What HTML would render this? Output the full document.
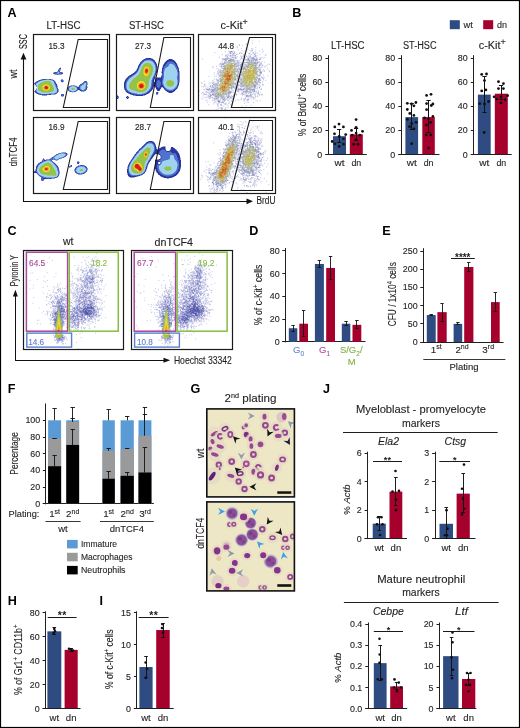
<!DOCTYPE html><html><head><meta charset="utf-8"><style>html,body{margin:0;padding:0;background:#fff;}svg{display:block;will-change:transform;}</style></head><body><svg width="520" height="728" viewBox="0 0 520 728" font-family='"Liberation Sans", sans-serif' fill="#231f20"><defs><clipPath id="a00"><rect x="33.5" y="34.5" width="76.0" height="76.0"/></clipPath><filter id="bl35" x="-10%" y="-10%" width="120%" height="120%"><feGaussianBlur stdDeviation="0.35"/></filter><clipPath id="a01"><rect x="33.5" y="117.5" width="76.0" height="76.0"/></clipPath><clipPath id="a10"><rect x="116.5" y="34.5" width="77.0" height="76.0"/></clipPath><clipPath id="a11"><rect x="116.5" y="117.5" width="77.0" height="76.0"/></clipPath><clipPath id="a20"><rect x="198.5" y="34.5" width="77.0" height="76.0"/></clipPath><clipPath id="a21"><rect x="198.5" y="117.5" width="77.0" height="76.0"/></clipPath><clipPath id="c0"><rect x="23.8" y="250.3" width="99.4" height="99.1"/></clipPath><clipPath id="c1"><rect x="131.6" y="250.3" width="100.6" height="99.0"/></clipPath><filter id="gblur" x="-20%" y="-20%" width="140%" height="140%"><feGaussianBlur stdDeviation="0.45"/></filter><filter id="gblur2" x="-30%" y="-30%" width="160%" height="160%"><feGaussianBlur stdDeviation="1.0"/></filter><clipPath id="g0"><rect x="206.8" y="408.9" width="87.6" height="88.0"/></clipPath><clipPath id="g1"><rect x="206.8" y="501.9" width="87.6" height="89.0"/></clipPath></defs><rect x="0" y="0" width="520" height="728" fill="#fff"/><text x="7.6" y="16.8" font-size="12.6" fill="#000" font-weight="bold">A</text><text x="63.5" y="29.3" font-size="10" stroke="#231f20" stroke-width="0.12" text-anchor="middle" textLength="34" lengthAdjust="spacingAndGlyphs">LT-HSC</text><text x="146.5" y="29.3" font-size="10" stroke="#231f20" stroke-width="0.12" text-anchor="middle" textLength="35" lengthAdjust="spacingAndGlyphs">ST-HSC</text><text x="220.6" y="28.9" font-size="10.4" stroke="#231f20" stroke-width="0.12" textLength="27.2" lengthAdjust="spacingAndGlyphs">c-Kit<tspan font-size="8.5" dy="-3.6">+</tspan></text><line x1="23.5" y1="58" x2="23.5" y2="201.8" stroke="#111" stroke-width="1.1"/><line x1="23" y1="201.5" x2="249" y2="201.5" stroke="#111" stroke-width="1.1"/><path d="M23.5 52.8 L20.6 59.5 L26.4 59.5 Z" fill="#111"/><path d="M253 201.3 L246.5 198.4 L246.5 204.2 Z" fill="#111"/><text x="27" y="34" font-size="10.5" stroke="#111" stroke-width="0.12" text-anchor="end" fill="#111" textLength="15" lengthAdjust="spacingAndGlyphs" transform="rotate(-90 27 34)">SSC</text><text x="17.3" y="78.5" font-size="10" stroke="#231f20" stroke-width="0.12" textLength="9" lengthAdjust="spacingAndGlyphs" transform="rotate(-90 17.3 78.5)">wt</text><text x="17.3" y="166.2" font-size="10" stroke="#231f20" stroke-width="0.12" textLength="28.6" lengthAdjust="spacingAndGlyphs" transform="rotate(-90 17.3 166.2)">dnTCF4</text><text x="256.5" y="204.2" font-size="10" stroke="#231f20" stroke-width="0.12" textLength="19" lengthAdjust="spacingAndGlyphs">BrdU</text><g clip-path="url(#a00)"><g filter="url(#bl35)"><path d="M60.00 67.50h0.50v0.5h-0.50zM59.50 68.00h1.50v0.5h-1.50zM59.00 68.50h2.00v0.5h-2.00zM58.50 69.00h2.00v0.5h-2.00zM58.50 69.50h2.00v0.5h-2.00zM58.00 70.00h2.50v0.5h-2.50zM58.00 70.50h2.00v0.5h-2.00zM58.00 71.00h2.00v0.5h-2.00zM57.00 71.50h3.00v0.5h-3.00zM54.50 72.00h7.00v0.5h-7.00zM53.50 72.50h9.50v0.5h-9.50zM53.00 73.00h10.00v0.5h-10.00zM53.50 73.50h9.50v0.5h-9.50zM54.50 74.00h7.50v0.5h-7.50zM57.50 74.50h0.50v0.5h-0.50zM42.50 79.00h8.50v0.5h-8.50zM40.50 79.50h12.50v0.5h-12.50zM61.00 79.50h2.00v0.5h-2.00zM39.00 80.00h15.00v0.5h-15.00zM61.00 80.00h2.50v0.5h-2.50zM38.00 80.50h16.50v0.5h-16.50zM60.50 80.50h3.00v0.5h-3.00zM37.00 81.00h18.00v0.5h-18.00zM61.00 81.00h2.50v0.5h-2.50zM84.50 81.00h2.00v0.5h-2.00zM36.00 81.50h19.50v0.5h-19.50zM61.00 81.50h2.50v0.5h-2.50zM84.00 81.50h3.00v0.5h-3.00zM35.50 82.00h20.00v0.5h-20.00zM62.00 82.00h0.50v0.5h-0.50zM83.50 82.00h3.50v0.5h-3.50zM35.00 82.50h21.00v0.5h-21.00zM83.00 82.50h4.50v0.5h-4.50zM34.50 83.00h21.50v0.5h-21.50zM82.50 83.00h5.00v0.5h-5.00zM34.00 83.50h22.50v0.5h-22.50zM81.50 83.50h6.00v0.5h-6.00zM34.50 84.00h22.50v0.5h-22.50zM80.50 84.00h7.00v0.5h-7.00zM35.00 84.50h22.00v0.5h-22.00zM80.00 84.50h7.50v0.5h-7.50zM35.50 85.00h21.50v0.5h-21.50zM79.50 85.00h7.50v0.5h-7.50zM36.00 85.50h21.50v0.5h-21.50zM70.50 85.50h5.00v0.5h-5.00zM79.00 85.50h8.00v0.5h-8.00zM36.50 86.00h21.00v0.5h-21.00zM69.50 86.00h7.00v0.5h-7.00zM79.00 86.00h8.00v0.5h-8.00zM36.50 86.50h21.00v0.5h-21.00zM68.50 86.50h9.00v0.5h-9.00zM78.50 86.50h9.00v0.5h-9.00zM37.00 87.00h20.50v0.5h-20.50zM68.50 87.00h19.00v0.5h-19.00zM37.00 87.50h20.50v0.5h-20.50zM68.00 87.50h19.50v0.5h-19.50zM37.00 88.00h21.00v0.5h-21.00zM68.00 88.00h19.00v0.5h-19.00zM36.50 88.50h21.50v0.5h-21.50zM67.50 88.50h19.50v0.5h-19.50zM36.50 89.00h22.00v0.5h-22.00zM68.00 89.00h19.00v0.5h-19.00zM36.00 89.50h22.50v0.5h-22.50zM68.00 89.50h18.50v0.5h-18.50zM35.50 90.00h23.00v0.5h-23.00zM68.00 90.00h10.00v0.5h-10.00zM79.50 90.00h6.50v0.5h-6.50zM35.00 90.50h23.50v0.5h-23.50zM68.50 90.50h8.50v0.5h-8.50zM80.00 90.50h5.50v0.5h-5.50zM34.50 91.00h24.00v0.5h-24.00zM69.00 91.00h7.50v0.5h-7.50zM81.00 91.00h3.50v0.5h-3.50zM34.50 91.50h24.00v0.5h-24.00zM70.00 91.50h5.50v0.5h-5.50zM35.00 92.00h23.00v0.5h-23.00zM72.50 92.00h1.00v0.5h-1.00zM35.50 92.50h22.00v0.5h-22.00zM36.00 93.00h21.00v0.5h-21.00zM37.00 93.50h19.50v0.5h-19.50zM38.00 94.00h17.50v0.5h-17.50zM61.50 94.00h2.00v0.5h-2.00zM39.50 94.50h11.50v0.5h-11.50zM61.00 94.50h3.00v0.5h-3.00zM42.00 95.00h5.00v0.5h-5.00zM61.00 95.00h3.00v0.5h-3.00zM61.00 95.50h3.00v0.5h-3.00zM61.50 96.00h2.00v0.5h-2.00z" fill="#2a34a0"/><path d="M59.50 68.50h0.50v0.5h-0.50zM59.00 69.00h1.00v0.5h-1.00zM59.00 69.50h1.00v0.5h-1.00zM58.50 70.00h1.50v0.5h-1.50zM58.50 70.50h1.50v0.5h-1.50zM58.00 71.00h1.50v0.5h-1.50zM58.00 71.50h1.50v0.5h-1.50zM57.00 72.00h3.00v0.5h-3.00zM55.50 72.50h5.50v0.5h-5.50zM54.50 73.00h7.00v0.5h-7.00zM55.00 73.50h6.50v0.5h-6.50zM57.00 74.00h2.50v0.5h-2.50zM43.50 79.50h8.00v0.5h-8.00zM41.00 80.00h12.00v0.5h-12.00zM61.50 80.00h1.50v0.5h-1.50zM39.50 80.50h14.00v0.5h-14.00zM61.50 80.50h1.50v0.5h-1.50zM38.50 81.00h15.50v0.5h-15.50zM61.50 81.00h1.50v0.5h-1.50zM37.50 81.50h17.00v0.5h-17.00zM85.00 81.50h1.00v0.5h-1.00zM37.00 82.00h17.50v0.5h-17.50zM84.00 82.00h2.50v0.5h-2.50zM36.00 82.50h19.00v0.5h-19.00zM84.00 82.50h3.00v0.5h-3.00zM35.50 83.00h19.50v0.5h-19.50zM83.50 83.00h3.50v0.5h-3.50zM35.50 83.50h20.00v0.5h-20.00zM83.00 83.50h4.00v0.5h-4.00zM35.50 84.00h20.00v0.5h-20.00zM82.00 84.00h5.00v0.5h-5.00zM35.50 84.50h20.50v0.5h-20.50zM81.00 84.50h6.00v0.5h-6.00zM36.00 85.00h20.00v0.5h-20.00zM80.50 85.00h6.00v0.5h-6.00zM36.50 85.50h20.00v0.5h-20.00zM80.00 85.50h6.50v0.5h-6.50zM36.50 86.00h20.00v0.5h-20.00zM70.50 86.00h5.00v0.5h-5.00zM79.50 86.00h7.00v0.5h-7.00zM37.00 86.50h19.50v0.5h-19.50zM69.50 86.50h6.50v0.5h-6.50zM79.50 86.50h7.00v0.5h-7.00zM37.00 87.00h19.50v0.5h-19.50zM69.00 87.00h8.00v0.5h-8.00zM79.50 87.00h7.00v0.5h-7.00zM37.00 87.50h20.00v0.5h-20.00zM68.50 87.50h9.00v0.5h-9.00zM79.50 87.50h7.00v0.5h-7.00zM37.00 88.00h20.00v0.5h-20.00zM68.50 88.00h9.00v0.5h-9.00zM79.50 88.00h7.00v0.5h-7.00zM37.00 88.50h20.50v0.5h-20.50zM68.50 88.50h9.00v0.5h-9.00zM79.50 88.50h6.50v0.5h-6.50zM36.50 89.00h21.00v0.5h-21.00zM68.50 89.00h9.00v0.5h-9.00zM80.00 89.00h6.00v0.5h-6.00zM36.50 89.50h21.00v0.5h-21.00zM68.50 89.50h9.00v0.5h-9.00zM80.00 89.50h5.50v0.5h-5.50zM36.00 90.00h21.50v0.5h-21.50zM69.00 90.00h8.00v0.5h-8.00zM81.00 90.00h4.00v0.5h-4.00zM35.50 90.50h22.00v0.5h-22.00zM69.50 90.50h7.00v0.5h-7.00zM82.00 90.50h2.00v0.5h-2.00zM35.50 91.00h22.00v0.5h-22.00zM70.50 91.00h5.00v0.5h-5.00zM36.00 91.50h21.50v0.5h-21.50zM72.00 91.50h2.00v0.5h-2.00zM36.50 92.00h20.50v0.5h-20.50zM37.00 92.50h20.00v0.5h-20.00zM38.00 93.00h18.00v0.5h-18.00zM39.00 93.50h16.00v0.5h-16.00zM40.50 94.00h9.00v0.5h-9.00zM62.00 94.50h1.00v0.5h-1.00zM61.50 95.00h2.00v0.5h-2.00zM62.00 95.50h1.00v0.5h-1.00z" fill="#4f73cc"/><path d="M58.00 72.00h1.00v0.5h-1.00zM57.50 72.50h1.50v0.5h-1.50zM57.50 73.00h1.50v0.5h-1.50zM46.50 79.50h2.50v0.5h-2.50zM43.50 80.00h8.00v0.5h-8.00zM41.50 80.50h11.00v0.5h-11.00zM40.00 81.00h13.50v0.5h-13.50zM39.00 81.50h14.50v0.5h-14.50zM38.00 82.00h16.00v0.5h-16.00zM37.50 82.50h16.50v0.5h-16.50zM36.50 83.00h17.50v0.5h-17.50zM84.50 83.00h1.50v0.5h-1.50zM36.50 83.50h18.00v0.5h-18.00zM84.00 83.50h2.00v0.5h-2.00zM36.00 84.00h18.50v0.5h-18.50zM83.50 84.00h2.50v0.5h-2.50zM36.00 84.50h19.00v0.5h-19.00zM83.50 84.50h2.50v0.5h-2.50zM36.50 85.00h18.50v0.5h-18.50zM82.00 85.00h4.00v0.5h-4.00zM36.50 85.50h19.00v0.5h-19.00zM81.50 85.50h4.00v0.5h-4.00zM37.00 86.00h18.50v0.5h-18.50zM72.00 86.00h1.50v0.5h-1.50zM81.00 86.00h4.50v0.5h-4.50zM37.00 86.50h18.50v0.5h-18.50zM70.50 86.50h5.00v0.5h-5.00zM80.50 86.50h5.00v0.5h-5.00zM37.00 87.00h19.00v0.5h-19.00zM70.00 87.00h6.00v0.5h-6.00zM80.50 87.00h5.00v0.5h-5.00zM37.00 87.50h19.00v0.5h-19.00zM69.50 87.50h7.00v0.5h-7.00zM80.50 87.50h5.00v0.5h-5.00zM37.00 88.00h19.50v0.5h-19.50zM69.00 88.00h8.00v0.5h-8.00zM80.50 88.00h5.00v0.5h-5.00zM37.00 88.50h19.50v0.5h-19.50zM69.00 88.50h8.00v0.5h-8.00zM80.50 88.50h4.50v0.5h-4.50zM37.00 89.00h19.50v0.5h-19.50zM69.00 89.00h8.00v0.5h-8.00zM81.00 89.00h3.50v0.5h-3.50zM36.50 89.50h20.50v0.5h-20.50zM69.50 89.50h7.00v0.5h-7.00zM82.00 89.50h2.00v0.5h-2.00zM36.50 90.00h20.50v0.5h-20.50zM69.50 90.00h6.50v0.5h-6.50zM36.50 90.50h20.50v0.5h-20.50zM70.50 90.50h5.00v0.5h-5.00zM36.50 91.00h20.50v0.5h-20.50zM71.50 91.00h2.50v0.5h-2.50zM37.00 91.50h19.50v0.5h-19.50zM37.50 92.00h19.00v0.5h-19.00zM38.50 92.50h17.00v0.5h-17.00zM39.50 93.00h15.00v0.5h-15.00zM41.00 93.50h8.00v0.5h-8.00z" fill="#9fd2f0"/><path d="M45.00 81.00h4.50v0.5h-4.50zM43.50 81.50h7.00v0.5h-7.00zM42.50 82.00h8.50v0.5h-8.50zM41.00 82.50h10.50v0.5h-10.50zM40.00 83.00h11.50v0.5h-11.50zM39.50 83.50h12.00v0.5h-12.00zM39.00 84.00h13.00v0.5h-13.00zM38.50 84.50h14.00v0.5h-14.00zM38.00 85.00h14.50v0.5h-14.50zM38.00 85.50h15.00v0.5h-15.00zM38.00 86.00h15.00v0.5h-15.00zM38.00 86.50h15.00v0.5h-15.00zM38.00 87.00h15.50v0.5h-15.50zM38.00 87.50h15.50v0.5h-15.50zM72.50 87.50h0.50v0.5h-0.50zM38.00 88.00h16.00v0.5h-16.00zM71.50 88.00h3.00v0.5h-3.00zM38.00 88.50h16.00v0.5h-16.00zM71.50 88.50h3.00v0.5h-3.00zM38.00 89.00h16.00v0.5h-16.00zM71.50 89.00h3.00v0.5h-3.00zM38.00 89.50h16.00v0.5h-16.00zM72.00 89.50h1.50v0.5h-1.50zM38.50 90.00h15.50v0.5h-15.50zM39.00 90.50h14.50v0.5h-14.50zM40.00 91.00h13.00v0.5h-13.00zM41.00 91.50h11.50v0.5h-11.50zM42.00 92.00h8.00v0.5h-8.00z" fill="#95c34a"/><path d="M44.50 84.50h3.50v0.5h-3.50zM43.50 85.00h5.00v0.5h-5.00zM43.00 85.50h6.00v0.5h-6.00zM42.50 86.00h7.00v0.5h-7.00zM42.50 86.50h7.50v0.5h-7.50zM42.50 87.00h7.50v0.5h-7.50zM42.50 87.50h7.50v0.5h-7.50zM42.50 88.00h7.50v0.5h-7.50zM42.50 88.50h7.50v0.5h-7.50zM43.00 89.00h6.50v0.5h-6.50zM43.50 89.50h5.50v0.5h-5.50zM44.50 90.00h3.50v0.5h-3.50z" fill="#efdf2a"/><path d="M44.50 85.50h3.50v0.5h-3.50zM44.00 86.00h4.50v0.5h-4.50zM44.00 86.50h4.50v0.5h-4.50zM43.50 87.00h5.50v0.5h-5.50zM43.50 87.50h5.50v0.5h-5.50zM43.50 88.00h5.50v0.5h-5.50zM44.00 88.50h4.50v0.5h-4.50zM44.50 89.00h3.50v0.5h-3.50zM45.50 89.50h1.50v0.5h-1.50z" fill="#f39a1e"/><path d="M45.50 86.00h1.50v0.5h-1.50zM45.00 86.50h2.50v0.5h-2.50zM44.50 87.00h3.50v0.5h-3.50zM44.50 87.50h3.50v0.5h-3.50zM44.50 88.00h3.50v0.5h-3.50zM45.00 88.50h2.50v0.5h-2.50z" fill="#dc1a1a"/></g></g><g clip-path="url(#a01)"><g filter="url(#bl35)"><path d="M61.50 152.50h4.50v0.5h-4.50zM59.50 153.00h7.50v0.5h-7.50zM58.00 153.50h9.50v0.5h-9.50zM56.50 154.00h11.00v0.5h-11.00zM56.00 154.50h11.50v0.5h-11.50zM55.00 155.00h12.00v0.5h-12.00zM54.50 155.50h12.00v0.5h-12.00zM54.00 156.00h12.00v0.5h-12.00zM53.00 156.50h12.50v0.5h-12.50zM52.00 157.00h12.50v0.5h-12.50zM51.50 157.50h12.00v0.5h-12.00zM51.00 158.00h11.00v0.5h-11.00zM43.00 158.50h1.00v0.5h-1.00zM50.00 158.50h10.00v0.5h-10.00zM43.00 159.00h1.50v0.5h-1.50zM49.50 159.00h9.50v0.5h-9.50zM42.50 159.50h2.00v0.5h-2.00zM46.00 159.50h7.00v0.5h-7.00zM54.50 159.50h3.50v0.5h-3.50zM42.50 160.00h9.50v0.5h-9.50zM55.50 160.00h2.00v0.5h-2.00zM42.00 160.50h10.00v0.5h-10.00zM42.00 161.00h10.50v0.5h-10.50zM41.00 161.50h12.00v0.5h-12.00zM77.00 161.50h2.00v0.5h-2.00zM40.00 162.00h13.50v0.5h-13.50zM77.00 162.00h2.50v0.5h-2.50zM39.50 162.50h15.00v0.5h-15.00zM77.00 162.50h2.50v0.5h-2.50zM38.50 163.00h16.50v0.5h-16.50zM77.00 163.00h2.00v0.5h-2.00zM38.00 163.50h17.50v0.5h-17.50zM77.50 163.50h1.50v0.5h-1.50zM37.50 164.00h18.50v0.5h-18.50zM37.50 164.50h19.00v0.5h-19.00zM37.00 165.00h20.00v0.5h-20.00zM71.00 165.00h1.00v0.5h-1.00zM80.00 165.00h3.50v0.5h-3.50zM36.50 165.50h21.00v0.5h-21.00zM70.00 165.50h2.00v0.5h-2.00zM78.00 165.50h7.00v0.5h-7.00zM36.50 166.00h21.50v0.5h-21.50zM69.50 166.00h2.50v0.5h-2.50zM77.50 166.00h8.50v0.5h-8.50zM36.00 166.50h22.00v0.5h-22.00zM69.00 166.50h2.50v0.5h-2.50zM76.50 166.50h10.00v0.5h-10.00zM36.00 167.00h22.50v0.5h-22.50zM69.00 167.00h1.50v0.5h-1.50zM76.00 167.00h11.00v0.5h-11.00zM36.00 167.50h22.50v0.5h-22.50zM75.50 167.50h11.50v0.5h-11.50zM36.00 168.00h22.50v0.5h-22.50zM75.00 168.00h12.50v0.5h-12.50zM36.00 168.50h23.00v0.5h-23.00zM75.00 168.50h12.50v0.5h-12.50zM35.50 169.00h23.50v0.5h-23.50zM74.50 169.00h13.00v0.5h-13.00zM35.50 169.50h23.50v0.5h-23.50zM74.50 169.50h13.00v0.5h-13.00zM35.50 170.00h23.50v0.5h-23.50zM74.50 170.00h13.00v0.5h-13.00zM35.50 170.50h24.00v0.5h-24.00zM74.50 170.50h12.50v0.5h-12.50zM33.50 171.00h26.00v0.5h-26.00zM74.50 171.00h12.50v0.5h-12.50zM33.50 171.50h26.00v0.5h-26.00zM75.00 171.50h11.50v0.5h-11.50zM33.50 172.00h26.00v0.5h-26.00zM75.00 172.00h11.00v0.5h-11.00zM33.50 172.50h26.00v0.5h-26.00zM75.50 172.50h10.00v0.5h-10.00zM36.50 173.00h23.00v0.5h-23.00zM76.00 173.00h9.00v0.5h-9.00zM37.00 173.50h22.50v0.5h-22.50zM77.00 173.50h7.00v0.5h-7.00zM37.50 174.00h22.00v0.5h-22.00zM78.00 174.00h4.50v0.5h-4.50zM38.00 174.50h21.00v0.5h-21.00zM38.50 175.00h20.50v0.5h-20.50zM39.00 175.50h19.50v0.5h-19.50zM39.50 176.00h19.00v0.5h-19.00zM40.50 176.50h17.50v0.5h-17.50zM41.00 177.00h16.50v0.5h-16.50zM41.50 177.50h15.00v0.5h-15.00zM41.50 178.00h13.50v0.5h-13.50zM41.00 178.50h10.50v0.5h-10.50zM41.00 179.00h3.50v0.5h-3.50zM41.00 179.50h3.00v0.5h-3.00zM41.00 180.00h3.00v0.5h-3.00zM42.00 180.50h1.00v0.5h-1.00z" fill="#2a34a0"/><path d="M60.50 153.00h5.00v0.5h-5.00zM59.00 153.50h7.50v0.5h-7.50zM57.50 154.00h9.00v0.5h-9.00zM56.50 154.50h10.00v0.5h-10.00zM55.50 155.00h11.00v0.5h-11.00zM55.00 155.50h11.00v0.5h-11.00zM54.50 156.00h11.00v0.5h-11.00zM54.00 156.50h10.50v0.5h-10.50zM53.00 157.00h10.50v0.5h-10.50zM52.00 157.50h10.50v0.5h-10.50zM51.50 158.00h9.50v0.5h-9.50zM51.00 158.50h8.00v0.5h-8.00zM50.50 159.00h2.50v0.5h-2.50zM54.50 159.00h4.00v0.5h-4.00zM43.00 159.50h1.00v0.5h-1.00zM49.50 159.50h2.50v0.5h-2.50zM55.50 159.50h2.00v0.5h-2.00zM43.00 160.00h1.00v0.5h-1.00zM46.00 160.00h5.50v0.5h-5.50zM43.00 160.50h1.00v0.5h-1.00zM45.00 160.50h6.50v0.5h-6.50zM42.50 161.00h9.50v0.5h-9.50zM42.00 161.50h10.50v0.5h-10.50zM41.50 162.00h11.50v0.5h-11.50zM77.50 162.00h1.00v0.5h-1.00zM40.50 162.50h13.00v0.5h-13.00zM77.50 162.50h1.00v0.5h-1.00zM40.00 163.00h14.00v0.5h-14.00zM39.00 163.50h15.50v0.5h-15.50zM38.50 164.00h16.50v0.5h-16.50zM38.00 164.50h17.50v0.5h-17.50zM38.00 165.00h18.00v0.5h-18.00zM37.50 165.50h19.00v0.5h-19.00zM71.00 165.50h0.50v0.5h-0.50zM80.00 165.50h3.00v0.5h-3.00zM37.50 166.00h19.50v0.5h-19.50zM70.00 166.00h1.00v0.5h-1.00zM78.50 166.00h6.00v0.5h-6.00zM37.00 166.50h20.00v0.5h-20.00zM70.00 166.50h0.50v0.5h-0.50zM77.50 166.50h8.00v0.5h-8.00zM37.00 167.00h20.50v0.5h-20.50zM77.00 167.00h9.00v0.5h-9.00zM36.50 167.50h21.00v0.5h-21.00zM76.50 167.50h10.00v0.5h-10.00zM36.50 168.00h21.50v0.5h-21.50zM76.00 168.00h10.50v0.5h-10.50zM36.50 168.50h21.50v0.5h-21.50zM75.50 168.50h11.50v0.5h-11.50zM36.50 169.00h21.50v0.5h-21.50zM75.50 169.00h11.50v0.5h-11.50zM36.50 169.50h22.00v0.5h-22.00zM75.50 169.50h11.50v0.5h-11.50zM36.50 170.00h22.00v0.5h-22.00zM75.00 170.00h12.00v0.5h-12.00zM36.50 170.50h22.00v0.5h-22.00zM75.00 170.50h11.50v0.5h-11.50zM36.00 171.00h22.50v0.5h-22.50zM75.50 171.00h10.50v0.5h-10.50zM33.50 171.50h1.50v0.5h-1.50zM36.00 171.50h23.00v0.5h-23.00zM75.50 171.50h10.50v0.5h-10.50zM33.50 172.00h1.00v0.5h-1.00zM36.50 172.00h22.50v0.5h-22.50zM76.00 172.00h9.50v0.5h-9.50zM37.00 172.50h22.00v0.5h-22.00zM76.50 172.50h8.00v0.5h-8.00zM37.00 173.00h22.00v0.5h-22.00zM77.00 173.00h6.50v0.5h-6.50zM37.50 173.50h21.50v0.5h-21.50zM78.50 173.50h4.00v0.5h-4.00zM38.00 174.00h20.50v0.5h-20.50zM38.50 174.50h20.00v0.5h-20.00zM39.00 175.00h19.50v0.5h-19.50zM40.00 175.50h18.00v0.5h-18.00zM41.00 176.00h16.50v0.5h-16.50zM41.50 176.50h15.50v0.5h-15.50zM42.50 177.00h14.00v0.5h-14.00zM43.00 177.50h12.00v0.5h-12.00zM42.50 178.00h0.50v0.5h-0.50zM47.00 178.00h3.50v0.5h-3.50zM42.00 178.50h1.50v0.5h-1.50zM41.50 179.00h2.00v0.5h-2.00zM41.50 179.50h2.00v0.5h-2.00zM42.00 180.00h1.00v0.5h-1.00z" fill="#4f73cc"/><path d="M60.50 153.50h4.00v0.5h-4.00zM59.00 154.00h6.50v0.5h-6.50zM58.00 154.50h7.50v0.5h-7.50zM57.00 155.00h8.00v0.5h-8.00zM56.00 155.50h9.00v0.5h-9.00zM55.50 156.00h8.50v0.5h-8.50zM55.00 156.50h8.50v0.5h-8.50zM54.50 157.00h8.00v0.5h-8.00zM54.00 157.50h6.50v0.5h-6.50zM54.50 158.00h4.50v0.5h-4.50zM55.00 158.50h3.50v0.5h-3.50zM55.50 159.00h2.00v0.5h-2.00zM47.00 160.50h3.00v0.5h-3.00zM45.50 161.00h5.00v0.5h-5.00zM44.50 161.50h7.00v0.5h-7.00zM43.50 162.00h8.50v0.5h-8.50zM42.50 162.50h10.00v0.5h-10.00zM41.50 163.00h11.50v0.5h-11.50zM41.00 163.50h12.50v0.5h-12.50zM40.00 164.00h14.00v0.5h-14.00zM39.50 164.50h15.00v0.5h-15.00zM39.00 165.00h16.00v0.5h-16.00zM38.50 165.50h17.00v0.5h-17.00zM38.50 166.00h17.00v0.5h-17.00zM38.00 166.50h18.00v0.5h-18.00zM79.50 166.50h4.00v0.5h-4.00zM38.00 167.00h18.50v0.5h-18.50zM78.50 167.00h6.00v0.5h-6.00zM37.50 167.50h19.00v0.5h-19.00zM77.50 167.50h7.50v0.5h-7.50zM37.50 168.00h19.50v0.5h-19.50zM77.00 168.00h8.50v0.5h-8.50zM37.50 168.50h19.50v0.5h-19.50zM76.50 168.50h9.50v0.5h-9.50zM37.00 169.00h20.00v0.5h-20.00zM76.50 169.00h9.50v0.5h-9.50zM37.00 169.50h20.50v0.5h-20.50zM76.50 169.50h9.50v0.5h-9.50zM37.00 170.00h20.50v0.5h-20.50zM76.00 170.00h10.00v0.5h-10.00zM37.00 170.50h20.50v0.5h-20.50zM76.00 170.50h9.50v0.5h-9.50zM37.00 171.00h21.00v0.5h-21.00zM76.50 171.00h8.50v0.5h-8.50zM37.50 171.50h20.50v0.5h-20.50zM76.50 171.50h8.00v0.5h-8.00zM37.50 172.00h20.50v0.5h-20.50zM77.00 172.00h7.00v0.5h-7.00zM38.00 172.50h20.00v0.5h-20.00zM78.00 172.50h5.00v0.5h-5.00zM38.00 173.00h20.00v0.5h-20.00zM80.00 173.00h1.00v0.5h-1.00zM38.50 173.50h19.50v0.5h-19.50zM39.00 174.00h19.00v0.5h-19.00zM39.50 174.50h18.50v0.5h-18.50zM40.50 175.00h17.00v0.5h-17.00zM41.50 175.50h16.00v0.5h-16.00zM42.50 176.00h14.50v0.5h-14.50zM44.00 176.50h12.50v0.5h-12.50zM46.00 177.00h8.50v0.5h-8.50z" fill="#9fd2f0"/><path d="M46.50 162.50h2.50v0.5h-2.50zM45.50 163.00h4.50v0.5h-4.50zM44.50 163.50h6.50v0.5h-6.50zM44.00 164.00h7.50v0.5h-7.50zM43.00 164.50h8.50v0.5h-8.50zM42.50 165.00h9.50v0.5h-9.50zM41.50 165.50h11.00v0.5h-11.00zM41.00 166.00h11.50v0.5h-11.50zM40.50 166.50h12.50v0.5h-12.50zM40.00 167.00h13.50v0.5h-13.50zM40.00 167.50h13.50v0.5h-13.50zM39.50 168.00h14.50v0.5h-14.50zM39.50 168.50h14.50v0.5h-14.50zM39.00 169.00h15.50v0.5h-15.50zM81.00 169.00h1.50v0.5h-1.50zM39.00 169.50h15.50v0.5h-15.50zM80.00 169.50h3.00v0.5h-3.00zM39.00 170.00h16.00v0.5h-16.00zM79.50 170.00h3.50v0.5h-3.50zM39.00 170.50h16.50v0.5h-16.50zM80.00 170.50h2.50v0.5h-2.50zM39.50 171.00h16.00v0.5h-16.00zM39.50 171.50h16.00v0.5h-16.00zM40.00 172.00h16.00v0.5h-16.00zM40.00 172.50h16.00v0.5h-16.00zM40.50 173.00h15.50v0.5h-15.50zM41.50 173.50h14.50v0.5h-14.50zM42.50 174.00h13.50v0.5h-13.50zM44.50 174.50h12.00v0.5h-12.00zM47.00 175.00h9.00v0.5h-9.00zM54.50 175.50h1.00v0.5h-1.00z" fill="#95c34a"/><path d="M45.50 166.00h3.00v0.5h-3.00zM44.50 166.50h4.50v0.5h-4.50zM44.00 167.00h5.50v0.5h-5.50zM43.50 167.50h6.00v0.5h-6.00zM43.00 168.00h7.00v0.5h-7.00zM42.50 168.50h7.50v0.5h-7.50zM42.50 169.00h7.50v0.5h-7.50zM42.50 169.50h7.50v0.5h-7.50zM43.00 170.00h6.50v0.5h-6.50zM43.00 170.50h6.50v0.5h-6.50zM43.50 171.00h5.50v0.5h-5.50zM44.50 171.50h3.50v0.5h-3.50z" fill="#efdf2a"/><path d="M45.00 167.00h3.00v0.5h-3.00zM44.50 167.50h4.00v0.5h-4.00zM44.00 168.00h4.50v0.5h-4.50zM44.00 168.50h5.00v0.5h-5.00zM44.00 169.00h5.00v0.5h-5.00zM44.00 169.50h4.50v0.5h-4.50zM44.00 170.00h4.50v0.5h-4.50zM45.00 170.50h3.00v0.5h-3.00z" fill="#f39a1e"/><path d="M45.50 168.00h2.00v0.5h-2.00zM45.00 168.50h2.50v0.5h-2.50zM45.00 169.00h2.50v0.5h-2.50zM45.50 169.50h2.00v0.5h-2.00z" fill="#dc1a1a"/></g></g><g clip-path="url(#a10)"><g filter="url(#bl35)"><path d="M146.00 58.00h5.00v0.5h-5.00zM145.00 58.50h7.50v0.5h-7.50zM144.00 59.00h9.00v0.5h-9.00zM169.00 59.00h3.00v0.5h-3.00zM143.00 59.50h11.00v0.5h-11.00zM168.00 59.50h5.00v0.5h-5.00zM142.50 60.00h12.00v0.5h-12.00zM167.00 60.00h7.00v0.5h-7.00zM142.00 60.50h13.00v0.5h-13.00zM166.50 60.50h8.00v0.5h-8.00zM141.50 61.00h13.50v0.5h-13.50zM166.00 61.00h9.00v0.5h-9.00zM141.00 61.50h14.50v0.5h-14.50zM165.50 61.50h10.00v0.5h-10.00zM140.50 62.00h15.50v0.5h-15.50zM165.00 62.00h11.00v0.5h-11.00zM140.00 62.50h16.00v0.5h-16.00zM164.50 62.50h11.50v0.5h-11.50zM140.00 63.00h16.50v0.5h-16.50zM164.50 63.00h12.00v0.5h-12.00zM139.50 63.50h17.00v0.5h-17.00zM164.00 63.50h13.00v0.5h-13.00zM139.00 64.00h18.00v0.5h-18.00zM163.50 64.00h13.50v0.5h-13.50zM139.00 64.50h18.00v0.5h-18.00zM163.50 64.50h14.00v0.5h-14.00zM138.50 65.00h18.50v0.5h-18.50zM163.00 65.00h14.50v0.5h-14.50zM138.50 65.50h18.50v0.5h-18.50zM163.00 65.50h14.50v0.5h-14.50zM138.00 66.00h19.50v0.5h-19.50zM163.00 66.00h15.00v0.5h-15.00zM138.00 66.50h19.50v0.5h-19.50zM162.50 66.50h15.50v0.5h-15.50zM138.00 67.00h19.50v0.5h-19.50zM162.50 67.00h16.00v0.5h-16.00zM137.50 67.50h20.00v0.5h-20.00zM162.50 67.50h16.00v0.5h-16.00zM137.50 68.00h20.00v0.5h-20.00zM162.00 68.00h16.50v0.5h-16.50zM137.00 68.50h20.50v0.5h-20.50zM162.00 68.50h17.00v0.5h-17.00zM137.00 69.00h20.50v0.5h-20.50zM162.00 69.00h17.00v0.5h-17.00zM136.50 69.50h21.00v0.5h-21.00zM162.00 69.50h17.00v0.5h-17.00zM136.50 70.00h21.00v0.5h-21.00zM162.00 70.00h17.00v0.5h-17.00zM136.00 70.50h21.50v0.5h-21.50zM162.00 70.50h17.00v0.5h-17.00zM135.50 71.00h22.00v0.5h-22.00zM162.00 71.00h17.50v0.5h-17.50zM135.00 71.50h22.00v0.5h-22.00zM161.50 71.50h18.00v0.5h-18.00zM134.50 72.00h22.50v0.5h-22.50zM161.50 72.00h18.00v0.5h-18.00zM134.00 72.50h23.00v0.5h-23.00zM161.50 72.50h18.00v0.5h-18.00zM133.00 73.00h23.50v0.5h-23.50zM161.50 73.00h18.00v0.5h-18.00zM132.50 73.50h23.50v0.5h-23.50zM162.00 73.50h17.50v0.5h-17.50zM131.50 74.00h24.50v0.5h-24.50zM162.00 74.00h17.50v0.5h-17.50zM131.00 74.50h25.00v0.5h-25.00zM162.00 74.50h17.50v0.5h-17.50zM130.00 75.00h25.50v0.5h-25.50zM161.50 75.00h18.00v0.5h-18.00zM129.00 75.50h26.50v0.5h-26.50zM161.50 75.50h18.00v0.5h-18.00zM128.50 76.00h27.00v0.5h-27.00zM161.50 76.00h18.00v0.5h-18.00zM128.00 76.50h27.50v0.5h-27.50zM161.00 76.50h18.50v0.5h-18.50zM127.50 77.00h28.00v0.5h-28.00zM161.00 77.00h18.50v0.5h-18.50zM127.00 77.50h28.50v0.5h-28.50zM156.50 77.50h23.00v0.5h-23.00zM126.50 78.00h28.50v0.5h-28.50zM156.00 78.00h23.50v0.5h-23.50zM126.00 78.50h29.00v0.5h-29.00zM155.50 78.50h24.00v0.5h-24.00zM125.50 79.00h29.00v0.5h-29.00zM155.50 79.00h24.00v0.5h-24.00zM125.50 79.50h29.00v0.5h-29.00zM155.50 79.50h24.00v0.5h-24.00zM125.00 80.00h29.50v0.5h-29.50zM155.50 80.00h24.00v0.5h-24.00zM125.00 80.50h29.00v0.5h-29.00zM155.00 80.50h24.50v0.5h-24.50zM124.50 81.00h29.50v0.5h-29.50zM155.00 81.00h24.50v0.5h-24.50zM124.50 81.50h29.50v0.5h-29.50zM155.00 81.50h24.50v0.5h-24.50zM124.50 82.00h55.00v0.5h-55.00zM124.00 82.50h55.00v0.5h-55.00zM124.00 83.00h55.00v0.5h-55.00zM124.00 83.50h55.00v0.5h-55.00zM124.00 84.00h55.00v0.5h-55.00zM124.00 84.50h55.00v0.5h-55.00zM124.00 85.00h54.50v0.5h-54.50zM124.00 85.50h30.00v0.5h-30.00zM154.50 85.50h24.00v0.5h-24.00zM124.00 86.00h30.00v0.5h-30.00zM155.00 86.00h23.50v0.5h-23.50zM124.00 86.50h29.50v0.5h-29.50zM155.00 86.50h23.00v0.5h-23.00zM124.00 87.00h29.50v0.5h-29.50zM155.50 87.00h6.00v0.5h-6.00zM162.50 87.00h15.50v0.5h-15.50zM124.00 87.50h29.50v0.5h-29.50zM155.50 87.50h6.00v0.5h-6.00zM163.00 87.50h14.50v0.5h-14.50zM124.00 88.00h29.00v0.5h-29.00zM156.00 88.00h5.00v0.5h-5.00zM163.50 88.00h14.00v0.5h-14.00zM124.50 88.50h28.50v0.5h-28.50zM156.00 88.50h5.00v0.5h-5.00zM164.00 88.50h13.00v0.5h-13.00zM124.50 89.00h28.00v0.5h-28.00zM156.50 89.00h4.00v0.5h-4.00zM164.50 89.00h12.00v0.5h-12.00zM124.50 89.50h28.00v0.5h-28.00zM156.50 89.50h3.50v0.5h-3.50zM164.50 89.50h11.50v0.5h-11.50zM125.00 90.00h27.00v0.5h-27.00zM157.00 90.00h3.00v0.5h-3.00zM165.00 90.00h10.50v0.5h-10.50zM125.50 90.50h26.00v0.5h-26.00zM157.50 90.50h2.00v0.5h-2.00zM166.00 90.50h9.00v0.5h-9.00zM125.50 91.00h25.50v0.5h-25.50zM166.50 91.00h8.00v0.5h-8.00zM126.00 91.50h24.50v0.5h-24.50zM167.00 91.50h7.00v0.5h-7.00zM126.50 92.00h23.50v0.5h-23.50zM156.50 92.00h1.50v0.5h-1.50zM168.00 92.00h5.00v0.5h-5.00zM127.00 92.50h22.50v0.5h-22.50zM156.00 92.50h2.50v0.5h-2.50zM169.00 92.50h3.00v0.5h-3.00zM128.00 93.00h21.00v0.5h-21.00zM156.00 93.00h2.50v0.5h-2.50zM129.00 93.50h19.00v0.5h-19.00zM156.00 93.50h2.00v0.5h-2.00zM130.00 94.00h17.00v0.5h-17.00zM156.00 94.00h2.00v0.5h-2.00zM131.50 94.50h14.50v0.5h-14.50zM133.00 95.00h12.00v0.5h-12.00zM117.00 95.50h1.00v0.5h-1.00zM135.50 95.50h7.50v0.5h-7.50zM116.50 96.00h2.00v0.5h-2.00zM127.00 96.00h1.00v0.5h-1.00zM116.50 96.50h2.00v0.5h-2.00zM126.50 96.50h2.00v0.5h-2.00zM116.50 97.00h2.50v0.5h-2.50zM126.00 97.00h3.00v0.5h-3.00zM116.50 97.50h2.00v0.5h-2.00zM126.00 97.50h3.00v0.5h-3.00zM116.50 98.00h2.00v0.5h-2.00zM126.50 98.00h2.00v0.5h-2.00zM117.00 98.50h1.00v0.5h-1.00zM127.00 98.50h1.00v0.5h-1.00z" fill="#2a34a0"/><path d="M146.00 59.50h5.00v0.5h-5.00zM144.50 60.00h7.50v0.5h-7.50zM144.00 60.50h9.00v0.5h-9.00zM143.00 61.00h10.50v0.5h-10.50zM142.50 61.50h11.50v0.5h-11.50zM168.50 61.50h4.00v0.5h-4.00zM142.00 62.00h12.50v0.5h-12.50zM167.50 62.00h6.00v0.5h-6.00zM141.50 62.50h13.00v0.5h-13.00zM167.00 62.50h7.00v0.5h-7.00zM141.00 63.00h14.00v0.5h-14.00zM167.00 63.00h7.50v0.5h-7.50zM141.00 63.50h14.00v0.5h-14.00zM166.50 63.50h8.50v0.5h-8.50zM140.50 64.00h15.00v0.5h-15.00zM166.00 64.00h9.50v0.5h-9.50zM140.50 64.50h15.00v0.5h-15.00zM165.50 64.50h10.00v0.5h-10.00zM140.00 65.00h16.00v0.5h-16.00zM165.50 65.00h10.50v0.5h-10.50zM139.50 65.50h16.50v0.5h-16.50zM165.00 65.50h11.00v0.5h-11.00zM139.50 66.00h16.50v0.5h-16.50zM164.50 66.00h12.00v0.5h-12.00zM139.00 66.50h17.00v0.5h-17.00zM164.00 66.50h12.50v0.5h-12.50zM139.00 67.00h17.00v0.5h-17.00zM164.00 67.00h13.00v0.5h-13.00zM139.00 67.50h17.50v0.5h-17.50zM163.50 67.50h13.50v0.5h-13.50zM138.50 68.00h18.00v0.5h-18.00zM163.50 68.00h14.00v0.5h-14.00zM138.50 68.50h18.00v0.5h-18.00zM163.50 68.50h14.00v0.5h-14.00zM138.00 69.00h18.50v0.5h-18.50zM163.50 69.00h14.00v0.5h-14.00zM138.00 69.50h18.50v0.5h-18.50zM163.00 69.50h15.00v0.5h-15.00zM137.50 70.00h18.50v0.5h-18.50zM163.00 70.00h15.00v0.5h-15.00zM137.50 70.50h18.50v0.5h-18.50zM163.00 70.50h15.00v0.5h-15.00zM137.00 71.00h19.00v0.5h-19.00zM163.00 71.00h15.00v0.5h-15.00zM136.50 71.50h19.50v0.5h-19.50zM163.00 71.50h15.50v0.5h-15.50zM136.50 72.00h19.50v0.5h-19.50zM163.00 72.00h15.50v0.5h-15.50zM136.00 72.50h19.50v0.5h-19.50zM163.00 72.50h15.50v0.5h-15.50zM135.50 73.00h20.00v0.5h-20.00zM162.50 73.00h16.00v0.5h-16.00zM134.50 73.50h21.00v0.5h-21.00zM162.50 73.50h16.00v0.5h-16.00zM134.00 74.00h21.00v0.5h-21.00zM162.50 74.00h16.00v0.5h-16.00zM133.50 74.50h21.50v0.5h-21.50zM162.50 74.50h16.00v0.5h-16.00zM132.50 75.00h22.50v0.5h-22.50zM162.50 75.00h16.00v0.5h-16.00zM132.00 75.50h22.50v0.5h-22.50zM162.50 75.50h16.00v0.5h-16.00zM131.00 76.00h23.50v0.5h-23.50zM162.50 76.00h16.00v0.5h-16.00zM130.50 76.50h23.50v0.5h-23.50zM162.50 76.50h16.00v0.5h-16.00zM129.50 77.00h24.50v0.5h-24.50zM162.50 77.00h16.00v0.5h-16.00zM129.00 77.50h24.50v0.5h-24.50zM162.50 77.50h16.00v0.5h-16.00zM128.50 78.00h25.00v0.5h-25.00zM162.50 78.00h16.00v0.5h-16.00zM128.00 78.50h25.00v0.5h-25.00zM162.50 78.50h16.00v0.5h-16.00zM127.50 79.00h25.50v0.5h-25.50zM162.50 79.00h16.00v0.5h-16.00zM127.50 79.50h25.50v0.5h-25.50zM162.50 79.50h16.00v0.5h-16.00zM127.00 80.00h25.50v0.5h-25.50zM158.00 80.00h1.00v0.5h-1.00zM162.00 80.00h16.50v0.5h-16.50zM126.50 80.50h26.00v0.5h-26.00zM157.50 80.50h2.50v0.5h-2.50zM162.00 80.50h16.50v0.5h-16.50zM126.50 81.00h26.00v0.5h-26.00zM157.00 81.00h3.00v0.5h-3.00zM162.00 81.00h16.50v0.5h-16.50zM126.00 81.50h26.50v0.5h-26.50zM157.00 81.50h3.50v0.5h-3.50zM162.00 81.50h16.50v0.5h-16.50zM126.00 82.00h26.50v0.5h-26.50zM157.00 82.00h4.00v0.5h-4.00zM162.00 82.00h16.50v0.5h-16.50zM126.00 82.50h26.50v0.5h-26.50zM156.50 82.50h4.50v0.5h-4.50zM162.00 82.50h16.00v0.5h-16.00zM125.50 83.00h27.00v0.5h-27.00zM156.50 83.00h4.50v0.5h-4.50zM162.00 83.00h16.00v0.5h-16.00zM125.50 83.50h27.00v0.5h-27.00zM156.50 83.50h4.50v0.5h-4.50zM162.00 83.50h16.00v0.5h-16.00zM125.50 84.00h27.00v0.5h-27.00zM156.50 84.00h4.50v0.5h-4.50zM162.00 84.00h16.00v0.5h-16.00zM125.50 84.50h27.00v0.5h-27.00zM156.50 84.50h4.00v0.5h-4.00zM162.50 84.50h15.50v0.5h-15.50zM125.50 85.00h26.50v0.5h-26.50zM156.50 85.00h4.00v0.5h-4.00zM163.00 85.00h14.50v0.5h-14.50zM125.50 85.50h26.50v0.5h-26.50zM156.50 85.50h4.00v0.5h-4.00zM163.00 85.50h14.50v0.5h-14.50zM125.50 86.00h26.50v0.5h-26.50zM157.00 86.00h3.00v0.5h-3.00zM163.50 86.00h13.50v0.5h-13.50zM125.50 86.50h26.50v0.5h-26.50zM157.00 86.50h3.00v0.5h-3.00zM163.50 86.50h13.50v0.5h-13.50zM125.50 87.00h26.00v0.5h-26.00zM157.50 87.00h2.00v0.5h-2.00zM164.00 87.00h12.50v0.5h-12.50zM125.50 87.50h26.00v0.5h-26.00zM158.00 87.50h1.00v0.5h-1.00zM164.50 87.50h12.00v0.5h-12.00zM125.50 88.00h26.00v0.5h-26.00zM165.00 88.00h11.00v0.5h-11.00zM126.00 88.50h25.00v0.5h-25.00zM165.50 88.50h10.00v0.5h-10.00zM126.00 89.00h25.00v0.5h-25.00zM166.00 89.00h9.00v0.5h-9.00zM126.50 89.50h24.00v0.5h-24.00zM166.50 89.50h7.50v0.5h-7.50zM126.50 90.00h23.50v0.5h-23.50zM167.50 90.00h6.00v0.5h-6.00zM127.00 90.50h22.50v0.5h-22.50zM168.50 90.50h4.00v0.5h-4.00zM127.50 91.00h21.50v0.5h-21.50zM128.00 91.50h20.50v0.5h-20.50zM129.00 92.00h19.00v0.5h-19.00zM130.00 92.50h17.00v0.5h-17.00zM131.00 93.00h15.50v0.5h-15.50zM156.50 93.00h1.00v0.5h-1.00zM132.50 93.50h12.50v0.5h-12.50zM156.50 93.50h1.00v0.5h-1.00zM134.50 94.00h9.50v0.5h-9.50zM137.50 94.50h4.00v0.5h-4.00zM117.00 97.00h1.00v0.5h-1.00zM127.00 97.00h1.00v0.5h-1.00zM117.00 97.50h1.00v0.5h-1.00zM127.00 97.50h1.00v0.5h-1.00z" fill="#4f73cc"/><path d="M146.00 60.50h4.50v0.5h-4.50zM144.50 61.00h7.00v0.5h-7.00zM144.00 61.50h8.50v0.5h-8.50zM143.50 62.00h9.50v0.5h-9.50zM143.00 62.50h10.50v0.5h-10.50zM142.50 63.00h11.50v0.5h-11.50zM142.00 63.50h12.00v0.5h-12.00zM170.50 63.50h0.50v0.5h-0.50zM141.50 64.00h13.00v0.5h-13.00zM169.50 64.00h3.00v0.5h-3.00zM141.00 64.50h13.50v0.5h-13.50zM169.00 64.50h4.50v0.5h-4.50zM141.00 65.00h14.00v0.5h-14.00zM169.00 65.00h5.00v0.5h-5.00zM140.50 65.50h14.50v0.5h-14.50zM168.50 65.50h6.00v0.5h-6.00zM140.50 66.00h14.50v0.5h-14.50zM168.50 66.00h6.00v0.5h-6.00zM140.00 66.50h15.00v0.5h-15.00zM168.00 66.50h7.00v0.5h-7.00zM140.00 67.00h15.50v0.5h-15.50zM167.00 67.00h8.50v0.5h-8.50zM139.50 67.50h16.00v0.5h-16.00zM166.00 67.50h9.50v0.5h-9.50zM139.50 68.00h16.00v0.5h-16.00zM165.50 68.00h10.50v0.5h-10.50zM139.00 68.50h16.50v0.5h-16.50zM165.00 68.50h11.00v0.5h-11.00zM139.00 69.00h16.50v0.5h-16.50zM165.00 69.00h11.50v0.5h-11.50zM139.00 69.50h16.50v0.5h-16.50zM164.50 69.50h12.00v0.5h-12.00zM138.50 70.00h17.00v0.5h-17.00zM164.50 70.00h12.50v0.5h-12.50zM138.50 70.50h17.00v0.5h-17.00zM164.50 70.50h12.50v0.5h-12.50zM138.00 71.00h17.00v0.5h-17.00zM164.50 71.00h12.50v0.5h-12.50zM138.00 71.50h17.00v0.5h-17.00zM164.00 71.50h13.00v0.5h-13.00zM137.50 72.00h17.50v0.5h-17.50zM164.00 72.00h13.50v0.5h-13.50zM137.00 72.50h18.00v0.5h-18.00zM164.00 72.50h13.50v0.5h-13.50zM136.50 73.00h18.00v0.5h-18.00zM164.00 73.00h13.50v0.5h-13.50zM136.00 73.50h18.50v0.5h-18.50zM164.00 73.50h13.50v0.5h-13.50zM135.50 74.00h19.00v0.5h-19.00zM164.00 74.00h13.50v0.5h-13.50zM135.00 74.50h19.00v0.5h-19.00zM164.00 74.50h13.50v0.5h-13.50zM134.00 75.00h20.00v0.5h-20.00zM164.00 75.00h13.50v0.5h-13.50zM133.50 75.50h20.00v0.5h-20.00zM164.00 75.50h13.50v0.5h-13.50zM133.00 76.00h20.50v0.5h-20.50zM164.00 76.00h13.00v0.5h-13.00zM132.00 76.50h21.00v0.5h-21.00zM164.00 76.50h13.00v0.5h-13.00zM131.50 77.00h21.50v0.5h-21.50zM164.00 77.00h13.00v0.5h-13.00zM130.50 77.50h22.00v0.5h-22.00zM164.00 77.50h13.00v0.5h-13.00zM130.00 78.00h22.50v0.5h-22.50zM163.50 78.00h13.50v0.5h-13.50zM129.50 78.50h22.50v0.5h-22.50zM163.50 78.50h13.50v0.5h-13.50zM129.00 79.00h23.00v0.5h-23.00zM163.50 79.00h13.50v0.5h-13.50zM128.50 79.50h23.50v0.5h-23.50zM163.50 79.50h14.00v0.5h-14.00zM128.50 80.00h23.00v0.5h-23.00zM163.50 80.00h14.00v0.5h-14.00zM128.00 80.50h23.50v0.5h-23.50zM163.50 80.50h14.00v0.5h-14.00zM127.50 81.00h24.00v0.5h-24.00zM163.00 81.00h14.50v0.5h-14.50zM127.50 81.50h24.00v0.5h-24.00zM163.00 81.50h14.50v0.5h-14.50zM127.00 82.00h24.50v0.5h-24.50zM163.00 82.00h14.50v0.5h-14.50zM127.00 82.50h24.50v0.5h-24.50zM163.00 82.50h14.50v0.5h-14.50zM127.00 83.00h24.50v0.5h-24.50zM163.00 83.00h14.50v0.5h-14.50zM126.50 83.50h24.50v0.5h-24.50zM163.50 83.50h14.00v0.5h-14.00zM126.50 84.00h24.50v0.5h-24.50zM163.50 84.00h13.50v0.5h-13.50zM126.50 84.50h24.50v0.5h-24.50zM163.50 84.50h13.50v0.5h-13.50zM126.50 85.00h24.50v0.5h-24.50zM164.00 85.00h13.00v0.5h-13.00zM126.50 85.50h24.50v0.5h-24.50zM164.00 85.50h12.50v0.5h-12.50zM126.50 86.00h24.50v0.5h-24.50zM164.50 86.00h12.00v0.5h-12.00zM126.50 86.50h24.00v0.5h-24.00zM164.50 86.50h11.50v0.5h-11.50zM126.50 87.00h24.00v0.5h-24.00zM165.00 87.00h10.50v0.5h-10.50zM126.50 87.50h24.00v0.5h-24.00zM165.50 87.50h9.50v0.5h-9.50zM126.50 88.00h23.50v0.5h-23.50zM166.00 88.00h8.50v0.5h-8.50zM127.00 88.50h23.00v0.5h-23.00zM167.00 88.50h7.00v0.5h-7.00zM127.00 89.00h22.50v0.5h-22.50zM167.50 89.00h5.50v0.5h-5.50zM127.50 89.50h21.50v0.5h-21.50zM169.50 89.50h2.00v0.5h-2.00zM128.00 90.00h20.50v0.5h-20.50zM128.50 90.50h20.00v0.5h-20.00zM129.00 91.00h18.50v0.5h-18.50zM130.00 91.50h17.00v0.5h-17.00zM131.00 92.00h15.50v0.5h-15.50zM132.50 92.50h13.00v0.5h-13.00zM134.50 93.00h10.00v0.5h-10.00zM137.00 93.50h5.50v0.5h-5.50z" fill="#9fd2f0"/><path d="M147.50 62.50h0.50v0.5h-0.50zM145.50 63.00h4.00v0.5h-4.00zM144.50 63.50h6.00v0.5h-6.00zM144.00 64.00h7.00v0.5h-7.00zM143.50 64.50h8.00v0.5h-8.00zM143.00 65.00h9.00v0.5h-9.00zM142.50 65.50h10.00v0.5h-10.00zM142.50 66.00h10.00v0.5h-10.00zM142.00 66.50h10.50v0.5h-10.50zM142.00 67.00h11.00v0.5h-11.00zM141.50 67.50h11.50v0.5h-11.50zM141.50 68.00h11.50v0.5h-11.50zM141.00 68.50h12.00v0.5h-12.00zM141.00 69.00h12.00v0.5h-12.00zM141.00 69.50h12.00v0.5h-12.00zM140.50 70.00h12.50v0.5h-12.50zM140.50 70.50h12.50v0.5h-12.50zM140.50 71.00h12.50v0.5h-12.50zM140.00 71.50h13.00v0.5h-13.00zM140.00 72.00h12.50v0.5h-12.50zM139.50 72.50h13.00v0.5h-13.00zM139.50 73.00h13.00v0.5h-13.00zM139.00 73.50h13.00v0.5h-13.00zM139.00 74.00h13.00v0.5h-13.00zM138.50 74.50h13.50v0.5h-13.50zM138.00 75.00h13.50v0.5h-13.50zM137.50 75.50h14.00v0.5h-14.00zM137.00 76.00h14.00v0.5h-14.00zM136.00 76.50h15.00v0.5h-15.00zM135.50 77.00h15.00v0.5h-15.00zM135.00 77.50h15.50v0.5h-15.50zM134.00 78.00h16.00v0.5h-16.00zM133.50 78.50h16.50v0.5h-16.50zM133.00 79.00h16.50v0.5h-16.50zM132.50 79.50h17.00v0.5h-17.00zM132.00 80.00h17.50v0.5h-17.50zM169.00 80.00h2.00v0.5h-2.00zM132.00 80.50h17.00v0.5h-17.00zM167.50 80.50h5.00v0.5h-5.00zM131.50 81.00h17.50v0.5h-17.50zM167.00 81.00h6.50v0.5h-6.50zM131.00 81.50h18.00v0.5h-18.00zM166.50 81.50h7.00v0.5h-7.00zM130.50 82.00h18.50v0.5h-18.50zM166.50 82.00h7.50v0.5h-7.50zM130.50 82.50h18.50v0.5h-18.50zM166.50 82.50h7.50v0.5h-7.50zM130.00 83.00h19.00v0.5h-19.00zM166.50 83.00h7.50v0.5h-7.50zM130.00 83.50h19.00v0.5h-19.00zM166.50 83.50h7.50v0.5h-7.50zM129.50 84.00h19.00v0.5h-19.00zM166.50 84.00h7.50v0.5h-7.50zM129.50 84.50h19.00v0.5h-19.00zM167.00 84.50h6.50v0.5h-6.50zM129.00 85.00h19.50v0.5h-19.50zM167.00 85.00h6.50v0.5h-6.50zM129.00 85.50h19.50v0.5h-19.50zM167.50 85.50h5.00v0.5h-5.00zM129.00 86.00h19.50v0.5h-19.50zM168.50 86.00h3.50v0.5h-3.50zM129.00 86.50h19.50v0.5h-19.50zM129.00 87.00h19.00v0.5h-19.00zM129.50 87.50h18.50v0.5h-18.50zM129.50 88.00h18.00v0.5h-18.00zM130.00 88.50h17.50v0.5h-17.50zM130.50 89.00h16.50v0.5h-16.50zM131.50 89.50h15.00v0.5h-15.00zM133.00 90.00h13.00v0.5h-13.00zM134.50 90.50h11.00v0.5h-11.00zM136.00 91.00h8.50v0.5h-8.50zM137.50 91.50h6.00v0.5h-6.00zM140.00 92.00h1.00v0.5h-1.00z" fill="#95c34a"/><path d="M145.50 66.50h2.50v0.5h-2.50zM145.00 67.00h3.50v0.5h-3.50zM144.50 67.50h4.50v0.5h-4.50zM144.00 68.00h5.00v0.5h-5.00zM144.00 68.50h5.50v0.5h-5.50zM144.00 69.00h5.50v0.5h-5.50zM143.50 69.50h6.00v0.5h-6.00zM143.50 70.00h6.00v0.5h-6.00zM143.50 70.50h6.00v0.5h-6.00zM143.50 71.00h6.00v0.5h-6.00zM143.50 71.50h6.00v0.5h-6.00zM143.50 72.00h6.00v0.5h-6.00zM143.50 72.50h6.00v0.5h-6.00zM143.50 73.00h5.50v0.5h-5.50zM143.50 73.50h5.50v0.5h-5.50zM144.00 74.00h4.50v0.5h-4.50zM144.00 74.50h4.00v0.5h-4.00zM144.50 75.00h3.50v0.5h-3.50zM145.00 75.50h2.00v0.5h-2.00zM140.00 81.00h3.00v0.5h-3.00zM139.00 81.50h5.00v0.5h-5.00zM138.50 82.00h6.00v0.5h-6.00zM138.00 82.50h6.50v0.5h-6.50zM137.50 83.00h7.50v0.5h-7.50zM137.50 83.50h7.50v0.5h-7.50zM137.00 84.00h8.50v0.5h-8.50zM137.00 84.50h8.50v0.5h-8.50zM137.00 85.00h8.50v0.5h-8.50zM137.00 85.50h8.50v0.5h-8.50zM137.00 86.00h8.50v0.5h-8.50zM137.00 86.50h8.50v0.5h-8.50zM137.00 87.00h8.00v0.5h-8.00zM137.50 87.50h7.50v0.5h-7.50zM137.50 88.00h7.00v0.5h-7.00zM138.00 88.50h6.00v0.5h-6.00zM139.00 89.00h4.50v0.5h-4.50zM140.50 89.50h1.50v0.5h-1.50z" fill="#efdf2a"/><path d="M146.00 67.50h1.50v0.5h-1.50zM145.50 68.00h2.50v0.5h-2.50zM145.00 68.50h3.50v0.5h-3.50zM144.50 69.00h4.00v0.5h-4.00zM144.50 69.50h4.00v0.5h-4.00zM144.50 70.00h4.00v0.5h-4.00zM144.50 70.50h4.50v0.5h-4.50zM144.50 71.00h4.00v0.5h-4.00zM144.50 71.50h4.00v0.5h-4.00zM144.50 72.00h4.00v0.5h-4.00zM144.50 72.50h4.00v0.5h-4.00zM145.00 73.00h3.00v0.5h-3.00zM145.00 73.50h2.50v0.5h-2.50zM146.00 74.00h1.00v0.5h-1.00zM140.50 82.50h2.00v0.5h-2.00zM139.50 83.00h4.00v0.5h-4.00zM139.00 83.50h5.00v0.5h-5.00zM138.50 84.00h5.50v0.5h-5.50zM138.50 84.50h6.00v0.5h-6.00zM138.00 85.00h6.50v0.5h-6.50zM138.00 85.50h6.50v0.5h-6.50zM138.00 86.00h6.50v0.5h-6.50zM138.00 86.50h6.50v0.5h-6.50zM138.50 87.00h5.50v0.5h-5.50zM138.50 87.50h5.50v0.5h-5.50zM139.00 88.00h4.50v0.5h-4.50zM140.00 88.50h2.50v0.5h-2.50z" fill="#f39a1e"/><path d="M146.00 69.00h1.50v0.5h-1.50zM145.50 69.50h2.00v0.5h-2.00zM145.50 70.00h2.50v0.5h-2.50zM145.00 70.50h3.00v0.5h-3.00zM145.00 71.00h3.00v0.5h-3.00zM145.50 71.50h2.00v0.5h-2.00zM145.50 72.00h2.00v0.5h-2.00zM146.00 72.50h1.00v0.5h-1.00zM140.00 84.00h2.50v0.5h-2.50zM139.50 84.50h3.50v0.5h-3.50zM139.50 85.00h4.00v0.5h-4.00zM139.00 85.50h4.50v0.5h-4.50zM139.00 86.00h4.50v0.5h-4.50zM139.50 86.50h4.00v0.5h-4.00zM139.50 87.00h3.50v0.5h-3.50zM140.00 87.50h2.50v0.5h-2.50z" fill="#dc1a1a"/></g></g><g clip-path="url(#a11)"><g filter="url(#bl35)"><path d="M148.50 141.00h4.00v0.5h-4.00zM147.50 141.50h6.00v0.5h-6.00zM146.50 142.00h7.50v0.5h-7.50zM146.00 142.50h8.50v0.5h-8.50zM145.50 143.00h9.50v0.5h-9.50zM145.00 143.50h10.00v0.5h-10.00zM144.50 144.00h11.00v0.5h-11.00zM144.00 144.50h11.50v0.5h-11.50zM143.50 145.00h12.00v0.5h-12.00zM143.00 145.50h13.00v0.5h-13.00zM142.50 146.00h13.50v0.5h-13.50zM142.00 146.50h14.00v0.5h-14.00zM162.50 146.50h3.00v0.5h-3.00zM141.50 147.00h15.00v0.5h-15.00zM161.50 147.00h4.00v0.5h-4.00zM171.00 147.00h2.00v0.5h-2.00zM141.00 147.50h15.50v0.5h-15.50zM160.50 147.50h5.00v0.5h-5.00zM171.00 147.50h2.50v0.5h-2.50zM140.50 148.00h16.00v0.5h-16.00zM159.50 148.00h6.00v0.5h-6.00zM171.00 148.00h3.50v0.5h-3.50zM139.50 148.50h17.00v0.5h-17.00zM159.00 148.50h6.50v0.5h-6.50zM170.50 148.50h4.50v0.5h-4.50zM139.00 149.00h18.00v0.5h-18.00zM158.50 149.00h7.00v0.5h-7.00zM170.50 149.00h5.00v0.5h-5.00zM139.00 149.50h27.00v0.5h-27.00zM170.50 149.50h6.00v0.5h-6.00zM138.50 150.00h27.50v0.5h-27.50zM170.00 150.00h6.50v0.5h-6.50zM138.00 150.50h28.50v0.5h-28.50zM169.50 150.50h7.50v0.5h-7.50zM137.50 151.00h40.00v0.5h-40.00zM137.00 151.50h41.00v0.5h-41.00zM136.50 152.00h41.50v0.5h-41.50zM136.00 152.50h42.50v0.5h-42.50zM136.00 153.00h43.00v0.5h-43.00zM135.50 153.50h43.50v0.5h-43.50zM135.00 154.00h20.50v0.5h-20.50zM157.50 154.00h22.00v0.5h-22.00zM134.50 154.50h20.50v0.5h-20.50zM159.00 154.50h20.50v0.5h-20.50zM134.50 155.00h20.00v0.5h-20.00zM160.00 155.00h19.50v0.5h-19.50zM134.00 155.50h20.00v0.5h-20.00zM160.50 155.50h19.50v0.5h-19.50zM133.50 156.00h20.00v0.5h-20.00zM160.50 156.00h19.50v0.5h-19.50zM133.50 156.50h20.00v0.5h-20.00zM160.50 156.50h19.50v0.5h-19.50zM133.00 157.00h20.00v0.5h-20.00zM161.00 157.00h19.00v0.5h-19.00zM132.50 157.50h20.00v0.5h-20.00zM160.50 157.50h20.00v0.5h-20.00zM132.50 158.00h20.00v0.5h-20.00zM160.50 158.00h20.00v0.5h-20.00zM132.00 158.50h20.00v0.5h-20.00zM160.00 158.50h20.50v0.5h-20.50zM131.50 159.00h20.00v0.5h-20.00zM159.00 159.00h21.50v0.5h-21.50zM131.50 159.50h19.50v0.5h-19.50zM155.50 159.50h25.00v0.5h-25.00zM131.00 160.00h20.00v0.5h-20.00zM155.00 160.00h26.00v0.5h-26.00zM130.50 160.50h20.00v0.5h-20.00zM155.00 160.50h26.00v0.5h-26.00zM130.50 161.00h19.50v0.5h-19.50zM155.00 161.00h26.00v0.5h-26.00zM130.00 161.50h20.00v0.5h-20.00zM155.00 161.50h26.00v0.5h-26.00zM129.50 162.00h20.00v0.5h-20.00zM155.00 162.00h3.50v0.5h-3.50zM160.50 162.00h20.50v0.5h-20.50zM129.50 162.50h19.50v0.5h-19.50zM155.00 162.50h3.00v0.5h-3.00zM160.50 162.50h20.50v0.5h-20.50zM129.00 163.00h20.00v0.5h-20.00zM155.00 163.00h3.00v0.5h-3.00zM160.50 163.00h20.50v0.5h-20.50zM129.00 163.50h19.50v0.5h-19.50zM155.00 163.50h3.50v0.5h-3.50zM160.00 163.50h21.00v0.5h-21.00zM128.50 164.00h20.00v0.5h-20.00zM155.00 164.00h26.00v0.5h-26.00zM128.50 164.50h19.50v0.5h-19.50zM155.00 164.50h26.00v0.5h-26.00zM128.00 165.00h20.00v0.5h-20.00zM155.00 165.00h26.00v0.5h-26.00zM128.00 165.50h19.50v0.5h-19.50zM155.00 165.50h26.00v0.5h-26.00zM128.00 166.00h19.50v0.5h-19.50zM155.00 166.00h26.00v0.5h-26.00zM127.50 166.50h20.00v0.5h-20.00zM155.00 166.50h26.00v0.5h-26.00zM127.50 167.00h20.00v0.5h-20.00zM155.00 167.00h26.00v0.5h-26.00zM127.50 167.50h19.50v0.5h-19.50zM155.00 167.50h25.50v0.5h-25.50zM127.50 168.00h19.50v0.5h-19.50zM155.00 168.00h25.50v0.5h-25.50zM127.50 168.50h19.50v0.5h-19.50zM155.00 168.50h25.50v0.5h-25.50zM127.00 169.00h19.50v0.5h-19.50zM155.50 169.00h25.00v0.5h-25.00zM127.00 169.50h19.50v0.5h-19.50zM155.50 169.50h24.50v0.5h-24.50zM127.00 170.00h19.50v0.5h-19.50zM155.50 170.00h24.50v0.5h-24.50zM127.00 170.50h19.00v0.5h-19.00zM156.00 170.50h24.00v0.5h-24.00zM127.00 171.00h19.00v0.5h-19.00zM156.00 171.00h23.50v0.5h-23.50zM127.00 171.50h18.50v0.5h-18.50zM156.50 171.50h23.00v0.5h-23.00zM127.00 172.00h18.00v0.5h-18.00zM156.50 172.00h22.50v0.5h-22.50zM127.00 172.50h18.00v0.5h-18.00zM157.00 172.50h21.50v0.5h-21.50zM127.50 173.00h17.00v0.5h-17.00zM157.50 173.00h21.00v0.5h-21.00zM127.50 173.50h16.50v0.5h-16.50zM158.00 173.50h20.00v0.5h-20.00zM127.50 174.00h15.50v0.5h-15.50zM158.00 174.00h19.50v0.5h-19.50zM127.50 174.50h15.00v0.5h-15.00zM158.50 174.50h18.50v0.5h-18.50zM128.00 175.00h13.50v0.5h-13.50zM159.50 175.00h17.00v0.5h-17.00zM128.00 175.50h12.00v0.5h-12.00zM160.00 175.50h16.00v0.5h-16.00zM128.50 176.00h10.00v0.5h-10.00zM160.50 176.00h14.50v0.5h-14.50zM129.00 176.50h7.50v0.5h-7.50zM161.50 176.50h12.50v0.5h-12.50zM130.00 177.00h4.50v0.5h-4.50zM162.50 177.00h10.50v0.5h-10.50zM164.00 177.50h7.50v0.5h-7.50zM166.50 178.00h2.50v0.5h-2.50z" fill="#2a34a0"/><path d="M149.50 142.00h1.50v0.5h-1.50zM148.00 142.50h4.50v0.5h-4.50zM147.00 143.00h6.00v0.5h-6.00zM146.50 143.50h7.00v0.5h-7.00zM146.00 144.00h8.00v0.5h-8.00zM145.50 144.50h8.50v0.5h-8.50zM145.00 145.00h9.50v0.5h-9.50zM144.50 145.50h10.00v0.5h-10.00zM144.00 146.00h10.50v0.5h-10.50zM143.50 146.50h11.50v0.5h-11.50zM143.00 147.00h12.00v0.5h-12.00zM142.50 147.50h12.50v0.5h-12.50zM141.50 148.00h13.50v0.5h-13.50zM141.00 148.50h14.00v0.5h-14.00zM140.50 149.00h14.50v0.5h-14.50zM140.00 149.50h15.00v0.5h-15.00zM162.00 149.50h2.50v0.5h-2.50zM139.50 150.00h15.50v0.5h-15.50zM161.00 150.00h4.00v0.5h-4.00zM139.00 150.50h16.00v0.5h-16.00zM160.50 150.50h5.00v0.5h-5.00zM138.50 151.00h16.00v0.5h-16.00zM160.00 151.00h6.00v0.5h-6.00zM138.00 151.50h16.50v0.5h-16.50zM159.50 151.50h7.50v0.5h-7.50zM169.50 151.50h1.50v0.5h-1.50zM138.00 152.00h16.50v0.5h-16.50zM159.50 152.00h12.00v0.5h-12.00zM137.50 152.50h16.50v0.5h-16.50zM159.00 152.50h13.00v0.5h-13.00zM137.00 153.00h17.00v0.5h-17.00zM159.00 153.00h14.00v0.5h-14.00zM174.00 153.00h1.00v0.5h-1.00zM136.50 153.50h17.00v0.5h-17.00zM159.50 153.50h16.50v0.5h-16.50zM136.00 154.00h17.00v0.5h-17.00zM159.50 154.00h16.50v0.5h-16.50zM136.00 154.50h17.00v0.5h-17.00zM160.50 154.50h16.00v0.5h-16.00zM135.50 155.00h17.00v0.5h-17.00zM160.50 155.00h16.00v0.5h-16.00zM135.00 155.50h17.00v0.5h-17.00zM161.00 155.50h16.00v0.5h-16.00zM134.50 156.00h17.50v0.5h-17.50zM161.50 156.00h15.50v0.5h-15.50zM134.50 156.50h17.00v0.5h-17.00zM161.50 156.50h15.50v0.5h-15.50zM134.00 157.00h17.50v0.5h-17.50zM161.50 157.00h16.00v0.5h-16.00zM133.50 157.50h17.50v0.5h-17.50zM161.50 157.50h16.00v0.5h-16.00zM133.50 158.00h17.00v0.5h-17.00zM161.50 158.00h16.00v0.5h-16.00zM133.00 158.50h17.50v0.5h-17.50zM161.00 158.50h17.00v0.5h-17.00zM132.50 159.00h17.50v0.5h-17.50zM160.50 159.00h17.50v0.5h-17.50zM132.50 159.50h17.50v0.5h-17.50zM160.00 159.50h18.00v0.5h-18.00zM132.00 160.00h17.50v0.5h-17.50zM159.00 160.00h19.50v0.5h-19.50zM131.50 160.50h18.00v0.5h-18.00zM159.00 160.50h19.50v0.5h-19.50zM131.50 161.00h17.50v0.5h-17.50zM159.50 161.00h19.00v0.5h-19.00zM131.00 161.50h17.50v0.5h-17.50zM160.50 161.50h18.50v0.5h-18.50zM130.50 162.00h18.00v0.5h-18.00zM161.00 162.00h18.00v0.5h-18.00zM130.50 162.50h17.50v0.5h-17.50zM161.00 162.50h18.00v0.5h-18.00zM130.00 163.00h18.00v0.5h-18.00zM161.00 163.00h18.00v0.5h-18.00zM130.00 163.50h17.50v0.5h-17.50zM160.50 163.50h18.50v0.5h-18.50zM129.50 164.00h18.00v0.5h-18.00zM160.00 164.00h19.00v0.5h-19.00zM129.50 164.50h17.50v0.5h-17.50zM157.50 164.50h21.50v0.5h-21.50zM129.00 165.00h18.00v0.5h-18.00zM157.00 165.00h22.00v0.5h-22.00zM129.00 165.50h18.00v0.5h-18.00zM157.00 165.50h22.00v0.5h-22.00zM129.00 166.00h17.50v0.5h-17.50zM157.00 166.00h22.00v0.5h-22.00zM128.50 166.50h18.00v0.5h-18.00zM157.00 166.50h22.00v0.5h-22.00zM128.50 167.00h18.00v0.5h-18.00zM157.00 167.00h22.00v0.5h-22.00zM128.50 167.50h17.50v0.5h-17.50zM157.00 167.50h21.50v0.5h-21.50zM128.50 168.00h17.50v0.5h-17.50zM157.50 168.00h21.00v0.5h-21.00zM128.50 168.50h17.50v0.5h-17.50zM157.50 168.50h21.00v0.5h-21.00zM128.50 169.00h17.50v0.5h-17.50zM157.50 169.00h21.00v0.5h-21.00zM128.00 169.50h17.50v0.5h-17.50zM157.50 169.50h20.50v0.5h-20.50zM128.00 170.00h17.50v0.5h-17.50zM158.00 170.00h20.00v0.5h-20.00zM128.50 170.50h16.50v0.5h-16.50zM158.00 170.50h19.50v0.5h-19.50zM128.50 171.00h16.50v0.5h-16.50zM158.50 171.00h19.00v0.5h-19.00zM128.50 171.50h16.00v0.5h-16.00zM158.50 171.50h18.50v0.5h-18.50zM128.50 172.00h15.50v0.5h-15.50zM159.00 172.00h17.50v0.5h-17.50zM128.50 172.50h15.50v0.5h-15.50zM159.50 172.50h17.00v0.5h-17.00zM129.00 173.00h14.50v0.5h-14.50zM160.00 173.00h16.00v0.5h-16.00zM129.00 173.50h13.50v0.5h-13.50zM160.50 173.50h15.00v0.5h-15.00zM129.50 174.00h12.00v0.5h-12.00zM161.00 174.00h13.50v0.5h-13.50zM129.50 174.50h11.00v0.5h-11.00zM162.00 174.50h12.00v0.5h-12.00zM130.50 175.00h8.50v0.5h-8.50zM163.00 175.00h10.00v0.5h-10.00zM131.00 175.50h6.00v0.5h-6.00zM164.00 175.50h7.50v0.5h-7.50zM166.00 176.00h3.50v0.5h-3.50z" fill="#4f73cc"/><path d="M148.00 143.50h4.00v0.5h-4.00zM147.00 144.00h5.50v0.5h-5.50zM146.50 144.50h6.50v0.5h-6.50zM146.00 145.00h7.50v0.5h-7.50zM145.50 145.50h8.00v0.5h-8.00zM145.00 146.00h8.50v0.5h-8.50zM144.50 146.50h9.50v0.5h-9.50zM144.00 147.00h10.00v0.5h-10.00zM143.50 147.50h10.50v0.5h-10.50zM143.00 148.00h11.00v0.5h-11.00zM142.50 148.50h11.50v0.5h-11.50zM142.00 149.00h12.00v0.5h-12.00zM141.50 149.50h12.50v0.5h-12.50zM140.50 150.00h13.50v0.5h-13.50zM140.00 150.50h13.50v0.5h-13.50zM139.50 151.00h14.00v0.5h-14.00zM139.00 151.50h14.50v0.5h-14.50zM139.00 152.00h14.00v0.5h-14.00zM138.50 152.50h14.50v0.5h-14.50zM138.00 153.00h14.50v0.5h-14.50zM137.50 153.50h15.00v0.5h-15.00zM137.00 154.00h15.00v0.5h-15.00zM136.50 154.50h15.50v0.5h-15.50zM136.50 155.00h15.00v0.5h-15.00zM170.50 155.00h2.50v0.5h-2.50zM136.00 155.50h15.00v0.5h-15.00zM170.00 155.50h3.50v0.5h-3.50zM135.50 156.00h15.50v0.5h-15.50zM170.00 156.00h4.00v0.5h-4.00zM135.00 156.50h15.50v0.5h-15.50zM170.00 156.50h4.00v0.5h-4.00zM135.00 157.00h15.50v0.5h-15.50zM170.00 157.00h4.00v0.5h-4.00zM134.50 157.50h15.50v0.5h-15.50zM170.00 157.50h4.00v0.5h-4.00zM134.00 158.00h16.00v0.5h-16.00zM170.00 158.00h4.50v0.5h-4.50zM134.00 158.50h15.50v0.5h-15.50zM169.50 158.50h5.00v0.5h-5.00zM133.50 159.00h16.00v0.5h-16.00zM169.50 159.00h5.00v0.5h-5.00zM133.00 159.50h16.00v0.5h-16.00zM168.00 159.50h7.00v0.5h-7.00zM132.50 160.00h16.00v0.5h-16.00zM166.00 160.00h9.50v0.5h-9.50zM132.50 160.50h16.00v0.5h-16.00zM164.00 160.50h12.00v0.5h-12.00zM132.00 161.00h16.00v0.5h-16.00zM163.00 161.00h13.50v0.5h-13.50zM131.50 161.50h16.50v0.5h-16.50zM162.00 161.50h14.50v0.5h-14.50zM131.50 162.00h16.00v0.5h-16.00zM162.00 162.00h15.00v0.5h-15.00zM131.00 162.50h16.50v0.5h-16.50zM162.00 162.50h15.00v0.5h-15.00zM131.00 163.00h16.00v0.5h-16.00zM161.50 163.00h15.50v0.5h-15.50zM130.50 163.50h16.50v0.5h-16.50zM161.50 163.50h16.00v0.5h-16.00zM130.50 164.00h16.00v0.5h-16.00zM161.00 164.00h16.50v0.5h-16.50zM130.00 164.50h16.50v0.5h-16.50zM160.50 164.50h17.00v0.5h-17.00zM130.00 165.00h16.50v0.5h-16.50zM159.50 165.00h18.00v0.5h-18.00zM129.50 165.50h16.50v0.5h-16.50zM159.50 165.50h18.00v0.5h-18.00zM129.50 166.00h16.50v0.5h-16.50zM159.00 166.00h18.50v0.5h-18.50zM129.50 166.50h16.50v0.5h-16.50zM159.00 166.50h18.00v0.5h-18.00zM129.00 167.00h16.50v0.5h-16.50zM159.00 167.00h18.00v0.5h-18.00zM129.00 167.50h16.50v0.5h-16.50zM159.00 167.50h18.00v0.5h-18.00zM129.00 168.00h16.50v0.5h-16.50zM159.00 168.00h18.00v0.5h-18.00zM129.00 168.50h16.50v0.5h-16.50zM159.00 168.50h17.50v0.5h-17.50zM129.00 169.00h16.00v0.5h-16.00zM159.50 169.00h17.00v0.5h-17.00zM129.00 169.50h16.00v0.5h-16.00zM159.50 169.50h17.00v0.5h-17.00zM129.00 170.00h16.00v0.5h-16.00zM159.50 170.00h16.50v0.5h-16.50zM129.00 170.50h15.50v0.5h-15.50zM160.00 170.50h16.00v0.5h-16.00zM129.00 171.00h15.50v0.5h-15.50zM160.50 171.00h15.00v0.5h-15.00zM129.50 171.50h14.50v0.5h-14.50zM161.00 171.50h14.00v0.5h-14.00zM129.50 172.00h14.00v0.5h-14.00zM161.50 172.00h13.00v0.5h-13.00zM130.00 172.50h13.00v0.5h-13.00zM162.00 172.50h12.00v0.5h-12.00zM130.00 173.00h12.50v0.5h-12.50zM162.50 173.00h10.50v0.5h-10.50zM130.50 173.50h11.00v0.5h-11.00zM163.50 173.50h9.00v0.5h-9.00zM131.00 174.00h9.50v0.5h-9.50zM164.50 174.00h6.50v0.5h-6.50zM132.00 174.50h6.50v0.5h-6.50zM167.50 174.50h1.00v0.5h-1.00z" fill="#9fd2f0"/><path d="M147.00 147.50h2.50v0.5h-2.50zM146.00 148.00h4.00v0.5h-4.00zM145.50 148.50h5.00v0.5h-5.00zM145.00 149.00h5.50v0.5h-5.50zM144.50 149.50h6.00v0.5h-6.00zM144.00 150.00h6.50v0.5h-6.50zM143.50 150.50h7.00v0.5h-7.00zM143.00 151.00h7.50v0.5h-7.50zM142.50 151.50h8.00v0.5h-8.00zM142.00 152.00h8.00v0.5h-8.00zM141.50 152.50h8.50v0.5h-8.50zM141.00 153.00h9.00v0.5h-9.00zM140.50 153.50h9.00v0.5h-9.00zM140.00 154.00h9.50v0.5h-9.50zM139.50 154.50h9.50v0.5h-9.50zM139.00 155.00h10.00v0.5h-10.00zM139.00 155.50h10.00v0.5h-10.00zM138.50 156.00h10.50v0.5h-10.50zM138.00 156.50h10.50v0.5h-10.50zM137.50 157.00h11.00v0.5h-11.00zM137.00 157.50h11.00v0.5h-11.00zM136.50 158.00h11.50v0.5h-11.50zM136.50 158.50h11.00v0.5h-11.00zM136.00 159.00h11.50v0.5h-11.50zM135.50 159.50h11.50v0.5h-11.50zM135.00 160.00h11.50v0.5h-11.50zM134.50 160.50h11.50v0.5h-11.50zM134.00 161.00h11.50v0.5h-11.50zM133.50 161.50h12.00v0.5h-12.00zM133.50 162.00h12.00v0.5h-12.00zM133.00 162.50h12.00v0.5h-12.00zM132.50 163.00h12.50v0.5h-12.50zM132.50 163.50h12.50v0.5h-12.50zM132.00 164.00h12.50v0.5h-12.50zM132.00 164.50h12.50v0.5h-12.50zM131.50 165.00h13.00v0.5h-13.00zM131.50 165.50h13.00v0.5h-13.00zM131.50 166.00h13.00v0.5h-13.00zM131.00 166.50h13.50v0.5h-13.50zM165.50 166.50h4.50v0.5h-4.50zM131.00 167.00h13.00v0.5h-13.00zM165.00 167.00h6.00v0.5h-6.00zM131.00 167.50h13.00v0.5h-13.00zM164.50 167.50h7.00v0.5h-7.00zM131.00 168.00h13.00v0.5h-13.00zM164.50 168.00h7.00v0.5h-7.00zM131.00 168.50h13.00v0.5h-13.00zM164.00 168.50h7.50v0.5h-7.50zM131.00 169.00h13.00v0.5h-13.00zM164.50 169.00h7.00v0.5h-7.00zM131.00 169.50h13.00v0.5h-13.00zM165.00 169.50h6.00v0.5h-6.00zM131.50 170.00h12.00v0.5h-12.00zM165.50 170.00h5.00v0.5h-5.00zM131.50 170.50h12.00v0.5h-12.00zM167.00 170.50h1.50v0.5h-1.50zM131.50 171.00h11.50v0.5h-11.50zM132.00 171.50h10.50v0.5h-10.50zM132.50 172.00h9.50v0.5h-9.50zM133.50 172.50h8.00v0.5h-8.00zM135.00 173.00h4.00v0.5h-4.00z" fill="#95c34a"/><path d="M145.50 151.50h1.00v0.5h-1.00zM145.00 152.00h2.00v0.5h-2.00zM144.50 152.50h3.00v0.5h-3.00zM144.50 153.00h3.00v0.5h-3.00zM144.00 153.50h3.50v0.5h-3.50zM144.00 154.00h3.50v0.5h-3.50zM144.00 154.50h3.50v0.5h-3.50zM144.00 155.00h3.50v0.5h-3.50zM144.50 155.50h3.00v0.5h-3.00zM144.50 156.00h2.50v0.5h-2.50zM144.50 156.50h2.50v0.5h-2.50zM145.00 157.00h1.50v0.5h-1.50zM136.50 162.50h2.00v0.5h-2.00zM135.50 163.00h4.50v0.5h-4.50zM134.50 163.50h6.00v0.5h-6.00zM134.50 164.00h6.50v0.5h-6.50zM134.00 164.50h7.50v0.5h-7.50zM134.00 165.00h7.50v0.5h-7.50zM133.50 165.50h8.00v0.5h-8.00zM133.50 166.00h8.50v0.5h-8.50zM133.50 166.50h8.50v0.5h-8.50zM133.50 167.00h8.50v0.5h-8.50zM134.00 167.50h8.50v0.5h-8.50zM134.00 168.00h8.50v0.5h-8.50zM134.50 168.50h8.00v0.5h-8.00zM134.50 169.00h8.00v0.5h-8.00zM135.00 169.50h7.50v0.5h-7.50zM136.00 170.00h6.50v0.5h-6.50zM137.00 170.50h5.00v0.5h-5.00zM138.00 171.00h3.50v0.5h-3.50zM139.50 171.50h0.50v0.5h-0.50z" fill="#efdf2a"/><path d="M145.00 152.50h1.50v0.5h-1.50zM145.00 153.00h2.00v0.5h-2.00zM144.50 153.50h2.50v0.5h-2.50zM144.50 154.00h2.50v0.5h-2.50zM144.50 154.50h2.50v0.5h-2.50zM144.50 155.00h2.50v0.5h-2.50zM145.00 155.50h2.00v0.5h-2.00zM145.00 156.00h1.50v0.5h-1.50zM135.50 163.50h3.00v0.5h-3.00zM135.00 164.00h4.50v0.5h-4.50zM134.50 164.50h5.00v0.5h-5.00zM134.50 165.00h5.50v0.5h-5.50zM134.50 165.50h6.00v0.5h-6.00zM134.00 166.00h6.50v0.5h-6.50zM134.50 166.50h6.50v0.5h-6.50zM134.50 167.00h7.00v0.5h-7.00zM134.50 167.50h7.00v0.5h-7.00zM135.00 168.00h7.00v0.5h-7.00zM135.50 168.50h6.50v0.5h-6.50zM136.50 169.00h5.50v0.5h-5.50zM137.00 169.50h5.00v0.5h-5.00zM138.00 170.00h4.00v0.5h-4.00zM138.50 170.50h3.00v0.5h-3.00zM139.50 171.00h1.00v0.5h-1.00z" fill="#f39a1e"/><path d="M145.50 153.50h1.00v0.5h-1.00zM145.00 154.00h1.50v0.5h-1.50zM145.00 154.50h1.50v0.5h-1.50zM145.50 155.00h1.00v0.5h-1.00zM136.00 164.00h2.00v0.5h-2.00zM135.00 164.50h3.50v0.5h-3.50zM135.00 165.00h4.00v0.5h-4.00zM135.00 165.50h4.50v0.5h-4.50zM134.50 166.00h5.00v0.5h-5.00zM135.00 166.50h5.00v0.5h-5.00zM135.00 167.00h5.50v0.5h-5.50zM135.50 167.50h5.50v0.5h-5.50zM136.00 168.00h5.50v0.5h-5.50zM137.50 168.50h4.00v0.5h-4.00zM138.00 169.00h3.50v0.5h-3.50zM138.50 169.50h3.00v0.5h-3.00zM139.00 170.00h2.50v0.5h-2.50zM139.50 170.50h1.00v0.5h-1.00z" fill="#dc1a1a"/></g></g><rect x="33.5" y="34.5" width="76.0" height="76.0" fill="none" stroke="#1a1a1a" stroke-width="1.1"/><rect x="33.5" y="117.5" width="76.0" height="76.0" fill="none" stroke="#1a1a1a" stroke-width="1.1"/><rect x="116.5" y="34.5" width="77.0" height="76.0" fill="none" stroke="#1a1a1a" stroke-width="1.1"/><rect x="116.5" y="117.5" width="77.0" height="76.0" fill="none" stroke="#1a1a1a" stroke-width="1.1"/><rect x="198.5" y="34.5" width="77.0" height="76.0" fill="none" stroke="#1a1a1a" stroke-width="1.1"/><rect x="198.5" y="117.5" width="77.0" height="76.0" fill="none" stroke="#1a1a1a" stroke-width="1.1"/><g clip-path="url(#a20)"><path d="M235.9 32.9h0m19.1 4.6h0m-2.5 3.5h0m6.9 0.3h0m-6.9 2.1h0m-6 0.5h0m-0.4 0.7h0m-6.7 0.1h0m0.1 0.7h0m3.3 0.1h0m-5.6 1.3h0m-0.1 0.5h0m18.7 0h0m-9.6 0.6h0m-4.8 0.5h0m11.3 0.2h0m-1.2 0.2h0m10.8 0.5h0m-14.4 0.4h0m-9.6 0.2h0m17.5 0h0m-3.5 0.3h0m0.1 0h0m-10.5 0.4h0m9.4 0.2h0m8.5 0.1h0m-9.4 0.1h0m-21.6 0.1h0m34.5 0h0m-37.8 0.2h0m8.5 0h0m-2.8 0.1h0m15.6 0h0m-16.7 0.1h0m1.3 0h0m0.6 0h0m0.8 0.1h0m-3.5 0.1h0m14.8 0h0m10.9 0.1h0m-23.5 0.1h0m20.6 0h0m10.4 0.1h0m-31.6 0.1h0m3.5 0.1h0m-2.1 0.3h0m-1.9 0.1h0m-15.6 0.1h0m19.5 0h0m6.4 0h0m15.3 0h0m-26 0.1h0m23.4 0h0m-13.6 0.2h0m10.3 0.1h0m-19.8 0.1h0m22.6 0h0m0.9 0h0m-23.7 0.1h0m11.7 0h0m15.6 0h0m-17.9 0.1h0m2.5 0h0m-7 0.1h0m13.9 0h0m-17.7 0.1h0m1.8 0h0m0.6 0h0m0.3 0.2h0m21.3 0h0m-5.3 0.1h0m-20.9 0.1h0m20.3 0h0m5.9 0.1h0m-18.2 0.1h0m-9.8 0.1h0m38.9 0h0m-22.5 0.1h0m-6.9 0.2h0m14.7 0h0m2.9 0h0m0.1 0h0m-32.4 0.1h0m10.6 0h0m27.6 0h0m-29.5 0.2h0m13.6 0h0m-15.8 0.1h0m4.3 0.1h0m0.9 0h0m0.9 0h0m-9 0.1h0m7.4 0.1h0m-2.7 0.2h0m4.8 0h0m0.4 0h0m29.9 0h0m-39 0.1h0m29.3 0h0m-25.3 0.1h0m1.2 0h0m24 0h0m-29.9 0.1h0m17.8 0h0m5.2 0h0m9 0.1h0m-30.6 0.2h0m13.5 0h0m1.3 0h0m8.5 0h0m3.5 0h0m2.3 0h0m-26.9 0.1h0m14.8 0h0m2.4 0h0m-19 0.1h0m19.1 0h0m-20.7 0.2h0m4.8 0.1h0m19.3 0h0m4.7 0h0m0.8 0h0m-18.2 0.1h0m6.1 0h0m-7.6 0.2h0m12 0h0m-13.9 0.1h0m-1.4 0.1h0m3.2 0h0m6.2 0h0m7.7 0.1h0m1.4 0h0m-31.7 0.1h0m16.1 0h0m16.3 0h0m-10.2 0.1h0m12 0h0m6.7 0h0m1.7 0h0m-11.8 0.1h0m-15.4 0.1h0m10.2 0h0m19.9 0h0m-37 0.1h0m25.2 0h0m3.6 0.1h0m-29.8 0.1h0m1 0h0m5.5 0h0m20.7 0h0m2.7 0h0m-4 0.1h0m10.7 0h0m-18.2 0.2h0m2.2 0h0m1.2 0h0m-22.4 0.1h0m10.1 0h0m12.6 0h0m-17.1 0.1h0m20.6 0h0m0.6 0h0m-17.8 0.1h0m6.1 0h0m0.8 0h0m12.1 0h0m6.5 0h0m-38.4 0.1h0m1.6 0h0m4 0h0m1 0.1h0m28.8 0h0m-21.9 0.1h0m15.3 0h0m-25.5 0.1h0m-23.1 0.1h0m25.4 0h0m17.1 0h0m14.4 0h0m-34.3 0.1h0m1 0h0m0.1 0h0m17.9 0h0m11 0h0m-30.1 0.1h0m2.7 0.1h0m12.8 0h0m9.8 0h0m1 0h0m5.2 0.1h0m3.8 0h0m-3.8 0.1h0m3 0h0m1.2 0h0m-35.6 0.1h0m22.7 0h0m0.7 0h0m6.7 0h0m2.4 0h0m-34.4 0.1h0m0.8 0h0m21 0h0m3.2 0h0m-23.5 0.1h0m7.2 0h0m12 0.1h0m-17.9 0.1h0m18.2 0h0m10.2 0h0m0.8 0h0m-33 0.1h0m11.5 0h0m12.2 0h0m1 0h0m2.7 0h0m-23.6 0.1h0m3.7 0h0m3.1 0h0m16.1 0h0m-6.1 0.1h0m13.7 0.1h0m-20.7 0.1h0m21.1 0h0m-31 0.1h0m2.6 0h0m10.5 0h0m9.2 0h0m-19 0.1h0m0.8 0h0m17.3 0h0m8 0h0m-17.8 0.1h0m11.7 0h0m8.3 0h0m-28.8 0.1h0m10.1 0h0m11.1 0h0m1.6 0h0m0.1 0h0m-14.5 0.1h0m0.2 0h0m12.1 0h0m-24.4 0.1h0m1.4 0h0m6.6 0h0m1.8 0.1h0m16.6 0.2h0m10.7 0.1h0m-39.9 0.3h0m3.6 0.1h0m34 0h0m-1.4 0.1h0m1 0h0m-23.3 0.1h0m7.9 0h0m3.5 0h0m9.2 0h0m-16.7 0.1h0m24.4 0h0m-22.6 0.1h0m4.3 0h0m0.4 0h0m10.6 0.1h0m-12 0.1h0m1.3 0h0m-11.7 0.1h0m2.9 0.1h0m17.9 0h0m2.1 0h0m1.4 0h0m-20.5 0.1h0m6.2 0h0m3.1 0h0m6.9 0h0m0.1 0h0m6.6 0h0m-3.9 0.1h0m-19.6 0.1h0m19.2 0h0m-32.3 0.1h0m18.3 0h0m-3.9 0.2h0m-18.2 0.1h0m35.2 0h0m-32.6 0.2h0m1.4 0h0m11.4 0h0m5.1 0h0m-4.5 0.1h0m18.7 0h0m-35.2 0.1h0m2.5 0h0m37.7 0h0m-39.8 0.1h0m39.8 0.1h0m0.8 0h0m-41.5 0.1h0m40.1 0h0m-18.6 0.1h0m0.6 0h0m-19.3 0.1h0m13.5 0h0m23.5 0h0m8.2 0h0m1.7 0h0m-24.8 0.2h0m-4.3 0.1h0m1.2 0h0m-3.7 0.1h0m3.3 0h0m-19.1 0.1h0m1.3 0h0m-4.5 0.1h0m27.4 0h0m7.9 0h0m-32.9 0.1h0m16.5 0h0m1.8 0h0m22.8 0h0m-40.9 0.1h0m17.1 0h0m4.5 0h0m2 0h0m14.1 0h0m0.5 0.1h0m-0.2 0.3h0m-19.4 0.1h0m12.2 0.1h0m9.5 0h0m0.9 0h0m-73.7 0.1h0m77.7 0h0m-29.4 0.1h0m21.2 0h0m0.7 0h0m6.3 0h0m-41.7 0.1h0m14.6 0h0m8.1 0h0m-26.6 0.2h0m35.7 0h0m-39.3 0.1h0m4.3 0h0m0.7 0.1h0m1.8 0.1h0m17.7 0h0m-28.4 0.1h0m29.7 0h0m16.8 0h0m-35.6 0.2h0m1.3 0.1h0m15.8 0h0m24 0h0m-22.3 0.1h0m18.9 0h0m-39.5 0.2h0m40.4 0.1h0m-20.7 0.1h0m-28.1 0.2h0m18.6 0h0m8 0.1h0m17.7 0.2h0m3.2 0.3h0m-43.9 0.2h0m23.3 0.3h0m2 0h0m25.4 0h0m-28.9 0.1h0m21 0h0m-41.1 0.3h0m20.5 0h0m0.7 0.2h0m3.1 0.2h0m13.6 0h0m3.6 0h0m3.5 0h0m-25.8 0.1h0m-0.5 0.2h0m3.1 0h0m17.8 0h0m1.5 0h0m-22 0.2h0m-17.2 0.1h0m-0.2 0.1h0m-1.4 0.1h0m22.1 0h0m27.9 0.1h0m-30.7 0.2h0m3.2 0.3h0m18.1 0h0m1 0h0m2.3 0.1h0m1.3 0h0m-44.5 0.1h0m45 0h0m-47 0.1h0m4.1 0h0m35.6 0.2h0m-36.9 0.1h0m16.7 0.2h0m1.2 0h0m22.1 0h0m0.5 0h0m8.6 0h0m-51.3 0.1h0m17.2 0.3h0m3.3 0h0m18.9 0h0m-16.5 0.1h0m-17.4 0.1h0m36.9 0h0m0.9 0h0m-41.6 0.2h0m0.2 0h0m21.8 0h0m17.9 0h0m1.1 0.1h0m-46.6 0.1h0m45.5 0h0m-41.8 0.1h0m43.1 0.1h0m-39.7 0.2h0m-0.9 0.1h0m21.3 0h0m19.2 0h0m-42.8 0.2h0m43.2 0.1h0m-18.3 0.5h0m-26 0.1h0m28.2 0h0m15.1 0h0m-0.5 0.1h0m-41.4 0.1h0m19.2 0h0m2 0.1h0m-19.2 0.2h0m-5.9 0.1h0m45.1 0.2h0m-40.8 0.2h0m1 0.1h0m21.4 0h0m22.2 0h0m-3.2 0.5h0m-0.8 0.1h0m8.2 0h0m-27.9 0.2h0m-23.4 0.1h0m3.7 0.1h0m39.2 0.1h0m-50.5 0.1h0m47.7 0.1h0m-41.7 0.1h0m46.9 0.4h0m-43.1 0.2h0m38.4 0.1h0m5 0.1h0m2.3 0.4h0m-1.5 0.1h0m-0.7 0.2h0m-2.2 0.1h0m3.6 0h0m-6 0.1h0m-20.2 0.1h0m-1.1 0.4h0m2.1 0h0m-22.2 0.1h0m3.4 0h0m19.6 0.1h0m19.9 0.1h0m0.5 0h0m-1 0.1h0m1 0h0m0.4 0h0m-45.8 0.1h0m4.8 0.1h0m-2.2 0.1h0m46.8 0.2h0m-2.8 0.2h0m-43.1 0.1h0m21 0.2h0m-21.5 0.1h0m48.6 0h0m-47.5 0.1h0m22.7 0h0m-28.2 0.1h0m47.8 0h0m-0.5 0.1h0m-41.9 0.1h0m0.6 0.3h0m-1.7 0.1h0m37.4 0.1h0m3.8 0h0m0.3 0h0m-54.1 0.1h0m58.5 0h0m-3.5 0.1h0m-20.2 0.2h0m-0.9 0.1h0m-24.5 0.1h0m23.1 0h0m17.4 0.2h0m-36.3 0.1h0m0.1 0h0m37.2 0h0m-43.3 0.1h0m25.3 0h0m23 0.1h0m-22.5 0.1h0m2 0h0m19 0.1h0m0.9 0h0m-58.2 0.2h0m12.1 0h0m4.6 0h0m53.7 0.1h0m-9.7 0.1h0m-49.6 0.1h0m2 0h0m42.4 0h0m3.1 0h0m-50.1 0.1h0m26.8 0h0m0.5 0h0m4.8 0.1h0m15.1 0h0m-55.1 0.1h0m13.6 0h0m0.6 0.1h0m-4 0.2h0m8.7 0.1h0m34.7 0h0m1.9 0h0m-24.2 0.1h0m-24.5 0.1h0m25.7 0.1h0m5.8 0h0m18.6 0.1h0m-54.5 0.1h0m9 0h0m29.1 0h0m-28.5 0.1h0m3.2 0h0m45.5 0h0m-5.8 0.2h0m-43 0.1h0m-8.3 0.1h0m9.1 0h0m42.8 0h0m5.5 0.1h0m-49.5 0.1h0m-2.5 0.1h0m24.5 0h0m3.2 0h0m15 0h0m-49.5 0.1h0m39.6 0.1h0m-2.9 0.1h0m21.9 0h0m-3.4 0.1h0m-20.9 0.2h0m-28.1 0.1h0m2.1 0h0m0.1 0h0m27.4 0.2h0m18.5 0h0m-54 0.1h0m27.8 0h0m0.7 0h0m22.8 0h0m-21.1 0.1h0m15.7 0h0m-0.8 0.1h0m5 0h0m-52.7 0.1h0m3.9 0.1h0m4.3 0h0m44.7 0h0m0 0h0m-44.9 0.1h0m25.9 0h0m24.5 0.1h0m-22.9 0.1h0m3.3 0h0m-28.6 0.1h0m-8.7 0.1h0m9.2 0h0m42 0h0m-44.3 0.1h0m34.8 0.1h0m-37.3 0.1h0m30.2 0h0m3.2 0h0m13.3 0.1h0m-21.2 0.1h0m0.3 0h0m25.9 0h0m-48 0.1h0m25.4 0.1h0m20.5 0h0m-25.4 0.1h0m3.2 0h0m-21.5 0.1h0m33 0h0m12.7 0h0m-28 0.1h0m27.8 0h0m-25.3 0.1h0m1.9 0h0m-29.9 0.1h0m48.4 0h0m1.1 0h0m-23.7 0.1h0m0.1 0h0m12.2 0h0m3.9 0h0m13.3 0h0m-41.7 0.2h0m-10 0.1h0m27.3 0h0m1.9 0.1h0m1.9 0h0m-26.4 0.1h0m43 0h0m-60.5 0.1h0m13.2 0h0m19.2 0h0m27 0h0m-48 0.1h0m-0.8 0.1h0m27.5 0h0m1.1 0h0m7 0h0m2.3 0h0m-4.8 0.1h0m0.7 0h0m-1.1 0.1h0m3.2 0h0m10 0h0m-47 0.1h0m3.1 0h0m3.7 0h0m25 0h0m15.7 0h0m0.8 0h0m-50.7 0.1h0m34.8 0h0m14.6 0h0m0.9 0h0m6.6 0h0m-53.8 0.1h0m4.2 0h0m28.3 0h0m3.8 0h0m7.4 0h0m10.6 0h0m-55 0.1h0m1.7 0h0m3.8 0h0m36.1 0h0m-38.5 0.1h0m31.6 0h0m0.8 0h0m-37.4 0.1h0m3.6 0h0m2 0h0m31.4 0h0m-26.9 0.1h0m0.4 0h0m22.9 0.1h0m0.6 0h0m0.2 0h0m0.5 0h0m13.9 0h0m-45 0.1h0m4.8 0h0m14.7 0h0m9.2 0h0m3.9 0h0m-32.1 0.1h0m-10.2 0.1h0m11.7 0.1h0m23.2 0h0m21.4 0h0m-40.7 0.2h0m-0.9 0.1h0m33.4 0.1h0m7.6 0h0m0.7 0h0m-43 0.1h0m5.3 0h0m29.7 0h0m11.4 0h0m-20.5 0.1h0m8.5 0h0m-46.6 0.1h0m42.4 0h0m3.4 0h0m9.1 0h0m-42.6 0.1h0m0.2 0h0m19.7 0h0m7.2 0h0m17.7 0h0m-9 0.1h0m-9.8 0.1h0m8.9 0h0m11.8 0h0m-51.8 0.1h0m37.1 0h0m9.3 0h0m1.6 0h0m-24.8 0.2h0m14.7 0h0m0.7 0h0m9.8 0h0m-2.4 0.1h0m-46.6 0.1h0m4.1 0.1h0m3.6 0h0m1.3 0h0m30.9 0h0m2.5 0h0m-9.9 0.1h0m4.7 0h0m-40.3 0.1h0m2.9 0h0m6 0h0m19.7 0h0m1.2 0h0m-24.9 0.1h0m48.4 0h0m-53.5 0.1h0m40.2 0h0m-12.7 0.1h0m11.8 0h0m7.6 0h0m-41.8 0.1h0m8.5 0h0m34.3 0h0m-4.9 0.1h0m12.3 0h0m-49.3 0.1h0m42.5 0h0m9 0h0m-30.5 0.1h0m0.7 0h0m15.7 0h0m11.7 0h0m-61 0.1h0m13.3 0h0m10.2 0h0m10.5 0h0m19.7 0h0m2.9 0h0m-40.7 0.1h0m20.8 0h0m-3.8 0.1h0m18.3 0.1h0m10.5 0h0m-13.8 0.1h0m9.4 0h0m-52.4 0.1h0m46.9 0h0m9.4 0h0m-48.6 0.1h0m6.9 0h0m26.3 0h0m-0.1 0.1h0m3.2 0h0m9.9 0h0m-51.2 0.1h0m25.3 0h0m11.9 0h0m-19.2 0.1h0m-19.1 0.1h0m2.5 0h0m8 0h0m14.7 0h0m11.4 0h0m-27.5 0.1h0m45.5 0.1h0m-45 0.1h0m23.6 0h0m16.1 0h0m-47.9 0.1h0m10.8 0h0m11.1 0h0m16.9 0h0m6.9 0h0m10.8 0h0m-56.3 0.1h0m36.8 0h0m1.4 0h0m-33.1 0.1h0m51.6 0h0m-55 0.1h0m5.5 0h0m24.2 0h0m23 0h0m-45.2 0.1h0m19.6 0h0m3.1 0h0m14.4 0h0m0.7 0h0m3 0h0m-46.8 0.1h0m2.3 0h0m15.6 0h0m18.8 0h0m10.1 0h0m-39.8 0.1h0m0.3 0h0m46.7 0h0m-15.9 0.2h0m1.1 0h0m-39.1 0.1h0m4.9 0h0m8.2 0h0m28.6 0h0m0.2 0h0m-21.8 0.1h0m18.4 0h0m2.3 0h0m-37.7 0.1h0m-12.5 0.1h0m11.6 0.1h0m18.8 0h0m2.1 0h0m10.9 0h0m5 0h0m3.7 0h0m8.5 0h0m-49.8 0.1h0m24.3 0h0m-7.4 0.1h0m20.3 0h0m1.2 0h0m-44.9 0.1h0m18.2 0h0m23.7 0h0m3.6 0h0m8.8 0h0m-40 0.1h0m15.4 0h0m1 0h0m13 0h0m-25.2 0.1h0m12.2 0h0m21.4 0h0m-27.1 0.1h0m21.4 0h0m0.9 0h0m7.2 0h0m-1.8 0.1h0m-47.2 0.1h0m1.3 0h0m0.9 0h0m7.6 0h0m4.3 0h0m9.3 0h0m14.8 0h0m-18.8 0.1h0m18.2 0h0m-17.7 0.1h0m23.2 0h0m-3.1 0.1h0m-41.7 0.1h0m2.8 0h0m11.4 0h0m11 0h0m15.6 0h0m4.1 0h0m-26.4 0.1h0m1.4 0h0m3.8 0.1h0m23.2 0h0m-44 0.1h0m20.4 0h0m-17.6 0.1h0m2.1 0h0m12.6 0h0m24.5 0h0m-47 0.1h0m3.4 0h0m19.8 0h0m25.1 0.1h0m-41.1 0.1h0m10.6 0h0m23.1 0h0m-27.1 0.1h0m1.6 0h0m7.3 0h0m0.5 0h0m-17.1 0.1h0m17.1 0h0m3.3 0h0m-8.3 0.1h0m-21.3 0.1h0m4.5 0h0m24.4 0h0m19.6 0h0m4.9 0h0m-38.4 0.1h0m24.6 0h0m-24.8 0.1h0m5.7 0h0m-13.2 0.1h0m15.6 0h0m7.4 0h0m13.5 0.1h0m2.6 0h0m-33.7 0.1h0m11.9 0.1h0m3.4 0h0m2.6 0.1h0m-22.7 0.1h0m3.6 0h0m9.4 0h0m1.8 0h0m17.4 0h0m11.5 0h0m0.8 0h0m-39.4 0.1h0m3.1 0h0m26 0h0m0.9 0h0m-29.7 0.1h0m4 0h0m1.5 0.1h0m2.2 0h0m7 0h0m-26.9 0.1h0m48.4 0h0m-34.9 0.1h0m21.4 0h0m-22.8 0.1h0m12.4 0h0m16.7 0h0m3.5 0h0m0.9 0h0m-22.8 0.1h0m15.3 0h0m-17.2 0.2h0m-1 0.2h0m25.8 0h0m-24.7 0.1h0m4.2 0h0m18.3 0h0m-21.3 0.2h0m13.8 0h0m8.3 0h0m-34.7 0.1h0m2.1 0h0m3.8 0h0m6.2 0h0m11 0h0m-28.6 0.1h0m21.1 0h0m15.8 0.1h0m12.1 0h0m-37.7 0.1h0m41.7 0h0m-46.2 0.1h0m-8 0.1h0m14 0h0m27.8 0h0m-16.2 0.1h0m-13.5 0.2h0m13.8 0h0m-15.8 0.1h0m3.5 0h0m4.8 0h0m20.2 0h0m13 0h0m-38.2 0.1h0m0.9 0h0m-1.5 0.1h0m-0.3 0.1h0m4.3 0h0m-4.1 0.1h0m10.5 0h0m-13.9 0.3h0m2.9 0h0m1.1 0h0m0.2 0.1h0m4.1 0.1h0m23.8 0.2h0m1.4 0h0m-28.4 0.1h0m-5.9 0.1h0m8.2 0h0m-15.2 0.1h0m14.3 0.1h0m1.5 0h0m6.8 0h0m23.6 0h0m-34.1 0.1h0m1.8 0h0m4.8 0h0m-9.8 0.2h0m7.4 0h0m20.9 0.3h0m-18.8 0.3h0m2.9 0h0m-10.2 0.2h0m6.3 0h0m-11.1 0.1h0m4 0.1h0m12.9 0.3h0m-12.8 0.1h0m2.9 0.1h0m4.8 0h0m-16.6 0.3h0m12.3 0h0m5.9 0.1h0m5.3 0.1h0m-11 0.3h0m0.2 0.1h0m29.8 0h0m-5.2 0.1h0m-28.5 0.3h0m10.8 0.2h0m-10 0.1h0m5.4 0.1h0m18.3 0h0m-16.1 1.2h0m1.8 0h0m-6.2 0.2h0m0.5 0h0m-1.4 0.1h0m-1.5 0.3h0m-1.2 0.3h0m3.8 0.2h0m-0.4 0.3h0m1.2 0h0m2.5 0.2h0m0.1 0h0m-0.1 0.5h0m19.8 0h0m-28.6 0.2h0m5.7 0h0m18.8 0.7h0m-11.9 0.3h0m-8.8 0.3h0m-1.6 1.1h0m3.6 3.1h0m-5.9 0.6h0m5.7 1.4h0m28.1 3.9h0" stroke="#4d54a4" stroke-width="0.58" stroke-linecap="square" stroke-opacity="0.6"/><path d="M250.6 55.7h0m-18.7 1.4h0m1.1 0h0m-0.3 0.5h0m-1.8 0.3h0m23.9 0.4h0m-25.6 0.1h0m22.6 0h0m1.7 0h0m-23.2 0.1h0m18.1 0h0m6.1 0.1h0m2 0.4h0m-8.4 0.1h0m-16.9 0.1h0m17.1 0h0m5.7 0h0m-26.7 0.1h0m6.1 0h0m18.9 0h0m-28.9 0.1h0m6.8 0h0m0.5 0h0m18.4 0h0m-19 0.1h0m2.7 0h0m20.3 0h0m-6.5 0.1h0m8.9 0.1h0m-22.3 0.1h0m19.3 0h0m-22.2 0.1h0m2.8 0h0m20.9 0h0m-23.4 0.1h0m0.9 0h0m2.7 0h0m18.7 0.1h0m2.6 0h0m-2.1 0.2h0m-21.6 0.1h0m0.3 0h0m1.7 0h0m-3.6 0.1h0m-0.7 0.1h0m1.4 0h0m20.6 0h0m0.4 0h0m-21.7 0.1h0m22.9 0h0m-22.7 0.2h0m0 0.1h0m2.8 0h0m0.9 0h0m19.1 0h0m-2.7 0.1h0m4.8 0h0m-25.9 0.1h0m25.8 0h0m-21.5 0.1h0m-6 0.1h0m6.5 0h0m14.8 0h0m-17.7 0.1h0m-6.4 0.3h0m6.7 0h0m-0.1 0.1h0m-4.3 0.1h0m25.9 0h0m4.5 0h0m-33 0.1h0m5.3 0h0m8.8 0h0m-3.9 0.1h0m15.7 0h0m1.7 0h0m3.3 0h0m-22.1 0.1h0m15.8 0h0m0.1 0h0m1 0h0m-25.7 0.1h0m5.5 0h0m22.6 0h0m-23.7 0.1h0m18.4 0h0m3.8 0h0m-21.3 0.1h0m7.6 0h0m-10 0.1h0m21 0h0m-24.5 0.1h0m16.2 0h0m8.5 0h0m-19.7 0.1h0m25.9 0h0m-32.7 0.1h0m3.7 0h0m0.7 0h0m1.3 0.1h0m20.7 0h0m-22.8 0.1h0m17.3 0h0m11.2 0h0m0.6 0h0m-0.9 0.1h0m0.9 0h0m-30.1 0.1h0m9.8 0h0m-11.7 0.1h0m9.3 0h0m3.5 0h0m-5.3 0.1h0m23.1 0h0m-20.5 0.1h0m16.4 0h0m4.2 0h0m-21.3 0.1h0m12.7 0h0m6.6 0h0m0.6 0h0m3.6 0h0m-24.7 0.1h0m4.2 0h0m3.3 0h0m13.3 0h0m-10.2 0.1h0m5.6 0h0m2 0h0m-0.7 0.1h0m5.7 0h0m-20.2 0.1h0m15.1 0h0m-20.6 0.1h0m22.3 0h0m0.8 0h0m-27.9 0.1h0m11 0h0m0.5 0h0m-13 0.1h0m25.8 0h0m5 0h0m4.1 0h0m-34.6 0.1h0m12 0h0m15.6 0h0m0.5 0h0m-21.5 0.1h0m20.6 0h0m-22.1 0.1h0m2.9 0h0m0.9 0h0m12.3 0h0m4.5 0.1h0m5.4 0h0m2.3 0h0m-24.8 0.1h0m-4.8 0.1h0m2.4 0h0m19.3 0h0m7.6 0h0m-31.6 0.1h0m0.6 0h0m9.6 0.1h0m6.9 0h0m4.1 0h0m6.4 0h0m4.2 0h0m-21.1 0.1h0m20.8 0h0m-28.8 0.1h0m26.1 0h0m0.4 0h0m-18.5 0.1h0m7.6 0h0m6.2 0h0m5.1 0h0m2.3 0h0m-30.4 0.1h0m8.3 0h0m0.6 0.1h0m5.5 0h0m-3.6 0.1h0m2.2 0h0m3.7 0h0m4.2 0h0m-16.8 0.1h0m7.3 0h0m3.7 0h0m-9.8 0.1h0m16.3 0h0m1.2 0h0m-12.6 0.1h0m13.6 0h0m5.7 0h0m-19.1 0.1h0m-12.9 0.1h0m18.5 0h0m2.7 0h0m1.4 0h0m1.4 0h0m8.3 0h0m-29.6 0.1h0m7 0h0m14.4 0h0m0.1 0h0m4.1 0h0m-27.1 0.1h0m0.7 0h0m11.4 0h0m5.5 0h0m4.1 0h0m1.9 0h0m-4.3 0.1h0m1 0h0m3.3 0h0m-10.2 0.1h0m5.2 0h0m-12.5 0.1h0m24.9 0h0m-20.2 0.1h0m20.4 0h0m-17.3 0.1h0m0.2 0h0m2.1 0h0m3.4 0h0m8.2 0h0m4.3 0h0m-31.3 0.1h0m9.3 0.1h0m15.9 0h0m-28.4 0.1h0m25.9 0h0m8.7 0h0m0.8 0h0m-13.7 0.1h0m4.5 0h0m2.5 0h0m-9.2 0.1h0m3 0h0m10 0h0m-29.9 0.1h0m9.7 0h0m23.3 0h0m0.3 0h0m-6.7 0.1h0m4.7 0h0m-33.4 0.1h0m5.1 0h0m27.3 0h0m4 0h0m-2.5 0.2h0m-15.8 0.1h0m4.1 0h0m0.1 0h0m2.8 0h0m-20.5 0.1h0m8.6 0h0m-10 0.1h0m3 0h0m15.6 0h0m0.6 0h0m11.8 0h0m-34.2 0.1h0m22.6 0h0m-24.1 0.1h0m2.8 0h0m12.7 0h0m0.3 0h0m1.3 0h0m7.3 0h0m-5.9 0.1h0m4.4 0h0m0.2 0h0m1.5 0h0m4.9 0h0m5 0h0m-31.4 0.1h0m0.7 0h0m16.3 0h0m-18.2 0.1h0m1.4 0h0m18.8 0h0m4.9 0h0m7.6 0.1h0m-30.9 0.1h0m0.4 0h0m0.1 0h0m18.6 0h0m1.9 0h0m0.8 0h0m-22.6 0.1h0m12.2 0h0m12.3 0h0m7.5 0h0m-26.1 0.1h0m5.2 0h0m10.7 0h0m12.9 0.1h0m-23.4 0.1h0m6.4 0h0m2.7 0h0m14.7 0h0m-28.7 0.1h0m1.3 0h0m12.6 0h0m4.2 0h0m7.9 0h0m-27.5 0.1h0m12.6 0h0m5.6 0h0m5.7 0h0m7.2 0h0m-27.2 0.1h0m3.1 0h0m13.1 0h0m1.3 0h0m4.2 0h0m-29 0.1h0m7.1 0h0m25.5 0h0m-34.2 0.1h0m12.4 0h0m3.5 0h0m0.3 0h0m-16.3 0.2h0m6.4 0h0m25.7 0h0m-31.7 0.1h0m1.4 0h0m27.5 0h0m-31.4 0.1h0m15.6 0h0m-13.9 0.1h0m18.2 0h0m-7.1 0.1h0m18.3 0h0m0.6 0h0m-12.2 0.1h0m8.6 0h0m5.6 0h0m4.3 0h0m-37.1 0.1h0m3.8 0h0m7.8 0h0m21.9 0h0m-6.2 0.1h0m-22.6 0.2h0m7.1 0h0m9 0h0m2.5 0h0m-2.7 0.1h0m2 0h0m9.4 0h0m1.5 0h0m-21.4 0.1h0m24.1 0h0m-1.4 0.1h0m-34.7 0.1h0m1.5 0h0m19.8 0h0m12 0h0m-14.8 0.1h0m13.6 0h0m6.4 0.1h0m-22.2 0.1h0m-1.2 0.1h0m4.3 0h0m2.3 0h0m1.1 0h0m8.6 0h0m-32.1 0.1h0m2 0h0m14.2 0h0m15.6 0h0m-6.1 0.1h0m8.9 0h0m-33.2 0.1h0m10.9 0h0m9.7 0.1h0m10 0h0m-19.1 0.1h0m-12.3 0.1h0m2.3 0h0m3.1 0h0m3.6 0h0m15.4 0h0m8.3 0h0m-25.6 0.1h0m2.8 0h0m16.9 0h0m-27.5 0.1h0m20.3 0h0m13.4 0h0m-16.1 0.1h0m-20 0.1h0m28.1 0h0m8 0h0m-30.2 0.1h0m7.8 0h0m17.7 0h0m-25.8 0.1h0m6.3 0h0m1.2 0h0m6.1 0.1h0m6.6 0h0m-20.1 0.1h0m31.8 0h0m-18.1 0.1h0m7.2 0h0m-11.7 0.2h0m10.8 0h0m-13 0.1h0m2.4 0h0m1.3 0h0m17.6 0h0m2.4 0h0m-6.9 0.1h0m-6.2 0.1h0m13.3 0h0m-33.8 0.1h0m8.2 0h0m12.8 0h0m-10.8 0.1h0m9.8 0h0m15.2 0h0m-36.4 0.1h0m15.5 0h0m-1.8 0.1h0m6.4 0h0m14.7 0h0m1.7 0h0m-35.2 0.1h0m8.3 0h0m1.7 0.1h0m5.8 0h0m-2.2 0.1h0m8.4 0h0m-2.4 0.1h0m16.2 0h0m-37 0.2h0m6 0h0m14.8 0h0m-19.2 0.1h0m12.6 0h0m4.3 0h0m-1.9 0.1h0m14 0h0m-30.7 0.1h0m20 0h0m15.2 0h0m2.4 0.1h0m-11.7 0.1h0m-22.1 0.1h0m30.2 0h0m3 0h0m1.3 0h0m-38.9 0.1h0m16.6 0h0m20.7 0h0m-28.3 0.1h0m7.9 0h0m5.4 0h0m-20.3 0.1h0m1.8 0.1h0m15.2 0h0m8.7 0h0m6.4 0h0m-18.6 0.1h0m1 0h0m8.1 0h0m-7.6 0.1h0m1.4 0h0m1.6 0h0m-13 0.1h0m10 0h0m1.1 0h0m4.7 0h0m0.5 0h0m-10.4 0.1h0m2.8 0h0m3 0h0m3.6 0h0m-10 0.1h0m4.9 0h0m-17.8 0.1h0m2.9 0h0m0.1 0.1h0m12.3 0h0m1.4 0h0m-14.3 0.1h0m18 0h0m18.2 0h0m-34.4 0.1h0m23.5 0.3h0m8.1 0h0m-34.8 0.1h0m1.7 0.1h0m26.8 0h0m6.1 0h0m-15.2 0.1h0m4.4 0h0m12.1 0h0m0.4 0h0m-32.9 0.1h0m16 0h0m1.6 0h0m5.4 0h0m-9.3 0.1h0m7.3 0h0m3 0h0m-4.2 0.1h0m7.2 0h0m4.6 0h0m2 0h0m-7.9 0.1h0m4.2 0h0m0.6 0h0m-25.8 0.1h0m-6.4 0.1h0m8.9 0h0m6.3 0h0m-17.1 0.3h0m3 0h0m10.3 0h0m20.3 0.1h0m5 0h0m-22.1 0.2h0m2.7 0h0m-16.8 0.1h0m12.6 0h0m7.6 0h0m15.5 0h0m-25.5 0.1h0m8 0h0m13 0h0m-33.9 0.1h0m20.1 0h0m1.6 0h0m4 0h0m0.1 0h0m-4.6 0.1h0m0.3 0h0m13.8 0h0m1.5 0h0m1.9 0h0m-33.1 0.1h0m-3.7 0.1h0m13.3 0h0m18.8 0h0m-32.7 0.1h0m19.4 0h0m15.5 0h0m-33.7 0.1h0m12.7 0h0m9 0h0m7 0h0m3.6 0h0m-34.5 0.1h0m14.1 0h0m1.2 0h0m6 0h0m14 0h0m-34.2 0.1h0m13 0h0m0.5 0h0m-10.6 0.1h0m-4 0.1h0m8.6 0h0m13.5 0h0m11.9 0h0m-15.7 0.1h0m20.1 0h0m0.1 0h0m-28.8 0.1h0m3.7 0h0m7.4 0h0m13.1 0h0m2 0h0m-32.2 0.1h0m11.6 0h0m4.7 0h0m-18.4 0.1h0m21.2 0h0m5.5 0h0m-13.2 0.2h0m1.6 0h0m18.6 0h0m1.1 0h0m-36.7 0.2h0m1.3 0h0m22.9 0h0m5.6 0h0m-13 0.1h0m-15.6 0.1h0m11.1 0h0m9.2 0h0m10 0h0m-31 0.1h0m0.8 0h0m37 0h0m-38 0.1h0m0.4 0h0m1.1 0h0m3.7 0h0m14.3 0h0m-19 0.1h0m17.6 0h0m0.1 0h0m16.6 0h0m3.5 0h0m-39 0.2h0m13.6 0h0m17 0.1h0m5.2 0h0m-35.5 0.1h0m3.4 0h0m6.6 0h0m7.7 0h0m6 0h0m-13.2 0.1h0m9.1 0h0m15.9 0h0m-32.4 0.1h0m10.8 0h0m4.1 0h0m2.8 0h0m2.6 0h0m9.1 0h0m4.3 0h0m-36.6 0.1h0m22.2 0h0m1.3 0h0m2.5 0h0m9.2 0h0m-12.9 0.1h0m-18.6 0.1h0m25.2 0h0m3.6 0h0m3.4 0h0m-14.2 0.1h0m12.8 0h0m-21.1 0.1h0m3.7 0h0m4.8 0h0m7.6 0h0m-22.8 0.1h0m13.7 0h0m-19.7 0.1h0m8.5 0h0m2.4 0h0m25.4 0h0m-21.9 0.1h0m4 0h0m3.8 0h0m12.4 0h0m-33.1 0.1h0m31 0.1h0m-33.2 0.1h0m5.7 0.1h0m2.8 0h0m13.5 0h0m14.4 0h0m-22.8 0.1h0m18.5 0h0m4 0h0m-38.6 0.1h0m13.5 0h0m2.4 0h0m12.5 0h0m-14.1 0.1h0m22.7 0h0m-36.6 0.1h0m22.8 0h0m0.9 0h0m-7.7 0.1h0m3.1 0h0m8.6 0h0m2.1 0h0m-29.8 0.1h0m13.9 0h0m9 0h0m-11.8 0.1h0m4.3 0h0m1.8 0h0m6.2 0.1h0m-1.4 0.1h0m-5.2 0.1h0m5.8 0h0m4.6 0h0m7.4 0h0m-36.6 0.1h0m19.5 0.1h0m17.7 0h0m-8.6 0.1h0m5.1 0h0m-30.7 0.1h0m22.1 0h0m0.5 0h0m12 0h0m0.3 0h0m-2.3 0.1h0m-31.9 0.1h0m29.6 0.1h0m-33.8 0.1h0m19.9 0h0m8.2 0h0m5.7 0h0m3.5 0h0m3.5 0h0m-39.8 0.1h0m14.6 0h0m1.7 0h0m5.4 0h0m12.6 0h0m4.4 0h0m-23.8 0.1h0m2.3 0h0m11.2 0h0m-29.8 0.1h0m19.7 0h0m11.3 0h0m7.5 0h0m-37.1 0.1h0m0.9 0h0m21.6 0h0m8.7 0h0m6.6 0h0m1.2 0h0m-18.3 0.1h0m7.5 0h0m0.7 0h0m0.8 0h0m8.2 0h0m1.2 0h0m-28.9 0.1h0m15.6 0h0m0.3 0h0m3.5 0h0m8.9 0h0m-31.3 0.1h0m24.6 0h0m-31 0.1h0m2 0h0m27.6 0h0m0 0h0m4.4 0h0m0.6 0h0m2.6 0h0m-26.4 0.1h0m0.4 0h0m-14.1 0.1h0m3.7 0h0m13 0h0m6.1 0h0m11.6 0h0m1.3 0h0m-34.9 0.1h0m18 0h0m13.7 0.1h0m-5.9 0.1h0m-25.3 0.1h0m6 0h0m24.9 0h0m1.3 0h0m-19.2 0.1h0m13.2 0h0m0.1 0h0m1.2 0h0m9.2 0h0m0.6 0h0m-26.7 0.1h0m28.4 0h0m2 0h0m-43.8 0.1h0m7.9 0h0m21.7 0h0m11.1 0h0m-25.3 0.1h0m15.4 0h0m-12.2 0.1h0m1.5 0h0m3 0h0m11 0h0m1.4 0h0m2.5 0h0m-37.7 0.1h0m5.7 0h0m2.6 0h0m18.6 0h0m2.9 0h0m1.1 0h0m3.8 0h0m7.3 0h0m-39.8 0.1h0m0.3 0h0m17.8 0h0m18.7 0h0m0.7 0h0m-35.6 0.1h0m14.7 0h0m10.1 0h0m-29.6 0.1h0m32.9 0h0m6.1 0h0m-33.8 0.1h0m7.1 0h0m-10.4 0.1h0m32.2 0h0m-30.6 0.1h0m35.2 0h0m-2.6 0.1h0m1.1 0h0m-32.8 0.1h0m33.2 0h0m3.9 0h0m-24.4 0.1h0m0.2 0h0m-9.9 0.1h0m9.3 0h0m1.7 0h0m23.3 0h0m-40.5 0.1h0m3 0h0m0.1 0h0m0.9 0h0m16.8 0h0m12.2 0h0m-32 0.1h0m6.6 0h0m-4 0.1h0m13.4 0h0m13.9 0h0m-29.6 0.1h0m5.1 0h0m10.7 0h0m13.5 0.2h0m-32.5 0.1h0m10 0h0m24.7 0h0m1.9 0.1h0m0.7 0h0m-33.3 0.1h0m1.7 0h0m1.7 0h0m-4.1 0.1h0m13.5 0h0m9.2 0h0m-19.5 0.1h0m7.1 0h0m21.9 0h0m1.6 0h0m1.2 0h0m-34.7 0.1h0m31.1 0h0m6 0h0m-39.8 0.1h0m3.5 0h0m32.3 0h0m0.6 0h0m2 0h0m-32.8 0.1h0m11.4 0h0m11.9 0h0m5.4 0h0m2 0h0m0.9 0h0m-32.9 0.1h0m22.4 0h0m14.8 0h0m-39.1 0.1h0m28.5 0h0m4.6 0h0m-34.1 0.1h0m6.8 0h0m29.3 0h0m1.8 0h0m-39.3 0.1h0m5.3 0h0m13.4 0h0m12.1 0.1h0m2.4 0h0m6.2 0h0m-40 0.1h0m5.7 0h0m10.3 0h0m14 0h0m2.8 0h0m-17.7 0.1h0m-12.7 0.1h0m38.2 0h0m-40.3 0.1h0m39.1 0h0m0.3 0h0m-19.7 0.1h0m-3.6 0.1h0m14.7 0h0m-28.2 0.1h0m2.2 0h0m5.3 0h0m4.4 0h0m2.3 0h0m17.1 0h0m-25.6 0.1h0m3.4 0h0m18.1 0h0m-29.2 0.1h0m5 0h0m1.5 0h0m30.6 0h0m-33.6 0.1h0m31 0h0m3.4 0h0m-37.2 0.1h0m0.7 0h0m37.5 0h0m2.2 0h0m-38.7 0.1h0m6.5 0h0m6.3 0h0m21.9 0h0m-37.6 0.1h0m9.4 0.1h0m4.6 0h0m3.6 0h0m13.7 0h0m-28 0.2h0m13.3 0h0m-18.1 0.1h0m1.2 0h0m0.8 0h0m6.2 0h0m3.4 0h0m26.5 0h0m1.5 0h0m-37.4 0.1h0m11.4 0h0m22.8 0h0m-18.4 0.1h0m-13.1 0.1h0m37.1 0h0m-39.8 0.1h0m17.5 0h0m18 0h0m-19.4 0.1h0m-0.2 0.1h0m0.7 0h0m13.6 0h0m7.4 0h0m-25.7 0.1h0m3.5 0h0m-13.9 0.1h0m6.5 0h0m1.6 0h0m26.4 0h0m-37.4 0.1h0m17.7 0h0m-19.3 0.1h0m6.5 0h0m13.6 0h0m17 0h0m-29.3 0.1h0m8.5 0.1h0m-3.1 0.1h0m5.4 0h0m22 0.1h0m-4.6 0.1h0m-35.1 0.1h0m3.2 0h0m3.7 0.1h0m0.5 0h0m3.8 0h0m5.5 0h0m0.4 0h0m-10.5 0.1h0m6.5 0h0m3.8 0h0m0.2 0h0m-5.1 0.1h0m0.2 0h0m3.6 0h0m-12.6 0.1h0m1.5 0.1h0m4.4 0h0m3.5 0.1h0m-10.3 0.1h0m2.4 0h0m9.4 0h0m-2.5 0.1h0m2.7 0h0m3.2 0h0m-11.4 0.2h0m1.1 0h0m6.8 0h0m4 0.1h0m-16.5 0.1h0m14.1 0h0m-8.7 0.1h0m2.9 0.1h0m0.9 0h0m1.7 0h0m27.2 0h0m-37 0.1h0m4.7 0h0m7.6 0h0m0.5 0h0m-8 0.1h0m5.7 0h0m-6.7 0.1h0m-0.6 0.1h0m3.3 0h0m-9.6 0.1h0m1.8 0h0m5 0h0m5.4 0.2h0m-9.7 0.1h0m10.4 0h0m4.4 0.1h0m-16.7 0.1h0m7.6 0.1h0m2.7 0h0m2.5 0h0m-7.6 0.1h0m11.5 0h0m-12.6 0.1h0m1.4 0.2h0m2.6 0h0m1.2 0h0m2.2 0h0m-8.5 0.1h0m3.6 0h0m2.8 0h0m8.2 0.2h0m-14.6 0.1h0m1.6 0h0m8.8 0h0m-6.7 0.1h0m5.7 0.1h0m-7.2 0.1h0m4.3 0h0m-4.2 0.1h0m12.9 0h0m-14 0.1h0m0.1 0h0m3.9 0h0m-4 0.1h0m1.2 0h0m6.5 0.1h0m5.9 0.1h0m-12.8 0.2h0m8 0h0m-6 0.1h0m2.9 0h0m2 0.1h0m-5.5 0.1h0m6.4 0.1h0m-5.9 0.2h0m6.6 0h0m-12 0.1h0m2.9 0.1h0m6.2 0h0m-0.6 0.3h0m-5.1 0.4h0m2.1 0h0m4.7 0.3h0m0.4 0.5h0m-6.9 0.1h0m3.9 0.1h0m-3 0.2h0m7.6 0.1h0m-2.9 0.7h0m2.1 0.6h0" stroke="#6f77b6" stroke-width="0.58" stroke-linecap="square" stroke-opacity="0.6"/><path d="M231.5 60.0h0m22 0.4h0m-23.3 0.3h0m-1.7 0.8h0m20.9 0h0m2.2 0.2h0m2.3 0.3h0m-2.5 0.4h0m2.4 0.2h0m-27 0.2h0m24.3 0h0m1.4 0.1h0m-5 0.1h0m2 0.1h0m0.1 0.1h0m2.8 0.1h0m-23.9 0.1h0m3.2 0h0m1 0.1h0m0.8 0h0m23.4 0.1h0m0.3 0h0m-6.9 0.1h0m-1.6 0.2h0m4.1 0h0m-23.3 0.1h0m6.2 0h0m14.6 0h0m-20.4 0.2h0m1.6 0h0m14.2 0h0m-14.3 0.1h0m17.6 0h0m-14.2 0.1h0m1.1 0h0m15.9 0h0m4.6 0h0m-29.3 0.1h0m23.3 0h0m-18.4 0.2h0m16.4 0h0m-21 0.2h0m23.8 0h0m-18.1 0.1h0m1.7 0h0m18.2 0h0m-27.4 0.2h0m6.5 0h0m-1.7 0.1h0m19.8 0h0m6 0h0m-27.9 0.1h0m8.4 0.1h0m11.3 0h0m4.7 0h0m1.8 0h0m-27.7 0.1h0m6.5 0h0m0.4 0h0m15.1 0h0m8.1 0h0m-26.6 0.2h0m2.5 0h0m1.2 0h0m-4.9 0.1h0m1.4 0h0m-5.2 0.1h0m0.8 0h0m2.5 0h0m1 0h0m16.9 0h0m8.5 0h0m-3 0.1h0m1.3 0h0m-18.2 0.2h0m16.8 0h0m-19.9 0.1h0m21.9 0h0m-3.5 0.1h0m2 0h0m-21.2 0.2h0m1.3 0h0m1.4 0h0m-2.4 0.1h0m13.7 0h0m6.7 0h0m-27.6 0.1h0m4.6 0h0m21.6 0h0m-25.3 0.1h0m11.3 0h0m11.9 0h0m3.6 0h0m2.1 0h0m-26.5 0.1h0m2.2 0h0m18.9 0h0m-24.1 0.1h0m8 0h0m-4.8 0.1h0m3.7 0h0m0.3 0h0m15.5 0h0m-19.8 0.1h0m0.1 0h0m4.3 0h0m15.5 0h0m7.5 0h0m-30.1 0.1h0m20.3 0h0m9.3 0.1h0m4.8 0h0m-30.1 0.1h0m3.1 0h0m2.8 0h0m12.3 0h0m-14.7 0.1h0m16 0h0m-20.8 0.1h0m16.6 0h0m-14.2 0.1h0m24.6 0h0m-24.3 0.1h0m18.9 0h0m2.8 0.1h0m1.3 0h0m0.2 0h0m1.8 0h0m-29.7 0.1h0m1 0h0m2.9 0h0m-4.6 0.1h0m2.2 0h0m4.4 0.1h0m0.5 0h0m12.5 0h0m6.5 0h0m-25.7 0.1h0m17.3 0h0m-19.7 0.1h0m30.5 0h0m1.9 0h0m-9.6 0.1h0m8.3 0h0m-20.2 0.1h0m9.6 0h0m-0.5 0.1h0m-15.1 0.1h0m26.8 0h0m-26.3 0.1h0m0.7 0h0m8.3 0h0m9.7 0.1h0m-19.4 0.1h0m6.8 0h0m-4.7 0.1h0m24.7 0h0m-23.3 0.2h0m3.4 0h0m0 0.1h0m11.8 0h0m-19.5 0.1h0m26.9 0h0m-4 0.1h0m-21.5 0.1h0m5.4 0h0m0.5 0h0m6.6 0h0m5.3 0h0m9 0.1h0m1.1 0h0m-29.7 0.1h0m22.2 0h0m-14.6 0.1h0m20.4 0h0m-6.5 0.1h0m5 0h0m0.6 0.1h0m-23.4 0.1h0m18.2 0h0m1 0h0m-26.2 0.1h0m2.5 0h0m5.2 0h0m1.8 0h0m13.1 0h0m4.3 0h0m-25.3 0.1h0m4.1 0h0m14.7 0h0m8.5 0h0m-23.2 0.1h0m5.3 0h0m1.9 0h0m9.4 0h0m4 0h0m-13.8 0.1h0m12.5 0h0m6 0h0m-28.4 0.1h0m1 0h0m5.8 0h0m10.7 0.1h0m9.1 0h0m1 0h0m-23.5 0.1h0m0.9 0h0m4.8 0h0m-15.3 0.1h0m16.1 0h0m11.3 0h0m-18.3 0.1h0m15.5 0h0m5.1 0h0m-14.9 0.1h0m1.3 0h0m3 0h0m-13 0.1h0m20.5 0h0m3.6 0h0m2.3 0.1h0m-28.4 0.1h0m12.7 0.1h0m9.1 0h0m10.4 0h0m-33.3 0.1h0m19.9 0.1h0m5.1 0h0m0.8 0h0m0.6 0h0m0.5 0h0m5.5 0h0m-26.1 0.1h0m3.3 0h0m1 0h0m10.8 0h0m-22.3 0.2h0m11.7 0h0m-9.3 0.1h0m8.3 0h0m1.3 0h0m13.8 0h0m7.9 0.1h0m-9.3 0.1h0m9.3 0h0m-31.5 0.1h0m9.2 0h0m20 0h0m-1.2 0.1h0m-27.6 0.1h0m26.5 0h0m4.3 0h0m-10.3 0.1h0m11.1 0h0m-32.3 0.2h0m10.5 0h0m19.8 0h0m-24.7 0.1h0m4.6 0h0m0.2 0h0m8.3 0h0m-21 0.1h0m21.4 0h0m3.1 0h0m7.6 0h0m-16.7 0.1h0m7.1 0h0m-21.1 0.1h0m1.1 0h0m30.9 0h0m-29 0.2h0m6.2 0h0m23.8 0h0m-21 0.1h0m21.2 0h0m-23.8 0.2h0m0.8 0h0m14.2 0h0m1.1 0h0m3.6 0h0m-25 0.1h0m2.3 0h0m5.2 0.1h0m13.6 0h0m3.2 0h0m1.7 0h0m-22.1 0.1h0m11.6 0h0m4.7 0.1h0m0.5 0h0m-23.7 0.1h0m7.9 0h0m1.9 0h0m3 0h0m4.2 0h0m-6.8 0.1h0m17.8 0h0m-29.6 0.1h0m0.3 0h0m9.1 0h0m6.8 0.1h0m10.8 0h0m0.2 0h0m-5.4 0.1h0m3.1 0h0m6.6 0h0m-32.1 0.1h0m9.6 0h0m11.8 0h0m3.8 0h0m1.4 0h0m-26.4 0.1h0m-3.2 0.1h0m29.5 0h0m0.6 0h0m1.8 0h0m-20.2 0.1h0m14.8 0h0m5 0h0m2.4 0h0m-8.4 0.1h0m2.1 0h0m6 0h0m-31 0.1h0m14.1 0h0m14.8 0h0m2.9 0h0m-7.8 0.1h0m-2.3 0.1h0m-5.9 0.1h0m-14.8 0.1h0m0.6 0h0m21 0h0m9.9 0h0m-26.9 0.1h0m6.9 0h0m5.2 0h0m-14.1 0.1h0m19 0.2h0m-10.7 0.1h0m8.9 0h0m-4.9 0.1h0m7.7 0h0m2.8 0h0m-4.2 0.1h0m10.1 0.1h0m-15.1 0.1h0m-4.1 0.1h0m11.6 0h0m-25.4 0.1h0m17.2 0h0m-7.7 0.1h0m1.8 0h0m-10 0.1h0m3.1 0h0m8.5 0h0m4 0h0m11.8 0h0m0.8 0h0m3.1 0h0m-19.8 0.1h0m11.1 0h0m3.8 0h0m7.3 0h0m-23.8 0.1h0m-1.5 0.1h0m3.7 0h0m13 0h0m-3.5 0.1h0m-17.5 0.1h0m5.9 0h0m10.5 0h0m9.5 0h0m-30.2 0.1h0m10.1 0h0m2.5 0h0m-11.5 0.1h0m11.8 0h0m0.2 0h0m13.7 0h0m-21.2 0.1h0m16.9 0h0m-24.5 0.1h0m11.3 0h0m16.5 0h0m-4 0.1h0m11.3 0h0m-27.9 0.1h0m6.5 0h0m9.5 0h0m2.8 0h0m-24.4 0.1h0m3.8 0h0m21.9 0h0m-1.8 0.1h0m-19.7 0.1h0m6.9 0h0m-7.5 0.1h0m5.1 0h0m-0.7 0.1h0m0.4 0h0m2.1 0h0m1.2 0h0m-7.7 0.1h0m1.6 0h0m18 0h0m5.4 0.1h0m-21.6 0.1h0m3.1 0h0m19.3 0h0m4.5 0h0m-31.3 0.1h0m12.8 0h0m7.3 0h0m6.2 0h0m-4.2 0.1h0m-23.9 0.1h0m17.9 0h0m9 0h0m-4.9 0.1h0m7.2 0h0m-29.8 0.1h0m5.6 0h0m15.5 0h0m0.3 0h0m3.5 0h0m3.4 0.1h0m-28.8 0.1h0m11.7 0h0m13.6 0h0m5.2 0h0m-19.5 0.2h0m10 0h0m-13.7 0.1h0m1.9 0h0m16.7 0h0m8.3 0h0m-22.1 0.1h0m12.8 0h0m-1.9 0.1h0m1.5 0h0m0.4 0.1h0m10.7 0h0m-35.9 0.1h0m29.4 0h0m0.7 0h0m-20.1 0.1h0m-1.7 0.1h0m-9.4 0.1h0m0.2 0h0m2.5 0h0m1.1 0h0m27.8 0h0m-23.2 0.1h0m20.2 0.1h0m-17.7 0.1h0m23.2 0.2h0m-22.1 0.1h0m8.4 0h0m5.2 0h0m-3.1 0.1h0m6.9 0h0m1.3 0h0m4.2 0h0m-25.1 0.1h0m0.4 0h0m1.6 0h0m18.6 0h0m-27.4 0.1h0m8 0h0m18.1 0h0m0.3 0h0m-2.4 0.1h0m0.1 0h0m-26.1 0.1h0m0.5 0h0m6.3 0h0m17 0h0m3.2 0h0m-18.5 0.1h0m3.7 0h0m10.6 0h0m2 0h0m0.2 0h0m6.2 0h0m4 0h0m-4.2 0.1h0m-23.5 0.1h0m13.8 0h0m6.9 0h0m-25.6 0.2h0m19.8 0.1h0m2.9 0h0m-21.8 0.1h0m2 0h0m14.3 0h0m3.9 0h0m-0.6 0.1h0m5.1 0h0m-27.2 0.1h0m4.5 0h0m3.1 0h0m16.3 0h0m-25.3 0.1h0m1 0h0m8.9 0h0m18.8 0h0m2.6 0h0m0.5 0h0m3.2 0h0m-23.4 0.1h0m0.3 0h0m18.6 0h0m-19.5 0.1h0m13.4 0h0m3.7 0h0m-14.2 0.1h0m8.8 0h0m8 0h0m-29.4 0.1h0m8.4 0h0m-3.7 0.1h0m25.9 0h0m-23.7 0.1h0m18.5 0.1h0m-26.1 0.1h0m0.1 0h0m2.7 0.1h0m-3.5 0.1h0m2 0.1h0m6.2 0h0m14.3 0h0m1 0h0m3.1 0.1h0m-17.3 0.1h0m1.7 0h0m9.1 0h0m7.5 0h0m-31.8 0.2h0m7 0h0m1.3 0h0m0.2 0h0m2.4 0h0m-11.6 0.1h0m3.3 0h0m9.6 0h0m19.9 0h0m5.6 0h0m-33 0.1h0m19.6 0h0m10.2 0h0m-25.4 0.1h0m29.1 0h0m-23.9 0.1h0m-9.1 0.1h0m6.6 0h0m1.4 0h0m14.5 0h0m-25.7 0.1h0m36.6 0h0m-30.3 0.1h0m5.9 0h0m12.6 0h0m9.1 0h0m-29 0.1h0m-2 0.1h0m7.8 0h0m15.9 0h0m2.7 0h0m-17.1 0.1h0m-7.4 0.1h0m1.8 0h0m4.4 0h0m-2.1 0.1h0m4.1 0.1h0m10.8 0h0m4.4 0.1h0m-19.3 0.1h0m-5 0.2h0m0.3 0h0m-0.3 0.1h0m29.3 0h0m-4.9 0.1h0m-23.4 0.1h0m-1.9 0.1h0m25 0.1h0m-19.9 0.1h0m0.2 0.1h0m22.3 0h0m3.1 0h0m-29.8 0.1h0m3.7 0h0m0.3 0h0m4.3 0h0m-9.9 0.1h0m7.9 0.1h0m-8.3 0.1h0m6.6 0h0m2 0h0m20.5 0h0m-20.9 0.1h0m0.5 0h0m-8.9 0.2h0m6.5 0h0m1.2 0h0m23.1 0h0m-31.4 0.2h0m7.7 0h0m-6.4 0.1h0m10.5 0h0m17.9 0h0m-30 0.1h0m3.4 0h0m5.1 0.1h0m20.5 0h0m-29.2 0.1h0m3.7 0h0m1.2 0h0m-5 0.1h0m5.1 0h0m24 0h0m-23.2 0.1h0m20.6 0h0m-24.1 0.1h0m2.8 0h0m19.2 0h0m-20.2 0.1h0m-5.6 0.1h0m1.8 0h0m6 0h0m2.6 0h0m22.9 0.1h0m-32.7 0.1h0m8.6 0h0m-6.6 0.2h0m-2.1 0.1h0m28.5 0h0m-27.2 0.1h0m-2.4 0.1h0m2.5 0h0m7.9 0h0m19.6 0.4h0m2 0h0m-23.8 0.2h0m-2.2 0.1h0m0.5 0h0m1.5 0h0m-8.6 0.3h0m3.6 0h0m-3.9 0.1h0m4.5 0h0m3 0h0m2.9 0.1h0m-6.4 0.1h0m2.7 0.1h0m3.2 0.1h0m18.7 0.2h0m-18.1 0.3h0m-9.8 0.2h0m8.3 0.1h0m-4 0.1h0m0.1 0.1h0m9 0.1h0m-13 0.1h0m11.2 0.1h0m21.6 0h0m-25.3 0.2h0m-0.2 0.2h0m-9.7 0.1h0m11.7 0.1h0m-4.2 0.3h0m-4.7 0.1h0m0.4 0h0m4.9 0.1h0m-2.8 0.1h0m-1.1 0.2h0m0.2 0h0m-0.3 0.2h0m1.7 0h0m7.3 0h0m-12.4 0.1h0m2.7 0.3h0m1.9 0h0m4.5 0h0m-4.7 0.1h0m2 0h0m-2.5 0.1h0m0.3 0h0m0.3 0h0m-4.2 0.6h0m2 0.1h0m0.1 0.1h0m1.1 0.1h0m3.7 0.4h0m-1.1 0.4h0m-4.6 1.4h0" stroke="#9ea88e" stroke-width="0.58" stroke-linecap="square" stroke-opacity="1"/><path d="M233.0 61.2h0m-2.9 0.4h0m23.1 0h0m-24.9 0.1h0m4.1 0.2h0m-1.4 0.2h0m20.5 0.1h0m-2.9 1h0m-17 0.3h0m18.4 0h0m-19.7 0.1h0m-0.2 0.2h0m1.6 0h0m-0.1 0.1h0m21.6 0h0m-22.9 0.1h0m-1.1 0.1h0m26.3 0.1h0m-28.9 0.1h0m26.4 0h0m-25.3 0.1h0m4.4 0.5h0m-3.6 0.2h0m0.8 0.2h0m1.1 0h0m0.5 0h0m0.7 0.1h0m21.4 0h0m-1.8 0.1h0m-26.3 0.1h0m4.6 0h0m22.3 0h0m-23.2 0.1h0m3.7 0h0m-2.9 0.1h0m23 0h0m-25.8 0.1h0m23.2 0h0m-18.5 0.1h0m16.6 0h0m1.4 0.1h0m-21.4 0.1h0m3.1 0.1h0m1.3 0h0m-5 0.4h0m1.4 0h0m-1.5 0.1h0m25.3 0h0m-23.4 0.1h0m0.1 0.1h0m0.2 0h0m2.2 0.1h0m18.7 0h0m2.3 0h0m-22 0.1h0m2.4 0h0m-3.6 0.3h0m-3 0.1h0m24.4 0h0m2.5 0h0m-26.7 0.1h0m1.5 0h0m17.8 0.1h0m-14.5 0.1h0m18.1 0h0m-21.3 0.1h0m22.4 0h0m0.2 0h0m0.2 0.1h0m3.3 0.1h0m-0.5 0.1h0m-27.5 0.1h0m19 0h0m-17.4 0.1h0m4.3 0h0m18.4 0h0m0.7 0h0m0.1 0h0m5.2 0h0m-2.3 0.1h0m-30.1 0.1h0m6.2 0.1h0m12.7 0h0m-18.3 0.1h0m9.5 0h0m-5.8 0.2h0m16.4 0h0m5.5 0h0m1.7 0h0m-24.3 0.2h0m17.7 0h0m-20.1 0.1h0m0.7 0.1h0m1.6 0h0m2.3 0h0m2.6 0h0m-2 0.1h0m2.7 0h0m0.4 0h0m-7.1 0.1h0m21.9 0h0m-2.4 0.1h0m7.5 0h0m-26.9 0.1h0m3.1 0h0m17 0.1h0m2.9 0h0m1.1 0h0m2 0h0m1.4 0h0m-23.8 0.1h0m16.2 0h0m1.5 0h0m0.1 0.1h0m3.3 0h0m3.1 0h0m-24.7 0.1h0m22.8 0.1h0m-23 0.1h0m1.5 0h0m3.5 0h0m16.3 0h0m-23.6 0.1h0m18.9 0.1h0m2.4 0h0m-19 0.1h0m24.3 0h0m-2.8 0.2h0m5.9 0h0m-33.5 0.1h0m3 0h0m18.2 0h0m6.2 0h0m3.9 0h0m-34.4 0.1h0m4.8 0h0m4.1 0h0m0.7 0h0m-3.2 0.1h0m6.1 0h0m16.6 0h0m-20.7 0.1h0m5 0h0m0.6 0h0m12 0h0m2.7 0h0m0.7 0h0m-20.9 0.1h0m15.5 0h0m3.5 0h0m5.3 0h0m-27.7 0.1h0m23.8 0h0m2.5 0h0m1.8 0h0m1 0h0m-22.4 0.1h0m0.5 0h0m2.1 0h0m11.3 0h0m0.6 0h0m2.8 0h0m0.4 0h0m3.3 0h0m-23.8 0.1h0m2.9 0h0m1.5 0h0m16.1 0h0m0.3 0h0m-4.3 0.1h0m10.7 0h0m-28.2 0.1h0m14.2 0.1h0m5.7 0h0m-22.9 0.1h0m2 0h0m21.5 0h0m1 0h0m3 0h0m0.2 0h0m0.8 0h0m-4.7 0.1h0m0.9 0.1h0m-22.1 0.1h0m5.2 0h0m11.2 0h0m3.9 0h0m-22.4 0.1h0m2.2 0h0m1.7 0h0m16.7 0.1h0m9 0h0m-9.9 0.1h0m3 0h0m-22.7 0.1h0m2.4 0h0m0.9 0h0m23.1 0h0m0.4 0.1h0m1 0h0m0.7 0h0m2.3 0h0m-31.2 0.1h0m18.6 0h0m2.5 0h0m1.8 0h0m0.1 0h0m5.9 0h0m-30.1 0.2h0m21.6 0h0m1.8 0h0m0.6 0h0m-25.5 0.1h0m6.9 0h0m20.6 0h0m2.7 0h0m2.2 0h0m-19.8 0.1h0m7.8 0h0m10.5 0h0m1.1 0h0m-7.2 0.1h0m2.8 0h0m-20.3 0.1h0m0.9 0h0m2.8 0h0m12.6 0.1h0m4.3 0h0m0.2 0h0m5.6 0h0m-30 0.1h0m5.8 0.1h0m17.1 0.1h0m2.2 0.1h0m-19.6 0.1h0m10.3 0h0m-18 0.1h0m4.3 0h0m20.7 0h0m-16.6 0.1h0m15 0h0m-24.4 0.1h0m4.6 0h0m2.4 0.1h0m1.4 0h0m1.2 0h0m10.6 0h0m7.8 0h0m-29.7 0.1h0m2 0h0m2.6 0h0m23.9 0h0m0.4 0h0m-26.8 0.1h0m5.6 0h0m18.9 0h0m2.4 0h0m1.4 0h0m-0.3 0.1h0m-25.6 0.1h0m4.9 0h0m2.6 0h0m11.9 0h0m8.3 0h0m-0.8 0.1h0m1.4 0h0m-3.2 0.1h0m2.5 0h0m-29.6 0.1h0m-0.9 0.1h0m25.3 0h0m-18.5 0.1h0m20.4 0h0m4.3 0h0m-5 0.1h0m2.6 0h0m-29.7 0.1h0m2.5 0h0m3.3 0h0m5.5 0h0m11.2 0h0m1.8 0h0m-21.9 0.1h0m0.5 0h0m1.8 0h0m0.7 0h0m16.8 0h0m6.5 0h0m1.7 0h0m-21.5 0.1h0m21.8 0h0m-24.1 0.1h0m18 0h0m5.4 0h0m-24.2 0.1h0m1.3 0h0m0.4 0h0m16.1 0h0m-23 0.1h0m1.9 0h0m1.2 0h0m5.4 0h0m14.9 0h0m10.2 0h0m-36 0.1h0m1.1 0h0m3.2 0h0m22.3 0h0m-20.5 0.1h0m3.9 0h0m18.4 0h0m0.7 0h0m4.3 0h0m-6.1 0.1h0m3.9 0h0m-18.5 0.1h0m2 0h0m10.6 0h0m3.8 0h0m-24.8 0.1h0m0.2 0h0m22.5 0h0m6 0h0m0.6 0h0m-26 0.1h0m0.8 0.1h0m1.6 0h0m12.1 0h0m2.9 0h0m7.9 0h0m-28.1 0.1h0m4 0h0m19.8 0h0m2 0h0m-25.3 0.1h0m20.6 0h0m4.7 0h0m-2.7 0.1h0m0.4 0h0m4.4 0h0m-5.9 0.1h0m0.5 0h0m-17 0.1h0m0 0h0m1.7 0h0m19.5 0h0m-1 0.1h0m0.1 0h0m0.7 0h0m0.8 0h0m-24.1 0.1h0m14.8 0h0m0 0h0m7.4 0h0m-30.2 0.1h0m9.6 0h0m7.5 0h0m11.5 0h0m2.9 0h0m-25.2 0.1h0m1.8 0h0m4.1 0h0m15.5 0h0m2.3 0h0m2.6 0h0m-1.6 0.1h0m0.3 0h0m-30.1 0.1h0m25.4 0h0m0.9 0h0m5.8 0h0m-28 0.1h0m1.3 0h0m23.3 0h0m4.5 0h0m0.8 0h0m-6.6 0.1h0m-23.2 0.1h0m2.4 0h0m3.5 0h0m11.1 0h0m0.1 0h0m7.7 0h0m-27.2 0.1h0m2.9 0h0m20.5 0h0m4.5 0h0m-26 0.1h0m2.4 0h0m20.8 0h0m-18.1 0.1h0m1.5 0h0m12.8 0h0m4.4 0h0m1.9 0h0m0 0h0m0.3 0h0m-24.6 0.1h0m20.4 0h0m1.7 0h0m1.8 0h0m-28.4 0.1h0m5.9 0h0m15.3 0h0m11.5 0h0m-31.8 0.1h0m6.8 0h0m19.4 0h0m1.6 0h0m-24.5 0.1h0m2.7 0h0m3.3 0h0m20 0h0m0.9 0h0m1.5 0h0m-7.1 0.1h0m0.9 0h0m-21.9 0.1h0m3.1 0h0m1.8 0h0m0.2 0h0m13.6 0h0m2.7 0h0m-25.4 0.1h0m24.3 0h0m0.8 0h0m4.1 0h0m1.6 0h0m-19.6 0.1h0m11 0h0m5.3 0h0m-26.7 0.1h0m20.6 0.1h0m5 0h0m0.1 0h0m1.2 0h0m-27.7 0.1h0m5.2 0h0m0.7 0h0m1.4 0h0m0.4 0h0m13.8 0h0m-0.6 0.1h0m6.9 0h0m3.8 0h0m-5.7 0.1h0m2.9 0h0m-21.6 0.1h0m1.4 0h0m11.4 0h0m-21.6 0.1h0m3.6 0h0m21.7 0h0m-24.7 0.1h0m5.5 0h0m22.2 0h0m-23.7 0.1h0m4.5 0h0m19.1 0h0m-18.4 0.1h0m16.1 0h0m1 0h0m-18.8 0.1h0m12.2 0h0m3.7 0h0m1.8 0h0m6.8 0h0m-8.6 0.1h0m-18.1 0.1h0m0.5 0h0m2.7 0h0m13.8 0.1h0m-17.8 0.1h0m16.3 0h0m3.2 0h0m-1.3 0.1h0m1.3 0h0m-21.8 0.1h0m0.9 0h0m21.5 0h0m2.4 0h0m-3.9 0.1h0m-21.8 0.1h0m6 0h0m14.8 0h0m-23.9 0.1h0m2.9 0h0m5.7 0h0m21.1 0h0m-23.5 0.1h0m18.8 0h0m3.9 0h0m-24.7 0.1h0m0.1 0h0m0.3 0h0m20.9 0h0m0.6 0h0m3.5 0h0m4 0h0m-8.7 0.1h0m7.3 0h0m-29.7 0.1h0m7.9 0h0m18.8 0h0m-24.4 0.1h0m30.3 0h0m-30.1 0.1h0m18.8 0h0m6 0h0m4.3 0h0m-31.7 0.2h0m30.7 0h0m-25.3 0.3h0m-3.5 0.1h0m18.7 0h0m6 0h0m-5.6 0.1h0m8.4 0h0m-31.3 0.1h0m5.2 0h0m25.2 0h0m2.1 0h0m-30.8 0.2h0m4.3 0h0m20.8 0h0m3.4 0h0m-25.2 0.1h0m1.1 0h0m1.3 0h0m18.4 0h0m2.6 0h0m-21.1 0.2h0m0.5 0h0m-4.7 0.1h0m3.4 0h0m5.3 0h0m-6.1 0.1h0m19.3 0h0m-19.6 0.1h0m4.4 0h0m4.2 0h0m-11.8 0.2h0m25.3 0h0m-19.1 0.1h0m-3.2 0.1h0m25.7 0h0m-31.8 0.1h0m2.1 0h0m9.9 0h0m10.3 0.1h0m-17 0.1h0m24.6 0h0m-21.3 0.1h0m19.7 0h0m-22.5 0.1h0m20.5 0h0m-20.9 0.1h0m6.5 0h0m-9.4 0.1h0m25.9 0h0m2.2 0h0m-4 0.1h0m-26 0.1h0m6.5 0h0m5.5 0.1h0m-12.3 0.1h0m5.3 0h0m3.7 0h0m1.7 0h0m15.4 0h0m-24.3 0.1h0m-3.3 0.1h0m3.6 0h0m4.6 0.2h0m0.1 0h0m23.7 0h0m2.9 0h0m-25.5 0.1h0m1.1 0h0m-7.3 0.1h0m-1.3 0.1h0m6.7 0h0m1.3 0h0m21.3 0h0m-29.8 0.2h0m0.1 0h0m8.6 0.1h0m-4.8 0.2h0m1.2 0h0m-2.3 0.1h0m-2.5 0.1h0m2.8 0h0m8.2 0h0m14.7 0.1h0m-29.2 0.1h0m5.9 0h0m-4.1 0.1h0m4.1 0h0m0.8 0h0m4.5 0.1h0m-4.7 0.3h0m4.8 0h0m27.5 0.2h0m-8.6 0.1h0m-26.5 0.1h0m7 0h0m-6.5 0.1h0m3 0h0m2.4 0.1h0m-1.7 0.3h0m1 0.2h0m-5.4 0.1h0m1.8 0.1h0m2.4 0h0m0.5 0h0m23.9 0.1h0m-26.2 0.2h0m25.4 0h0m-22.1 0.1h0m21.3 0h0m-28.4 0.1h0m5.3 0h0m2.2 0h0m-8.7 0.1h0m0.1 0h0m5.8 0h0m2.9 0h0m-5.9 0.2h0m-4.4 0.1h0m6.3 0h0m1 0h0m26.6 0h0m-28.1 0.3h0m1 0h0m1.2 0h0m-1.8 0.2h0m0.5 0h0m4.8 0h0m-5.7 0.4h0m0.4 0h0m0.3 0h0m-1.1 0.2h0m5.1 0h0m-0.9 0.3h0m1.3 0.1h0m-1.3 0.2h0m-0.7 0.2h0m0.3 0h0m-1.1 0.3h0m0.9 0.1h0m-0.8 0.1h0m-11.3 0.2h0m9.5 0h0m-2 0.2h0m3.1 0.2h0m-6.5 0.1h0m4.2 0.1h0m-3.8 0.1h0m8.8 0h0m-3.7 0.1h0m-3.9 0.2h0m-0.4 0.5h0m1.3 0.3h0m-2.8 0.2h0m-2.5 0.6h0m-0.7 0.1h0m5.5 0h0m1 0.2h0m-0.6 1.1h0m-3.1 0.4h0" stroke="#bcbe5c" stroke-width="0.58" stroke-linecap="square" stroke-opacity="1"/><path d="M227.5 62.8h0m24.1 2.8h0m-23 0.2h0m3 0.2h0m17.6 0h0m-19.5 0.2h0m1.4 0h0m-0.5 0.4h0m3.9 0.1h0m17 0h0m-20.7 0.1h0m-0.8 0.3h0m-2.9 0.2h0m5 0.1h0m-0.2 0.1h0m0.3 0.3h0m24.4 0.3h0m-4.4 0.2h0m1.4 0.1h0m-24.2 0.2h0m20.5 0.1h0m-18 0.1h0m15.4 0.1h0m3.2 0h0m-0.6 0.3h0m-25.2 0.1h0m3.2 0h0m0.5 0h0m21.7 0.1h0m-17.1 0.1h0m0 0.1h0m16.9 0.3h0m0.4 0.2h0m-4 0.2h0m6.5 0h0m-6.3 0.2h0m2.2 0.2h0m4 0h0m1.8 0h0m-2.3 0.1h0m-22.8 0.1h0m0.3 0h0m21.1 0.1h0m1.3 0h0m1.3 0h0m-25.4 0.1h0m0.1 0h0m3 0h0m-3 0.1h0m19.4 0.2h0m8.4 0.1h0m-4 0.1h0m-26.7 0.1h0m5.9 0h0m17.1 0.3h0m2.6 0h0m-2.1 0.2h0m5.9 0h0m-4.6 0.2h0m-22.5 0.1h0m20.6 0.1h0m0.7 0h0m-20.8 0.1h0m0.3 0h0m-3.9 0.1h0m0.6 0h0m24.2 0h0m2.7 0h0m-23.3 0.1h0m16.9 0h0m6.4 0.1h0m-24.9 0.1h0m1.9 0h0m17.7 0h0m2.2 0h0m3.8 0h0m0.4 0.1h0m-26.4 0.2h0m21.9 0h0m-3 0.2h0m7.3 0h0m0.1 0h0m-25.5 0.1h0m-0.9 0.1h0m2.4 0h0m2.3 0h0m-2.3 0.1h0m17.6 0h0m4.1 0h0m1.3 0.1h0m-26.8 0.1h0m26 0.2h0m-25 0.1h0m20.1 0h0m3.9 0h0m-25.4 0.1h0m19 0.2h0m3.4 0h0m-20.2 0.1h0m27.8 0h0m-5.8 0.1h0m-0.1 0.1h0m4 0h0m0.3 0h0m-26.4 0.2h0m0.2 0h0m2.7 0.1h0m17.7 0h0m-19 0.1h0m17.9 0h0m0.3 0.3h0m-19.7 0.1h0m22.8 0h0m-5.9 0.2h0m4 0.1h0m0.6 0h0m0.9 0h0m1.9 0h0m-1.5 0.1h0m3.5 0h0m0 0h0m-27.6 0.1h0m21.1 0h0m3.1 0h0m-5.1 0.1h0m2.9 0.2h0m4.8 0h0m0.7 0h0m0.5 0h0m-26.2 0.1h0m0.8 0h0m25 0h0m-22.1 0.1h0m-6 0.1h0m1.5 0h0m19.5 0h0m5 0h0m-26 0.1h0m2.1 0h0m4 0h0m21.2 0h0m-27.7 0.1h0m0.6 0h0m2 0h0m22.6 0h0m0.5 0h0m0.6 0h0m1.5 0h0m-25.5 0.1h0m2.4 0.1h0m1.8 0h0m-6.3 0.1h0m3.1 0h0m16.8 0.1h0m5.2 0h0m-21 0.1h0m1.3 0h0m23.2 0.1h0m-5.6 0.1h0m-15.7 0.2h0m14.2 0h0m3.5 0h0m-24.9 0.2h0m3.7 0h0m24.5 0h0m-28.3 0.1h0m2.8 0h0m0.7 0.1h0m-1 0.1h0m3.3 0h0m13.8 0h0m5.4 0h0m2.9 0h0m-26.6 0.1h0m18.7 0h0m-21.3 0.1h0m6 0h0m21.3 0h0m-4.9 0.1h0m5.3 0h0m-24.7 0.1h0m0.4 0h0m25.6 0h0m-4.2 0.1h0m-24.6 0.1h0m2.4 0h0m2.9 0h0m20.5 0h0m-23.8 0.1h0m6.5 0h0m-6.5 0.5h0m20.8 0.1h0m-19 0.1h0m3.9 0.3h0m13.7 0h0m2.1 0.1h0m-19.6 0.1h0m19.3 0.2h0m-19.8 0.1h0m25.2 0.2h0m-21.5 0.2h0m1.7 0.2h0m14 0h0m2.7 0h0m-25.8 0.1h0m6.5 0.1h0m20.5 0h0m0.5 0.3h0m-23.3 0.1h0m19.7 0.1h0m-19.3 0.1h0m-2.8 0.3h0m2.1 0h0m24.2 0.2h0m-26.6 0.2h0m3 0h0m21 0.2h0m-21.7 0.1h0m22.7 0.2h0m-26.2 0.1h0m7.2 0h0m15.1 0.1h0m-21.7 0.4h0m2.7 0.3h0m0.7 0.4h0m1.8 0.1h0m-6.8 0.1h0m1.1 0.1h0m22.7 0.1h0m-20.8 0.1h0m24.2 0.2h0m-18.9 0.2h0m0.9 0h0m-9.5 0.4h0m0.1 0h0m5.8 0h0m-3.1 0.1h0m0.2 0.1h0m-1.3 0.4h0m3.6 0h0m-4.8 0.1h0m4.3 0h0m-6.4 0.1h0m0.9 0h0m8.6 0h0m-5.1 0.1h0m2.3 0.2h0m-6.1 0.1h0m2.3 0h0m2.3 0.5h0m-0.7 0.2h0m1.9 0h0m-2.7 0.1h0m0 0.3h0m-4.1 0.3h0m1.7 0.1h0m2.4 1h0m-2.8 0.3h0m-0.1 0.8h0m2.3 0h0m2.3 0.5h0m-3.2 0.3h0m-1 0.1h0m-2 0.2h0m-0.4 0.3h0m0.6 0.1h0" stroke="#d4b442" stroke-width="0.58" stroke-linecap="square" stroke-opacity="1"/><path d="M227.3 65.4h0m3.1 3h0m0.4 0.3h0m0.1 0.1h0m23 0.1h0m-24.9 0.6h0m24.4 1.2h0m-25.5 0.3h0m20.8 0.4h0m-17.6 0.2h0m-2.3 1h0m2.5 0.2h0m1.4 0h0m20.3 0.2h0m-26.7 0.8h0m1.1 0h0m-2 0.4h0m1 0h0m4.8 0.3h0m-5.9 0.4h0m2.7 0h0m0.4 0.1h0m-3.1 0.3h0m2.5 0h0m-1.1 0.2h0m0.9 0h0m0.1 0.1h0m1.8 0.1h0m-4.5 0.2h0m2.9 0h0m0.9 0h0m0 0h0m2 0.1h0m1.7 0.1h0m-4 0.1h0m-4.7 0.1h0m8.1 0.3h0m-4.5 0.2h0m20.2 0h0m-16.5 0.3h0m-2.3 0.1h0m2.5 0.2h0m15.7 0.1h0m2.7 0.1h0m-22.6 0.3h0m4.1 0.1h0m-1.3 0.3h0m-0.9 0.1h0m-2.9 0.8h0m0.9 0h0m0.2 0.1h0m2.3 0h0m-2.6 0.1h0m2.9 0h0m-3.5 0.2h0m-0.4 0.1h0m2.7 0h0m-1.7 0.4h0m1.6 0h0m-2.9 0.1h0m2.5 0.1h0m0.1 0.2h0m22.7 0.7h0m-21.4 0.1h0m-5.2 0.2h0m2 0.2h0m0.6 0h0m1.5 0.1h0m22.9 0h0m-26.7 0.3h0m3.6 0h0m-3.8 0.3h0m3.3 0.6h0m0.4 0.2h0m-1.7 0.3h0m-4 0.1h0m6 0h0m0.5 0h0m-5.1 0.3h0m2.4 0.1h0m-1.3 1.1h0m-1.1 0.6h0m-2 0.2h0m2.7 0.2h0m-0.2 0.1h0m-1.8 0.5h0m1 0h0m1.5 0.1h0m-0.9 0.3h0m-1.6 0.1h0m3.7 0.4h0m-4.8 0.1h0m2 0.6h0m0.8 0.4h0m0.5 0h0m-2.5 0.2h0m2.8 0.5h0m-0.2 0.1h0m-2.6 0.2h0m1.4 0.2h0m0.9 0h0m-0.5 0.2h0m2.4 0h0m-2.5 0.3h0m1 0.4h0m-2.3 0.9h0m-4.3 0.3h0m-2.1 4.8h0" stroke="#da8c30" stroke-width="0.58" stroke-linecap="square" stroke-opacity="1"/><path d="M232.0 65.8h0m-1.3 1.1h0m4.2 1.3h0m-7 0.2h0m-2.2 0.7h0m1.7 2.2h0m0.1 0.1h0m4.7 0.3h0m-5.2 0.4h0m2.6 0.5h0m-2.1 0.7h0m1.1 0.3h0m-2.5 0.1h0m1.7 0.4h0m3.7 0.2h0m-6.4 0.7h0m6.4 0.1h0m-2.2 0.1h0m-2 0.1h0m2.9 0h0m-1.2 0.1h0m1 0.1h0m0.2 0h0m-4.9 0.1h0m4.8 0.1h0m-1.6 0.1h0m0.3 0h0m0.7 0.1h0m1.1 0h0m-2.2 0.1h0m-1.4 0.2h0m-3 0.1h0m0.5 0.1h0m4.9 0.1h0m-3.2 0.2h0m3.4 0.3h0m0.8 0h0m-3 0.1h0m2.2 0h0m-3 0.7h0m1.2 0.3h0m1.7 0h0m-2.2 0.6h0m0.8 0h0m0 0.1h0m-0.3 0.1h0m0.2 0.1h0m-1.1 0.3h0m2.5 0h0m0.8 0h0m0 0.1h0m-0.3 0.2h0m-1 0.1h0m-3.1 0.4h0m1.6 0.1h0m1 0.6h0m-3.4 0.2h0m2.9 0h0m0.2 0.7h0m-2 0.2h0m-0.9 0.8h0m1.8 0.1h0m-1.7 0.6h0m-0.3 0.1h0m1.7 0h0m-0.8 0.5h0m2.9 0.3h0m-3.3 0.1h0m5 0.3h0m-2.7 0.4h0m-3 1.4h0m-2.3 0.6h0m1.5 0.2h0m0.2 0h0m0.7 0h0m-2.5 0.6h0m3.4 0h0m-5 0.3h0m2 1.6h0m1 1h0m0.1 0.2h0" stroke="#c44a2a" stroke-width="0.58" stroke-linecap="square" stroke-opacity="1"/></g><g clip-path="url(#a21)"><path d="M232.4 90.2h0m37.6 9.6h0m-28.7 17.5h0m-16.3 0.6h0m24.7 1.7h0m3.1 1.6h0m-7.7 0.1h0m-4.2 0.2h0m5.2 0.6h0m-2.8 0.7h0m-5.6 1.3h0m5 0.1h0m-2.7 0.6h0m9.3 0.3h0m-7.5 0.1h0m3.4 0.7h0m-6.5 0.2h0m20.6 0h0m-3.3 0.3h0m1.8 0h0m-20.3 0.3h0m1.5 0.1h0m0.1 0.3h0m13.8 0h0m-10.7 0.4h0m-0.2 0.3h0m15.6 0h0m-0.3 0.2h0m-12.9 0.1h0m-4.9 0.1h0m5.1 0.3h0m6.7 0.4h0m7.5 1.1h0m-19.6 0.1h0m0.3 0.1h0m-2 0.1h0m13.1 0.3h0m-2.7 0.1h0m-4.4 0.2h0m2.6 0.3h0m-6.5 0.3h0m21.6 0.1h0m-8.1 0.1h0m-9.3 0.2h0m-9.4 0.1h0m1 0h0m4.7 0h0m4 0.2h0m-11.8 0.1h0m-0.2 0.3h0m9 0h0m7.7 0h0m-4.8 0.1h0m7.4 0h0m-18.5 0.2h0m11 0.1h0m5.8 0h0m11.5 0h0m-10.7 0.1h0m-14.7 0.1h0m2.4 0h0m1.8 0h0m0.1 0h0m20.5 0h0m-31.2 0.1h0m23.9 0.2h0m9 0.1h0m-29.4 0.5h0m6.6 0h0m3.7 0.1h0m3.7 0.1h0m-9.8 0.2h0m1.1 0h0m8.9 0.2h0m-10.8 0.1h0m0.4 0h0m4.7 0h0m6.3 0h0m-8.2 0.1h0m-6.7 0.1h0m14.9 0h0m-2.3 0.2h0m-8.9 0.1h0m5.8 0h0m8.5 0h0m-17.4 0.1h0m22.3 0.1h0m-6.3 0.1h0m-16.6 0.2h0m0.9 0.1h0m20.3 0h0m0.9 0h0m-15 0.1h0m-3.5 0.1h0m-0.6 0.1h0m-1 0.1h0m0.9 0h0m18.4 0h0m-25.3 0.1h0m9.4 0h0m18.6 0h0m-1.3 0.1h0m-17.2 0.1h0m9.3 0h0m-7.8 0.3h0m9 0h0m-16.9 0.2h0m20 0h0m-16.3 0.1h0m3.4 0h0m-6.3 0.1h0m0.4 0.1h0m18.3 0.1h0m-10.8 0.1h0m16.6 0h0m-21.5 0.1h0m-5.5 0.1h0m0.3 0h0m6.2 0h0m-3 0.1h0m0.6 0.1h0m14.7 0h0m1.6 0h0m5.1 0h0m-20.5 0.1h0m0 0h0m1.6 0h0m2 0h0m15.4 0h0m-15.9 0.1h0m12.6 0h0m-0.5 0.1h0m1.8 0h0m-24.1 0.1h0m30.4 0h0m-26.9 0.1h0m8.8 0.1h0m8.7 0h0m5.4 0h0m-15.6 0.1h0m20.9 0h0m-14.2 0.1h0m1.1 0h0m2.1 0h0m13.1 0h0m-24.9 0.2h0m-7.3 0.1h0m21.5 0h0m-4.9 0.2h0m-15.2 0.1h0m18.1 0h0m1.1 0h0m-8.5 0.1h0m-13.2 0.2h0m5.5 0h0m16.6 0.1h0m-10.8 0.1h0m9.7 0h0m4.4 0.1h0m1.3 0h0m2.6 0h0m3.8 0h0m-32.6 0.1h0m4.1 0h0m1.8 0h0m4.4 0h0m-1.7 0.1h0m7.2 0h0m4.9 0h0m5.5 0h0m-1 0.1h0m4.3 0h0m1.8 0h0m-22.5 0.1h0m14 0h0m6.4 0h0m-29 0.1h0m24.3 0h0m-26.9 0.3h0m2.4 0h0m4.6 0h0m1.6 0h0m4.1 0h0m4.6 0h0m-15.1 0.1h0m5.4 0h0m2.3 0h0m14 0h0m0.1 0h0m5.7 0h0m0.4 0h0m-14.5 0.1h0m-11.3 0.1h0m9.5 0h0m10 0.1h0m4.6 0h0m5.8 0h0m-30.1 0.1h0m-2.8 0.1h0m27.7 0h0m-6.8 0.1h0m3.3 0h0m5.8 0.1h0m-27.4 0.2h0m4.6 0h0m4.3 0h0m13.4 0h0m-9.1 0.1h0m0.6 0h0m12.9 0h0m-27.8 0.1h0m22.6 0h0m7.6 0.2h0m-12 0.1h0m2.9 0h0m0.3 0h0m10.6 0.1h0m-11.4 0.1h0m6.5 0h0m3.2 0h0m-34.4 0.1h0m10.5 0h0m9.9 0h0m2.1 0h0m3.1 0h0m0.6 0h0m2.3 0h0m3.5 0h0m-20 0.1h0m1.4 0h0m8.4 0h0m2.8 0.1h0m2 0h0m-38.5 0.1h0m27.5 0h0m6.3 0h0m6.7 0h0m0.6 0h0m-15.4 0.1h0m15 0.2h0m-27.4 0.1h0m12.1 0h0m7.8 0h0m1.6 0h0m-18.6 0.1h0m9.6 0h0m15.7 0h0m0.4 0h0m5.4 0h0m-32.7 0.1h0m13.3 0h0m17.8 0h0m-2.1 0.2h0m-13.8 0.1h0m14.7 0h0m-16.8 0.1h0m1.3 0h0m12.9 0h0m-4.5 0.1h0m-21.8 0.1h0m23.1 0h0m2.7 0h0m1 0h0m-9.5 0.1h0m8.9 0h0m0.8 0h0m-8.3 0.1h0m4.5 0h0m7 0h0m-16 0.2h0m7.3 0h0m1.7 0h0m3.1 0h0m-27.7 0.1h0m9.3 0h0m7.8 0h0m14.3 0.1h0m-33.4 0.1h0m17.3 0h0m6.5 0h0m8.6 0h0m-15.3 0.1h0m4.3 0h0m-21.5 0.1h0m18.1 0h0m9.4 0h0m2.1 0h0m2.8 0h0m-1.7 0.1h0m5.8 0h0m-2.1 0.1h0m-33.5 0.1h0m3.6 0h0m15.6 0h0m11.7 0h0m-31.2 0.1h0m12.6 0h0m0 0h0m16.8 0h0m-8.6 0.1h0m-2 0.1h0m-15.3 0.1h0m12.2 0h0m-4.8 0.1h0m4.3 0h0m-5.9 0.1h0m3.1 0h0m6.4 0.1h0m2.2 0h0m-9.9 0.1h0m5.5 0h0m-16.1 0.1h0m34.9 0h0m-16.9 0.1h0m0.9 0h0m17.2 0.1h0m-22.4 0.2h0m-4 0.1h0m9.3 0h0m4.7 0h0m3 0h0m-7.9 0.1h0m-17.3 0.1h0m27.4 0h0m2.5 0h0m-31.5 0.1h0m9.5 0h0m7.2 0h0m12.6 0h0m1.1 0h0m-26.3 0.1h0m11.8 0h0m13.6 0h0m-13.5 0.1h0m1.7 0h0m9.1 0h0m0.2 0h0m3.9 0h0m-9.9 0.1h0m-6.1 0.1h0m11.9 0.1h0m3.4 0h0m-16.3 0.2h0m18.3 0h0m-20.4 0.2h0m5.2 0h0m16.3 0h0m-7.6 0.1h0m-11.1 0.1h0m1.3 0h0m-16.8 0.2h0m22 0h0m-23.9 0.1h0m16.1 0h0m18.5 0.2h0m0.5 0.1h0m1.8 0h0m-17.8 0.1h0m4.4 0h0m-0.1 0.2h0m8.3 0.1h0m2.7 0h0m0.4 0h0m2.1 0h0m-19.8 0.1h0m16.2 0h0m-33.4 0.1h0m17.9 0h0m17.6 0.1h0m-17.9 0.1h0m0.5 0h0m7.6 0h0m6 0h0m-31.3 0.1h0m30.2 0.1h0m-34.4 0.1h0m36.1 0h0m-18.8 0.1h0m18.8 0h0m-7.6 0.1h0m-9 0.2h0m-14.6 0.2h0m18.3 0.1h0m2.5 0.1h0m12.6 0h0m-16.3 0.2h0m-5 0.1h0m6.6 0h0m-0.5 0.2h0m14.1 0h0m7.7 0h0m0.9 0h0m-9.2 0.1h0m-12.1 0.1h0m-0.2 0.1h0m14.3 0h0m-3.4 0.2h0m-15.2 0.1h0m1.6 0h0m17.7 0h0m-1.6 0.1h0m-15.2 0.1h0m13.9 0h0m-10.7 0.1h0m10.9 0.1h0m2 0h0m-38.3 0.3h0m3.6 0h0m13.5 0h0m6.4 0h0m14.8 0h0m-34.3 0.2h0m32.8 0h0m6.7 0.1h0m-0.6 0.2h0m-27 0.1h0m24.5 0.1h0m4.7 0h0m-41.8 0.1h0m12.5 0h0m6.7 0h0m17.6 0h0m-17.6 0.1h0m19.2 0h0m-22.8 0.1h0m2.7 0.1h0m-4.9 0.1h0m19.7 0h0m2.9 0h0m-35.9 0.1h0m15.6 0h0m21.5 0h0m-42.4 0.2h0m26.7 0h0m-24.5 0.1h0m39.6 0h0m0.7 0h0m2.2 0h0m-21 0.1h0m0.8 0h0m18.5 0h0m-22.5 0.2h0m0.5 0.1h0m-1.3 0.2h0m23 0h0m1.1 0h0m1.4 0.1h0m-40.9 0.2h0m1.8 0.1h0m-4.7 0.2h0m16.6 0h0m22.3 0h0m-2.4 0.4h0m1.8 0h0m-19.1 0.2h0m21.8 0h0m-37.7 0.1h0m0.6 0h0m17 0.1h0m-16.7 0.2h0m17.1 0.2h0m16.9 0h0m0.5 0h0m-12.9 0.2h0m-2.1 0.1h0m14.7 0h0m-19.6 0.1h0m25.2 0.1h0m-5.2 0.1h0m-18.8 0.1h0m15.1 0h0m3.1 0h0m0.9 0h0m0.6 0h0m-1.4 0.1h0m-19.2 0.3h0m0.9 0h0m-19.2 0.1h0m14.7 0h0m21.7 0h0m5.4 0h0m0 0.1h0m-2.4 0.1h0m-19.9 0.1h0m-0.6 0.1h0m15 0h0m-14.4 0.1h0m19.4 0h0m-36.1 0.1h0m13.8 0h0m-16.3 0.1h0m19.2 0h0m3.5 0.1h0m15 0h0m9.1 0h0m-7.9 0.1h0m-37.2 0.1h0m12.7 0h0m3 0h0m-19.2 0.1h0m42.6 0.1h0m-23.4 0.2h0m0.4 0h0m-18.4 0.1h0m17.3 0.1h0m19.5 0h0m1.8 0h0m-21.2 0.2h0m1.9 0h0m-0.4 0.1h0m-2.3 0.1h0m3.6 0h0m-2.5 0.1h0m19.5 0h0m3.9 0h0m-39.7 0.1h0m13.7 0h0m-0.3 0.1h0m28.9 0.1h0m-43.4 0.1h0m39.5 0h0m1.5 0h0m-41.2 0.2h0m40.7 0h0m-17.5 0.1h0m-0.8 0.1h0m10.6 0h0m-19.6 0.1h0m24.7 0.1h0m7.8 0h0m-44.4 0.1h0m21.1 0h0m17.7 0h0m-1 0.1h0m-22.6 0.1h0m3.2 0h0m16.4 0h0m-18.8 0.2h0m8.7 0h0m9.9 0h0m-15.9 0.2h0m0.5 0h0m-21.4 0.1h0m-0.9 0.1h0m18.5 0h0m23.4 0h0m-52.4 0.1h0m29.7 0h0m20.3 0h0m-52.4 0.1h0m29.3 0h0m25 0h0m1.3 0h0m-4.9 0.1h0m-38.2 0.1h0m20.4 0h0m2.5 0h0m13.2 0h0m-32.8 0.1h0m34.2 0h0m1.8 0.1h0m-19.7 0.2h0m5 0.1h0m-7.3 0.2h0m2.9 0.1h0m-24.5 0.1h0m27.1 0h0m-20.6 0.2h0m44.1 0h0m-46.5 0.2h0m39.9 0h0m-20.6 0.2h0m17.3 0h0m-37.4 0.1h0m15.2 0h0m3.7 0h0m-16.1 0.1h0m23.1 0h0m14.6 0h0m0.3 0h0m-4.4 0.1h0m6.2 0.1h0m1.6 0h0m6.5 0h0m-46.4 0.1h0m18.7 0h0m2.6 0h0m13.8 0h0m-19.9 0.2h0m18.3 0h0m-18.7 0.1h0m21.2 0h0m-18.5 0.1h0m4.8 0h0m13.8 0h0m-47.7 0.2h0m39.1 0.2h0m-29.8 0.1h0m42.9 0h0m-22.9 0.1h0m12.6 0h0m0.4 0h0m7.7 0h0m-49.2 0.1h0m27.6 0h0m21.9 0h0m-42.6 0.1h0m27.5 0h0m-27.9 0.1h0m23.1 0h0m-0.4 0.1h0m17.8 0h0m1.8 0h0m-19.6 0.1h0m-4.6 0.1h0m5.8 0h0m-2.6 0.1h0m21.4 0h0m-5.7 0.1h0m1.3 0.1h0m3.6 0h0m3.8 0h0m-25.2 0.1h0m18.4 0h0m-20.6 0.1h0m0.3 0.1h0m7.5 0h0m-9.4 0.1h0m0.8 0.1h0m-18.9 0.1h0m38.6 0h0m-20.8 0.1h0m8.5 0h0m-4.8 0.1h0m3.1 0h0m18.9 0.1h0m-3.3 0.1h0m0.2 0h0m10.2 0h0m-59.9 0.1h0m28.7 0.1h0m3.3 0h0m2.9 0h0m17.4 0h0m-18 0.1h0m2.3 0h0m15 0h0m-42.1 0.2h0m44.1 0h0m-27.2 0.1h0m3.9 0h0m0.7 0h0m2.2 0h0m16.2 0h0m2 0h0m-2.5 0.1h0m3 0h0m-0.3 0.1h0m-15.8 0.1h0m-7.7 0.1h0m24.6 0h0m-21.7 0.1h0m-20 0.1h0m39.1 0h0m-41.6 0.1h0m19.5 0h0m4.3 0h0m4.7 0h0m-33.7 0.1h0m47 0h0m-20.8 0.2h0m-19 0.1h0m13.5 0h0m1.3 0.2h0m10.5 0h0m-33.7 0.1h0m47.3 0.2h0m-14.8 0.1h0m0.8 0h0m1.5 0h0m7.9 0h0m-38.4 0.1h0m30.5 0h0m-33.6 0.1h0m29.7 0.1h0m17.7 0h0m-44.8 0.1h0m25.7 0h0m25.6 0h0m-56.9 0.1h0m7.7 0h0m25.3 0h0m-2.4 0.1h0m22.8 0h0m-18 0.1h0m14.1 0h0m-14.7 0.1h0m-36.6 0.1h0m11.2 0h0m39.3 0h0m-45.6 0.1h0m30.1 0h0m12.2 0h0m6.7 0h0m-47.6 0.2h0m39.3 0h0m1.6 0h0m-15.5 0.1h0m4.4 0h0m3.4 0h0m17 0h0m-28.5 0.1h0m2.2 0h0m3.6 0h0m-30.5 0.1h0m36 0h0m0.8 0h0m9.4 0h0m-3 0.1h0m7.3 0h0m-17.6 0.1h0m9.2 0h0m-35.7 0.1h0m41.5 0h0m-46.9 0.1h0m35.8 0h0m8 0h0m-14 0.1h0m19.6 0.1h0m-19.9 0.2h0m3.8 0h0m2.1 0h0m7.6 0h0m-48.6 0.1h0m28.7 0h0m17.8 0h0m-2.7 0.2h0m5.1 0h0m4.3 0h0m-14.1 0.1h0m5.3 0h0m-14.7 0.1h0m-21.4 0.1h0m47.9 0h0m-0.9 0.2h0m-29.6 0.1h0m5.8 0h0m4.1 0h0m7.9 0h0m1.8 0h0m3.1 0h0m0.5 0h0m2.6 0h0m-39.9 0.1h0m1.6 0h0m15.1 0h0m27.3 0h0m-49.8 0.1h0m0.3 0h0m6.4 0h0m27.5 0h0m-28.5 0.1h0m-9.2 0.1h0m7.6 0h0m28.7 0h0m-33.4 0.2h0m0.5 0h0m31.2 0h0m15.2 0h0m-25.8 0.2h0m22.9 0h0m1.4 0h0m-45.7 0.1h0m35.1 0h0m6 0h0m1.1 0h0m-40.1 0.1h0m1.9 0h0m0.8 0h0m40.2 0h0m7.2 0h0m-46.6 0.1h0m27 0h0m3.1 0h0m-1.3 0.1h0m0.3 0h0m12.1 0h0m1.3 0h0m11 0h0m-56.4 0.1h0m17.9 0h0m5.8 0h0m14.4 0h0m-37.4 0.1h0m30 0h0m-29.4 0.2h0m16.9 0h0m16.7 0h0m6.5 0h0m-24.5 0.1h0m12.7 0h0m0.9 0h0m-8.6 0.1h0m19.2 0h0m0.3 0h0m-38.5 0.1h0m-1.7 0.2h0m-2.1 0.1h0m19.6 0h0m12 0h0m12.1 0h0m-16.2 0.1h0m15.5 0h0m0.2 0h0m7.6 0h0m-17.2 0.1h0m2.1 0h0m-32.4 0.1h0m30.6 0.1h0m8.3 0h0m-6 0.1h0m-45.1 0.1h0m9.6 0h0m37.7 0h0m5.1 0h0m0.7 0h0m-42.9 0.1h0m40.1 0h0m0.3 0.1h0m-8.9 0.1h0m7.8 0h0m1.8 0h0m1 0h0m-23.5 0.1h0m26.2 0h0m-43.1 0.1h0m34.5 0h0m1.5 0h0m0 0h0m-43.3 0.1h0m6.2 0h0m17.3 0h0m7.9 0h0m-35.3 0.1h0m44.6 0h0m0.7 0h0m-5.1 0.1h0m-11.6 0.4h0m5.9 0h0m-29.6 0.1h0m3.6 0h0m47.7 0h0m-10.5 0.1h0m9.6 0h0m-1.7 0.1h0m1.1 0h0m-28.2 0.1h0m7.9 0h0m-21.9 0.1h0m17.6 0h0m12.8 0h0m-31.9 0.1h0m-4.8 0.1h0m26.2 0h0m9.2 0h0m4.1 0h0m-9.6 0.1h0m1.6 0h0m13.2 0.1h0m-51 0.1h0m8.7 0h0m-3 0.2h0m2.7 0h0m4.4 0h0m28.5 0h0m8.4 0h0m8.4 0h0m-8.7 0.2h0m-22.6 0.1h0m1.9 0h0m-20.1 0.1h0m24.8 0h0m0 0.1h0m22 0h0m-42 0.1h0m19.9 0h0m22.3 0h0m-41.7 0.1h0m29.3 0h0m-35.9 0.1h0m21.6 0h0m15.6 0h0m-5.6 0.1h0m6 0h0m7.9 0h0m9.3 0h0m-13.5 0.1h0m1.2 0h0m-8.4 0.1h0m-30.1 0.1h0m0.4 0h0m0.7 0h0m29.1 0h0m2.3 0.1h0m11.5 0h0m-8.5 0.1h0m-39.3 0.1h0m22.9 0h0m8.2 0h0m9.6 0h0m-7.5 0.1h0m-42 0.1h0m11.9 0h0m35.7 0h0m-38.4 0.1h0m33.7 0.1h0m-30.4 0.1h0m11.6 0.1h0m19.5 0h0m1.2 0h0m0.4 0h0m10.4 0h0m2 0h0m1.4 0h0m-52 0.1h0m-0.1 0.1h0m46 0h0m5.1 0h0m-14.3 0.1h0m-2.5 0.1h0m4.3 0h0m-18.2 0.1h0m26.4 0h0m-39.5 0.1h0m2.7 0h0m9.3 0h0m0.6 0h0m23.6 0h0m-36.2 0.1h0m24.8 0h0m-25.7 0.1h0m11.3 0h0m1.8 0h0m18.2 0h0m-32.2 0.1h0m30.9 0.2h0m11.2 0.1h0m11.2 0.1h0m-49.9 0.1h0m0.1 0h0m27.9 0h0m-32 0.1h0m42.1 0h0m-29.2 0.3h0m6.7 0h0m24.7 0h0m-32.7 0.1h0m24.4 0h0m12.4 0h0m-47.3 0.1h0m12.8 0h0m17 0h0m-12.6 0.1h0m19.3 0h0m-37.2 0.1h0m2.4 0.1h0m16.9 0h0m21.8 0h0m-3.7 0.1h0m-41.7 0.1h0m40.7 0.1h0m-36.7 0.1h0m16.7 0h0m-17 0.1h0m38.7 0.1h0m-28.9 0.1h0m-7 0.1h0m11.5 0h0m28.3 0h0m-42.8 0.1h0m3.4 0h0m1.8 0h0m7.3 0h0m11.2 0h0m8.9 0h0m-32 0.2h0m16.8 0h0m25.1 0h0m-36.7 0.1h0m0.2 0h0m5.3 0h0m1.4 0h0m18 0h0m-29.6 0.1h0m40 0h0m-31.6 0.1h0m6.1 0h0m-10.9 0.1h0m-3.4 0.1h0m2.9 0.2h0m20.5 0.1h0m-22.9 0.1h0m6.5 0h0m-2 0.1h0m-1.1 0.1h0m38.6 0.1h0m-34.5 0.1h0m-5.6 0.1h0m0.6 0.1h0m3.8 0h0m1.6 0h0m2.8 0h0m-11.3 0.1h0m39.7 0h0m1.1 0h0m14.6 0h0m-53.2 0.1h0m9.9 0h0m-12.1 0.2h0m12.6 0h0m-7.4 0.3h0m35.3 0h0m-34.1 0.1h0m3.6 0h0m20.8 0h0m2.3 0h0m-25.8 0.1h0m1.4 0h0m30.4 0h0m3.6 0.1h0m-46.7 0.2h0m10.8 0h0m26.7 0h0m-38.3 0.1h0m8.7 0h0m29.2 0h0m-2.1 0.1h0m5.9 0.1h0m-39.1 0.1h0m5.5 0h0m0.3 0h0m0.7 0h0m3.9 0.1h0m4.2 0h0m22.4 0h0m-27.2 0.1h0m-7.2 0.3h0m3.8 0h0m4.6 0h0m25.6 0h0m2.8 0h0m3.8 0.2h0m-31.7 0.1h0m15.1 0.3h0m-15.9 0.1h0m0.4 0.2h0m3 0.1h0m-3.4 0.1h0m0.3 0h0m-6.2 0.1h0m2 0h0m-5.1 0.1h0m1.1 0.1h0m3 0.2h0m6.2 0.1h0m-2.3 0.1h0m-11.2 0.1h0m2 0.2h0m0.6 0h0m5.1 0.2h0m2.2 0h0m2.4 0h0m-5 0.2h0m20.4 0h0m-22.9 0.3h0m-3.9 0.1h0m5.7 0h0m6.3 0h0m18.7 0h0m2.4 0.2h0m-29.3 0.2h0m5.8 0.1h0m30 0h0m-32.9 0.3h0m27 0h0m-28.8 0.1h0m30.3 0h0m-22.5 0.1h0m-3.9 0.1h0m-5.9 0.3h0m8.5 0.3h0m-5.6 0.1h0m-6.2 0.2h0m4.3 0.1h0m3.2 0.3h0m48.2 0.2h0m-18.8 0.3h0m-32.1 0.1h0m-1.3 0.3h0m-1.9 0.2h0m0.5 0.1h0m33.8 0.2h0m-29.1 0.6h0m1.8 0.6h0m3 0h0m-6.8 0.4h0m4.8 0h0m-4.8 0.1h0m20.5 1.5h0m-18.7 0.5h0m-2.2 0.4h0m-2 1.8h0m31.1 0.4h0m-31.6 0.1h0m2.8 1h0m1.3 1h0m-1.3 1.7h0m-3.4 0.8h0m2.1 0.9h0m-5.4 1.8h0m0.5 0.1h0" stroke="#4d54a4" stroke-width="0.58" stroke-linecap="square" stroke-opacity="0.6"/><path d="M237.2 136.3h0m-3.7 0.3h0m1.1 0.1h0m-0.3 0.6h0m1.2 0.1h0m-3.8 0.9h0m3.7 0h0m-0.9 0.1h0m0.3 0.4h0m-2.4 0.1h0m2.7 0h0m-0.6 0.1h0m-4 0.1h0m1.7 0.1h0m3.1 0.1h0m-1.2 0.1h0m-1.2 0.1h0m-0.9 0.1h0m-0.2 0.2h0m1.7 0.1h0m0.3 0h0m0.8 0.2h0m0.2 0h0m-1.6 0.2h0m-3.8 0.1h0m0.1 0h0m5 0.4h0m2.3 0h0m-3.5 0.1h0m-2.7 0.1h0m0 0.2h0m2.3 0h0m16.1 0h0m1.5 0.3h0m-16.2 0.1h0m-2 0.1h0m3.3 0h0m-2.9 0.1h0m1.2 0h0m-0.2 0.1h0m2.3 0h0m0.6 0h0m-3.8 0.1h0m18.2 0.2h0m-18.5 0.1h0m-0.6 0.2h0m3.6 0h0m-7.4 0.1h0m0.8 0.1h0m2.2 0.1h0m1.7 0.1h0m17.9 0h0m-17.7 0.1h0m2.2 0h0m-4.2 0.2h0m6.3 0h0m0.2 0h0m13.9 0.1h0m-18.8 0.1h0m-4.1 0.3h0m4.6 0.1h0m17.2 0h0m1.7 0h0m-18.7 0.1h0m1.9 0h0m-3.2 0.1h0m0.9 0.1h0m0.5 0h0m2.7 0.1h0m0.3 0h0m2.3 0h0m2.1 0.1h0m-11.4 0.1h0m4 0h0m13.7 0h0m5.3 0h0m-23.9 0.1h0m3.3 0h0m1 0h0m18.5 0.1h0m-17.2 0.1h0m-7.1 0.1h0m5.8 0h0m-4.9 0.1h0m2.9 0h0m2.1 0h0m0.7 0h0m0.2 0h0m-3.3 0.1h0m-0.7 0.1h0m6.8 0h0m-8.5 0.1h0m5.9 0h0m0.8 0h0m-2.3 0.1h0m4.7 0h0m14.7 0h0m-24.6 0.1h0m10 0h0m8 0h0m3 0h0m1.2 0h0m-17.1 0.1h0m0.7 0h0m10 0h0m-10.7 0.1h0m8.2 0h0m5.3 0.2h0m3.8 0h0m-23.5 0.1h0m24 0h0m-15.5 0.1h0m0.6 0h0m1.4 0h0m-9.3 0.1h0m22.6 0h0m0.2 0h0m-17.8 0.1h0m1 0h0m3.7 0h0m8 0h0m-12.1 0.1h0m13.7 0h0m5.6 0h0m-21.4 0.1h0m5.9 0h0m13.7 0h0m-3.1 0.1h0m-13.4 0.1h0m3.2 0h0m16.3 0.1h0m3.4 0h0m-24.7 0.1h0m2.4 0h0m17.6 0h0m0.4 0h0m-22.9 0.1h0m5.3 0h0m4.3 0h0m-9.2 0.1h0m3.9 0h0m16.6 0h0m1.4 0h0m1.1 0h0m-25 0.2h0m22.2 0h0m1.6 0h0m-20.9 0.1h0m16.6 0h0m5.1 0h0m-19.6 0.1h0m17.5 0h0m-20.3 0.1h0m3.1 0h0m4.3 0h0m11.8 0h0m8 0h0m-28.8 0.2h0m21.8 0.1h0m-1.5 0.1h0m-18.4 0.1h0m23.4 0h0m1.5 0h0m-28.1 0.1h0m7.9 0h0m9 0.1h0m-14.5 0.1h0m4.7 0h0m2.3 0h0m14.7 0h0m-22.4 0.1h0m9 0h0m11 0h0m-22 0.1h0m3.2 0h0m5.3 0h0m19.1 0h0m-24.2 0.1h0m7.4 0h0m9.1 0h0m2 0h0m-13.5 0.1h0m1.9 0h0m12.4 0h0m-11.3 0.1h0m11.1 0h0m-22.6 0.2h0m0.7 0h0m0.2 0h0m4 0h0m5.9 0h0m15.9 0h0m-25.8 0.1h0m9.6 0h0m-4.5 0.1h0m10.3 0h0m5.7 0h0m3.5 0h0m-7 0.1h0m9.5 0h0m3.4 0h0m-33.5 0.1h0m25.5 0h0m8.5 0h0m-32.2 0.1h0m8.9 0h0m1.4 0h0m15.6 0h0m0.5 0h0m2.9 0h0m-27.2 0.1h0m15.9 0h0m0.9 0h0m0.6 0h0m-20.5 0.1h0m21.9 0.1h0m5.6 0h0m-16.3 0.1h0m8.6 0h0m2.8 0h0m0.7 0h0m5.7 0h0m0.9 0h0m-21.2 0.1h0m1 0h0m12.2 0h0m0.7 0h0m8.9 0h0m-31.8 0.1h0m13.5 0h0m-11.6 0.2h0m6.5 0h0m0.4 0h0m1 0h0m2 0h0m20 0h0m-7.2 0.1h0m4.8 0h0m-8.2 0.1h0m6.1 0h0m-22.5 0.1h0m19.6 0h0m5.4 0h0m0.4 0h0m-27.7 0.1h0m5.2 0h0m4 0h0m16.7 0h0m-17.5 0.1h0m15.7 0h0m2.1 0h0m-15.1 0.1h0m-4 0.1h0m12.2 0h0m1.4 0h0m8.3 0h0m-23.3 0.1h0m9.4 0h0m11.6 0h0m3.2 0h0m-27.8 0.1h0m7.8 0h0m12.1 0h0m3.3 0h0m-20.3 0.1h0m13.6 0h0m2.1 0h0m6.5 0h0m0.3 0h0m2.5 0h0m1 0h0m-33.5 0.2h0m19.1 0h0m1.2 0.1h0m-11.5 0.1h0m15.5 0h0m0.9 0h0m-26.4 0.1h0m19.6 0h0m2.1 0h0m-0.3 0.1h0m0.9 0h0m-22.3 0.1h0m9.1 0h0m5.4 0h0m6.4 0h0m5.4 0h0m2 0h0m1.4 0h0m4.1 0h0m-21.4 0.1h0m3 0h0m2.5 0h0m7.1 0h0m-21.4 0.1h0m5.1 0h0m13.4 0h0m6.9 0h0m-10.8 0.1h0m4.8 0h0m2.3 0h0m2.1 0h0m7.3 0.1h0m-25.5 0.1h0m2.8 0h0m8.5 0h0m1.5 0h0m0.2 0h0m7.9 0h0m-28.3 0.1h0m31.2 0h0m-31.6 0.2h0m0.8 0h0m0.2 0h0m9.6 0h0m11.9 0h0m2.2 0h0m-24.4 0.1h0m6.9 0h0m1.3 0h0m1.9 0h0m18 0h0m-2.3 0.1h0m-23.9 0.1h0m4.6 0h0m-6.1 0.1h0m9.7 0h0m14 0h0m1.2 0h0m1.1 0.1h0m1.1 0h0m2.1 0h0m0.7 0h0m3.5 0h0m-5.3 0.1h0m-28.7 0.2h0m17 0h0m1.8 0.1h0m-16.1 0.1h0m21.1 0h0m3 0h0m-25.6 0.2h0m23.6 0h0m3.7 0h0m-8.2 0.1h0m0.8 0h0m1.3 0h0m3 0h0m1.6 0h0m5.3 0h0m-24.9 0.1h0m13.8 0h0m2.7 0h0m-24.2 0.1h0m4.5 0h0m4.6 0.1h0m4.1 0h0m3.6 0h0m3 0h0m1.8 0h0m2 0h0m1 0h0m8.7 0h0m-26.6 0.1h0m3.9 0h0m11.4 0h0m2.1 0h0m4.1 0h0m4.9 0h0m-0.7 0.1h0m-26.4 0.1h0m12.1 0h0m0.7 0h0m14.1 0h0m-24.9 0.1h0m2.5 0h0m5.8 0h0m7.3 0h0m9.6 0h0m-10.8 0.1h0m6.8 0h0m4.7 0h0m-15.5 0.1h0m-9.4 0.1h0m9.9 0h0m9.8 0h0m4.2 0h0m-3.2 0.2h0m-11.3 0.1h0m10.5 0h0m-16.9 0.1h0m-5.1 0.1h0m0.1 0h0m2.5 0h0m9 0h0m4.2 0h0m3.4 0h0m2.3 0h0m-6.9 0.2h0m0.3 0h0m2 0.1h0m7.3 0h0m-22 0.1h0m0 0h0m18 0h0m3.2 0h0m1.5 0h0m-5.2 0.1h0m-28.1 0.1h0m0.2 0h0m19.8 0.1h0m8.9 0h0m-8.2 0.1h0m2.7 0h0m-24.2 0.1h0m0.7 0h0m11.8 0h0m10.6 0h0m-3.5 0.1h0m6.9 0h0m6.8 0h0m-9.9 0.1h0m1.9 0h0m6.9 0h0m2.4 0h0m-14 0.1h0m-18.8 0.1h0m10.3 0h0m-9.8 0.1h0m12.3 0h0m14.6 0h0m-27.9 0.1h0m18 0h0m6 0h0m2.5 0h0m4.1 0h0m-29.4 0.1h0m6.5 0h0m2 0h0m12 0h0m-4.1 0.1h0m2.8 0h0m12 0h0m-33.1 0.1h0m18 0h0m4 0h0m7.9 0h0m4.1 0h0m-34 0.1h0m12.7 0h0m16 0h0m-10.5 0.1h0m-7.7 0.1h0m9.9 0h0m11.4 0h0m-29.4 0.1h0m8.7 0h0m0.3 0h0m5.6 0.1h0m-7.4 0.1h0m1.9 0h0m5.9 0h0m1.3 0h0m10.8 0.1h0m-29.5 0.1h0m34.2 0h0m-11.3 0.1h0m-1.1 0.1h0m7.6 0h0m-3.9 0.1h0m5.8 0.1h0m-32.5 0.1h0m7.9 0.1h0m4 0h0m-3.7 0.1h0m14.6 0h0m9.9 0h0m-12.9 0.1h0m0.8 0h0m2.6 0h0m10.7 0h0m-2.8 0.1h0m-26.6 0.1h0m14.2 0h0m13.2 0h0m-29 0.1h0m16.8 0h0m4.2 0h0m9 0h0m-30.6 0.1h0m23.2 0h0m-25.6 0.1h0m33.4 0h0m-11.3 0.1h0m6.8 0.1h0m2.3 0h0m-6.8 0.1h0m3.4 0h0m0.5 0h0m-18.4 0.1h0m14.8 0h0m1.4 0h0m5.5 0h0m3.5 0h0m-25 0.1h0m20.7 0h0m-7.8 0.1h0m-24.5 0.1h0m11.4 0h0m1.6 0h0m17.4 0h0m-7.9 0.1h0m-12.7 0.2h0m1 0h0m1.9 0h0m22.3 0h0m-33.3 0.1h0m22.7 0h0m7.2 0h0m-22.9 0.1h0m23.2 0h0m2.1 0h0m-26.3 0.1h0m28.3 0h0m-23.4 0.1h0m9.9 0h0m0.1 0h0m8 0h0m-29.5 0.1h0m3.8 0h0m14.8 0h0m13.3 0.1h0m-22.4 0.1h0m1 0h0m11.9 0h0m1.2 0h0m6 0h0m6.9 0h0m-30.7 0.1h0m2.3 0h0m24.8 0h0m-34.1 0.1h0m21.1 0.1h0m0.9 0h0m-11.4 0.1h0m0.6 0h0m-1 0.1h0m2.3 0h0m10.7 0.1h0m12.5 0.1h0m-13.4 0.1h0m14.9 0h0m-11.6 0.1h0m10.7 0.1h0m-13.9 0.1h0m2.8 0h0m5.1 0h0m-19 0.2h0m-8 0.1h0m21.9 0h0m10 0h0m-35.2 0.1h0m24.2 0h0m4.2 0h0m4.8 0.1h0m0.5 0.1h0m-9.8 0.1h0m2.6 0h0m2.3 0h0m4.1 0h0m-32.7 0.1h0m34.8 0h0m0.8 0h0m-26.1 0.1h0m9.2 0h0m3.4 0h0m0.4 0h0m10.9 0.1h0m-28.4 0.1h0m21.7 0h0m3 0h0m3.5 0h0m2.8 0h0m-3.9 0.1h0m1.8 0h0m0.8 0h0m2.9 0h0m-38.1 0.1h0m30.6 0h0m-27.7 0.1h0m1.1 0h0m20.5 0h0m1.5 0h0m2.9 0h0m1.7 0h0m1.2 0h0m-19.8 0.1h0m0.6 0h0m-11.2 0.1h0m9.1 0h0m1.2 0h0m11.7 0h0m-12.5 0.1h0m14.6 0h0m5.9 0.1h0m-28.1 0.1h0m4.7 0h0m3.8 0h0m15.8 0h0m9.6 0h0m-37 0.2h0m8.2 0h0m17.3 0h0m8.5 0h0m-21.8 0.1h0m16.3 0h0m-27.9 0.1h0m9.2 0h0m1 0.1h0m-8.9 0.1h0m22.2 0h0m9.7 0h0m2.4 0h0m-10.7 0.1h0m7.3 0.2h0m-32.6 0.1h0m10.8 0h0m9.2 0h0m3.3 0h0m-24.9 0.1h0m21.6 0h0m12.9 0h0m0.2 0h0m-33.9 0.2h0m25.3 0h0m1.9 0h0m-28.4 0.1h0m12.8 0h0m12.7 0h0m-1.3 0.1h0m5.1 0h0m4.6 0h0m-19 0.1h0m9.4 0h0m-22.6 0.1h0m-1.4 0.1h0m9.9 0.2h0m-6.6 0.1h0m9.9 0h0m9.5 0h0m7.8 0h0m-19.2 0.2h0m12.7 0h0m9.6 0.1h0m-3 0.1h0m4.2 0h0m-24.1 0.1h0m0.7 0.1h0m16 0h0m5.1 0h0m-25.3 0.1h0m4 0h0m18.3 0h0m-30.7 0.1h0m1.6 0.1h0m23.2 0h0m2.3 0h0m0.9 0h0m6 0h0m-4.4 0.1h0m0.6 0h0m2.2 0h0m-31.4 0.1h0m0.8 0h0m1.4 0h0m16.6 0h0m13.6 0h0m-19.5 0.1h0m14.6 0h0m4.4 0h0m-6.5 0.1h0m1.7 0h0m6.6 0h0m-33.7 0.1h0m12.1 0h0m17.6 0.1h0m-29.7 0.1h0m31.2 0h0m4.4 0h0m-36.5 0.1h0m4.8 0h0m28.3 0h0m4.3 0h0m-13 0.1h0m0.6 0h0m1.2 0h0m0.7 0h0m2.5 0h0m-18.6 0.1h0m13.7 0h0m5.1 0h0m0.1 0h0m2.6 0h0m-3.2 0.1h0m-28.1 0.2h0m29.8 0h0m0.4 0h0m7.2 0.1h0m-27 0.1h0m21.4 0h0m1.1 0h0m1 0h0m-33.8 0.1h0m11.8 0h0m20 0h0m-2.7 0.1h0m1.8 0.1h0m1.7 0.1h0m-7.9 0.1h0m-23.9 0.1h0m8.8 0.1h0m15.6 0h0m5.4 0h0m-21.6 0.1h0m26 0h0m-10 0.1h0m2 0h0m-29.1 0.1h0m10.9 0h0m19.7 0h0m1.2 0h0m-18.4 0.1h0m13.7 0h0m9.5 0h0m-12.7 0.1h0m7.5 0.1h0m-31.4 0.1h0m28 0h0m5.5 0h0m-29.9 0.1h0m22.5 0h0m9.1 0h0m0 0h0m-9.3 0.1h0m3.9 0h0m1.8 0h0m5.5 0h0m-38.3 0.1h0m36.7 0h0m-35.1 0.1h0m11.5 0h0m16.6 0h0m-28.9 0.1h0m0.1 0h0m34.8 0.1h0m-31.1 0.2h0m21.4 0h0m5.4 0h0m-0.5 0.1h0m4.8 0h0m1.7 0h0m-8.4 0.1h0m1.8 0h0m3.1 0h0m3.5 0h0m-34.8 0.1h0m30.7 0h0m-21.8 0.1h0m17 0h0m-27.3 0.1h0m9.9 0h0m20.6 0h0m-1 0.1h0m3.3 0h0m-21.1 0.1h0m1.8 0h0m17.7 0h0m3.9 0h0m-35.6 0.1h0m27.3 0.1h0m1.6 0h0m0.3 0.1h0m-31.4 0.1h0m2.3 0h0m9.7 0h0m2.5 0h0m17.7 0h0m5.3 0h0m-3.3 0.1h0m1.5 0h0m-1.4 0.1h0m3.3 0h0m-22.9 0.1h0m-15 0.1h0m0.8 0h0m30.5 0h0m1.1 0.1h0m2.1 0h0m1.6 0h0m2.6 0h0m0.7 0h0m-36.4 0.1h0m9.2 0h0m19.5 0h0m2 0h0m1.7 0.1h0m-36.6 0.1h0m4.7 0h0m9.3 0.1h0m-12.8 0.1h0m29.3 0h0m-23.6 0.1h0m27.8 0h0m-27.2 0.1h0m27.1 0h0m2.2 0h0m-22.6 0.1h0m-13 0.2h0m3.4 0h0m10 0h0m-1 0.1h0m-11.5 0.1h0m1.8 0h0m31.6 0h0m3.7 0h0m-36.5 0.1h0m4.5 0h0m29 0h0m-33.4 0.2h0m2 0h0m-3.1 0.2h0m12.3 0h0m15.4 0h0m7.4 0h0m-36 0.2h0m2.2 0.1h0m4.6 0h0m7.4 0.1h0m-11.5 0.2h0m-4.1 0.1h0m42.6 0.1h0m-9.3 0.5h0m-17.6 0.1h0m-0.4 0.3h0m-12.7 0.1h0m10 0h0m1.1 0.1h0m1 0h0m0.5 0h0m-11.7 0.2h0m11.3 0.1h0m-11.4 0.1h0m11.6 0.1h0m-4 0.1h0m1.8 0h0m0.3 0h0m-10.8 0.1h0m1.3 0.1h0m3.4 0h0m-5 0.1h0m1.8 0h0m12.5 0h0m-12.3 0.2h0m0.7 0h0m0.1 0h0m8.8 0h0m-1.6 0.2h0m-8.8 0.1h0m3.2 0.1h0m7.9 0h0m-10.8 0.1h0m10.8 0h0m-11.4 0.1h0m2.6 0h0m4.1 0.1h0m-7.8 0.2h0m7.6 0h0m2.7 0h0m-5.7 0.2h0m5 0h0m1.3 0.1h0m-3.9 0.1h0m1.4 0h0m4.5 0h0m-9.7 0.1h0m8.3 0h0m-6.8 0.1h0m4.6 0h0m-6.3 0.1h0m5.4 0h0m3.9 0h0m0.1 0.2h0m0.4 0.1h0m-10.4 0.2h0m-1.8 0.1h0m1 0.1h0m10.7 0h0m-0.7 0.2h0m-3.5 0.3h0m-4.8 0.1h0m2.8 0h0m-3.9 0.2h0m7.4 0.1h0m0.3 0h0m-9.4 0.1h0m11.2 0h0m-9 0.1h0m12 0.1h0m-6.3 0.1h0m3.3 0h0m-6.6 0.1h0m4.4 0h0m-1.2 0.1h0m0.7 0.2h0m-3.1 0.1h0m-2.8 0.1h0m8.5 0h0m-5 0.1h0m-0.6 0.1h0m-4 0.2h0m5 0h0m2.1 0h0m1.9 0h0m-6.9 0.1h0m0.6 0h0m4 0h0m0.2 0.1h0m-6.1 0.1h0m7.5 0h0m-1.8 0.2h0m0 0.1h0m0.7 0h0m-5.1 0.2h0m0.2 0.1h0m2.8 0h0m-4.6 0.1h0m3.2 0.1h0m0.3 0h0m0.3 0h0m2.5 0h0m-6.2 0.1h0m1.9 0h0m-1.6 0.4h0m5.9 0.1h0m-3.9 0.1h0m0.6 0h0m-2.9 0.2h0m4.1 0.2h0m3.5 0.1h0m-8.2 0.5h0m0.2 0h0m3.6 0.1h0m-0.8 0.2h0m0.9 0h0m0.9 0h0m-1.1 0.4h0m3.4 0.4h0m-5.5 0.5h0m0.4 0.7h0" stroke="#6f77b6" stroke-width="0.58" stroke-linecap="square" stroke-opacity="0.6"/><path d="M232.0 139.9h0m2.2 0.9h0m3.1 0h0m-3.3 0.1h0m-1.5 0.8h0m-0.3 0.1h0m4 0.2h0m-3.2 0.1h0m2.5 0.1h0m-0.2 0.4h0m-0.2 0.1h0m0.3 0.1h0m-3.6 0.3h0m6.1 0.4h0m-6.9 0.1h0m0.5 0.1h0m-1.8 0.5h0m19.8 0.2h0m-17.6 0.1h0m15.5 0.2h0m-9.9 0.2h0m-5.6 0.2h0m1.7 0.1h0m16.5 0h0m-21.2 0.3h0m8.7 0h0m12.1 0h0m-17.8 0.1h0m16.3 0.3h0m-18.1 0.3h0m4.5 0.2h0m-1.9 0.1h0m18.8 0.3h0m-21.5 0.1h0m0 0h0m6.9 0h0m-5.8 0.1h0m4.6 0h0m-5 0.1h0m19.1 0h0m1.6 0h0m-19.5 0.5h0m-0.8 0.1h0m4.3 0h0m-0.5 0.1h0m-4.6 0.1h0m3 0h0m3.3 0h0m-4.5 0.3h0m1.5 0h0m-4.6 0.1h0m4.1 0h0m0.2 0h0m16.2 0h0m-18.9 0.1h0m-0.1 0.1h0m16.7 0h0m5.9 0h0m-0.8 0.2h0m0.8 0h0m-27 0.4h0m2.5 0.2h0m21.6 0h0m-22.6 0.1h0m1.2 0h0m4 0h0m2.9 0h0m-5.4 0.1h0m7 0h0m-9.7 0.1h0m0.3 0h0m0.4 0h0m4.9 0h0m0.7 0h0m18.4 0h0m-20.1 0.1h0m21.5 0.1h0m-19.1 0.1h0m16.1 0h0m0.5 0h0m0.8 0.1h0m0.1 0.1h0m-23.9 0.1h0m23.7 0h0m3.3 0h0m-24 0.1h0m17.6 0h0m0 0h0m0.9 0h0m1.1 0h0m3.3 0h0m-5.9 0.1h0m-18.2 0.1h0m3.6 0h0m0 0h0m0.4 0h0m18 0.1h0m-24 0.1h0m1.1 0h0m4.1 0h0m-1.5 0.1h0m14.4 0h0m0.6 0h0m0.1 0h0m8.2 0h0m-26.5 0.1h0m-1.9 0.1h0m21.9 0h0m-22 0.1h0m7.5 0h0m2.6 0h0m-7.9 0.2h0m19.5 0h0m6.6 0h0m-25.1 0.1h0m7.3 0h0m5.9 0h0m7.4 0h0m3.4 0h0m2 0.1h0m-27.1 0.1h0m17.9 0h0m-15.8 0.1h0m18.4 0h0m7.1 0h0m-22.6 0.1h0m1.4 0h0m13 0h0m6.6 0h0m-10.2 0.1h0m2.3 0h0m-13 0.1h0m11.4 0h0m4.9 0h0m-22.6 0.3h0m7.1 0h0m16.1 0h0m-24.1 0.2h0m5.8 0h0m18.4 0.2h0m1 0h0m0.7 0h0m-7.1 0.1h0m6.2 0h0m-16.7 0.1h0m8.9 0h0m4.3 0h0m0.1 0h0m-18 0.1h0m14 0h0m0.7 0h0m7 0.1h0m-25.6 0.1h0m9.7 0.1h0m11.5 0h0m6.8 0.2h0m-4.8 0.1h0m4 0h0m-23.8 0.1h0m14.4 0h0m-14.3 0.2h0m22.8 0h0m-22.6 0.2h0m19 0h0m-24.8 0.1h0m1.5 0.1h0m0.2 0.1h0m6.5 0.1h0m0.5 0h0m-1.4 0.1h0m2.1 0.1h0m-7.6 0.1h0m3.6 0h0m16.3 0h0m8.3 0h0m-8.6 0.2h0m5.5 0h0m-23.1 0.1h0m5 0h0m14.9 0h0m7.4 0h0m0.8 0h0m-7.1 0.1h0m4.5 0h0m-0.2 0.1h0m-9.4 0.1h0m5 0.1h0m-0.5 0.1h0m5.4 0h0m0.4 0h0m-21.8 0.1h0m22.4 0h0m-26.9 0.1h0m4.8 0h0m13.5 0h0m1.2 0h0m6.7 0h0m-6.9 0.1h0m-2 0.1h0m1.3 0h0m2.8 0h0m0.1 0.1h0m7.5 0h0m-30.7 0.1h0m18.1 0h0m10.2 0h0m-31.8 0.1h0m5.1 0h0m25.5 0h0m0.1 0h0m-24.4 0.1h0m3.2 0h0m16.4 0h0m3.2 0h0m1 0h0m0.5 0h0m-3.1 0.1h0m-7.2 0.1h0m0.9 0h0m5.5 0h0m2 0h0m-27 0.1h0m27.3 0h0m2.5 0h0m-29.7 0.1h0m22.9 0h0m5.2 0h0m-9.5 0.1h0m-11.1 0.2h0m17 0h0m1.6 0h0m-9.4 0.1h0m1.9 0h0m8.7 0h0m1.3 0h0m-20.2 0.1h0m13.9 0h0m0.3 0h0m-23 0.1h0m21.6 0h0m-12.5 0.1h0m21.2 0h0m-27.5 0.1h0m6.6 0h0m-9.8 0.1h0m2.3 0h0m-0.8 0.1h0m9.1 0h0m-4.5 0.1h0m4.8 0h0m-7.7 0.1h0m17.6 0h0m3.1 0h0m-18.6 0.1h0m4.3 0h0m15 0.1h0m-25.1 0.1h0m10.5 0h0m17.2 0h0m0.3 0h0m-23.6 0.1h0m2.3 0h0m5.7 0h0m-5.2 0.1h0m22 0h0m-21.5 0.1h0m24.3 0h0m-24.5 0.1h0m11.6 0h0m8.9 0h0m-1.1 0.1h0m1.8 0h0m1.4 0h0m-21.7 0.1h0m12.4 0h0m1.5 0h0m5.9 0h0m3.6 0h0m-6.3 0.2h0m2.2 0h0m-27.1 0.1h0m5.8 0h0m20 0h0m0.2 0h0m-17.8 0.1h0m13 0h0m7 0h0m-7 0.1h0m4.5 0.1h0m4.7 0h0m-23.8 0.4h0m18.1 0h0m0.3 0h0m-20.5 0.2h0m1.4 0h0m0.6 0h0m16.7 0h0m-20.1 0.1h0m2 0h0m22.1 0h0m3.1 0h0m-0.8 0.1h0m-26.1 0.1h0m2.9 0h0m-3.7 0.1h0m0 0h0m24.8 0h0m-22.7 0.1h0m3.5 0h0m15.8 0h0m2.6 0h0m-27.1 0.3h0m6.1 0h0m-3.7 0.2h0m17.2 0h0m-18.8 0.1h0m6.7 0h0m18.1 0h0m2.4 0h0m-29.2 0.1h0m7.2 0h0m20 0.1h0m-26.4 0.1h0m7.9 0h0m16.5 0h0m0.3 0.1h0m-22.4 0.1h0m1.5 0h0m4.3 0.1h0m11.8 0h0m2.8 0.1h0m0.7 0.1h0m6.2 0h0m-29.3 0.1h0m6.7 0h0m16.3 0h0m8.1 0h0m-31.4 0.1h0m8.4 0h0m13.9 0h0m0.5 0h0m7.1 0h0m-29.3 0.1h0m2.1 0h0m26.3 0h0m-3.3 0.1h0m0.7 0h0m-23.9 0.1h0m22.6 0h0m-23.6 0.2h0m3.2 0h0m22.4 0h0m3.3 0h0m-31.1 0.1h0m1.4 0h0m19.5 0h0m9.6 0h0m-30.5 0.1h0m20.2 0h0m8.9 0h0m-23.2 0.1h0m2.4 0h0m12.3 0h0m9.9 0h0m-1.1 0.1h0m-25.6 0.1h0m17.3 0h0m10.4 0.2h0m-29 0.1h0m2.3 0h0m4.3 0h0m13.1 0.1h0m4.6 0h0m-2.6 0.2h0m4.1 0h0m0.4 0h0m6.3 0h0m-12.1 0.1h0m5.9 0h0m-28.4 0.1h0m8 0h0m15.3 0h0m-21.9 0.1h0m24.6 0h0m0.2 0h0m-20.2 0.1h0m1.9 0h0m14.9 0h0m6.5 0h0m-25.5 0.1h0m5.2 0h0m12 0h0m4.2 0h0m-2.2 0.1h0m4.6 0.1h0m-5.3 0.1h0m2.4 0h0m3.2 0h0m-25.2 0.1h0m21.6 0h0m-25.1 0.1h0m4.5 0h0m2.6 0h0m-2.5 0.1h0m6.4 0.2h0m15.8 0h0m1.2 0h0m-2.9 0.2h0m-17.7 0.2h0m-8.7 0.1h0m0.3 0h0m8.4 0h0m21.3 0h0m-29.4 0.1h0m8.7 0h0m23.3 0h0m-2.9 0.1h0m-22.3 0.1h0m4.1 0h0m16.6 0h0m3.6 0h0m-3.3 0.1h0m-18.8 0.1h0m0.5 0.1h0m17.9 0h0m-26.3 0.1h0m2.9 0h0m20.6 0.2h0m-24.5 0.1h0m2 0h0m2.9 0h0m25.7 0h0m-23 0.1h0m19.4 0h0m-26.4 0.1h0m23.8 0h0m-13.9 0.1h0m-5.5 0.1h0m3.2 0h0m18.2 0h0m-28.5 0.1h0m10.5 0h0m-2.1 0.1h0m22.2 0.1h0m-21.9 0.1h0m1.5 0h0m-6.4 0.1h0m1.8 0h0m26.4 0h0m-30.4 0.1h0m1.7 0h0m7.5 0h0m0.5 0.2h0m-12.2 0.3h0m29.9 0.1h0m2.6 0.1h0m2.5 0h0m-31.9 0.1h0m2.9 0h0m18.2 0h0m-13.9 0.1h0m-1.1 0.2h0m1 0h0m22.5 0h0m-28.2 0.2h0m28.2 0h0m-20.6 0.1h0m18.1 0h0m-20 0.1h0m-1.6 0.1h0m19.5 0h0m-16.5 0.1h0m18.8 0h0m-26.5 0.1h0m29.5 0.1h0m-31 0.1h0m26.2 0h0m-0.3 0.1h0m4.4 0h0m-31 0.1h0m1 0h0m31.1 0h0m-29.5 0.1h0m-4.3 0.1h0m4.8 0h0m-3.6 0.1h0m0.7 0h0m26.4 0h0m1.7 0h0m-31.8 0.1h0m6.5 0.1h0m-4 0.2h0m9.6 0h0m17.9 0h0m1.8 0.1h0m-28.6 0.5h0m-3.1 0.3h0m0.3 0h0m12.1 0h0m-1.4 0.1h0m1.8 0h0m-10.2 0.2h0m0.9 0h0m0 0.1h0m6.3 0h0m-10 0.1h0m7.8 0.1h0m0.3 0h0m-5.8 0.2h0m8 0h0m0.5 0h0m1 0h0m-12.9 0.2h0m29.4 0h0m-28.9 0.2h0m7.1 0.1h0m4.7 0.1h0m-7 0.1h0m4.6 0.1h0m0.1 0h0m-7.8 0.1h0m1.9 0h0m5 0h0m24.5 0h0m-29.9 0.2h0m-0.2 0.1h0m4.7 0h0m-5.7 0.1h0m-1.9 0.1h0m4.7 0h0m1.1 0h0m2.8 0h0m-5.8 0.4h0m0.6 0h0m1.7 0.2h0m0.5 0h0m3.6 0.1h0m-0.8 0.1h0m3.3 0h0m-8.6 0.2h0m10.8 0h0m-13.2 0.1h0m11.5 0.1h0m-11.2 0.2h0m2.4 0.1h0m4.4 0.2h0m0.3 0h0m-5.5 0.1h0m0.2 0h0m6.4 0h0m3.2 0h0m-1.4 0.2h0m-1 0.3h0m-6.1 0.1h0m-1.1 0.1h0m9.1 0h0m-9.5 0.2h0m1.9 0.1h0m-2.8 0.1h0m4.4 0h0m4.2 0h0m0.3 0h0m0.5 0h0m-9.1 0.1h0m1.9 0h0m3.4 0h0m-0.7 0.2h0m3.8 0.1h0m-4.4 0.1h0m2.7 0.1h0m-4.7 0.2h0m-0.1 0.1h0m5.5 0h0m-4.4 0.1h0m-1.7 0.1h0m1.1 0h0m0.1 0.1h0m2.5 0h0m3.3 0h0m-5.1 0.2h0m-0.9 0.3h0m3.1 0h0m-5.4 0.2h0m0.6 0h0m3.3 0.2h0m3.3 0.3h0m-5.8 0.1h0m-3.3 0.1h0m5.5 0.2h0m2.4 0h0m-4.1 0.2h0m1.3 0.3h0m0.5 0.3h0m0.6 0.3h0m-0.6 0.1h0m0.5 0h0m4.4 0h0m-5.7 0.1h0m-1.8 0.1h0m-0.5 0.1h0m-1.2 0.1h0m3.6 0h0m1.4 0h0m-0.2 0.1h0m2.1 0.1h0m-2.8 0.1h0m0.2 0h0m2.5 0.2h0m-0.5 0.2h0m1 0h0m-2.8 0.1h0m-0.1 0.4h0m-3.1 0.1h0m4.2 0.5h0m-3.6 0.2h0m-0.7 0.4h0m2.1 0.3h0" stroke="#9ea88e" stroke-width="0.58" stroke-linecap="square" stroke-opacity="1"/><path d="M234.8 140.9h0m0 1.6h0m-1 0.6h0m1.7 0.2h0m1.1 0.6h0m-2.7 0.1h0m1.4 0h0m0 0.7h0m-3.2 0.9h0m-1 0.5h0m-1.3 0.3h0m4.2 0h0m-1.5 0.3h0m3.1 0.2h0m-4.5 0.1h0m18.4 0h0m-13.9 0.2h0m14.6 0.1h0m-20.8 0.1h0m5.3 0h0m14.2 0.2h0m-18.7 0.4h0m-0.9 0.1h0m-1.7 0.1h0m2.2 0h0m22.8 0.3h0m-21.9 0.2h0m3.4 0h0m18 0h0m-22.1 0.4h0m0.9 0h0m0.2 0h0m-3.7 0.1h0m21.8 0h0m3.7 0h0m-23.7 0.1h0m25.3 0h0m-1.8 0.2h0m-18.1 0.1h0m-2.8 0.1h0m1.9 0.2h0m0.9 0h0m18.2 0h0m-19.7 0.1h0m19.8 0.2h0m-23.7 0.1h0m3.6 0h0m23.5 0.1h0m-25.5 0.1h0m1.9 0h0m-5.4 0.1h0m4.6 0h0m0.4 0h0m-3.5 0.1h0m4 0h0m-3.1 0.1h0m-1.6 0.2h0m24.9 0h0m-21.8 0.1h0m21.3 0h0m2.6 0h0m-24.9 0.1h0m2.8 0h0m-5.2 0.1h0m4.4 0h0m18.4 0h0m3.9 0h0m-27.3 0.1h0m2.3 0.1h0m3.9 0h0m15.5 0h0m-16.5 0.1h0m0.6 0h0m-1.6 0.1h0m16.9 0.1h0m1.6 0h0m-17 0.2h0m19.4 0.1h0m-23.4 0.1h0m4.7 0h0m0.3 0.1h0m-4.7 0.1h0m0 0h0m1.8 0h0m0.7 0h0m17.6 0.1h0m-17.2 0.1h0m-4.4 0.2h0m3.6 0h0m-3.3 0.1h0m2.9 0h0m-3 0.1h0m16.9 0h0m-12.8 0.2h0m1.1 0h0m0.8 0h0m-7.1 0.1h0m4.4 0h0m18.9 0h0m-15.8 0.1h0m18.2 0h0m2.2 0h0m-11 0.2h0m2.5 0h0m1.9 0.2h0m6.4 0h0m-26.9 0.1h0m0.5 0h0m0.4 0h0m2.6 0h0m0.6 0h0m0.9 0h0m0.3 0h0m-4.5 0.3h0m1.4 0h0m17.2 0h0m-20.7 0.1h0m2.5 0h0m0.2 0h0m3.9 0h0m23.1 0h0m-22.9 0.1h0m19.6 0h0m-26.5 0.1h0m1.1 0h0m3.7 0h0m19.7 0h0m2.2 0.2h0m-27.5 0.1h0m0.7 0h0m5.9 0h0m1.3 0h0m2 0h0m10.4 0h0m7 0h0m-25.5 0.1h0m26.7 0h0m-26.5 0.1h0m19.5 0h0m0 0h0m1.2 0h0m3.6 0h0m-25.6 0.1h0m2.2 0h0m2.2 0h0m21.2 0.1h0m3.2 0h0m-24 0.1h0m-5.4 0.1h0m-0.8 0.1h0m6.6 0.1h0m18.4 0h0m-24.2 0.1h0m6 0h0m17.2 0h0m-23.3 0.2h0m5.2 0h0m22 0h0m0.7 0h0m-26.1 0.1h0m1 0h0m3.2 0h0m-4.5 0.1h0m0.2 0h0m23.2 0h0m-25.1 0.1h0m4.6 0h0m2.4 0h0m-3 0.1h0m3.6 0h0m-7 0.1h0m1 0h0m7 0h0m17 0h0m1.3 0h0m-24.4 0.3h0m1.4 0h0m20.4 0h0m2.3 0h0m-20.9 0.1h0m-3.2 0.1h0m2.7 0h0m14.8 0h0m1.9 0h0m5.1 0h0m1.8 0.1h0m-21.7 0.1h0m0.9 0h0m-2.4 0.1h0m21.5 0h0m-1.1 0.1h0m2.6 0.1h0m-24.9 0.1h0m-0.1 0.1h0m17.4 0h0m0.8 0h0m0.6 0h0m-16.3 0.1h0m14.8 0h0m6.7 0h0m-25.4 0.1h0m19.3 0h0m-2.1 0.1h0m-18.4 0.1h0m27.1 0h0m-4.9 0.1h0m1.3 0h0m-22.4 0.1h0m2 0.1h0m23.2 0h0m-21.9 0.1h0m1.8 0h0m0.8 0h0m13.5 0h0m4.1 0h0m-25.6 0.1h0m4.9 0h0m-3.5 0.1h0m0.5 0h0m4.7 0h0m14.2 0h0m1.7 0h0m2.8 0h0m-20.4 0.1h0m2.7 0h0m14.3 0h0m2.1 0h0m-21.3 0.1h0m-3.4 0.2h0m2.1 0h0m3.6 0h0m20 0h0m-24 0.1h0m24.9 0h0m-24 0.1h0m19.6 0h0m-22.4 0.3h0m18.7 0h0m-17 0.1h0m17.8 0h0m-13.9 0.1h0m2.6 0h0m12.8 0h0m1.7 0h0m4.4 0h0m-26.4 0.1h0m22.6 0h0m-16.9 0.1h0m-3.8 0.1h0m5.1 0h0m-5.4 0.1h0m3.5 0h0m1.8 0h0m15.9 0h0m3.5 0h0m-23.7 0.1h0m20 0h0m4 0h0m-21.2 0.1h0m2 0h0m-3.3 0.1h0m0.9 0h0m13.4 0h0m5.4 0h0m1.5 0h0m-26.2 0.1h0m0.8 0h0m6.8 0h0m17.4 0h0m-23.9 0.1h0m7.1 0h0m-4.5 0.1h0m0.8 0h0m1.4 0h0m14.2 0h0m1.9 0h0m-22.6 0.1h0m0.5 0h0m2.6 0h0m3.9 0h0m18.7 0h0m-20.9 0.1h0m1.4 0.1h0m22.9 0h0m-25.6 0.1h0m3.8 0h0m19 0h0m1.6 0h0m-22.8 0.1h0m18.6 0h0m2.8 0h0m-4.2 0.1h0m5.2 0h0m0.4 0h0m-23.6 0.1h0m1.2 0h0m20.5 0h0m-23.1 0.2h0m3.3 0h0m15.8 0h0m-19.5 0.1h0m4.2 0h0m14.6 0h0m-18.2 0.1h0m20.5 0h0m2.3 0h0m6.4 0h0m-30.1 0.2h0m4.3 0h0m1.3 0h0m0.8 0h0m14.4 0h0m-20.3 0.1h0m18.5 0h0m1.2 0h0m-20.8 0.1h0m26.1 0h0m-30.2 0.1h0m1.9 0.1h0m2.3 0h0m3.2 0h0m20.5 0h0m0.3 0h0m-23.5 0.1h0m-1.4 0.1h0m0.6 0.1h0m1 0h0m22.8 0h0m1.2 0h0m2.4 0h0m-30 0.1h0m0.9 0h0m6.1 0h0m18.2 0h0m-2.2 0.1h0m3.2 0h0m-20.3 0.1h0m0.6 0.1h0m1.7 0h0m16.8 0h0m-24.7 0.1h0m-0.3 0.2h0m5.7 0h0m1.6 0.1h0m19.9 0h0m2.9 0h0m-1.6 0.1h0m-22.8 0.1h0m0.7 0h0m19.5 0h0m-24.8 0.1h0m1.1 0h0m1.9 0.1h0m22.9 0h0m0.1 0h0m3.3 0h0m-28.1 0.1h0m0.8 0h0m0.7 0h0m3.1 0.1h0m16.3 0h0m-21.7 0.1h0m2 0h0m24.2 0h0m-25.2 0.1h0m2.5 0h0m-0.8 0.1h0m1 0h0m0.1 0.2h0m-6.6 0.1h0m3.8 0h0m0.3 0h0m3.6 0.1h0m2.1 0h0m14.2 0h0m-21.4 0.1h0m6.8 0h0m-3.5 0.1h0m-4.2 0.1h0m27 0h0m-24.2 0.1h0m1.1 0h0m19.3 0.1h0m-24.3 0.1h0m1.2 0h0m8 0.3h0m15.4 0h0m-15.7 0.1h0m0.1 0.1h0m20.4 0h0m-3.1 0.1h0m-25 0.2h0m1.2 0h0m-1.7 0.1h0m3.4 0h0m26.9 0h0m-30.5 0.1h0m4.8 0h0m21.9 0h0m-20.3 0.1h0m-5.4 0.1h0m4.3 0.2h0m3.6 0h0m-3.1 0.1h0m0.9 0h0m-1.2 0.1h0m18.6 0h0m-21.9 0.1h0m3.4 0h0m13.1 0h0m-17.2 0.1h0m0.8 0h0m1.3 0h0m0.1 0h0m23.2 0h0m-22.6 0.1h0m0.1 0h0m-2.2 0.4h0m1.5 0h0m0.6 0h0m-2.3 0.1h0m0.1 0h0m-2.6 0.2h0m0.3 0h0m5.4 0h0m16.4 0.1h0m-20.6 0.1h0m0.8 0h0m0.7 0h0m-0.5 0.1h0m0.1 0h0m-1.9 0.1h0m2.6 0h0m22.9 0.1h0m-21.7 0.1h0m4.4 0h0m-7.6 0.1h0m0.6 0h0m-3.7 0.1h0m2.3 0h0m1.2 0h0m3 0h0m1.5 0h0m-4 0.1h0m0.4 0h0m0.3 0h0m0.8 0h0m2.3 0h0m-2.7 0.1h0m0.1 0h0m-3.4 0.2h0m0.5 0h0m0.5 0h0m5.3 0h0m-2.6 0.1h0m1.3 0h0m21.4 0.1h0m-20.7 0.1h0m-2.8 0.1h0m-3.4 0.1h0m4.5 0h0m2.8 0h0m0.6 0h0m-6.1 0.1h0m-3.6 0.2h0m4.4 0h0m-0.9 0.1h0m5.5 0.1h0m-7.4 0.1h0m-0.2 0.1h0m4.6 0.1h0m0.7 0h0m-1 0.1h0m1.8 0h0m0.1 0h0m-6.8 0.1h0m-1.1 0.1h0m4.9 0h0m29.3 0h0m-31.2 0.1h0m3.2 0h0m0.5 0h0m0.6 0h0m0.1 0h0m0.5 0h0m-4 0.1h0m0.6 0h0m5.6 0h0m-11.1 0.3h0m7.2 0h0m-3.5 0.1h0m-1 0.2h0m0.7 0h0m2.5 0h0m3.3 0h0m-7.2 0.1h0m-0.5 0.1h0m-1.3 0.1h0m5.8 0h0m0.8 0h0m23 0h0m-20.4 0.1h0m-3.4 0.1h0m1.7 0h0m2.9 0h0m-8.3 0.1h0m-0.8 0.1h0m1.5 0h0m1 0.1h0m4.5 0h0m-3.8 0.1h0m0.3 0h0m2.4 0h0m-3.1 0.1h0m2.1 0.1h0m1.3 0.1h0m1.2 0.1h0m-8.7 0.2h0m7.6 0h0m-0.6 0.1h0m0.3 0h0m1 0h0m-8 0.1h0m6.9 0.1h0m-6 0.1h0m0.2 0h0m7.1 0h0m-1.2 0.1h0m-5 0.1h0m3.4 0h0m-3.4 0.1h0m3.7 0h0m2.5 0.1h0m-7.4 0.1h0m1.9 0h0m5 0h0m0.4 0.1h0m-6.3 0.1h0m3.8 0.1h0m-7.1 0.2h0m6.1 0h0m1.4 0h0m0.2 0h0m-5.6 0.2h0m2.7 0h0m-1.8 0.1h0m3 0.1h0m1.4 0h0m-4.2 0.1h0m1.5 0h0m2.5 0h0m0.7 0.2h0m-5.9 0.1h0m0.4 0h0m1.5 0h0m-3.1 0.1h0m1.8 0.1h0m0 0h0m4.1 0.3h0m-5.4 0.1h0m3.3 0h0m0.8 0h0m-3.3 0.1h0m1.3 0h0m-2.4 0.1h0m-3.1 0.1h0m6.1 0h0m-3.4 0.2h0m3.1 0.1h0m3.1 0.1h0m-5.6 0.1h0m1 0h0m-0.3 0.2h0m2 0h0m2.2 0h0m-2.9 0.1h0m0.5 0h0m0.6 0.2h0m1.2 0.1h0m1.1 0h0m-2.1 0.1h0m-3 0.4h0m3.2 0h0m-2.1 0.2h0m2.8 0h0m2.3 0h0m-1.2 0.1h0m-3.4 0.1h0m0.4 0h0m-2.1 0.1h0m0.7 0h0m2.7 0h0m1.5 0h0m1.2 0h0m-5.3 0.1h0m2 0.2h0m1.5 0h0m-1.6 0.1h0m-2.8 0.2h0m3.4 0h0m1 0h0m0.3 0h0m-4.2 0.1h0m1 0.1h0m-0.8 0.1h0m3 0h0m1.8 0h0m-0.8 0.1h0m-3.3 0.5h0m4.7 0h0m0.5 0h0m-1.8 0.1h0m-1.7 0.3h0m-0.4 0.3h0m1.6 0h0m0.5 0.4h0m-2.8 0.2h0m1.5 0.9h0" stroke="#bcbe5c" stroke-width="0.58" stroke-linecap="square" stroke-opacity="1"/><path d="M233.6 145.3h0m-1 1.5h0m-2.8 0.1h0m-1 0.4h0m4.2 0.3h0m-2.9 0.5h0m1.6 0.2h0m18.2 0.1h0m-15.9 0.1h0m-3 0.1h0m0.3 0.1h0m-2.5 0.5h0m0.4 0.5h0m19 0.2h0m-19.8 0.1h0m1 0h0m-0.9 0.2h0m2.9 0.1h0m0.1 0h0m-0.1 0.3h0m1.1 0h0m15.6 0h0m-20.1 0.7h0m2 0h0m-0.2 0.1h0m4.4 0.1h0m-3.8 0.4h0m15.9 0.1h0m-1.4 0.1h0m-16.5 0.1h0m2.9 0.1h0m0 0h0m-2.1 0.3h0m1.3 0.1h0m-2.3 0.2h0m0.1 0h0m17.5 0h0m-14.4 0.1h0m-2.9 0.1h0m1 0h0m4.8 0h0m-3.6 0.1h0m-4 0.1h0m3.6 0h0m-0.1 0.1h0m-1.8 0.1h0m0 0.1h0m2.8 0.2h0m-1.7 0.3h0m0.4 0h0m0.9 0.1h0m-1.2 0.3h0m22.7 0h0m-24.3 0.5h0m24.8 0h0m-25.8 0.3h0m2.4 0h0m-0.9 0.1h0m1.9 0.3h0m0.4 0.1h0m0 0.1h0m-3.3 0.1h0m2.3 0h0m-1.5 0.1h0m27.5 0h0m-27.4 0.1h0m1.8 0h0m-4.2 0.1h0m22.1 0h0m-20.9 0.1h0m2.1 0.1h0m0.6 0h0m20.8 0h0m-23 0.1h0m23.2 0.1h0m-22.2 0.2h0m25.7 0.1h0m-26.9 0.1h0m1.6 0h0m-0.5 0.2h0m18.4 0h0m-21.3 0.1h0m23 0h0m-15.9 0.3h0m-4.9 0.1h0m0.9 0h0m20.3 0.1h0m1.4 0h0m-22.8 0.1h0m2.7 0h0m20 0h0m0.4 0h0m-23.5 0.1h0m24.2 0.1h0m-25.1 0.1h0m22.3 0h0m-24.6 0.1h0m3.4 0h0m0.1 0.1h0m22.7 0h0m-23.8 0.1h0m17.7 0.1h0m4.8 0h0m0.2 0.1h0m4.1 0.1h0m-5.7 0.3h0m2.6 0h0m-22.6 0.1h0m22.5 0h0m-4.7 0.1h0m2.2 0h0m2.6 0h0m0.5 0.1h0m-20.8 0.1h0m-4.3 0.1h0m23.4 0.1h0m2.4 0h0m-5.1 0.2h0m-17.1 0.1h0m18.7 0.1h0m-16.9 0.1h0m18 0h0m-19.2 0.1h0m18.8 0h0m-23.2 0.1h0m24.5 0h0m-22.5 0.1h0m20.3 0h0m1.4 0h0m-1.6 0.1h0m-21.3 0.4h0m0.5 0h0m0.2 0h0m17.2 0.1h0m3.7 0.1h0m-19.7 0.1h0m21.9 0.1h0m1.2 0h0m-28.3 0.2h0m1.1 0h0m5.1 0h0m-3.2 0.1h0m2 0h0m20.4 0h0m1.7 0.1h0m-0.9 0.3h0m0 0.2h0m-22.7 0.2h0m2.5 0h0m18.1 0.1h0m-22.5 0.1h0m2.8 0.2h0m0.1 0h0m-3.9 0.1h0m4.4 0h0m-4.7 0.1h0m8.7 0h0m16.6 0h0m-25.1 0.2h0m2.1 0h0m0.9 0h0m0.7 0.1h0m0 0.1h0m19.3 0.1h0m-17.6 0.1h0m-1.8 0.1h0m-3.6 0.3h0m1.1 0.1h0m0.3 0h0m2 0h0m-4.3 0.1h0m6.3 0.2h0m-4.6 0.1h0m-1.3 0.1h0m4.6 0h0m22.4 0.3h0m-26.4 0.1h0m2.4 0h0m4.7 0h0m-5.5 0.1h0m0.6 0.2h0m1.4 0.1h0m1.4 0h0m-2.8 0.2h0m2.3 0.1h0m-4.7 0.1h0m2 0h0m0.2 0.1h0m-4.1 0.3h0m2.8 0.2h0m3.5 0h0m-5.3 0.1h0m3.4 0h0m3.2 0.3h0m-6.3 0.1h0m2.5 0.2h0m0.5 0.1h0m24.6 0.1h0m-24.6 0.4h0m-4.8 0.1h0m29.5 0.1h0m-26.7 0.1h0m3.9 0h0m-2.4 0.1h0m2.4 0h0m-3.8 0.1h0m-3.6 0.1h0m1.9 0h0m4.4 0h0m-1 0.1h0m1.6 0h0m-5.9 0.1h0m2.3 0.1h0m0.4 0h0m0.8 0.3h0m-1.7 0.3h0m2.4 0.1h0m-3 0.2h0m2.9 0.7h0m0.3 0h0m-5.6 0.1h0m8.4 0h0m-3.1 0.2h0m-2.5 0.1h0m1.8 0h0m1.1 0.1h0m-3.1 0.2h0m-3.1 0.3h0m3.6 0h0m-1.9 0.1h0m0.4 0.2h0m5.3 0.1h0m-1.6 0.2h0m-2.9 0.2h0m-2.7 0.1h0m0.4 0.2h0m-1 0.3h0m3.4 0h0m-0.2 0.1h0m0.4 0h0m4.9 0h0m-2.7 0.1h0m-5 0.2h0m2.3 0h0m-1 0.1h0m0.8 0.2h0m0.4 0h0m-3.4 0.1h0m1.4 0h0m1.5 0h0m2.6 0h0m1.7 0.2h0m-6.8 0.2h0m5.4 0h0m-3.5 0.1h0m3 0h0m-1.7 0.5h0m-1.5 0.1h0m4.2 0h0m-4.9 0.2h0m3.3 0.1h0m2.8 0h0m-5.7 0.2h0m1.8 0.1h0m-5.4 0.3h0m2.7 0.2h0m3.2 0h0m1.8 0h0m-5.5 0.1h0m0.6 0.3h0m3.7 0.3h0m1.1 0.3h0m-2.9 0.1h0m-2 0.3h0m1.5 0.6h0m2 0h0m-2.7 0.1h0m-2.7 0.2h0m4.6 0.6h0m-0.6 0.3h0m-1.2 2h0" stroke="#d4b442" stroke-width="0.58" stroke-linecap="square" stroke-opacity="1"/><path d="M229.6 148.3h0m0.1 0.5h0m1.4 0.4h0m1.6 0.1h0m-4.4 0.2h0m1.8 0h0m-1.1 0.1h0m4.6 0.5h0m17.7 0.5h0m-18.5 0.1h0m-0.3 0.4h0m0.6 1.3h0m-2.7 0.6h0m2.6 0h0m-0.4 0.6h0m-4.6 0.6h0m1.3 0h0m-1.2 0.3h0m0.7 0.4h0m0.3 0.6h0m-0.4 0.2h0m-2.4 0.9h0m0.6 0.7h0m0.8 0.1h0m2 0.1h0m1.9 0h0m-5.3 0.1h0m3 0.2h0m0.7 0.4h0m-4 0.2h0m3.1 0.2h0m-1.1 0.1h0m1.6 0h0m-1.9 0.2h0m-1.5 0.3h0m-0.4 0.4h0m3.1 0h0m-0.3 0.4h0m-0.5 0.2h0m-0.4 0.6h0m2.5 1.2h0m-1.6 0.1h0m-2.2 0.1h0m-1.8 0.2h0m4.4 0h0m-3.8 0.1h0m5.4 0h0m-5.3 0.4h0m0.9 0.2h0m0.1 0h0m-0.1 0.2h0m2.9 0.3h0m-5.1 0.2h0m0.4 0.1h0m-1.6 0.1h0m3.6 0h0m-2.2 0.2h0m-1.9 0.2h0m4.8 0.2h0m-0.8 0.3h0m-2.1 0.2h0m1.2 0h0m0.6 0.1h0m-1 0.2h0m-0.6 0.2h0m0.6 0.1h0m0.7 0.4h0m1.9 0.5h0m-5.1 0.2h0m1.6 0.4h0m-0.7 0.1h0m2.3 0.1h0m0.2 0h0m-0.7 0.2h0m-3.2 0.1h0m4.3 0h0m0.6 0h0m1.1 0h0m-3.5 0.1h0m-0.8 0.1h0m-1.5 0.3h0m1.5 0.2h0m3.1 0.3h0m-3.4 0.1h0m2.6 0.9h0m-3.5 0.3h0m1.7 0.7h0m-3.8 0.2h0m2.7 0h0m-0.2 0.2h0m-1.3 0.1h0m0.8 0.1h0m-2.9 0.2h0m2 0.1h0m2.1 0h0m1.3 0.3h0m-4.7 0.4h0m5.9 0h0m-1.6 0.1h0m-2.1 0.1h0m-2.8 0.2h0m0.6 0h0m2.5 0h0m1.8 0.1h0m-2 0.1h0m-2.8 0.1h0m2.4 0h0m0.6 0h0m1.7 0h0m-3.4 0.4h0m1.6 0h0m1.2 0.6h0m-1 0.2h0m0.3 0.3h0m-0.9 0.7h0m-1.2 0.8h0m0 0.2h0m0.6 0.1h0m-1.8 1.1h0m2.9 2.5h0" stroke="#da8c30" stroke-width="0.58" stroke-linecap="square" stroke-opacity="1"/><path d="M232.2 147.8h0m-0.1 3.9h0m-0.2 0.4h0m-5.8 0.4h0m5.3 0.2h0m1.8 0.1h0m-3.5 0.1h0m-1.5 0.6h0m3.3 1.1h0m-3.3 0.1h0m1.4 0.3h0m-0.2 0.1h0m0.3 0h0m2 0.5h0m-4.5 0.6h0m0.2 0.1h0m1.1 0h0m-0.5 0.3h0m0 0.9h0m0.7 0.2h0m-1 0.2h0m0.4 0.2h0m1.2 0h0m-0.7 0.5h0m-2.6 0.2h0m1.5 0.1h0m-1.2 0.3h0m2.2 0.4h0m-2.6 0.1h0m2.2 0.1h0m1.6 0h0m-3.5 0.4h0m1.7 0.2h0m1.3 0h0m0.1 0.4h0m-2.2 0.2h0m0.7 0.3h0m1.9 0h0m-6.7 0.3h0m3.3 0.3h0m-0.8 0.1h0m2.2 0h0m1 0h0m0.9 0.2h0m-1.7 0.2h0m-1.1 0.2h0m4.6 0h0m-5.7 0.1h0m3.6 0.2h0m-3.7 0.1h0m-2.5 0.3h0m5.2 0h0m-3.1 0.2h0m4 0h0m-1 0.1h0m-3.3 0.3h0m-1.5 0.4h0m1.5 0.1h0m-0.9 0.7h0m3 0.3h0m-1.1 0.2h0m-3.3 0.4h0m2.9 0.1h0m1.2 0h0m2 0.1h0m-5.7 0.5h0m1 0.7h0m2.2 0.2h0m-3.3 0.6h0m2.3 0.1h0m1.2 0h0m-4.1 0.3h0m3.2 0h0m0.2 0.1h0m-0.2 0.4h0m1.4 0h0m1.9 0.2h0m-3.8 0.1h0m-1.6 0.1h0m0.2 0h0m1.6 0h0m2.7 0h0m-7 0.1h0m1.3 0h0m1.6 0h0m2.5 0h0m-0.6 0.4h0m-3.1 0.1h0m1.3 0.1h0m0.5 0.1h0m-0.9 0.1h0m4.1 0.4h0m-5.2 0.1h0m2.8 0.1h0m-2 0.2h0m1.5 0.2h0m0.9 0h0m-2.4 0.2h0m2.5 0.2h0m-2 0.4h0m-1.6 0.2h0m-1.6 0.1h0m1.9 0h0m-1 0.3h0m-1.5 0.4h0m2 0h0m1 0h0m1.7 0.1h0m0.9 0h0m-4.9 0.5h0m4.3 0.6h0m-4 0.1h0m-0.8 0.3h0m-0.2 0.1h0m5 0h0m-3 0.2h0m-0.3 0.2h0m-1.2 0.3h0m-0.8 0.1h0m3.5 0.3h0m-1.5 0.1h0m-0.8 0.4h0m0.9 0.6h0m1.5 0h0m-3.2 0.2h0" stroke="#c44a2a" stroke-width="0.58" stroke-linecap="square" stroke-opacity="1"/></g><rect x="33.5" y="34.5" width="76.0" height="76.0" fill="none" stroke="#1a1a1a" stroke-width="1.1"/><rect x="33.5" y="117.5" width="76.0" height="76.0" fill="none" stroke="#1a1a1a" stroke-width="1.1"/><rect x="116.5" y="34.5" width="77.0" height="76.0" fill="none" stroke="#1a1a1a" stroke-width="1.1"/><rect x="116.5" y="117.5" width="77.0" height="76.0" fill="none" stroke="#1a1a1a" stroke-width="1.1"/><rect x="198.5" y="34.5" width="77.0" height="76.0" fill="none" stroke="#1a1a1a" stroke-width="1.1"/><rect x="198.5" y="117.5" width="77.0" height="76.0" fill="none" stroke="#1a1a1a" stroke-width="1.1"/><path d="M78.2 39.5 L107.5 39.5 L107.5 107.5 L63.3 107.5 Z" fill="none" stroke="#1a1a1a" stroke-width="1.1" stroke-linejoin="miter"/><path d="M78.2 121.5 L107.5 121.5 L107.5 189.5 L63.3 189.5 Z" fill="none" stroke="#1a1a1a" stroke-width="1.1" stroke-linejoin="miter"/><path d="M163.9 37.5 L190.5 37.5 L190.5 107.5 L150.3 107.5 Z" fill="none" stroke="#1a1a1a" stroke-width="1.1" stroke-linejoin="miter"/><path d="M163.9 121.5 L190.5 121.5 L190.5 189.5 L150.3 189.5 Z" fill="none" stroke="#1a1a1a" stroke-width="1.1" stroke-linejoin="miter"/><path d="M249.5 37.5 L272.5 37.5 L272.5 107.5 L231.3 107.5 Z" fill="none" stroke="#1a1a1a" stroke-width="1.1" stroke-linejoin="miter"/><path d="M249.5 120.5 L272.5 120.5 L272.5 190.5 L231.3 190.5 Z" fill="none" stroke="#1a1a1a" stroke-width="1.1" stroke-linejoin="miter"/><text x="56.5" y="49.0" font-size="9.8" stroke="#231f20" stroke-width="0.15" text-anchor="middle" textLength="16.0" lengthAdjust="spacingAndGlyphs">15.3</text><text x="56.5" y="130.3" font-size="9.8" stroke="#231f20" stroke-width="0.15" text-anchor="middle" textLength="16.0" lengthAdjust="spacingAndGlyphs">16.9</text><text x="143.0" y="49.0" font-size="9.8" stroke="#231f20" stroke-width="0.15" text-anchor="middle" textLength="16.0" lengthAdjust="spacingAndGlyphs">27.3</text><text x="143.0" y="130.3" font-size="9.8" stroke="#231f20" stroke-width="0.15" text-anchor="middle" textLength="16.0" lengthAdjust="spacingAndGlyphs">28.7</text><text x="226.2" y="49.2" font-size="9.8" stroke="#231f20" stroke-width="0.15" text-anchor="middle" textLength="16.0" lengthAdjust="spacingAndGlyphs">44.8</text><text x="226.2" y="130.3" font-size="9.8" stroke="#231f20" stroke-width="0.15" text-anchor="middle" textLength="16.0" lengthAdjust="spacingAndGlyphs">40.1</text><text x="292.3" y="16.8" font-size="12.6" fill="#000" font-weight="bold">B</text><rect x="449.8" y="20.2" width="10" height="9" fill="#2e4b82"/><text x="463.5" y="27.6" font-size="9.5" stroke="#231f20" stroke-width="0.12" textLength="9.3" lengthAdjust="spacingAndGlyphs">wt</text><rect x="483.2" y="20.2" width="10" height="9" fill="#a6002d"/><text x="496.9" y="27.6" font-size="9.5" stroke="#231f20" stroke-width="0.12" textLength="10" lengthAdjust="spacingAndGlyphs">dn</text><rect x="333.0" y="136.2" width="13.0" height="18.200000000000017" fill="#2e4b82"/><rect x="349.8" y="134.3" width="13.0" height="20.099999999999994" fill="#a6002d"/><line x1="328.5" y1="55.2" x2="328.5" y2="154.9" stroke="#231f20" stroke-width="1.0"/><line x1="325.4" y1="154.5" x2="366.8" y2="154.5" stroke="#231f20" stroke-width="1.0"/><line x1="325.4" y1="154.5" x2="328.4" y2="154.5" stroke="#231f20" stroke-width="1.0"/><text x="322.29999999999995" y="157.5" font-size="8.9" stroke="#231f20" stroke-width="0.12" text-anchor="end">0</text><line x1="325.4" y1="130.5" x2="328.4" y2="130.5" stroke="#231f20" stroke-width="1.0"/><text x="322.29999999999995" y="133.42" font-size="8.9" stroke="#231f20" stroke-width="0.12" text-anchor="end">20</text><line x1="325.4" y1="106.5" x2="328.4" y2="106.5" stroke="#231f20" stroke-width="1.0"/><text x="322.29999999999995" y="109.34" font-size="8.9" stroke="#231f20" stroke-width="0.12" text-anchor="end">40</text><line x1="325.4" y1="82.5" x2="328.4" y2="82.5" stroke="#231f20" stroke-width="1.0"/><text x="322.29999999999995" y="85.26" font-size="8.9" stroke="#231f20" stroke-width="0.12" text-anchor="end">60</text><line x1="325.4" y1="58.5" x2="328.4" y2="58.5" stroke="#231f20" stroke-width="1.0"/><text x="322.29999999999995" y="61.180000000000014" font-size="8.9" stroke="#231f20" stroke-width="0.12" text-anchor="end">80</text><text x="347.8" y="48.9" font-size="10" stroke="#231f20" stroke-width="0.12" text-anchor="middle" textLength="33.6" lengthAdjust="spacingAndGlyphs">LT-HSC</text><line x1="339.5" y1="129.2" x2="339.5" y2="142.3" stroke="#111" stroke-width="1.0"/><line x1="337.09999999999997" y1="129.5" x2="341.3" y2="129.5" stroke="#111" stroke-width="1.0"/><line x1="337.09999999999997" y1="142.5" x2="341.3" y2="142.5" stroke="#111" stroke-width="1.0"/><line x1="356.5" y1="128.1" x2="356.5" y2="140.4" stroke="#111" stroke-width="1.0"/><line x1="354.0" y1="128.5" x2="358.20000000000005" y2="128.5" stroke="#111" stroke-width="1.0"/><line x1="354.0" y1="140.5" x2="358.20000000000005" y2="140.5" stroke="#111" stroke-width="1.0"/><circle cx="339.0" cy="124.1" r="1.4" fill="#111"/><circle cx="334.8" cy="126.9" r="1.4" fill="#111"/><circle cx="343.4" cy="126.9" r="1.4" fill="#111"/><circle cx="334.5" cy="133.8" r="1.4" fill="#111"/><circle cx="345.7" cy="134.6" r="1.4" fill="#111"/><circle cx="332.2" cy="141.5" r="1.4" fill="#111"/><circle cx="334.9" cy="143.8" r="1.4" fill="#111"/><circle cx="343.4" cy="138.8" r="1.4" fill="#111"/><circle cx="343.4" cy="144.2" r="1.4" fill="#111"/><circle cx="339.2" cy="146.5" r="1.4" fill="#111"/><circle cx="339.2" cy="136.5" r="1.4" fill="#111"/><circle cx="356.1" cy="119.6" r="1.4" fill="#111"/><circle cx="356.1" cy="127.3" r="1.4" fill="#111"/><circle cx="351.5" cy="130.4" r="1.4" fill="#111"/><circle cx="362.5" cy="131.3" r="1.4" fill="#111"/><circle cx="352.2" cy="135.2" r="1.4" fill="#111"/><circle cx="359.9" cy="135.2" r="1.4" fill="#111"/><circle cx="356.1" cy="133.1" r="1.4" fill="#111"/><circle cx="353.8" cy="144.2" r="1.4" fill="#111"/><circle cx="358.0" cy="144.2" r="1.4" fill="#111"/><circle cx="356.1" cy="139.6" r="1.4" fill="#111"/><text x="339.5" y="165.5" font-size="9.5" stroke="#231f20" stroke-width="0.12" text-anchor="middle" textLength="10" lengthAdjust="spacingAndGlyphs">wt</text><text x="356.3" y="165.5" font-size="9.5" stroke="#231f20" stroke-width="0.12" text-anchor="middle" textLength="9.8" lengthAdjust="spacingAndGlyphs">dn</text><rect x="405.4" y="117.1" width="12.700000000000045" height="37.30000000000001" fill="#2e4b82"/><rect x="422.3" y="117.1" width="12.5" height="37.30000000000001" fill="#a6002d"/><line x1="401.5" y1="55.2" x2="401.5" y2="154.9" stroke="#231f20" stroke-width="1.0"/><line x1="398.3" y1="154.5" x2="439.5" y2="154.5" stroke="#231f20" stroke-width="1.0"/><line x1="398.3" y1="154.5" x2="401.3" y2="154.5" stroke="#231f20" stroke-width="1.0"/><text x="395.2" y="157.5" font-size="8.9" stroke="#231f20" stroke-width="0.12" text-anchor="end">0</text><line x1="398.3" y1="130.5" x2="401.3" y2="130.5" stroke="#231f20" stroke-width="1.0"/><text x="395.2" y="133.42" font-size="8.9" stroke="#231f20" stroke-width="0.12" text-anchor="end">20</text><line x1="398.3" y1="106.5" x2="401.3" y2="106.5" stroke="#231f20" stroke-width="1.0"/><text x="395.2" y="109.34" font-size="8.9" stroke="#231f20" stroke-width="0.12" text-anchor="end">40</text><line x1="398.3" y1="82.5" x2="401.3" y2="82.5" stroke="#231f20" stroke-width="1.0"/><text x="395.2" y="85.26" font-size="8.9" stroke="#231f20" stroke-width="0.12" text-anchor="end">60</text><line x1="398.3" y1="58.5" x2="401.3" y2="58.5" stroke="#231f20" stroke-width="1.0"/><text x="395.2" y="61.180000000000014" font-size="8.9" stroke="#231f20" stroke-width="0.12" text-anchor="end">80</text><text x="419.8" y="48.9" font-size="10" stroke="#231f20" stroke-width="0.12" text-anchor="middle" textLength="33.6" lengthAdjust="spacingAndGlyphs">ST-HSC</text><line x1="411.5" y1="103.6" x2="411.5" y2="129.2" stroke="#111" stroke-width="1.0"/><line x1="409.59999999999997" y1="103.5" x2="413.8" y2="103.5" stroke="#111" stroke-width="1.0"/><line x1="409.59999999999997" y1="129.5" x2="413.8" y2="129.5" stroke="#111" stroke-width="1.0"/><line x1="428.5" y1="100.7" x2="428.5" y2="132.2" stroke="#111" stroke-width="1.0"/><line x1="426.4" y1="100.5" x2="430.6" y2="100.5" stroke="#111" stroke-width="1.0"/><line x1="426.4" y1="132.5" x2="430.6" y2="132.5" stroke="#111" stroke-width="1.0"/><circle cx="407.3" cy="103.3" r="1.4" fill="#111"/><circle cx="411.5" cy="104" r="1.4" fill="#111"/><circle cx="415.9" cy="102.5" r="1.4" fill="#111"/><circle cx="413.9" cy="105.8" r="1.4" fill="#111"/><circle cx="407.3" cy="109.5" r="1.4" fill="#111"/><circle cx="409.8" cy="113.5" r="1.4" fill="#111"/><circle cx="413.9" cy="115.4" r="1.4" fill="#111"/><circle cx="407.3" cy="119.3" r="1.4" fill="#111"/><circle cx="416.1" cy="122.3" r="1.4" fill="#111"/><circle cx="411.7" cy="123.4" r="1.4" fill="#111"/><circle cx="409.5" cy="126.7" r="1.4" fill="#111"/><circle cx="413.9" cy="128.9" r="1.4" fill="#111"/><circle cx="411.7" cy="143.7" r="1.4" fill="#111"/><circle cx="426.6" cy="95.4" r="1.4" fill="#111"/><circle cx="431" cy="94.3" r="1.4" fill="#111"/><circle cx="426.6" cy="103.6" r="1.4" fill="#111"/><circle cx="432.9" cy="104" r="1.4" fill="#111"/><circle cx="431.3" cy="105.5" r="1.4" fill="#111"/><circle cx="426.6" cy="109.7" r="1.4" fill="#111"/><circle cx="424.5" cy="117.9" r="1.4" fill="#111"/><circle cx="432.9" cy="116.5" r="1.4" fill="#111"/><circle cx="428.5" cy="118.7" r="1.4" fill="#111"/><circle cx="430.7" cy="122.3" r="1.4" fill="#111"/><circle cx="426.3" cy="125" r="1.4" fill="#111"/><circle cx="426.3" cy="134.9" r="1.4" fill="#111"/><circle cx="430.7" cy="134.9" r="1.4" fill="#111"/><circle cx="428.5" cy="148.1" r="1.4" fill="#111"/><text x="411.75" y="165.5" font-size="9.5" stroke="#231f20" stroke-width="0.12" text-anchor="middle" textLength="10" lengthAdjust="spacingAndGlyphs">wt</text><text x="428.55" y="165.5" font-size="9.5" stroke="#231f20" stroke-width="0.12" text-anchor="middle" textLength="9.8" lengthAdjust="spacingAndGlyphs">dn</text><rect x="477.9" y="94.6" width="12.800000000000011" height="59.80000000000001" fill="#2e4b82"/><rect x="494.8" y="93.7" width="13.0" height="60.7" fill="#a6002d"/><line x1="473.5" y1="55.2" x2="473.5" y2="154.9" stroke="#231f20" stroke-width="1.0"/><line x1="470.8" y1="154.5" x2="511.7" y2="154.5" stroke="#231f20" stroke-width="1.0"/><line x1="470.8" y1="154.5" x2="473.8" y2="154.5" stroke="#231f20" stroke-width="1.0"/><text x="467.7" y="157.5" font-size="8.9" stroke="#231f20" stroke-width="0.12" text-anchor="end">0</text><line x1="470.8" y1="130.5" x2="473.8" y2="130.5" stroke="#231f20" stroke-width="1.0"/><text x="467.7" y="133.42" font-size="8.9" stroke="#231f20" stroke-width="0.12" text-anchor="end">20</text><line x1="470.8" y1="106.5" x2="473.8" y2="106.5" stroke="#231f20" stroke-width="1.0"/><text x="467.7" y="109.34" font-size="8.9" stroke="#231f20" stroke-width="0.12" text-anchor="end">40</text><line x1="470.8" y1="82.5" x2="473.8" y2="82.5" stroke="#231f20" stroke-width="1.0"/><text x="467.7" y="85.26" font-size="8.9" stroke="#231f20" stroke-width="0.12" text-anchor="end">60</text><line x1="470.8" y1="58.5" x2="473.8" y2="58.5" stroke="#231f20" stroke-width="1.0"/><text x="467.7" y="61.180000000000014" font-size="8.9" stroke="#231f20" stroke-width="0.12" text-anchor="end">80</text><text x="478.7" y="48.8" font-size="10.4" stroke="#231f20" stroke-width="0.12" textLength="27.0" lengthAdjust="spacingAndGlyphs">c-Kit<tspan font-size="8.5" dy="-3.6">+</tspan></text><line x1="484.5" y1="76.2" x2="484.5" y2="112.9" stroke="#111" stroke-width="1.0"/><line x1="482.4" y1="76.5" x2="486.6" y2="76.5" stroke="#111" stroke-width="1.0"/><line x1="482.4" y1="112.5" x2="486.6" y2="112.5" stroke="#111" stroke-width="1.0"/><line x1="501.5" y1="85.8" x2="501.5" y2="99.8" stroke="#111" stroke-width="1.0"/><line x1="498.9" y1="85.5" x2="503.1" y2="85.5" stroke="#111" stroke-width="1.0"/><line x1="498.9" y1="99.5" x2="503.1" y2="99.5" stroke="#111" stroke-width="1.0"/><circle cx="481.7" cy="74.4" r="1.4" fill="#111"/><circle cx="486.5" cy="74" r="1.4" fill="#111"/><circle cx="484.5" cy="80.6" r="1.4" fill="#111"/><circle cx="481.7" cy="90.9" r="1.4" fill="#111"/><circle cx="485.9" cy="89.9" r="1.4" fill="#111"/><circle cx="479.7" cy="103.7" r="1.4" fill="#111"/><circle cx="484.5" cy="104" r="1.4" fill="#111"/><circle cx="488.6" cy="101.5" r="1.4" fill="#111"/><circle cx="484.2" cy="132.5" r="1.4" fill="#111"/><circle cx="498.5" cy="81.7" r="1.4" fill="#111"/><circle cx="503.4" cy="83.6" r="1.4" fill="#111"/><circle cx="498.5" cy="88.6" r="1.4" fill="#111"/><circle cx="503.4" cy="88.6" r="1.4" fill="#111"/><circle cx="494.1" cy="96.8" r="1.4" fill="#111"/><circle cx="501" cy="96.8" r="1.4" fill="#111"/><circle cx="507.6" cy="95.7" r="1.4" fill="#111"/><circle cx="496.8" cy="99.1" r="1.4" fill="#111"/><circle cx="505.1" cy="99.8" r="1.4" fill="#111"/><circle cx="501" cy="102.9" r="1.4" fill="#111"/><text x="484.29999999999995" y="165.5" font-size="9.5" stroke="#231f20" stroke-width="0.12" text-anchor="middle" textLength="10" lengthAdjust="spacingAndGlyphs">wt</text><text x="501.3" y="165.5" font-size="9.5" stroke="#231f20" stroke-width="0.12" text-anchor="middle" textLength="9.8" lengthAdjust="spacingAndGlyphs">dn</text><text x="306.0" y="105" font-size="10.8" stroke="#231f20" stroke-width="0.12" text-anchor="middle" textLength="62.5" lengthAdjust="spacingAndGlyphs" transform="rotate(-90 306.0 105)">% of BrdU<tspan font-size="7.5" dy="-4">+</tspan><tspan dy="4"> cells</tspan></text><text x="7.4" y="235.4" font-size="12.6" fill="#000" font-weight="bold">C</text><text x="68.2" y="245.2" font-size="10" stroke="#231f20" stroke-width="0.12" text-anchor="middle" textLength="10.5" lengthAdjust="spacingAndGlyphs">wt</text><text x="173.8" y="245.6" font-size="10" stroke="#231f20" stroke-width="0.12" text-anchor="middle" textLength="38.5" lengthAdjust="spacingAndGlyphs">dnTCF4</text><line x1="15.5" y1="296" x2="15.5" y2="360.8" stroke="#111" stroke-width="1.0"/><line x1="15.0" y1="360.5" x2="164" y2="360.5" stroke="#111" stroke-width="1.0"/><path d="M15.4 289.8 L12.9 296.5 L17.9 296.5 Z" fill="#111"/><path d="M170.2 360.3 L163.5 357.8 L163.5 362.8 Z" fill="#111"/><text x="17.9" y="286.2" font-size="10" stroke="#231f20" stroke-width="0.12" textLength="31" lengthAdjust="spacingAndGlyphs" transform="rotate(-90 17.9 286.2)">Pyronin Y</text><text x="173.9" y="363.6" font-size="11.5" stroke="#231f20" stroke-width="0.12" textLength="58" lengthAdjust="spacingAndGlyphs">Hoechst 33342</text><g clip-path="url(#c0)"><path d="M80.3 250.5h0m16.5 2.9h0m-8 3.2h0m7.1 0.4h0m-12.6 0.1h0m-9.4 0.1h0m12.8 0.3h0m-37.2 0.4h0m44.7 0.1h0m-1.9 0.9h0m5.6 0.9h0m-5.4 0.2h0m3.7 0.1h0m-11.4 0.1h0m-32.4 0.3h0m45 0.3h0m-3 0.1h0m-3.2 0.1h0m-5.3 0.2h0m9.4 0.1h0m0.3 0.4h0m0.8 0.3h0m-7.8 0.4h0m-6.8 0.1h0m-34.6 0.2h0m38.6 0.6h0m4 0.7h0m5.3 0.2h0m-3.3 0.1h0m-5.5 0.4h0m4 0.1h0m0.9 0.3h0m1.4 0.1h0m-48 0.2h0m30.2 0.1h0m12.3 0h0m-8.4 0.1h0m18.5 0.3h0m0.4 0h0m-9.3 0.2h0m-57.9 0.2h0m60.8 0h0m7.9 0h0m-2.6 0.2h0m-60.4 0.1h0m55.3 0h0m-9.5 0.4h0m10.6 0h0m-5.9 0.2h0m-8 0.3h0m9.9 0h0m2.8 0h0m7.9 0h0m-9.1 0.2h0m2.7 0.3h0m0.9 0h0m-7.7 0.2h0m-1.6 0.2h0m12.5 0.2h0m-5.9 0.1h0m-12.9 0.1h0m17.6 0.1h0m-17.5 0.1h0m3 0.2h0m5.8 0h0m3 0h0m-8.8 0.1h0m14.6 0h0m-3.7 0.1h0m-15.3 0.2h0m12.9 0h0m6.6 0h0m2 0h0m-8 0.1h0m12.2 0h0m-7.5 0.1h0m0.6 0h0m-15.4 0.1h0m9.6 0.1h0m-4.4 0.1h0m4.7 0h0m1.6 0h0m9.6 0h0m-9.4 0.1h0m3.2 0h0m-13.9 0.1h0m1.6 0h0m-5.4 0.1h0m5.7 0h0m3.4 0h0m9.6 0h0m-13.2 0.2h0m3.6 0h0m4.6 0h0m6.8 0h0m-8 0.1h0m1.1 0h0m0.4 0h0m8.2 0h0m-10.2 0.2h0m-5.9 0.1h0m6.6 0h0m1.5 0h0m-2.1 0.1h0m4.6 0h0m3.6 0h0m-11.8 0.1h0m1.4 0h0m1.6 0h0m12.8 0h0m-22.9 0.1h0m3.6 0h0m2.3 0.1h0m9.2 0h0m-3 0.1h0m3.5 0.1h0m2.1 0.1h0m-4.9 0.1h0m0.6 0h0m3.4 0h0m-12.1 0.1h0m6 0.1h0m1 0.2h0m0 0.1h0m2.3 0h0m-10.5 0.1h0m5.7 0.1h0m0.3 0h0m8.5 0h0m-49.8 0.1h0m40.7 0h0m4.6 0.2h0m3.1 0h0m-62.6 0.1h0m49.7 0h0m0.3 0.1h0m9.5 0.1h0m-61.7 0.1h0m40.9 0h0m15.9 0h0m9.2 0h0m-11 0.1h0m1.6 0h0m5.7 0.1h0m-24.1 0.1h0m18.8 0h0m3.7 0h0m5.2 0.2h0m-5.1 0.1h0m0.7 0h0m0.7 0h0m-36.8 0.1h0m29 0h0m-6.7 0.1h0m9.2 0.1h0m8.9 0.2h0m-12.3 0.1h0m16.1 0.1h0m-13.7 0.1h0m8.5 0.2h0m3.5 0.1h0m-14.3 0.2h0m3.1 0h0m4.7 0.1h0m-11.7 0.1h0m1.1 0h0m6.2 0h0m13.8 0h0m-14.4 0.1h0m5.7 0h0m11.1 0.1h0m-16.8 0.1h0m-2.5 0.1h0m10.1 0h0m-2.3 0.1h0m5.6 0.1h0m-25.6 0.2h0m18.1 0h0m0.9 0h0m2.9 0h0m2.6 0h0m-11.4 0.1h0m6.8 0h0m0.7 0h0m-9.2 0.2h0m-10.6 0.1h0m13.3 0.1h0m10.7 0.1h0m-52.5 0.1h0m9.8 0.1h0m29.3 0h0m10.1 0h0m4.1 0h0m-10.9 0.1h0m8.4 0h0m3.2 0h0m-15.2 0.1h0m14.8 0h0m1.9 0h0m-18.1 0.1h0m4.9 0.1h0m9.2 0h0m-15.5 0.2h0m8.2 0h0m-9 0.1h0m5.9 0.2h0m8.4 0h0m0.5 0h0m-1.9 0.1h0m-10 0.1h0m2.5 0h0m-12.6 0.1h0m14.4 0h0m-0.5 0.1h0m3.2 0h0m4.6 0h0m6.7 0h0m-20.5 0.1h0m6.4 0h0m1.5 0.1h0m6.2 0.2h0m-19.6 0.1h0m17.2 0h0m10.4 0h0m-25.9 0.1h0m1.1 0h0m3.3 0h0m3.5 0.1h0m5.6 0.1h0m-12.3 0.1h0m15.1 0h0m-11.3 0.1h0m-2.7 0.1h0m1.6 0h0m0.1 0h0m5 0h0m-1.2 0.1h0m2.8 0.1h0m5.8 0h0m-55.7 0.1h0m42.7 0h0m10.4 0h0m-2.9 0.1h0m3.7 0h0m-13.5 0.2h0m18.8 0.1h0m-27.6 0.1h0m32.8 0h0m-7.2 0.1h0m-64.4 0.1h0m50.8 0h0m19.7 0h0m-53.3 0.1h0m55 0h0m-19.1 0.1h0m9.9 0h0m7.4 0h0m-21.5 0.1h0m6.6 0h0m16.8 0h0m-24.2 0.1h0m3.6 0h0m1.1 0h0m14.8 0h0m-54 0.1h0m41.7 0h0m1.5 0h0m-4 0.1h0m-1.1 0.1h0m0.7 0h0m0.3 0.1h0m2.5 0h0m-12.9 0.1h0m5.1 0h0m22.4 0.1h0m-29.3 0.1h0m30.9 0h0m-15.3 0.1h0m-5.3 0.1h0m12.6 0h0m-10.8 0.2h0m11.9 0h0m-49.2 0.1h0m38.8 0h0m14.8 0h0m2.6 0.1h0m-8.1 0.2h0m-10.4 0.2h0m13.7 0h0m0.3 0h0m-5.4 0.1h0m-1.9 0.1h0m-3.3 0.1h0m3.3 0h0m7.4 0h0m-22.8 0.1h0m9.2 0h0m12.2 0h0m5.9 0h0m-41 0.1h0m23 0.1h0m1.6 0.1h0m-12.4 0.1h0m19.7 0h0m2.1 0h0m-0.2 0.1h0m-9.6 0.1h0m-10.1 0.1h0m4.7 0.1h0m10.7 0h0m-16.8 0.2h0m13.5 0h0m-29.4 0.1h0m14.7 0h0m15.7 0h0m-16.3 0.1h0m12.8 0h0m9.8 0h0m-18 0.1h0m5.2 0h0m3.1 0h0m2.9 0h0m-6.9 0.3h0m6.5 0h0m-10.9 0.2h0m10 0h0m12.4 0h0m7.2 0h0m-46.6 0.1h0m17.7 0h0m4.8 0h0m10.4 0h0m-21.2 0.1h0m22 0h0m-1.9 0.1h0m10.4 0h0m-18.6 0.2h0m1.8 0h0m-51 0.1h0m58.7 0.1h0m-14.2 0.1h0m0.4 0h0m18.4 0h0m-12.3 0.1h0m1.8 0h0m6.4 0h0m-19.8 0.1h0m22.8 0h0m-18.9 0.1h0m-19.2 0.1h0m23.5 0h0m5.5 0h0m-5.2 0.1h0m6.7 0h0m1 0h0m-15.8 0.1h0m11.2 0h0m7.6 0h0m-44.9 0.1h0m29.9 0h0m13.2 0h0m0.7 0.1h0m2.6 0h0m-22.6 0.1h0m6.2 0h0m8.4 0h0m9.3 0h0m3.4 0h0m-14.1 0.1h0m8.5 0h0m-10.9 0.1h0m10.2 0h0m12 0.1h0m-50.6 0.1h0m12.9 0h0m16.3 0h0m4.9 0h0m-7.3 0.1h0m6.3 0h0m-30.5 0.2h0m1.8 0h0m28 0.1h0m-4.5 0.1h0m0.2 0h0m11 0h0m-49.5 0.1h0m40.9 0h0m9.3 0h0m-17.1 0.1h0m6.4 0h0m3 0.1h0m6.4 0h0m-13.1 0.1h0m8.6 0h0m4.4 0h0m-19.1 0.1h0m12.2 0h0m12.8 0h0m-22.2 0.1h0m11.4 0h0m2.3 0h0m-30.5 0.2h0m3.6 0h0m-29.2 0.1h0m21.4 0h0m39.1 0h0m-16.1 0.1h0m1.3 0h0m12.1 0h0m8.3 0.1h0m-38.8 0.1h0m19.8 0h0m-16.1 0.1h0m13.4 0h0m16 0h0m-18.1 0.1h0m7.1 0h0m4.6 0h0m0.5 0h0m1.7 0h0m3.6 0h0m-28 0.1h0m7.9 0h0m19.7 0h0m-12.7 0.1h0m3.6 0h0m-23.6 0.1h0m-29.9 0.1h0m28.3 0h0m24.2 0h0m17.5 0h0m1.3 0h0m-4.6 0.2h0m7.2 0h0m-25.8 0.1h0m15.9 0h0m5.6 0h0m-22.7 0.1h0m5.3 0h0m7.2 0h0m-31.5 0.1h0m2.6 0h0m16.1 0h0m2.8 0h0m3.1 0h0m-5 0.1h0m4 0h0m12.5 0h0m-36.3 0.1h0m1.1 0h0m39.1 0h0m1.6 0h0m-18.5 0.1h0m-27.7 0.1h0m5.3 0h0m28.9 0h0m6.5 0h0m-24.2 0.1h0m0.8 0h0m-13.1 0.2h0m16.7 0h0m2.7 0.1h0m7.7 0h0m0.2 0h0m9.9 0h0m0 0h0m0.4 0h0m-46.1 0.2h0m32.4 0h0m-22 0.1h0m15.8 0h0m7.4 0.1h0m10.6 0h0m3.8 0h0m-11.1 0.1h0m7.6 0h0m-13.8 0.1h0m12 0h0m-31.2 0.1h0m0.5 0h0m16.2 0h0m14.2 0.1h0m-19.9 0.1h0m5.4 0h0m11.2 0h0m0.7 0h0m-35.3 0.1h0m5 0h0m0.2 0h0m34.5 0h0m-11 0.2h0m8.7 0.1h0m9.8 0h0m-23.4 0.1h0m-16.9 0.1h0m14 0h0m3.6 0h0m2 0h0m0.2 0h0m5.2 0.1h0m3.4 0h0m-9.5 0.1h0m3.6 0h0m7.5 0h0m1.7 0h0m5.8 0h0m-5.3 0.2h0m1.1 0h0m-24 0.1h0m0.2 0h0m20.1 0h0m-36.9 0.1h0m32.3 0h0m6 0h0m-35.1 0.1h0m1.7 0h0m35.2 0h0m-38.1 0.1h0m16.5 0h0m-9.3 0.1h0m10.9 0h0m3.7 0h0m-16.2 0.1h0m4.3 0h0m10.9 0h0m7.9 0h0m8 0h0m-22.6 0.1h0m11.5 0h0m0.1 0h0m12.4 0h0m-20.6 0.1h0m11.2 0h0m2.2 0h0m-42.7 0.1h0m25.1 0h0m19.4 0h0m3.5 0h0m6.8 0h0m-42.2 0.1h0m5.7 0h0m12.7 0h0m8.3 0h0m7.3 0h0m1.7 0h0m-22.1 0.1h0m5.5 0h0m3.6 0h0m12.7 0h0m3.8 0h0m6.2 0.1h0m-44.5 0.1h0m35.2 0h0m-22 0.1h0m3.5 0h0m3.9 0h0m8.7 0h0m-38.5 0.2h0m18.8 0.1h0m15.6 0h0m-17.8 0.1h0m0.3 0h0m30.5 0h0m-40.6 0.2h0m8.5 0h0m3.7 0.1h0m10.7 0h0m0.9 0h0m-2.9 0.1h0m0.3 0h0m4.5 0h0m5.5 0h0m-25.9 0.1h0m2.9 0h0m28.4 0.1h0m-25.2 0.1h0m6.6 0h0m7.7 0h0m0.4 0h0m1.3 0h0m-16.6 0.1h0m15.3 0h0m10.5 0h0m-31.6 0.1h0m5.6 0h0m-14.8 0.1h0m1 0h0m15.4 0h0m7.4 0.1h0m0.9 0h0m8.6 0h0m9.6 0.1h0m-6.5 0.1h0m-13.2 0.1h0m9.7 0h0m6.9 0h0m3.9 0h0m-32.2 0.1h0m14.2 0h0m-26.2 0.1h0m4.4 0h0m3.2 0h0m8.5 0h0m0.5 0h0m13.9 0h0m6.2 0h0m-29 0.1h0m20.8 0h0m1.7 0h0m26.2 0h0m-24.2 0.1h0m6.3 0h0m2.9 0.1h0m2.6 0h0m-30.8 0.1h0m3.3 0h0m-15.3 0.1h0m5.2 0h0m9 0h0m4 0h0m17.8 0h0m5.9 0h0m3.7 0h0m-27.1 0.1h0m20.2 0h0m-42.9 0.1h0m30.8 0h0m16.2 0h0m-33 0.1h0m15.9 0h0m0.5 0h0m7.4 0h0m6 0h0m5.1 0h0m-33.3 0.1h0m10.9 0h0m2.7 0h0m0.9 0h0m3.8 0h0m-33.6 0.1h0m5.6 0h0m2.2 0h0m7.8 0h0m3.2 0h0m13.6 0h0m-21.6 0.1h0m4 0h0m33.1 0h0m1.7 0h0m-41.1 0.2h0m2.5 0h0m-0.4 0.1h0m16.7 0h0m6.6 0h0m13.1 0h0m-35.2 0.1h0m2.4 0.1h0m16.7 0.1h0m2.6 0h0m5.3 0h0m-37.6 0.1h0m11.9 0h0m16 0h0m1.7 0h0m1.8 0h0m1.4 0h0m14.2 0h0m-39.7 0.1h0m0.4 0h0m6.4 0h0m0.9 0h0m1.2 0h0m28.9 0h0m-20.4 0.1h0m1.9 0h0m15 0h0m0.5 0h0m-56.5 0.1h0m12.5 0h0m5.2 0h0m13.3 0h0m29.3 0h0m-4.1 0.1h0m-27.9 0.1h0m5.6 0h0m-13.5 0.1h0m1.8 0h0m6.8 0h0m1 0h0m24.6 0h0m0.3 0h0m4.3 0h0m4.2 0h0m0.8 0h0m-46.5 0.1h0m5.1 0.1h0m0.6 0h0m3.4 0h0m19.2 0h0m9.2 0h0m-23.2 0.1h0m20.2 0h0m4.6 0h0m5 0h0m-39.6 0.1h0m1.2 0h0m32.1 0h0m-16.2 0.1h0m9.5 0h0m10.9 0h0m6.5 0h0m-42 0.1h0m8 0h0m0.3 0h0m9.9 0h0m1.3 0h0m17.8 0h0m-44.9 0.1h0m17.2 0h0m20.2 0h0m-27 0.2h0m36.4 0h0m-32.9 0.1h0m4.9 0h0m12.3 0h0m-19.2 0.1h0m7.8 0h0m6.5 0h0m19.4 0h0m-40.4 0.1h0m1 0h0m9.7 0h0m1.7 0h0m23.7 0h0m0.7 0h0m5.3 0h0m-2 0.1h0m2.6 0.1h0m-33.8 0.1h0m11.3 0h0m2.5 0h0m5 0h0m-29 0.1h0m8.8 0h0m35.8 0h0m-48.3 0.1h0m10.9 0h0m26.7 0h0m11.9 0h0m-36.6 0.1h0m11.8 0h0m20.8 0h0m-37.6 0.1h0m25 0h0m11.2 0.2h0m2.3 0h0m-31.2 0.1h0m11 0h0m11.9 0h0m5.4 0h0m7.8 0h0m-34.9 0.1h0m12.5 0h0m12.5 0h0m1.8 0h0m-31.8 0.1h0m0.4 0h0m9.6 0h0m13.8 0h0m7.6 0h0m0.2 0h0m-47.4 0.1h0m19.8 0h0m35.2 0h0m-47.2 0.1h0m7.4 0h0m15 0h0m1.6 0h0m0.1 0h0m0.8 0h0m8 0h0m7.4 0h0m-30.4 0.1h0m5 0h0m7.8 0h0m-19.6 0.1h0m29.6 0h0m7.9 0.1h0m-15.6 0.1h0m1.6 0h0m6.7 0h0m-12.3 0.1h0m4.4 0h0m-26.5 0.1h0m4.6 0h0m4.3 0h0m7 0h0m7.9 0h0m14.1 0h0m-38.2 0.1h0m10.4 0h0m3 0h0m11.7 0h0m14.1 0h0m1.8 0h0m2.5 0h0m-43.4 0.1h0m1 0h0m21.7 0h0m-26.3 0.1h0m20.2 0h0m4.9 0.1h0m30.1 0h0m-47 0.1h0m13.3 0.1h0m4 0h0m-21.7 0.1h0m28 0h0m8.8 0.1h0m3.4 0h0m-17.5 0.1h0m22.7 0h0m-46.8 0.1h0m18.1 0h0m-15.7 0.1h0m32.5 0h0m-35.2 0.1h0m14.9 0h0m10.2 0h0m20.2 0h0m-44.7 0.1h0m1.7 0h0m3.5 0h0m22.1 0h0m1.7 0h0m1.1 0h0m-10.3 0.1h0m0.1 0h0m23 0h0m7.4 0h0m-51.2 0.1h0m41 0h0m1.1 0h0m3.8 0.1h0m-30.4 0.1h0m33.4 0h0m-47.5 0.1h0m5 0.1h0m13.2 0h0m7.3 0h0m17.2 0h0m-62 0.1h0m69.6 0h0m-54.2 0.2h0m6 0h0m26.9 0h0m-8.4 0.1h0m-13.9 0.1h0m6.9 0h0m-13.5 0.2h0m11 0h0m0.8 0h0m11.9 0.1h0m0.7 0.1h0m17.6 0h0m6.7 0h0m-41.7 0.1h0m-9.6 0.1h0m2.8 0h0m3.8 0h0m19.9 0h0m3 0h0m0.1 0h0m-11.3 0.3h0m-21.5 0.1h0m10.6 0.2h0m21.3 0h0m1 0h0m0.7 0h0m-2.4 0.1h0m1.8 0.1h0m-32.7 0.1h0m18.5 0h0m12.8 0h0m18.4 0h0m-22.6 0.1h0m1.7 0h0m-8.5 0.2h0m3.7 0.1h0m24.6 0h0m-42.6 0.1h0m2.1 0h0m3.9 0h0m22.9 0h0m-27.6 0.1h0m11.1 0h0m3.2 0h0m2.3 0h0m6.5 0h0m-24.1 0.1h0m-0.3 0.1h0m3.5 0h0m14.3 0h0m-6.2 0.1h0m4.2 0h0m9 0h0m2 0.1h0m-13.4 0.1h0m5.3 0h0m12.3 0h0m-31.4 0.1h0m0.5 0h0m0.6 0h0m9.6 0h0m-9.1 0.1h0m0.7 0h0m0.9 0h0m13.1 0h0m-12.9 0.2h0m0 0h0m20 0h0m20.2 0h0m-32.7 0.1h0m2.8 0.1h0m6.3 0h0m24.6 0h0m3.3 0.1h0m3.8 0h0m-34.3 0.1h0m6.3 0h0m19.9 0h0m-41.7 0.1h0m11.3 0.1h0m-14.8 0.1h0m24.1 0h0m-8.3 0.3h0m3 0h0m-19.2 0.1h0m22.5 0h0m1 0h0m-1.3 0.1h0m24.5 0h0m0.7 0.1h0m-58.8 0.1h0m58.3 0h0m5 0h0m-48.6 0.2h0m20.8 0h0m4.6 0.1h0m0.8 0.1h0m-27.8 0.1h0m45.5 0h0m1.8 0h0m1.5 0.2h0m-45.8 0.1h0m12.3 0h0m-12.2 0.1h0m17.6 0h0m22.5 0.2h0m-27.2 0.1h0m4.1 0h0m-5.1 0.1h0m0.2 0h0m30.2 0h0m0.1 0h0m4.2 0h0m-47.8 0.1h0m17.4 0h0m-4.9 0.1h0m3.7 0h0m2.4 0h0m26.3 0h0m-0.4 0.1h0m2.1 0h0m-46.8 0.3h0m24.3 0h0m20.8 0h0m-45.6 0.1h0m19.3 0h0m-17 0.1h0m46.7 0h0m-27.2 0.1h0m-8 0.2h0m1.2 0h0m0.5 0h0m-15.2 0.1h0m19.3 0.3h0m-19.1 0.1h0m21.2 0h0m23.4 0h0m-51.4 0.1h0m49.8 0h0m-29.7 0.2h0m-18.1 0.1h0m3.9 0h0m13.2 0.1h0m2.2 0h0m2.5 0h0m-19 0.1h0m11.4 0h0m6.8 0h0m0.5 0h0m10 0h0m15.7 0h0m1.9 0.1h0m-54.6 0.1h0m20 0h0m9 0h0m24.1 0.1h0m-49.7 0.1h0m23.5 0h0m-22.6 0.3h0m50.5 0.2h0m-47.1 0.2h0m19.4 0h0m1.3 0h0m26.1 0h0m-22.4 0.1h0m20.9 0h0m-44.6 0.2h0m45 0.1h0m-55 0.1h0m11.4 0h0m48 0h0m-32.4 0.1h0m-21.4 0.1h0m50.8 0h0m-45.5 0.1h0m-5.5 0.2h0m6.6 0.1h0m12.2 0.1h0m2.3 0.1h0m-18.1 0.1h0m16.5 0h0m4.8 0.1h0m-19 0.2h0m43.7 0h0m-26.9 0.1h0m1.7 0h0m-3.8 0.1h0m29.3 0h0m-51 0.2h0m5 0.1h0m0 0.1h0m14.4 0h0m-14.6 0.1h0m47.7 0h0m-50.7 0.1h0m52.4 0h0m-4.2 0.1h0m-28.1 0.1h0m27.1 0h0m-27.4 0.1h0m29.3 0h0m3.5 0h0m-33 0.2h0m31.5 0h0m1 0h0m-2.8 0.1h0m2.3 0h0m-46.6 0.1h0m15.4 0h0m27.5 0h0m-44.9 0.2h0m21 0h0m2.1 0h0m-19.7 0.1h0m12.4 0h0m27.6 0h0m5.4 0.2h0m-45.4 0.1h0m41.3 0h0m-15.5 0.1h0m11.8 0h0m1.3 0h0m3.6 0h0m-26.7 0.1h0m2.8 0h0m19.9 0.1h0m-29.3 0.1h0m10.5 0h0m17.1 0.1h0m7.5 0h0m-33.5 0.1h0m2.1 0h0m2 0h0m24.7 0h0m2.9 0h0m-12.3 0.1h0m13.7 0h0m-30.5 0.1h0m26.6 0.1h0m-41.6 0.1h0m53.3 0h0m-52.6 0.1h0m24.6 0h0m4.6 0h0m-1.3 0.1h0m1.8 0h0m-30.2 0.1h0m34.7 0h0m-34.6 0.1h0m31.1 0h0m-32.2 0.1h0m14.2 0h0m21.7 0.1h0m13.9 0h0m-35.1 0.1h0m26.9 0.1h0m1.9 0h0m-24.5 0.1h0m21.3 0h0m-6.1 0.1h0m-14.8 0.1h0m10.4 0h0m3.3 0h0m5.5 0h0m-40.9 0.3h0m41.9 0h0m0.1 0h0m-26.6 0.1h0m2.3 0h0m11.8 0h0m10.6 0h0m2.2 0h0m-22.6 0.1h0m20.6 0h0m5.6 0h0m-29.5 0.1h0m24.8 0h0m4.3 0h0m-12.5 0.1h0m10.2 0.1h0m-42 0.1h0m20.2 0h0m-19.2 0.1h0m36.8 0h0m-33.7 0.1h0m24.6 0h0m-25.9 0.1h0m13.4 0.1h0m2.6 0h0m12.2 0h0m4.3 0h0m9.7 0h0m-5.7 0.2h0m-50.7 0.1h0m47.9 0h0m11.7 0h0m-28.9 0.1h0m6.1 0h0m23.3 0h0m-61.7 0.1h0m40.9 0h0m6.2 0h0m0 0h0m3.8 0.2h0m9.7 0h0m-24.3 0.1h0m-23.2 0.1h0m32.7 0h0m5.5 0h0m-36.4 0.1h0m25.6 0h0m2.4 0h0m3.1 0h0m0.6 0h0m4.9 0.1h0m-25.6 0.2h0m2.4 0.1h0m16.9 0h0m9.9 0h0m-22.2 0.1h0m11 0h0m14.4 0h0m-31.7 0.1h0m24 0h0m2.9 0h0m-17.5 0.1h0m6.4 0.1h0m-15.6 0.3h0m17.1 0h0m1.8 0h0m-11 0.1h0m10.6 0h0m6.7 0.1h0m3.8 0h0m-24.5 0.1h0m17 0h0m-32.1 0.2h0m16.5 0.1h0m0.3 0h0m14.4 0h0m-14.1 0.1h0m0.8 0h0m3.6 0h0m9.9 0h0m7.7 0h0m-18.8 0.1h0m1 0h0m3.2 0h0m6.8 0h0m-3.4 0.1h0m-12.5 0.1h0m10.2 0h0m-15.6 0.1h0m9 0h0m2.4 0h0m2.6 0h0m1.5 0h0m-28.3 0.1h0m12.6 0h0m0.9 0h0m18 0.2h0m13 0.1h0m-27.9 0.1h0m-16.6 0.1h0m24.1 0h0m0.3 0h0m4 0h0m3 0h0m-44.7 0.1h0m44.8 0h0m-11.2 0.1h0m1.7 0h0m17.9 0h0m-50.3 0.1h0m24.6 0h0m4.3 0.1h0m6 0h0m2.2 0h0m0.6 0h0m8.1 0h0m-33.3 0.1h0m16.2 0h0m-1.9 0.1h0m7.5 0.2h0m4.2 0h0m10.2 0h0m-35.9 0.1h0m25 0h0m4.7 0h0m-4.9 0.3h0m-3.3 0.1h0m13 0.1h0m-24.4 0.1h0m7.6 0h0m6.2 0h0m-22.2 0.1h0m13 0.1h0m5.7 0h0m4.7 0h0m-8.1 0.1h0m5.2 0.2h0m2.9 0h0m-8.2 0.1h0m6.6 0h0m1.1 0h0m-5.1 0.1h0m2.7 0h0m2.8 0h0m-2.8 0.1h0m-7 0.1h0m-14.4 0.1h0m24.6 0.1h0m-1.5 0.2h0m12.1 0.1h0m-17.6 0.1h0m0.7 0h0m0.9 0h0m21.4 0.1h0m-21 0.1h0m-1 0.2h0m3.3 0h0m5.7 0h0m-10.7 0.1h0m24 0h0m-40.7 0.1h0m14 0h0m-1.5 0.1h0m11 0h0m0 0h0m0.7 0h0m2.8 0.1h0m-9.6 0.1h0m1 0h0m5.9 0h0m-4.3 0.1h0m9.6 0h0m1.5 0h0m-8 0.4h0m-1.9 0.2h0m14.3 0h0m-14 0.1h0m9 0.1h0m-0.7 0.2h0m-2.4 0.1h0m7.6 0.1h0m-13.1 0.2h0m2.1 0.1h0m-7.1 0.2h0m-17.4 0.2h0m23.3 0.1h0m-3.1 0.1h0m-20.4 0.2h0m16.8 0.2h0m-4.6 0.2h0m19.4 0h0m-7.4 0.2h0m4.3 0h0m-1.4 0.3h0m-4.9 0.4h0m2.3 0.4h0m-2.8 0.1h0m6.9 1h0m13.5 0.5h0m-40.6 0.1h0m25 0.3h0m-3.5 1h0m-23 0.7h0m1.5 0.1h0m8 0.1h0m2.3 0.7h0m-10.3 0.1h0m0.5 0.1h0m9.4 0.1h0m-10.4 0.3h0m0.9 0.1h0m6.6 0.4h0m-7 0.1h0m-0.3 0.1h0m10 0.1h0m16.6 0h0m-14.9 0.2h0m-2.1 0.2h0m-7.7 0.1h0m7.4 0.1h0m-0.5 0.2h0m0.4 0.4h0m2.9 0h0m-10.9 0.1h0m1 0.1h0m8.1 0h0m-10.7 0.1h0m9.9 0.1h0m-7.6 0.1h0m1.2 0.3h0m2.5 0.1h0m2.3 0.1h0m-5.3 0.1h0m5.3 0h0m-5.9 0.1h0m2.4 0h0m7.9 0.1h0m-7.9 0.1h0m1.2 0h0m-5.3 0.3h0m0.5 0h0m1.9 0h0m4.3 0h0m-3.8 0.1h0m2.2 0h0m2 0.2h0m1.1 0.2h0m-5.9 0.1h0m0.7 0.1h0m-0.3 0.4h0m4.2 0h0m1.2 0.1h0m-0.5 0.2h0m-4.1 0.3h0m2.7 0.1h0m15.4 0.2h0m-19.3 0.3h0m0.9 0h0m-1.7 0.1h0m0.7 0.2h0m5.8 0.4h0m2.5 0.1h0m-2.3 0.2h0m-0.6 0.5h0m16 4.4h0" stroke="#8a8ecb" stroke-width="0.7" stroke-linecap="square" stroke-opacity="0.7"/><path d="M91.8 272.1h0m-1.1 0.2h0m0.1 1.9h0m3.1 0.3h0m-0.7 0.6h0m-5.1 0.6h0m1.5 0.2h0m-3.6 0.1h0m2.2 0.1h0m2.5 0.1h0m-1.4 0.3h0m3.6 0.1h0m-3.3 0.1h0m-0.6 0.1h0m-0.1 0.8h0m0.9 0h0m1.3 0h0m1.5 0h0m0.6 0h0m-0.9 0.1h0m-6.3 0.1h0m6.7 0.2h0m-3.6 0.2h0m-3.1 0.1h0m1.7 0h0m2.9 0h0m1.5 0h0m1.1 0.1h0m-0.2 0.1h0m-2.8 0.1h0m-1.1 0.1h0m1.8 0.1h0m1.6 0.1h0m-6.1 0.1h0m6.4 0h0m-1.7 0.2h0m2.3 0h0m-7.4 0.1h0m5.2 0h0m-4.4 0.1h0m5.5 0h0m-3.5 0.2h0m-2 0.3h0m0.8 0h0m4.8 0h0m-1.9 0.2h0m2.2 0h0m-7.6 0.2h0m4.1 0h0m3.1 0h0m-4.7 0.1h0m2.4 0.6h0m-5.3 0.1h0m3.5 0.1h0m-0.1 0.1h0m3.5 0h0m-1.9 0.1h0m1.4 0h0m-6.9 0.1h0m4.5 0h0m4.2 0.1h0m-1.9 0.2h0m2.3 0h0m-0.6 0.1h0m-3.4 0.1h0m0.8 0.1h0m-4 0.1h0m3.9 0.1h0m0.3 0h0m1.2 0h0m0.6 0.1h0m0.9 0h0m-7 0.1h0m1.6 0.2h0m2.9 0h0m-6 0.2h0m3.4 0.2h0m1.5 0.1h0m2.6 0.1h0m-4.5 0.2h0m2 0.2h0m1.1 0.1h0m0.5 0.3h0m-4.7 0.1h0m1.2 0.5h0m-4.2 0.4h0m3.6 0.4h0m-1.5 0.2h0m0 0.1h0m5.3 0h0m-5.6 0.2h0m2.6 0h0m0.3 0.9h0m1.8 0.2h0m-6.8 0.1h0m2.4 0.2h0m2.5 0.1h0m-0.2 0.2h0m2.4 0h0m0.7 0.1h0m0.6 0.3h0m-5.5 0.5h0m5.5 0.3h0m-3.4 0.1h0m-4.5 0.1h0m-2.1 0.5h0m7.5 0.2h0m-4.2 0.5h0m5.5 0h0m-3.8 0.1h0m-3.9 0.7h0m3.2 0.1h0m-4.3 0.3h0m4.2 0.1h0m-3.9 0.2h0m-0.4 0.1h0m8.2 0.2h0m-5.1 0.1h0m-0.2 0.1h0m-6.2 0.2h0m7.3 0.1h0m2.2 0h0m0.1 0h0m0.4 0.1h0m-1.6 0.1h0m-0.7 0.1h0m1.9 0h0m1.8 0.2h0m-6 0.1h0m2.3 0.1h0m3.5 0h0m0.4 0h0m-4.1 0.1h0m-3.6 0.1h0m7.1 0h0m-4.9 0.1h0m4.2 0h0m-0.9 0.1h0m-3.2 0.1h0m1.4 0h0m0.5 0.1h0m0.4 0.1h0m1 0h0m0.6 0.1h0m-3.9 0.2h0m7.1 0.3h0m-6.7 0.1h0m2.3 0.1h0m-4.1 0.2h0m0.5 0.1h0m9 0h0m-7.3 0.7h0m-5.1 0.1h0m4.1 0h0m1.2 0h0m-2.4 0.3h0m2.3 0h0m-0.8 0.1h0m4.8 0.1h0m0.7 0.2h0m0.9 0.2h0m-9.6 0.1h0m2.2 0h0m0.9 0h0m6.2 0h0m-2.5 0.1h0m-25.8 0.2h0m20.3 0.1h0m0.3 0h0m3.9 0h0m1.7 0h0m-3.1 0.1h0m-4.9 0.2h0m1.1 0h0m0.8 0h0m2.9 0h0m-2.1 0.1h0m3.6 0h0m0.1 0.1h0m-3.7 0.1h0m-4 0.1h0m0.8 0h0m3.7 0h0m-22.3 0.2h0m23.9 0h0m-21.3 0.2h0m17.1 0.3h0m-20.6 0.1h0m26.6 0h0m7.3 0h0m-15.2 0.1h0m4.2 0h0m6.2 0h0m-28.8 0.1h0m25 0.1h0m-23.6 0.1h0m23.6 0h0m-24.4 0.2h0m17.7 0h0m5.9 0h0m-26.8 0.1h0m1.6 0h0m1.2 0h0m21.2 0h0m-19.3 0.2h0m16.2 0.1h0m7.5 0h0m-1.2 0.1h0m4.8 0h0m-8.9 0.1h0m-22.9 0.1h0m0.3 0h0m5.5 0.3h0m24.6 0h0m1.1 0h0m0.1 0.1h0m-9.8 0.1h0m9.1 0h0m-4.5 0.2h0m0.3 0h0m6.4 0h0m-29.8 0.1h0m22.5 0h0m0.1 0h0m4.3 0h0m-27.7 0.1h0m22.7 0h0m-25.3 0.1h0m28.5 0h0m-7.1 0.1h0m1.1 0h0m8.7 0h0m0.3 0h0m0.8 0h0m-31.9 0.1h0m0.9 0.1h0m24.1 0h0m-25.7 0.1h0m2.1 0h0m1.8 0h0m23.1 0h0m0.4 0h0m5.6 0h0m-11.7 0.1h0m4.9 0h0m6.9 0h0m-35.3 0.1h0m27 0h0m4.2 0h0m-25.5 0.2h0m17 0h0m4.2 0h0m9.7 0h0m-5.7 0.1h0m3.5 0h0m-32.4 0.1h0m3.3 0h0m17.5 0h0m-21.1 0.1h0m24.3 0.1h0m2.9 0h0m5.2 0h0m-30.1 0.1h0m23.9 0h0m1 0h0m3.3 0h0m3.9 0h0m-32.6 0.1h0m0.1 0.1h0m22.9 0h0m-24.7 0.1h0m2.8 0h0m30.3 0h0m-32.2 0.1h0m0.7 0h0m0.3 0h0m0.1 0h0m2.3 0h0m20.1 0.1h0m2.4 0h0m-21.6 0.1h0m22.5 0h0m2 0h0m3 0h0m-7.5 0.1h0m8.8 0h0m-36.9 0.2h0m5.9 0h0m20.3 0h0m12 0h0m0.6 0h0m-33.2 0.1h0m0.5 0h0m31.4 0h0m-34.2 0.1h0m21.4 0h0m1.2 0h0m-24 0.1h0m6.5 0h0m31.4 0h0m-10.7 0.1h0m3.1 0h0m4.7 0h0m0.1 0h0m0.8 0h0m-34.1 0.1h0m4.4 0h0m22.5 0h0m-26.3 0.1h0m21 0h0m4.8 0h0m1.8 0h0m3.8 0h0m1.8 0.1h0m-28.4 0.1h0m15.5 0h0m10.1 0h0m-24.7 0.1h0m20.8 0h0m4.9 0.1h0m-11.3 0.1h0m0.4 0h0m3.5 0h0m5.2 0h0m0 0h0m0.5 0h0m-4.9 0.1h0m1.7 0h0m-23.1 0.1h0m27.9 0h0m-2.9 0.1h0m1.2 0h0m0.4 0h0m5.1 0h0m-35.5 0.1h0m1.8 0h0m22.1 0h0m5.7 0h0m-23.4 0.1h0m20.6 0h0m5.8 0h0m-1.8 0.1h0m2 0h0m0.8 0h0m-32.5 0.1h0m1.6 0h0m30 0h0m1.1 0h0m1 0h0m-35.8 0.1h0m2.2 0h0m-3.5 0.1h0m5.7 0h0m22.7 0h0m-0.6 0.1h0m6.3 0h0m2.1 0h0m-7.8 0.1h0m0.4 0h0m-26.8 0.1h0m30.5 0h0m-11.3 0.1h0m9.8 0h0m-25.1 0.1h0m15 0h0m6.8 0h0m6.3 0h0m-28 0.1h0m26.3 0h0m3.6 0h0m-33.8 0.1h0m2.3 0h0m29.6 0h0m-31.9 0.1h0m1.2 0h0m0.6 0h0m22.1 0h0m4.7 0h0m3.8 0h0m-32.3 0.1h0m2.7 0h0m23.5 0h0m9.5 0h0m-36.3 0.1h0m7.7 0h0m13.7 0h0m14.8 0h0m-34.4 0.1h0m0 0h0m24.8 0h0m6.4 0h0m3.9 0h0m-35.1 0.1h0m3.2 0h0m20.6 0h0m1.6 0h0m0.6 0h0m1.3 0h0m-28.1 0.1h0m2.6 0h0m1.5 0h0m14.4 0h0m8.4 0h0m3.1 0h0m4.5 0h0m-9.7 0.1h0m-27.6 0.1h0m22.4 0h0m1 0h0m8.7 0h0m3.2 0h0m2.8 0h0m-32.8 0.1h0m1.8 0h0m2.2 0h0m20.8 0h0m0 0h0m9.1 0h0m-39.5 0.1h0m1.4 0h0m3 0h0m21.1 0h0m2.4 0h0m3.6 0h0m2.3 0h0m-30.1 0.1h0m4.6 0h0m12.8 0h0m2.9 0h0m-21.9 0.1h0m2.1 0h0m3 0h0m14.4 0h0m6.5 0h0m3.6 0h0m0.8 0h0m-4.2 0.1h0m5.8 0h0m5.3 0h0m-29.3 0.1h0m11 0h0m0.7 0h0m2.5 0h0m0.9 0h0m8.2 0h0m4.4 0h0m-4.2 0.1h0m3.4 0h0m0.7 0h0m-14.5 0.1h0m6.3 0h0m8 0h0m-17.1 0.1h0m9.9 0h0m2 0h0m2.1 0h0m1.2 0h0m-34 0.1h0m0.8 0h0m16.3 0h0m3.3 0h0m5.1 0h0m0.5 0h0m-25.8 0.1h0m4.5 0h0m0.4 0h0m-2.4 0.1h0m21.3 0h0m3.9 0h0m5.4 0h0m0.8 0h0m0.8 0h0m-33.5 0.1h0m18.6 0h0m13.6 0h0m1.5 0h0m0.5 0h0m-12.8 0.1h0m5.2 0h0m2 0h0m4.1 0h0m0.2 0h0m2.3 0h0m-31.4 0.1h0m11.9 0h0m14.8 0h0m0.5 0h0m3.2 0h0m-30.7 0.1h0m0.9 0h0m0.1 0h0m13.2 0h0m10.5 0h0m1.2 0h0m5.2 0h0m-30.7 0.1h0m11 0h0m0.9 0h0m0.4 0h0m10.2 0h0m-26.7 0.1h0m1.1 0h0m18.2 0h0m7.1 0h0m1 0h0m-27.4 0.1h0m1.7 0h0m1.1 0h0m12.8 0h0m0.1 0h0m0.3 0h0m1.7 0h0m1.5 0h0m1.9 0h0m13.1 0h0m-10.5 0.1h0m1 0h0m1.2 0h0m-6.5 0.1h0m16 0h0m-35.6 0.1h0m6.1 0h0m12 0h0m3.6 0h0m-20.9 0.1h0m18.7 0h0m3.8 0h0m11.6 0h0m0.6 0h0m-1.2 0.1h0m-35.3 0.1h0m7.1 0h0m30.3 0h0m-37.4 0.1h0m3.8 0h0m2 0h0m1.1 0h0m19.1 0h0m0.3 0h0m-24.8 0.1h0m2 0h0m14.1 0h0m0.6 0h0m9 0h0m-25.3 0.1h0m5.6 0h0m3.8 0h0m16.6 0h0m-27.2 0.1h0m37.9 0h0m-20.9 0.1h0m2.1 0h0m2.4 0h0m-15.6 0.1h0m14.3 0h0m0 0h0m0.6 0h0m0.7 0h0m12 0h0m2.3 0h0m3 0h0m-32 0.1h0m-4.4 0.1h0m17.6 0h0m2.3 0h0m10.2 0h0m-10.3 0.1h0m2.2 0h0m11.5 0h0m-14.8 0.1h0m1.7 0h0m0.5 0h0m12.8 0h0m-16.2 0.1h0m0.6 0h0m4.3 0h0m9.5 0h0m-18 0.1h0m4.6 0h0m3.9 0h0m0.9 0h0m6.6 0h0m3.1 0h0m-35.3 0.1h0m3.6 0h0m1.8 0.1h0m3.2 0h0m29 0h0m-37.2 0.1h0m5.5 0h0m9.4 0h0m3 0h0m2.5 0h0m15.3 0h0m-36.1 0.1h0m4.1 0h0m2 0h0m0.7 0h0m-9.5 0.1h0m4.5 0h0m4.9 0h0m9.4 0h0m9.4 0h0m1.2 0h0m5.9 0h0m4.3 0h0m-37.9 0.1h0m0.6 0h0m2.8 0h0m3.1 0h0m0.5 0h0m25.9 0h0m-26.4 0.1h0m13 0h0m6.6 0h0m-24.9 0.1h0m0.4 0h0m3 0h0m0.5 0h0m12.5 0h0m2.2 0h0m5.1 0h0m9.7 0h0m-19.9 0.1h0m19.9 0h0m-27.5 0.1h0m7 0h0m8.6 0h0m3.8 0h0m11.2 0h0m-37.4 0.1h0m6.6 0h0m2.9 0h0m5 0h0m2.3 0h0m1.2 0h0m4.6 0h0m0.1 0h0m3.1 0h0m10.4 0h0m-31.7 0.1h0m2.3 0h0m9.4 0h0m4.5 0h0m-22.9 0.1h0m25.9 0h0m13.3 0h0m-40 0.1h0m2.2 0h0m22 0h0m2.4 0h0m1.8 0h0m0.6 0h0m0 0h0m5.1 0h0m6.6 0h0m-40.6 0.1h0m2.9 0h0m1.3 0h0m2.3 0h0m3.4 0h0m16.5 0h0m12 0h0m0.2 0h0m-34.1 0.1h0m4.1 0h0m1.8 0h0m1.5 0h0m14.1 0h0m5.2 0h0m10.2 0h0m-35.5 0.1h0m16.5 0h0m3.1 0h0m1.5 0h0m1.6 0h0m-29.1 0.1h0m3 0h0m34.6 0h0m1.2 0h0m-37.6 0.1h0m2 0h0m2 0h0m0.9 0h0m23.5 0h0m-9 0.1h0m2.5 0h0m4.9 0h0m13.2 0h0m-34.5 0.1h0m4.5 0h0m0.4 0h0m26.2 0h0m2.7 0h0m-18.4 0.1h0m0.4 0h0m9.4 0h0m9.2 0h0m-38 0.1h0m15.5 0h0m2.8 0h0m1.9 0h0m5.1 0h0m-24 0.1h0m36.2 0h0m-39.4 0.1h0m3.9 0h0m4.4 0h0m11.1 0h0m5.3 0h0m13.8 0h0m0 0h0m-5.4 0.1h0m-30.7 0.1h0m3.5 0h0m4.2 0h0m9.2 0h0m3.5 0h0m3.6 0h0m3.9 0h0m1.7 0h0m-30.9 0.1h0m11.5 0h0m5.1 0h0m15.8 0h0m1 0h0m0.7 0h0m1 0h0m-28.8 0.1h0m13.3 0h0m2.4 0.1h0m-25.5 0.1h0m3 0h0m0.6 0h0m11.6 0h0m5.5 0h0m2.8 0h0m-21.4 0.1h0m0.2 0h0m17.2 0h0m3.5 0h0m6.8 0h0m4.2 0h0m-2.8 0.1h0m3.8 0h0m6.2 0h0m1.4 0h0m-39.9 0.1h0m0.9 0h0m0.4 0h0m16 0h0m4.1 0h0m10.4 0h0m-29.8 0.1h0m19.9 0h0m1 0h0m7.5 0h0m7.7 0h0m0.2 0h0m-36.7 0.1h0m28.3 0h0m0.8 0h0m1.9 0h0m-33.1 0.1h0m2.3 0h0m4.9 0h0m2.7 0h0m28.2 0h0m0 0h0m0.7 0.1h0m3 0h0m-41.6 0.1h0m2.2 0h0m3.8 0h0m0.9 0h0m9.3 0h0m6.8 0h0m1.2 0h0m10.4 0h0m0.4 0h0m1.7 0h0m4.6 0h0m-39.4 0.1h0m14.6 0h0m2.6 0h0m9.6 0h0m1.9 0h0m1.2 0h0m0.1 0h0m1.4 0h0m-30.9 0.1h0m3.9 0h0m4.5 0h0m6.6 0h0m1.3 0h0m4.1 0h0m-22.2 0.1h0m25.1 0h0m2 0h0m5.5 0h0m-35.3 0.1h0m2.7 0h0m7.1 0h0m0.8 0h0m17.6 0h0m0.6 0h0m9.7 0h0m2.8 0h0m1.2 0h0m-41.4 0.1h0m11.2 0h0m21.1 0h0m5.4 0h0m2.2 0h0m-20 0.1h0m0.1 0h0m3.3 0h0m4.9 0h0m-24.3 0.1h0m18.1 0h0m3.1 0h0m-22.2 0.1h0m17.1 0h0m4.2 0h0m2.8 0h0m0.9 0h0m6.3 0h0m-32.7 0.1h0m37.9 0h0m-31.3 0.1h0m7.3 0h0m8.1 0h0m5.2 0h0m9.4 0h0m-35.4 0.1h0m1.2 0h0m1.7 0h0m0.3 0h0m4.3 0h0m5.8 0h0m2.7 0h0m16.6 0h0m2.9 0h0m-32.3 0.1h0m13.6 0h0m3.2 0h0m1 0h0m0.2 0h0m2 0h0m2.8 0h0m4.8 0h0m0.5 0h0m-5.7 0.1h0m-29.5 0.1h0m6.8 0h0m14.9 0h0m-12.7 0.1h0m0.2 0h0m11.3 0h0m16 0h0m-29.8 0.1h0m11 0h0m2.7 0h0m3.5 0h0m6.4 0h0m3.9 0h0m-22.4 0.1h0m0 0h0m8.7 0h0m0.1 0h0m3.4 0h0m5.4 0h0m7.2 0h0m-37.3 0.1h0m1.6 0h0m4.6 0h0m15.5 0h0m3.3 0h0m12.4 0h0m-34.3 0.1h0m7.7 0h0m3.5 0h0m5.5 0h0m2 0h0m0.7 0h0m0.1 0h0m13 0h0m0.2 0h0m1.5 0h0m-30.2 0.1h0m0.8 0h0m17.1 0h0m2.9 0h0m3.3 0h0m5.7 0h0m3.5 0h0m-38 0.1h0m2.5 0h0m6.7 0h0m6.4 0h0m7.8 0h0m1.2 0h0m10.2 0h0m2.1 0h0m-19.7 0.1h0m6.6 0h0m2.4 0h0m-1 0.1h0m4.7 0h0m-4.4 0.1h0m-19.2 0.1h0m0.8 0h0m2.6 0h0m8.5 0h0m0.2 0h0m8.1 0h0m0 0h0m1 0h0m5.4 0h0m-33.7 0.1h0m19 0h0m4.6 0h0m-22 0.1h0m0.7 0h0m3.9 0h0m3.4 0h0m8.8 0h0m0.5 0h0m0.9 0h0m18.1 0h0m-28.4 0.1h0m7.7 0h0m2.5 0h0m6 0h0m3.3 0h0m1.2 0h0m-22.9 0.1h0m29.2 0h0m0.8 0h0m-29.9 0.1h0m1.3 0h0m0.4 0h0m0.5 0h0m12.1 0h0m6.1 0h0m8.8 0h0m1.7 0h0m-33.9 0.1h0m23.3 0h0m-20.9 0.1h0m5.1 0h0m11.9 0h0m-17.6 0.1h0m2.4 0h0m-0.7 0.1h0m9.2 0h0m6.5 0h0m7.1 0h0m-22.6 0.1h0m9.2 0h0m4.6 0h0m0.1 0h0m-21.8 0.1h0m8.7 0h0m10.5 0h0m14.1 0h0m-32.3 0.1h0m8 0h0m2.3 0h0m6.5 0h0m12.8 0h0m-13.1 0.1h0m2.2 0h0m2.7 0h0m8.5 0h0m-21.8 0.1h0m5.8 0h0m2.2 0h0m4.7 0h0m0.5 0h0m1.6 0h0m-23.6 0.1h0m24.2 0h0m-19.3 0.1h0m1.1 0.1h0m17.5 0h0m5.4 0h0m2 0h0m3.6 0h0m-31.9 0.1h0m16.5 0h0m-14.4 0.1h0m9.4 0h0m16.6 0h0m-12.3 0.1h0m2.4 0h0m6.4 0h0m0.9 0h0m-27.1 0.1h0m8.5 0h0m17.5 0h0m-19.2 0.1h0m2.6 0h0m0.5 0h0m5.3 0h0m4 0h0m0 0h0m4.5 0h0m-23.1 0.2h0m0.2 0h0m0.6 0h0m15.4 0h0m2.8 0h0m2.9 0h0m-22.7 0.1h0m4.5 0h0m22.8 0h0m2.5 0h0m-8.4 0.1h0m1.2 0h0m8 0h0m-32.2 0.1h0m1.5 0h0m6.6 0h0m10.6 0h0m6.3 0h0m2.1 0h0m0.5 0h0m-22.7 0.1h0m16.3 0h0m2.2 0h0m-13.8 0.1h0m14.5 0h0m3.8 0h0m-20 0.1h0m18 0h0m6.7 0h0m-31.7 0.1h0m16.2 0h0m1.3 0h0m0.5 0h0m0.5 0h0m-11.7 0.1h0m1.5 0h0m13.3 0h0m-21.2 0.1h0m7.3 0h0m19.5 0h0m-28.3 0.1h0m2.9 0h0m18.4 0h0m-19.8 0.1h0m6 0h0m-3.3 0.1h0m17.1 0h0m-20.2 0.1h0m20.1 0h0m-19 0.1h0m3.3 0h0m15.2 0h0m-14.7 0.1h0m1.8 0h0m13.4 0h0m1.5 0h0m-19.7 0.1h0m17.5 0h0m4.5 0h0m-18.1 0.2h0m3.2 0h0m7.9 0h0m2.1 0h0m0.5 0h0m-12.1 0.2h0m0.4 0h0m0.5 0h0m-7.8 0.1h0m4.5 0h0m-3.6 0.2h0m23.3 0h0m-19 0.1h0m3.6 0h0m-5.9 0.2h0m4.8 0h0m9.9 0h0m3.7 0h0m2 0h0m5.3 0h0m-29.1 0.1h0m8.2 0.1h0m15.5 0h0m0.5 0h0m-20.7 0.1h0m5.1 0h0m13.2 0h0m-20.3 0.1h0m0.1 0.1h0m18.2 0.1h0m-19.7 0.1h0m3 0h0m16.6 0h0m-1.9 0.2h0m2.5 0h0m-19.1 0.1h0m7 0h0m0.3 0h0m-5.1 0.1h0m5.5 0h0m15.1 0.1h0m-0.8 0.1h0m-21.2 0.2h0m1.5 0.1h0m2 0.2h0m2.3 0h0m10.5 0h0m-10.2 0.1h0m-7.8 0.3h0m-0.9 0.1h0m8.4 0h0m-4.8 0.1h0m17.7 0h0m-21.1 0.3h0m8 0.1h0m1.7 0h0m12.3 0h0m0.9 0h0m-21.7 0.2h0m0.8 0.1h0m6 0.1h0m16.4 0h0m-21.4 0.1h0m-2.5 0.1h0m1.9 0h0m7.6 0h0m10 0.1h0m-19.5 0.4h0m8.1 0.2h0m-4.4 0.2h0m3.9 0h0m-6.6 0.1h0m1.8 0h0m4.6 0h0m-6.5 0.1h0m6.1 0.2h0m0 0.1h0m-3.9 0.1h0m0.6 0h0m-1.8 0.1h0m5 0h0m0.8 0.1h0m-6.2 0.3h0m5.4 0.1h0m-2.5 0.5h0m2.1 0.1h0m1.3 0h0m-0.8 0.6h0m-7.4 0.4h0m7.4 0.3h0m-0.4 0.2h0m0.5 0.2h0m0.5 0.3h0m-0.2 0.3h0m0.1 0.1h0m0.1 0.4h0m-6.4 0.2h0m1.5 0h0m-0.7 0.2h0m0.1 0.2h0m5.2 0.2h0m1.2 0h0m-5.4 0.6h0m0.3 0h0m-1.1 0.2h0m2.5 0.3h0m-2.3 0.2h0m0.8 0.1h0m-1.8 0.3h0m5.7 0h0m-5.6 0.2h0m1.4 0.3h0m-1.3 0.7h0m7.2 0.5h0m-1.8 0.1h0m-5.7 0.2h0m4.6 0.2h0m0.6 0h0m-5.2 0.3h0m-0.1 0.1h0m1.3 0.1h0m1.2 0h0m3.8 0h0m-0.5 0.1h0m-5.6 0.1h0m2.5 0.1h0m0.1 0.1h0m0.3 0h0m3.2 0h0m-3.2 0.1h0m0.1 0.1h0m1.6 0h0m1.3 0h0m-1.1 0.1h0m0.5 0h0m-2.1 0.1h0m1 0h0m3.6 0h0m-4.4 0.1h0m0.2 0.1h0m2.3 0h0m-3.2 0.2h0m3.4 0h0m0.3 0h0m-0.3 0.1h0m0.9 0.2h0m0.7 0h0m-2.2 0.3h0m1 0h0m-5.1 0.2h0m1.2 0h0m3.5 0h0m-4.4 0.1h0m6 0.3h0m-4 0.1h0m-1.9 0.3h0m1.9 0h0m1.9 0h0m-3.9 0.2h0m1.7 0h0m-0.3 0.2h0m2.4 0h0m-1.3 0.1h0m1.7 0h0m-0.1 0.2h0m-1 0.2h0m0.1 0h0m0.6 0h0m2.2 0.1h0m-5 0.2h0m0.6 0.2h0m3 0.2h0m-3 0.6h0m-1 0.2h0" stroke="#6e73bd" stroke-width="0.7" stroke-linecap="square" stroke-opacity="0.7"/><path d="M91.8 279.4h0m-32.2 21.5h0m-1.5 2.2h0m26.6 0.4h0m5.5 0.5h0m-2 0.2h0m-5.9 0.1h0m8.5 0.2h0m-4.7 0.1h0m-25.3 0.6h0m27 0.2h0m-27.1 0.1h0m29.5 0.6h0m1 0.1h0m-30 0.5h0m30.4 0.1h0m-3.9 0.3h0m3.7 0h0m-33 0.1h0m32 0h0m-28.8 0.3h0m27.2 0h0m2.1 0h0m0.5 0.1h0m-32.6 0.1h0m27 0h0m1.5 0.1h0m4.7 0h0m-28 0.1h0m16.5 0.2h0m10.5 0.1h0m-1.9 0.1h0m0.2 0h0m-28.3 0.1h0m24.3 0h0m5.1 0h0m1.5 0.1h0m-32.1 0.1h0m1.7 0h0m20.2 0h0m3.1 0h0m7.2 0h0m-30.5 0.1h0m21.3 0h0m4.4 0h0m-25.8 0.1h0m25.9 0h0m1.2 0h0m-2.6 0.1h0m4.2 0h0m-5.6 0.1h0m8.2 0h0m0.9 0h0m-9.3 0.1h0m3.4 0h0m3.5 0h0m-28.6 0.1h0m21.5 0.1h0m-21.2 0.2h0m21.3 0h0m0.4 0.2h0m1.7 0h0m1.3 0h0m-26.9 0.1h0m25.9 0h0m2.2 0h0m-30.3 0.1h0m3 0.1h0m24.7 0h0m2.7 0h0m-29.6 0.1h0m26.6 0h0m-0.2 0.1h0m8 0h0m-5.8 0.1h0m2.7 0.1h0m0.1 0h0m3.7 0h0m-34.9 0.1h0m0.1 0h0m28.4 0h0m-27.8 0.1h0m27.8 0h0m1.1 0h0m4.8 0h0m-10.8 0.1h0m4.7 0h0m-4.6 0.1h0m0.2 0h0m2.4 0h0m0.3 0h0m-27.4 0.1h0m30.6 0h0m-29 0.1h0m2.3 0h0m18.8 0h0m3.9 0h0m4.8 0h0m0.2 0h0m-28.5 0.2h0m2.1 0h0m-6.3 0.1h0m4.5 0h0m21.9 0h0m2.8 0h0m4.4 0h0m-5.8 0.1h0m-25.3 0.1h0m1.6 0.1h0m26.8 0h0m0.6 0h0m0.2 0h0m2.7 0h0m-30.8 0.1h0m19.3 0h0m4.3 0h0m1.8 0.1h0m-1.3 0.1h0m-23.3 0.1h0m22.8 0h0m1.1 0h0m0.9 0h0m-25.9 0.1h0m25.1 0h0m-22.7 0.1h0m16.8 0h0m12.3 0h0m-4.5 0.1h0m-4.7 0.1h0m2.8 0h0m2.5 0h0m-32.9 0.1h0m28.8 0h0m2.9 0h0m-1.2 0.1h0m3.3 0.1h0m0.9 0h0m-4.1 0.1h0m1.6 0h0m-3.2 0.1h0m2.7 0h0m3.5 0h0m-34.3 0.1h0m21.1 0h0m3.9 0h0m-5.2 0.1h0m14.2 0h0m-0.8 0.1h0m3.3 0h0m-6.3 0.1h0m0.2 0h0m0.5 0h0m2.8 0h0m1.6 0h0m-7.9 0.1h0m2.4 0h0m5.2 0h0m-36.4 0.1h0m29.8 0.1h0m6.1 0.1h0m-4.8 0.1h0m1.9 0h0m2.2 0h0m-9.6 0.1h0m6.2 0h0m1.5 0h0m1.5 0h0m-26.9 0.1h0m21.3 0h0m3 0h0m0.5 0h0m2.3 0h0m-26.2 0.1h0m21.7 0h0m-27.6 0.1h0m0.6 0h0m28.6 0h0m-5.1 0.1h0m3.8 0h0m-30.6 0.1h0m32.1 0h0m0.6 0h0m1.6 0h0m-29.2 0.1h0m2 0h0m24 0h0m-28.5 0.1h0m30.6 0h0m-28.9 0.1h0m3.4 0h0m-4.2 0.1h0m1.1 0h0m30.4 0h0m-4.9 0.1h0m-24.4 0.1h0m-2.9 0.1h0m24.2 0.1h0m0 0.1h0m-22.5 0.2h0m30.1 0h0m-29.9 0.3h0m-4.6 0.1h0m5 0h0m-2.3 0.1h0m3.9 0.1h0m-1.1 0.1h0m-3.6 0.1h0m-0.5 0.1h0m1.6 0h0m17.1 0h0m14.4 0h0m-30.4 0.1h0m0.8 0h0m-3.1 0.5h0m3.7 0h0m-3.8 0.2h0m1.3 0h0m1.9 0.2h0m-3 0.1h0m1.7 0h0m-2.8 0.1h0m0.9 0.2h0m1.7 0h0m-1.3 0.1h0m0.2 0h0m0.4 0h0m3.3 0.1h0m-4.2 0.1h0m1 0.1h0m-0.8 0.1h0m0.9 0.1h0m0.6 0.2h0m0 0.1h0m-2.8 0.2h0m1.9 0h0m2.2 0h0m-5.6 0.1h0m6 0h0m0.8 0.1h0m-1.2 0.3h0m-4.1 0.1h0m-1.3 0.4h0m0.5 0.2h0m0.6 0h0m2.9 0h0m-2.3 0.1h0m4.2 0h0m-3.7 0.3h0m-0.1 0.1h0m1.8 0h0m1.2 0h0m-3.7 0.1h0m0.7 0h0m1.9 0h0m-2.5 0.1h0m2.5 0.2h0m0.1 0.1h0m0.5 0h0m1.4 0.1h0m-1.6 0.1h0m-1.2 0.2h0m1.8 0h0m0.3 0.4h0m-4.6 0.1h0m1.2 0h0m-0.9 0.1h0m1.4 0h0m0.1 0h0m0.2 0h0m2.8 0.2h0m0.5 0h0m-0.8 0.1h0m0.9 0.1h0m-5.2 0.2h0m2 0h0m-0.2 0.1h0m3 0h0m-2 0.1h0m2.6 0h0m0.3 0h0m-6.1 0.1h0m0.3 0.2h0m1.7 0h0m0.6 0h0m1.5 0h0m-2 0.1h0m-1.1 0.1h0m1.4 0h0m1.4 0.1h0m-1.2 0.2h0m0.1 0h0m1.5 0h0m1.5 0h0m-6.5 0.2h0m3 0.1h0m0.8 0.2h0m3.3 0h0m-6.3 0.2h0m4.4 0h0m-3.3 0.1h0m0.7 0h0m0.9 0.1h0m3.3 0h0m-3.6 0.1h0m4 0h0m-0.2 0.1h0m-4.7 0.1h0m1.6 0.1h0m0.3 0h0m-2.3 0.1h0m2.6 0.1h0m1 0.4h0m-2.9 0.1h0m0.6 0h0m-1.7 0.1h0m2.1 0h0m-1.6 0.1h0m3.3 0.1h0m-3.2 0.2h0m0.6 0h0m0.3 0h0m3 0h0m-1.6 0.1h0m0.7 0.2h0m2.5 0h0m-2.5 0.2h0m0.2 0h0m-1.2 0.1h0m2.9 0.1h0m-2.2 0.1h0m0.5 0h0m1.1 0h0m-0.1 0.1h0m0.9 0.1h0m-4.6 0.4h0m3.9 0h0m-2.3 0.1h0m0.1 0h0m1.9 0.2h0m-4 0.1h0m0 0.1h0m3.1 0h0m-3.5 0.1h0m0.6 0.2h0m0.2 0.1h0m1 0.1h0m0.7 0h0m1 0h0m-0.5 0.1h0m-2.9 0.1h0m0.6 0h0m2.9 0h0m-3 0.1h0m4.8 0.2h0m-3.4 0.1h0m0.3 0.5h0m-2.2 0.1h0m4.3 0h0m-3.8 0.2h0m0.4 0.1h0m2.6 0.1h0m0.3 0.1h0m0.8 0h0m-4.2 0.1h0m1.9 0h0m-1.7 0.1h0m3 0h0m-0.2 0.3h0m0.1 0h0m-2.1 0.1h0m-0.7 0.1h0m0.5 0h0m1.5 0h0m2 0.1h0m-3.3 0.1h0m4.3 0h0m-5.7 0.4h0m2.2 0h0m2.5 0h0m-2.7 0.3h0m-1.9 0.1h0m1.4 0h0m2.2 0h0m-2.8 0.1h0m2.8 0h0m0.5 0h0m0.2 0h0m-0.7 0.1h0m0 0h0m-1.1 0.1h0m0.2 0h0m-1.2 0.1h0m2.2 0h0m-1.7 0.1h0m0.8 0h0m-1 0.1h0m2.9 0.1h0m-2.1 0.2h0m0.6 0.1h0m0.1 0h0m0.9 0h0m-2.9 0.1h0m0.7 0.2h0m-1.6 0.1h0m1.8 0h0m0.5 0h0m0.5 0h0m0.5 0h0m-1.3 0.2h0m1.3 0.1h0m-2.3 0.1h0m2.7 0h0m-2.3 0.1h0m0.3 0h0m2.3 0.1h0m-3.8 1.2h0m0.4 0h0m1.5 0h0m3.2 0h0m-2.3 0.1h0m0.4 0.2h0m1.4 0.1h0m-2.3 0.2h0m1.3 0.1h0m-1.6 0.4h0m-1.1 0.1h0m1.3 0h0m-0.3 0.2h0m-0.1 0.3h0m0.7 0h0m0.8 0h0m0.2 0h0m-0.5 0.2h0m-0.3 0.2h0m-2.7 0.1h0m5.6 0.2h0m-3.6 0.2h0m1.2 0.2h0m0.4 0.4h0m-1.7 0.8h0" stroke="#5a5fb0" stroke-width="0.7" stroke-linecap="square" stroke-opacity="1"/><path d="M91.8 307.4h0m-4.3 0.2h0m4 0.2h0m-2.6 0.2h0m-2.7 0.6h0m-2.8 1.1h0m6.4 0.5h0m-4.2 0.5h0m3.2 0.3h0m-3.8 0.1h0m6.1 0h0m-5.1 0.6h0m-3.8 0.2h0m4 0h0m1.1 0.1h0m-26.6 1h0m-1.3 0.1h0m27.4 0h0m-1.5 0.2h0m2 0.4h0m-26.5 0.1h0m-1 0.9h0m25 0.7h0m-27.3 0.7h0m-1.4 2.1h0m1.7 0.8h0m-0.3 1h0m-0.8 0.3h0m1.1 0.3h0m-0.2 0.1h0m-1.1 1.4h0m2.1 0.3h0m0.4 0.3h0m-0.2 0.3h0m-0.6 0.2h0m0 0.1h0m0.2 0.2h0m2.3 0.1h0m-3.2 0.3h0m1.4 0h0m0.3 0.3h0m1.7 0.2h0m-3.4 0.3h0m1.8 0.1h0m-1.1 0.3h0m-0.1 0.2h0m0.9 0h0m1 0.1h0m1 0h0m-5 0.6h0m4.2 0.2h0m-2.3 0.4h0m1.5 0h0m-0.3 0.1h0m0 0h0m-0.6 0.1h0m0.8 0.2h0m-0.9 0.1h0m0.2 0h0m1.6 0h0m-3.2 0.3h0m2.6 0.3h0m-2.5 0.1h0m2.8 0h0m-1.2 0.1h0m1 0h0m-1.8 0.1h0m0.8 0.1h0m0.7 0.2h0m-1.2 0.4h0m0.7 0.2h0m0.1 0h0m0.3 0.1h0m-2.3 0.1h0m1.6 0h0m0.6 0h0m0.7 0h0m-0.8 0.1h0m-1 0.1h0m0.3 0h0m-1.1 0.4h0m2.2 0h0m1 0h0m-1.2 0.1h0m-1.7 0.2h0m0.7 0.1h0m0.7 0h0m1.6 0h0m-2.7 0.1h0m-0.5 0.1h0m2.9 0h0m-1.6 0.1h0m0.8 0h0m-0.7 0.1h0m0.8 0h0m-2.6 0.1h0m0.6 0h0m2 0.1h0m-1.6 0.1h0m0.1 0.1h0m1.4 0.1h0m-0.6 0.1h0m0.6 0.2h0m-0.1 0.1h0m1.2 0h0m-0.7 0.1h0m-0.8 0.1h0m1 0.2h0m-1.4 0.1h0m-1 0.1h0m0.3 0h0m0.4 0.1h0m0.8 0.2h0m-0.7 0.1h0m-0.6 0.1h0m-0.5 0.1h0m2.1 0h0m0.8 0h0m-2.5 0.1h0m1.3 0h0m0 0h0m0.7 0.2h0m-0.8 0.1h0m0.5 0h0m1.2 0h0m-2.6 0.1h0m2.9 0h0m-2.2 0.1h0m0 0h0m0.5 0h0m0 0h0m0.5 0h0m-1.7 0.2h0m2.3 0h0m-3.1 0.1h0m1.1 0h0m-1 0.2h0m1.3 0h0m1 0h0m-1 0.2h0m1.9 0h0m-0.9 0.4h0m0 1h0m-1.3 0.1h0m2.5 0.1h0m-0.8 0.2h0m-1.1 3.1h0" stroke="#474ca4" stroke-width="0.7" stroke-linecap="square" stroke-opacity="1"/></g><g clip-path="url(#c0)" filter="url(#bl35)"><path d="M58.8 306 L54.8 331 L56 338 L61.5 338 L62.8 331 Z" fill="#a9c94e" opacity="0.9"/><path d="M58.8 314 L56.3 332 L57.5 335 L60.2 335 L61.3 332 Z" fill="#e6d83a"/><path d="M58.8 324 L57.3 332 L60.3 332 Z" fill="#f0a020"/><circle cx="58.6" cy="331" r="1.1" fill="#d82020"/></g><g clip-path="url(#c1)"><path d="M212.5 247.9h0m-12.9 5.4h0m3 1.6h0m-15.5 0.9h0m7.5 0.5h0m-43.3 0.1h0m-8.4 2.2h0m47.2 0.2h0m11.6 1.2h0m-19.7 0.1h0m-23.7 0.1h0m26.2 0h0m14.6 0h0m-11 0.2h0m12.5 0.7h0m-1.3 0.2h0m-8.8 0.8h0m8.2 0.2h0m4.5 0.2h0m-1.8 0.2h0m-3.6 0.1h0m2.3 0.1h0m-26.5 0.9h0m25.5 0.1h0m-11.7 0.1h0m11.1 0.2h0m7.3 0.1h0m0.8 0.1h0m-24.2 0.1h0m0.6 0h0m18.1 0h0m2.7 0h0m-56.7 0.1h0m35.8 0h0m16.2 0.1h0m-10.2 0.1h0m15.5 0h0m-6.7 0.1h0m-46.9 0.1h0m51.2 0.1h0m14.6 0.1h0m-15.5 0.2h0m-3.7 0.2h0m7.6 0h0m-9.7 0.3h0m4 0h0m2 0.1h0m3.1 0.1h0m4.4 0h0m-3.5 0.1h0m-1 0.1h0m-9.1 0.1h0m3.8 0h0m2.3 0.1h0m0.3 0.3h0m1 0.2h0m5.4 0.1h0m-51.8 0.1h0m40.5 0h0m7.4 0h0m-8.4 0.1h0m2.8 0h0m-3.7 0.1h0m1.2 0.2h0m-46.8 0.1h0m52.4 0.1h0m-4.8 0.2h0m0.4 0.1h0m2.9 0h0m0 0h0m-4.5 0.1h0m2.7 0.1h0m0.2 0h0m0.4 0h0m-3.9 0.1h0m7.3 0h0m-4.5 0.1h0m8.8 0.1h0m-11.9 0.1h0m0.5 0h0m2.4 0.3h0m-6 0.1h0m17.9 0.1h0m-11 0.1h0m6.7 0h0m-4.7 0.1h0m2.9 0h0m5.8 0.2h0m-14.2 0.1h0m-9.8 0.1h0m10.9 0h0m4.1 0h0m-3.4 0.1h0m-1.2 0.2h0m5.5 0h0m2.9 0.1h0m-3.4 0.3h0m-3.1 0.1h0m3.1 0h0m-11.3 0.1h0m13.1 0h0m-0.4 0.3h0m-8.3 0.1h0m2.8 0h0m4.3 0.2h0m-6.3 0.1h0m-2.3 0.1h0m9.7 0h0m-3.1 0.1h0m1.2 0h0m6.4 0h0m5.8 0.2h0m-15.9 0.1h0m2.4 0h0m-12.6 0.1h0m15.1 0.2h0m8.8 0.1h0m-24.1 0.1h0m6.4 0h0m8.8 0h0m-9.6 0.1h0m12.8 0h0m-10.3 0.1h0m1.2 0h0m-4.6 0.1h0m11 0h0m1.1 0.1h0m-6.1 0.1h0m4.1 0h0m-7.9 0.1h0m6.1 0h0m-5.2 0.1h0m6.9 0.3h0m1.3 0h0m-2.7 0.1h0m0.6 0.1h0m5.8 0h0m2.6 0h0m-18 0.1h0m7.1 0h0m-11.7 0.1h0m7.9 0h0m15.4 0h0m-71.2 0.1h0m61.7 0h0m6 0h0m-1 0.1h0m-2.8 0.1h0m-8.7 0.1h0m18.1 0.4h0m-19.3 0.1h0m12 0h0m-40.9 0.1h0m25.2 0h0m6.7 0.1h0m11.8 0h0m-18.4 0.1h0m17.1 0h0m4 0.1h0m-16.2 0.2h0m-4.2 0.1h0m8.6 0h0m1.7 0h0m-7.9 0.1h0m3.1 0h0m1.4 0h0m-5.2 0.1h0m1.1 0h0m-23.1 0.2h0m24.5 0h0m2.1 0h0m5.6 0h0m-7.5 0.2h0m2.9 0h0m-4.1 0.1h0m-0.8 0.1h0m-7.6 0.1h0m0.7 0h0m0.5 0h0m4.2 0h0m13.9 0h0m-3.7 0.1h0m2.5 0h0m-65.9 0.1h0m41.2 0h0m15.6 0h0m0.1 0.1h0m12.6 0h0m-31.4 0.1h0m0.1 0h0m26.7 0h0m-12 0.2h0m11.9 0h0m10.3 0h0m-21.3 0.1h0m-0.4 0.1h0m6.2 0h0m1.4 0h0m5.7 0h0m-8 0.1h0m4.9 0h0m1.8 0.1h0m-16.2 0.2h0m20.1 0h0m-4.5 0.1h0m0.7 0h0m-9.4 0.1h0m1 0h0m8.8 0.1h0m10.9 0h0m-19.6 0.1h0m7.6 0.3h0m-12.2 0.1h0m2 0h0m1 0h0m1.4 0h0m8.2 0h0m4.9 0h0m-17.9 0.2h0m4.4 0.1h0m7.4 0h0m7.5 0.5h0m-13.8 0.1h0m9.9 0h0m-58 0.2h0m53.6 0h0m6.8 0.1h0m-14.2 0.1h0m1.1 0.1h0m12.9 0h0m-13.8 0.1h0m12.3 0.1h0m-34.4 0.1h0m12.5 0h0m22.2 0h0m-1.3 0.1h0m-0.9 0.1h0m-16 0.2h0m2.3 0h0m1 0h0m-30.6 0.1h0m28 0h0m3.6 0h0m3 0h0m0 0h0m2.3 0h0m1.2 0h0m-33.1 0.1h0m21.2 0h0m6.8 0h0m-7.3 0.1h0m0.3 0h0m-4.1 0.1h0m6.2 0h0m18.2 0h0m0.5 0h0m-16.6 0.2h0m0 0.1h0m0.9 0h0m-0.9 0.1h0m10.4 0h0m-23.4 0.2h0m6.4 0.2h0m7.6 0h0m3.5 0h0m6.4 0h0m1.8 0h0m-16.1 0.1h0m-1 0.1h0m7.4 0h0m11.5 0h0m-32.8 0.1h0m15 0h0m6.9 0h0m9.4 0h0m-7.4 0.1h0m-0.8 0.1h0m-8 0.1h0m17.8 0h0m-3.3 0.1h0m1.1 0h0m3.6 0h0m-26.1 0.1h0m6.9 0h0m0.5 0h0m15.9 0h0m-30.6 0.1h0m24.2 0.1h0m4.5 0h0m-0.2 0.1h0m-8.3 0.1h0m3.7 0h0m8.4 0h0m-13.6 0.1h0m11.5 0h0m-12 0.1h0m-1.7 0.1h0m0.8 0h0m1.1 0h0m1.6 0h0m-8.1 0.1h0m7.1 0.1h0m24.2 0h0m-22.3 0.1h0m5.1 0h0m-22.9 0.1h0m16.9 0.2h0m-10.5 0.1h0m4 0h0m15.6 0h0m2 0h0m1.5 0h0m1.4 0.2h0m-35 0.1h0m25.2 0h0m10.1 0h0m-17.9 0.1h0m16.6 0.1h0m-25.6 0.2h0m17.2 0h0m2.4 0h0m12.5 0.1h0m-17.5 0.1h0m6.6 0h0m-11.7 0.1h0m1.9 0h0m15.1 0h0m-34.6 0.1h0m10.6 0h0m-42.7 0.1h0m26.9 0h0m27.7 0h0m7.6 0h0m-30.8 0.1h0m12.5 0h0m4 0h0m-10.3 0.1h0m-15 0.1h0m22.9 0.1h0m14.9 0h0m3.2 0h0m-16.9 0.1h0m12.8 0h0m2.4 0.1h0m2.3 0h0m-15.6 0.2h0m12.1 0h0m4.7 0h0m-39.1 0.1h0m21.5 0h0m5.1 0h0m14.1 0h0m-8.6 0.1h0m0.6 0h0m-25.2 0.1h0m30.4 0h0m4.1 0h0m0.4 0h0m-63.5 0.1h0m63.9 0h0m-21.8 0.1h0m3.3 0h0m14.9 0h0m-12.2 0.1h0m-7.8 0.1h0m13.8 0h0m-9.2 0.1h0m10.8 0h0m-4.7 0.1h0m-13.1 0.1h0m4.5 0h0m21.4 0h0m-36.5 0.1h0m17.2 0h0m0.3 0h0m12.4 0h0m-27.2 0.1h0m27.9 0h0m-17.1 0.1h0m8.9 0h0m-4.4 0.1h0m0.4 0h0m6.5 0h0m2.8 0h0m-14.5 0.1h0m-11.8 0.1h0m18.8 0.1h0m9.8 0h0m-31.9 0.1h0m6.6 0h0m26 0h0m1.8 0h0m-7.9 0.1h0m7.8 0h0m-32.7 0.1h0m14.2 0h0m1.2 0h0m-21.1 0.1h0m17.8 0h0m2.4 0h0m8.3 0h0m8 0h0m-36.6 0.1h0m5 0h0m28.9 0h0m-1 0.1h0m8.3 0h0m-44.5 0.1h0m22.4 0h0m1 0h0m12.3 0h0m7.1 0h0m-19.4 0.1h0m0.8 0h0m3.1 0h0m-23.7 0.1h0m30.4 0h0m-0.1 0.1h0m-40.5 0.1h0m17.6 0h0m28.9 0h0m-28 0.2h0m3.5 0h0m22.9 0h0m-9.4 0.1h0m12.9 0h0m-16 0.1h0m-16.4 0.1h0m16.9 0h0m9.7 0h0m0.7 0h0m-5.5 0.1h0m8.3 0h0m-43 0.1h0m25.5 0h0m3.9 0h0m1.5 0h0m7 0h0m4.3 0h0m2.2 0h0m-30.7 0.1h0m9 0.1h0m6.7 0h0m-20.9 0.1h0m22.9 0h0m-20.6 0.1h0m37.2 0h0m3 0h0m-30.7 0.1h0m5.9 0h0m8.6 0h0m5.1 0h0m7.6 0.1h0m-22.2 0.1h0m10.9 0.2h0m-25.6 0.1h0m14.1 0h0m7.9 0h0m8.6 0h0m7.7 0h0m-26 0.1h0m29.8 0h0m-44.9 0.1h0m19.3 0h0m1.7 0h0m9.7 0h0m9.8 0h0m5.1 0.1h0m-57.8 0.1h0m16.6 0h0m-5.5 0.1h0m27.8 0h0m-22.1 0.1h0m10.9 0h0m13.7 0h0m-12.4 0.1h0m1.5 0h0m7.9 0h0m0.3 0h0m4.7 0h0m7.2 0h0m-36.7 0.1h0m14.6 0h0m6.9 0h0m1.8 0h0m5.6 0h0m1.3 0h0m7.1 0h0m-38.8 0.1h0m8.8 0h0m12.7 0h0m0.1 0h0m-19.8 0.1h0m-31.1 0.1h0m6.8 0h0m29.8 0h0m8.3 0h0m-17.7 0.1h0m0.3 0h0m6.6 0h0m11.8 0h0m2.6 0h0m5.7 0h0m-5.5 0.1h0m15 0h0m0.1 0h0m3 0h0m-35.4 0.1h0m0.4 0h0m8.7 0h0m9.4 0h0m9.3 0h0m5.4 0h0m-18 0.2h0m20.1 0.1h0m-48.2 0.1h0m1 0h0m13.9 0.1h0m30.3 0h0m3.1 0h0m-37.6 0.1h0m12.4 0h0m11.6 0.1h0m-19.2 0.1h0m13.2 0h0m-43.5 0.1h0m57.3 0h0m-19.5 0.1h0m32.7 0h0m-46.5 0.1h0m4.8 0h0m30 0h0m-32.2 0.1h0m25.9 0h0m-25.9 0.1h0m17.7 0h0m4.9 0h0m-6.1 0.1h0m9.9 0h0m2.8 0h0m3.1 0h0m1.1 0h0m-1.1 0.1h0m-13.6 0.1h0m16.2 0h0m-62.5 0.1h0m28 0h0m23 0h0m1.5 0h0m7.6 0h0m1.4 0h0m1.2 0h0m5.3 0h0m-29.8 0.1h0m2.6 0h0m21.7 0h0m-2.9 0.1h0m6.3 0h0m-37.2 0.1h0m15.7 0.1h0m3.7 0h0m0.6 0h0m15.4 0h0m-41.5 0.1h0m2.1 0h0m13.9 0h0m10.9 0.2h0m-20.1 0.1h0m0.5 0h0m12.8 0h0m18.2 0h0m-31.5 0.1h0m6.5 0h0m7 0h0m6.4 0h0m8.1 0h0m3.5 0h0m7.6 0h0m-4 0.1h0m-27.8 0.1h0m11.8 0h0m19.8 0h0m-28.7 0.1h0m6.4 0h0m8.7 0h0m-20.5 0.1h0m7.4 0h0m16.8 0h0m-29.4 0.1h0m16 0h0m19.3 0h0m-32.2 0.1h0m10.3 0h0m4.4 0h0m0.6 0h0m12.9 0h0m-31.5 0.1h0m0.4 0h0m15 0h0m2.2 0h0m14.7 0h0m2.7 0h0m-47.7 0.1h0m6.1 0h0m45.2 0h0m-35.8 0.1h0m-5.2 0.1h0m16 0h0m6.9 0h0m9.4 0h0m2.7 0h0m-5.7 0.1h0m-1.2 0.1h0m4.1 0h0m5.2 0h0m3.9 0h0m-39.8 0.1h0m5.5 0h0m3.6 0h0m32 0h0m-43.7 0.1h0m0.3 0h0m14.4 0h0m2.2 0h0m-24.6 0.1h0m4.8 0h0m6.4 0h0m3.9 0h0m10.4 0h0m13.3 0h0m-11.3 0.1h0m-3.3 0.2h0m7.9 0h0m0.8 0h0m1.7 0h0m4 0h0m-27.5 0.1h0m29.9 0h0m7.1 0h0m-41.3 0.1h0m0.3 0h0m34.1 0h0m-15 0.1h0m15.5 0h0m-35.2 0.1h0m19.9 0h0m2.1 0h0m8.5 0h0m-24.7 0.1h0m4 0h0m8.4 0h0m-12.7 0.1h0m0.7 0h0m1.5 0h0m7.5 0h0m16.5 0h0m-35.8 0.1h0m5.6 0h0m0 0.1h0m2.8 0h0m1.8 0h0m34.2 0h0m-44.5 0.1h0m37.8 0h0m-30.1 0.1h0m16.9 0h0m2.4 0h0m16.2 0h0m-42 0.1h0m2.4 0h0m0.7 0h0m0.7 0h0m1.4 0h0m3.4 0h0m38.5 0h0m-40.9 0.1h0m12.9 0h0m1.2 0h0m2 0h0m17.4 0h0m-34.4 0.1h0m2.5 0h0m-3 0.1h0m12.6 0h0m0.8 0h0m11.2 0h0m5.2 0.1h0m7.4 0h0m-4.5 0.1h0m-27.5 0.1h0m3.1 0h0m4.2 0h0m8.4 0h0m13.9 0.1h0m6.4 0h0m-32.8 0.1h0m-5.5 0.1h0m29.3 0h0m-53 0.1h0m25.2 0h0m1.5 0h0m3.2 0h0m9.7 0h0m-21.1 0.1h0m33.5 0.1h0m5 0h0m3.8 0h0m-23 0.1h0m0.8 0h0m2 0h0m17.3 0h0m6.3 0.1h0m-37.7 0.1h0m34.1 0h0m-44.1 0.1h0m4.7 0h0m2.6 0h0m18.7 0h0m-16.4 0.1h0m-16.2 0.1h0m19.1 0h0m3 0h0m29.8 0h0m-41 0.2h0m20.5 0h0m-22.5 0.1h0m3.3 0h0m31 0h0m-27.6 0.1h0m3 0h0m7.5 0h0m3.2 0h0m17.7 0h0m3.8 0h0m-41.3 0.1h0m2.7 0h0m6.6 0h0m24.2 0h0m-17.8 0.1h0m-11.9 0.2h0m-3.9 0.1h0m21 0h0m10.6 0h0m3.8 0h0m0.7 0h0m-16.2 0.1h0m2 0h0m5.8 0h0m8.6 0h0m-20.3 0.1h0m6.5 0h0m17.3 0h0m-38.3 0.1h0m1.8 0h0m14.6 0.1h0m25.4 0h0m-49 0.1h0m14.1 0h0m27.7 0h0m5.6 0h0m-61.7 0.1h0m27.1 0h0m-5.7 0.1h0m4.7 0h0m10.3 0h0m0.8 0h0m16.4 0h0m-12.3 0.1h0m3.6 0h0m0.2 0h0m16.7 0h0m-44.1 0.1h0m2.4 0h0m8.1 0h0m1.7 0h0m3.8 0h0m8.4 0h0m25.6 0.1h0m-51.6 0.1h0m4.6 0h0m6.4 0h0m6.1 0h0m22.1 0h0m-37.3 0.1h0m13.4 0h0m6.3 0.1h0m-46.4 0.1h0m34.5 0h0m-1 0.1h0m1.5 0h0m-5.6 0.1h0m3.8 0h0m2.9 0h0m15.7 0h0m16.5 0h0m6.7 0h0m0.6 0h0m-11.3 0.1h0m-40.8 0.1h0m19 0h0m7.6 0h0m20.7 0h0m-45.5 0.1h0m4.6 0h0m34.4 0h0m0.1 0h0m-37.1 0.1h0m17 0h0m25.4 0h0m3.2 0h0m-40.7 0.1h0m41.2 0h0m-41.7 0.2h0m-9.7 0.1h0m7.2 0h0m35.8 0h0m3.4 0h0m-36.4 0.1h0m-9.9 0.1h0m11.3 0h0m-6.1 0.1h0m12.2 0h0m-15.2 0.1h0m12.8 0h0m6.2 0h0m0.7 0h0m1.7 0h0m19.7 0h0m5.4 0h0m1 0h0m-46.7 0.3h0m3.4 0h0m9.5 0h0m25.4 0h0m-37.7 0.1h0m20 0h0m22 0h0m-25.6 0.1h0m10.9 0h0m-17.1 0.1h0m8.1 0h0m0.5 0h0m2 0h0m21 0h0m-40.3 0.1h0m38.8 0h0m-0.2 0.1h0m4 0h0m-33.2 0.1h0m4.7 0h0m7.1 0.1h0m-6.9 0.1h0m5.6 0h0m-24.2 0.1h0m6.9 0h0m6.9 0h0m35.1 0h0m2.5 0h0m-46.9 0.1h0m45.8 0h0m-52.7 0.1h0m1.8 0h0m12.2 0h0m4.5 0h0m29.5 0h0m0.7 0h0m-46.1 0.1h0m2.4 0h0m11.7 0h0m33.1 0h0m-32.6 0.1h0m-0.4 0.1h0m-21.6 0.1h0m9.3 0h0m20 0h0m-2.2 0.1h0m-16.8 0.1h0m0.6 0h0m19.5 0h0m-33.4 0.1h0m61.6 0h0m-32.6 0.1h0m32.9 0h0m-53.9 0.1h0m2.6 0h0m24.2 0h0m-29.4 0.1h0m26.4 0h0m-18.3 0.2h0m17.5 0h0m-21.8 0.1h0m1.9 0h0m12.8 0h0m-16 0.1h0m15.2 0h0m30.1 0.1h0m-39.3 0.1h0m9.8 0h0m-3 0.1h0m6.9 0h0m28.7 0h0m-43.3 0.1h0m22.1 0.1h0m-21.9 0.1h0m16.9 0h0m4.7 0.1h0m-21 0.1h0m17.5 0.1h0m25.4 0h0m-41 0.1h0m2.3 0h0m11.8 0h0m2 0h0m23.9 0.1h0m1.9 0h0m-54.6 0.1h0m30.8 0h0m21.4 0h0m-39.7 0.1h0m12 0.1h0m27.2 0h0m-43.8 0.1h0m13.7 0h0m4.8 0h0m25.8 0h0m0.7 0h0m-44.2 0.1h0m2.4 0h0m-26.2 0.1h0m17.1 0h0m6.2 0h0m13.4 0h0m4.4 0h0m-18.6 0.1h0m1.6 0h0m1.2 0h0m14.1 0.1h0m27.8 0h0m2.2 0h0m-45.7 0.1h0m18.8 0h0m1.5 0h0m-24.2 0.1h0m7.6 0h0m11.8 0h0m-16.2 0.1h0m18.8 0h0m5.2 0h0m23.5 0h0m-34.2 0.1h0m3.1 0h0m4.2 0.1h0m-2.3 0.1h0m30 0h0m-45.3 0.1h0m1.4 0.1h0m16.2 0.1h0m26.8 0h0m-28.8 0.3h0m6.1 0h0m-8.3 0.1h0m5.7 0h0m22.5 0h0m-31.9 0.1h0m2.8 0h0m1.4 0.2h0m-19 0.1h0m14.6 0.1h0m0.8 0.1h0m9.7 0h0m26.2 0h0m-53.8 0.1h0m57.6 0h0m-56 0.1h0m5.3 0h0m0.3 0h0m11.1 0h0m7.6 0.1h0m-23.5 0.1h0m20.4 0h0m0.2 0h0m33.5 0h0m-60.3 0.1h0m6.6 0h0m16.5 0.1h0m2.5 0h0m29.3 0h0m0.7 0h0m3.1 0h0m-37.2 0.1h0m7.8 0h0m30.4 0h0m2.6 0h0m-37.9 0.1h0m1.7 0h0m0.8 0h0m31.3 0.1h0m-28.8 0.1h0m-18.7 0.1h0m0.5 0h0m-2.4 0.1h0m12 0h0m6.4 0h0m31.9 0h0m-51.5 0.1h0m48.6 0h0m-21.3 0.1h0m-24 0.2h0m14.6 0.1h0m3.9 0h0m-20.7 0.1h0m47.2 0h0m-24.2 0.1h0m21.2 0.1h0m1.8 0h0m1.5 0h0m-47.3 0.1h0m13.6 0h0m7.7 0h0m-16.1 0.1h0m12.1 0h0m-5 0.1h0m6.5 0h0m28.1 0h0m-27.5 0.1h0m28 0.1h0m-55.1 0.1h0m56.2 0.1h0m-48.1 0.1h0m18 0h0m-2.5 0.3h0m-24.3 0.1h0m5.9 0h0m4.5 0h0m0.7 0h0m-8 0.1h0m20.2 0h0m34.6 0h0m0.5 0h0m-49.8 0.1h0m3.2 0h0m7.7 0h0m-10.9 0.1h0m13.7 0.1h0m34.4 0h0m-48.7 0.1h0m14.7 0.2h0m3 0h0m-17.2 0.1h0m49.4 0h0m-28.9 0.1h0m-17.4 0.2h0m-1.1 0.1h0m12.4 0h0m6.3 0h0m28.9 0.1h0m-2 0.1h0m-41.4 0.2h0m-11.3 0.1h0m7.8 0h0m16.2 0.2h0m0.9 0h0m1 0.1h0m22.1 0h0m1.9 0h0m-45.1 0.1h0m14.5 0.1h0m3.3 0h0m-16.6 0.1h0m12.9 0.1h0m6.4 0h0m25.2 0h0m-44.5 0.1h0m11.5 0.1h0m3.7 0h0m0.8 0h0m28.6 0.1h0m-45.1 0.1h0m44.1 0h0m1.7 0h0m-30.9 0.1h0m2.1 0h0m0.1 0h0m26.7 0h0m-32.9 0.1h0m32.3 0h0m0.3 0.1h0m0.1 0.1h0m4 0h0m-48.5 0.1h0m14.7 0h0m1.4 0h0m0.9 0.4h0m-19 0.1h0m14.9 0h0m17.2 0h0m15.1 0h0m5.5 0h0m-53.1 0.1h0m3.9 0h0m0.2 0h0m-5.4 0.1h0m5 0h0m1.8 0.1h0m40.2 0h0m-41.4 0.3h0m43.6 0.1h0m-27.9 0.1h0m-17.5 0.1h0m17.3 0.2h0m-16.7 0.1h0m11.1 0h0m9.5 0h0m-22 0.1h0m18.5 0h0m23.7 0.1h0m-20.8 0.1h0m-10.3 0.1h0m4.9 0h0m-15.6 0.1h0m36.2 0h0m2.8 0h0m2.9 0h0m1.5 0.1h0m-1.3 0.1h0m0.7 0h0m1.1 0h0m-23.7 0.2h0m16.1 0h0m8.4 0h0m-6.9 0.1h0m8.9 0.1h0m-4.3 0.1h0m5.3 0.1h0m-34.9 0.1h0m24.3 0h0m-38.4 0.1h0m19.8 0.1h0m13.5 0.1h0m12.4 0h0m-28.7 0.1h0m0.2 0h0m2.5 0h0m23.7 0h0m-5.4 0.1h0m2.8 0.1h0m-23.2 0.1h0m16 0h0m11.8 0.1h0m3.3 0h0m-48.1 0.1h0m37 0h0m1.8 0h0m-40.5 0.1h0m40.2 0.1h0m7.5 0h0m4.6 0h0m-58.2 0.2h0m22.3 0h0m18.4 0h0m-11.2 0.1h0m10.9 0h0m0.5 0h0m7.2 0.1h0m-26 0.1h0m-25.4 0.1h0m47.7 0h0m1 0h0m3.7 0.1h0m-24.1 0.1h0m18.7 0h0m6.5 0h0m-22.7 0.1h0m18.5 0h0m-36.8 0.1h0m39.3 0h0m2.5 0h0m-10.7 0.1h0m5.3 0h0m-23.5 0.1h0m17.3 0h0m9.7 0h0m-7 0.1h0m1.9 0h0m8.3 0h0m-27.3 0.1h0m18.9 0h0m-17.4 0.1h0m14.9 0h0m-33.2 0.1h0m19.1 0h0m22 0.1h0m4 0.1h0m-14.3 0.2h0m-13 0.1h0m15 0.2h0m5.2 0.1h0m-18.4 0.1h0m2 0.1h0m-22.2 0.1h0m18.2 0h0m15.8 0.1h0m1.5 0.1h0m-35 0.1h0m31.4 0.1h0m2.9 0h0m8.1 0h0m-23.8 0.3h0m-6.2 0.1h0m35.2 0h0m-31.3 0.1h0m2.9 0h0m14.7 0.1h0m-31.4 0.2h0m30.5 0.1h0m-2.8 0.1h0m-5.8 0.1h0m4 0h0m0.1 0h0m13.6 0h0m-12.9 0.2h0m-10.2 0.1h0m9.9 0h0m-6.9 0.1h0m-9.4 0.1h0m9.4 0.1h0m2.4 0.2h0m3.8 0h0m12.7 0h0m2.4 0h0m-41.8 0.1h0m22.2 0h0m5.8 0h0m-7.8 0.1h0m0.9 0h0m-5.2 0.1h0m2.8 0h0m3 0h0m16.9 0.1h0m-62.6 0.1h0m38.7 0h0m3.5 0h0m12.9 0h0m2.8 0.2h0m-14.1 0.2h0m7.1 0.1h0m0.2 0h0m-9 0.1h0m3.9 0h0m1.5 0.1h0m4.9 0h0m-29.2 0.1h0m1.9 0h0m21 0h0m-23.3 0.1h0m21.2 0h0m6.2 0h0m-1.7 0.1h0m6.1 0h0m1.9 0h0m3.5 0h0m-16.1 0.2h0m3.3 0.1h0m1.1 0h0m6.7 0.1h0m3.6 0h0m-11.9 0.1h0m4.3 0h0m0.8 0h0m-5.3 0.1h0m8.6 0h0m-10.8 0.1h0m2.2 0h0m10.5 0h0m-14.4 0.1h0m8.7 0.2h0m0.1 0h0m-5.9 0.1h0m9.8 0h0m-10.6 0.1h0m-42.9 0.5h0m48.7 0.1h0m-2.7 0.2h0m9.8 0.1h0m-13.6 0.1h0m-7 0.2h0m18.2 0h0m-11.2 0.1h0m6.7 0h0m0.8 0.1h0m-6.5 0.3h0m2.5 0.1h0m-13.2 0.1h0m-11.8 0.1h0m14.6 0h0m13.6 0.2h0m-9 0.2h0m11.3 0.3h0m-32.7 0.1h0m34.4 0.1h0m-15.5 0.2h0m7.1 0.2h0m7.1 0h0m-2.4 0.1h0m-11.1 0.1h0m-17.1 0.2h0m34.6 0.1h0m-34.5 0.6h0m34.8 0.4h0m-12.2 0.9h0m1.4 0.2h0m-3.4 1h0m10 0.1h0m2 0.2h0m-29.2 0.3h0m10.1 0h0m1.2 0.1h0m-4.1 0.4h0m16.5 0.1h0m-24.5 0.3h0m0.7 0h0m9.2 0.1h0m1.4 0.4h0m-11.8 0.2h0m1 0.1h0m9.2 0.1h0m-9.7 0.3h0m0.6 0h0m8.2 0.2h0m1.8 0h0m-10.2 0.1h0m10.3 0.1h0m12.7 0h0m-21.5 0.2h0m-0.1 0.1h0m8.5 0h0m-10 0.4h0m1.9 0.2h0m6.6 0h0m-9.2 0.2h0m34.2 0.1h0m-30.4 0.2h0m5.8 0.2h0m1.6 0h0m-4.9 0.2h0m3.1 0h0m-11.8 0.4h0m2.6 0.3h0m-1.5 0.3h0m5.5 0h0m-1.1 0.1h0m2.8 0h0m0.5 0h0m1.4 0.5h0m0.1 0h0m1.5 0.5h0m-5.2 0.1h0m1 0h0m6.5 0h0m-0.4 0.1h0m-6.3 0.4h0m-0.8 0.1h0m4.9 0h0m-5.5 0.2h0m4.5 0h0m0 0.1h0m0.6 0.1h0m-7.6 0.3h0m7.5 0.2h0m-2.5 0.2h0m-2.1 0.1h0m3.2 0.6h0m-3.6 0.6h0m6 0.5h0m-3.2 0.2h0" stroke="#8a8ecb" stroke-width="0.7" stroke-linecap="square" stroke-opacity="0.7"/><path d="M197.2 268.1h0m2.9 0h0m-1.5 1.3h0m0.2 0.1h0m1.3 0.2h0m-1.6 0.5h0m1.3 0.1h0m0.8 0.2h0m-4.7 0.1h0m4 0h0m0.4 0.1h0m0.8 0.1h0m-0.5 0.3h0m-3.4 0.1h0m-0.6 0.3h0m0.5 0h0m0.7 0h0m-0.4 0.5h0m2.6 0.1h0m-2.8 0.2h0m1.3 0h0m-0.2 0.1h0m1 0h0m1.7 0h0m-3.4 0.5h0m-3.5 0.1h0m5.5 0.3h0m-0.2 0.1h0m-4.3 0.3h0m3.8 0.1h0m-1.5 0.1h0m1 0.2h0m1.1 0.1h0m1.8 0h0m-1.6 0.3h0m-2 0.1h0m-0.3 0.1h0m-0.3 0.2h0m2.1 0.1h0m0.8 0.2h0m0.5 0h0m-5.5 0.1h0m4.8 0.1h0m-2 0.1h0m-1 0.2h0m2 0.1h0m-2.2 0.5h0m0.8 0h0m0.9 0.1h0m-1.5 0.3h0m1.2 0.2h0m2.7 0h0m-4 0.1h0m3.2 0h0m-1 0.1h0m1.6 0.1h0m-2.7 0.1h0m-2.8 0.5h0m1.3 0h0m1.4 0.1h0m-3.4 0.1h0m4.2 0h0m1.5 0.1h0m-3.1 0.1h0m2.1 0.2h0m0.3 0h0m1.6 0h0m-4.4 0.1h0m3.2 0.1h0m-4.8 0.1h0m2.3 0.2h0m2.8 0.7h0m-2.6 0.5h0m2.2 0h0m-7.6 0.1h0m5.1 0.1h0m1.2 0h0m-2.6 0.2h0m2.6 0.4h0m1 0.1h0m-0.6 0.1h0m0.4 0h0m-1.7 0.1h0m-1.7 0.1h0m1.3 0.1h0m2 0.1h0m1.2 0.2h0m-6.9 0.1h0m3.9 0.1h0m-2.9 0.1h0m5.6 0.1h0m-2.2 0.1h0m0.1 0h0m0.9 0.1h0m1.4 0h0m-7.9 0.4h0m1.7 0.2h0m1.3 0.2h0m1 0h0m-3.8 0.1h0m6.4 0.1h0m-1.3 0.1h0m0.5 0h0m-4.6 0.2h0m3.2 0h0m0.9 0h0m-4.1 0.1h0m5 0.1h0m-1 0.1h0m0.2 0.1h0m0.3 0h0m-2.5 0.1h0m5 0h0m-3.6 0.6h0m1.3 0h0m-5.9 0.1h0m4.1 0h0m-3.2 0.1h0m-1.5 0.1h0m-0.9 0.1h0m6.7 0h0m-1.4 0.3h0m4.1 0h0m-5.1 0.2h0m4.5 0.2h0m-5.2 0.1h0m1.1 0.1h0m4.4 0.3h0m-6.1 0.1h0m7.3 0h0m-6.6 0.1h0m-4.4 0.2h0m10.1 0h0m-8 0.1h0m-4.4 0.3h0m1.3 0h0m9.2 0h0m-6.4 0.2h0m6.6 0.2h0m-6.6 0.1h0m-0.9 0.1h0m5.6 0.3h0m-9.8 0.2h0m6.6 0.2h0m5.3 0h0m-0.1 0.1h0m-8.9 0.1h0m5.8 0h0m0 0h0m-3.8 0.1h0m8.2 0h0m-9.2 0.1h0m0 0.2h0m3.5 0h0m-4.5 0.4h0m5.3 0h0m4 0.1h0m1.6 0h0m-5.3 0.1h0m-1.5 0.1h0m-2.4 0.1h0m1.5 0h0m6.6 0h0m-6.5 0.3h0m1.8 0h0m0.2 0h0m1.5 0.2h0m-5.1 0.1h0m0.6 0.1h0m0.8 0h0m5.3 0h0m-3.9 0.1h0m-5.9 0.2h0m6.3 0.1h0m0.3 0h0m-4.8 0.2h0m-0.4 0.1h0m6.9 0h0m-8.7 0.3h0m6.8 0h0m0.4 0.1h0m-8.7 0.2h0m6 0h0m5.9 0h0m0.3 0h0m-7.2 0.1h0m-0.7 0.2h0m8.6 0h0m-11.4 0.2h0m4.5 0.1h0m0.4 0h0m-2.6 0.1h0m3.2 0h0m3.5 0h0m0.7 0.1h0m-1.4 0.1h0m-3.4 0.1h0m-3.1 0.1h0m3.8 0.2h0m3.4 0h0m-3.2 0.1h0m1.7 0h0m-4.4 0.2h0m2.4 0.2h0m3.8 0h0m0.2 0.2h0m-3.2 0.2h0m6.8 0h0m-10 0.1h0m4.5 0.2h0m-0.2 0.1h0m-9.2 0.4h0m5 0h0m-0.6 0.1h0m1.1 0h0m9.3 0h0m-11.5 0.2h0m1.2 0.6h0m4.4 0h0m-1.8 0.1h0m3 0.1h0m-6.2 0.2h0m-1 0.1h0m1.6 0.2h0m-0.6 0.1h0m2.6 0.2h0m-6.1 0.1h0m5 0h0m7.3 0h0m-13.3 0.1h0m1.8 0h0m10.1 0h0m-6.9 0.1h0m2 0h0m-6 0.2h0m8.1 0h0m1.7 0h0m0.2 0h0m-13.3 0.1h0m8.6 0h0m1.1 0h0m0.7 0h0m-6.9 0.2h0m4.8 0h0m-22.7 0.1h0m0.5 0.1h0m22.2 0h0m0.9 0h0m1.8 0h0m-24 0.1h0m-2.7 0.1h0m21.3 0h0m1.3 0.1h0m-2 0.2h0m6.5 0h0m-28.1 0.1h0m22.4 0h0m1.4 0h0m0.1 0h0m0.7 0.2h0m2.4 0h0m-4.4 0.1h0m4.8 0h0m-4.7 0.1h0m1.5 0h0m4.7 0h0m-11.4 0.1h0m6.8 0h0m2.8 0h0m5.8 0h0m-10 0.1h0m0.3 0h0m0.4 0h0m1.6 0h0m2.9 0h0m2.2 0h0m-26.4 0.1h0m13.8 0h0m-14 0.1h0m29.2 0h0m-15.7 0.2h0m8.1 0h0m1.5 0h0m0.3 0h0m-1 0.1h0m2.7 0h0m-25.3 0.1h0m15 0h0m8.2 0h0m0.1 0h0m3.3 0h0m-7.5 0.2h0m3 0h0m4.3 0h0m-13.5 0.1h0m-16.8 0.1h0m29 0h0m2.5 0h0m-6.8 0.2h0m5.8 0h0m-28.3 0.1h0m18.1 0.1h0m-15.8 0.1h0m24.9 0h0m1 0h0m2 0h0m-8.8 0.1h0m10 0.1h0m-29 0.1h0m25.9 0h0m-7.1 0.1h0m2.9 0h0m6.4 0h0m-11.4 0.1h0m-21.8 0.1h0m20.2 0h0m2.6 0h0m4.9 0h0m2.1 0h0m-28.6 0.1h0m19.8 0h0m8.1 0h0m2.9 0h0m-32.2 0.1h0m2.8 0h0m0.3 0h0m25 0h0m-22.9 0.1h0m23.2 0h0m0 0h0m0.7 0h0m-8.3 0.1h0m4.5 0h0m-5.4 0.1h0m8.2 0h0m0.9 0h0m0.4 0h0m-3.9 0.1h0m-25.3 0.1h0m16.4 0h0m6.2 0h0m9.9 0h0m-11 0.1h0m2.4 0h0m2.4 0.1h0m3.6 0h0m3.4 0h0m3.2 0h0m-7.1 0.1h0m-31.2 0.1h0m20.9 0h0m3.7 0h0m8.7 0h0m-12.8 0.1h0m11.2 0h0m-29.9 0.1h0m2.5 0h0m21.1 0h0m8.8 0h0m2.3 0h0m-15.1 0.1h0m0.4 0h0m0.4 0h0m7.6 0h0m2.1 0h0m-15 0.1h0m13.1 0h0m4.1 0h0m-30.9 0.2h0m3.8 0h0m13 0h0m11.2 0h0m1.3 0h0m-9.3 0.1h0m-19.4 0.1h0m15.5 0h0m1.5 0h0m1.8 0h0m-20.6 0.1h0m3.2 0h0m16.1 0h0m2.6 0h0m-23.2 0.1h0m27.9 0h0m0.5 0h0m-9.8 0.1h0m1.5 0h0m-15.5 0.1h0m2.6 0h0m19.8 0h0m4.1 0h0m2.5 0h0m-27.4 0.1h0m0.8 0h0m11.9 0h0m8.1 0h0m5.1 0h0m-9 0.1h0m-19.6 0.1h0m30.4 0h0m-12.4 0.1h0m5.2 0h0m0.3 0h0m-26.1 0.1h0m31 0h0m-34.4 0.1h0m4.8 0h0m20.8 0h0m1.4 0h0m10.2 0h0m-7.2 0.1h0m1.4 0h0m1.9 0h0m-8.5 0.1h0m0.4 0h0m1 0h0m3.6 0h0m5.6 0h0m2.5 0h0m-29.2 0.1h0m15.1 0h0m5.4 0h0m0.4 0h0m3 0h0m0.6 0h0m1 0h0m0.2 0h0m0.7 0h0m-33 0.1h0m1.8 0h0m3.6 0h0m0.8 0h0m19.2 0h0m4.6 0h0m-29.8 0.1h0m26.3 0h0m8.8 0h0m1.8 0h0m-36.8 0.1h0m2 0h0m22.6 0.1h0m7.7 0h0m-13.9 0.2h0m3.8 0h0m5 0h0m5.8 0h0m3.1 0.1h0m-35.1 0.1h0m1.1 0h0m17.5 0.1h0m6.2 0h0m-22.4 0.1h0m0.6 0h0m1 0h0m0.8 0h0m13.9 0h0m4 0h0m7 0h0m0.1 0h0m0.4 0h0m-32.7 0.1h0m6.6 0h0m20 0h0m3.8 0h0m4.2 0h0m0.8 0h0m3.1 0h0m-32 0.1h0m33.4 0h0m-35.4 0.1h0m2 0h0m21.6 0h0m8.6 0h0m-27.1 0.2h0m12.7 0h0m1.5 0h0m1.1 0h0m2.4 0h0m0.1 0h0m12.1 0h0m-36.7 0.1h0m18.6 0h0m0.5 0h0m0.9 0h0m2.2 0h0m2.6 0h0m3.7 0h0m1 0h0m-29.5 0.1h0m37.1 0h0m-38.3 0.1h0m2 0h0m2.6 0h0m17.5 0h0m3.2 0h0m3.7 0h0m5.3 0.1h0m2.3 0h0m0.5 0h0m-36.3 0.1h0m2 0h0m11.2 0h0m5.4 0h0m0.3 0h0m17.6 0h0m1.2 0h0m-33.5 0.1h0m19.9 0h0m4.9 0h0m3 0h0m0.9 0h0m-14.3 0.1h0m4.1 0h0m3.5 0h0m0.2 0h0m4.1 0h0m6.5 0h0m-38.8 0.1h0m21.8 0h0m2.2 0h0m0.3 0h0m0.1 0h0m11.7 0h0m2.9 0h0m-36.4 0.1h0m1.5 0h0m17.4 0h0m3.2 0h0m-20.2 0.1h0m28.8 0h0m3.9 0h0m-33.6 0.1h0m18.3 0h0m3.8 0h0m3.9 0h0m0.1 0h0m0.8 0h0m-27.3 0.1h0m22.3 0h0m8.3 0h0m-29.9 0.1h0m3.2 0h0m2.3 0h0m15.4 0h0m-24.4 0.1h0m26.2 0h0m8 0h0m0.2 0h0m-30.3 0.1h0m0.7 0h0m20.6 0h0m0.4 0h0m-29.1 0.1h0m2.7 0h0m11.3 0h0m12.3 0h0m1.5 0h0m5 0h0m4.5 0h0m4.1 0h0m-28.4 0.1h0m3.8 0h0m4 0h0m17.8 0h0m-35 0.1h0m4.8 0h0m0.8 0h0m11 0h0m0.6 0h0m7 0h0m-4.7 0.1h0m12.3 0h0m4.1 0h0m-34.1 0.1h0m2.8 0h0m15 0h0m14.1 0h0m3.2 0h0m1.3 0h0m-36.3 0.1h0m1 0h0m2.9 0h0m13.2 0h0m16.8 0h0m-34 0.1h0m4.7 0h0m15.3 0h0m1.2 0h0m-21.4 0.1h0m2.8 0h0m17.7 0h0m0.5 0h0m16.9 0h0m-9.8 0.1h0m-11.5 0.1h0m0.3 0h0m15.6 0h0m1.6 0h0m-39 0.1h0m6.5 0h0m0.8 0h0m21.2 0h0m10.2 0h0m2.9 0h0m-34.2 0.1h0m3.6 0h0m9.6 0h0m21 0h0m-38.8 0.1h0m4.6 0h0m18.9 0h0m15.5 0h0m-39.7 0.1h0m2.2 0h0m3.9 0h0m2.6 0h0m0.5 0h0m18.3 0h0m1.2 0h0m-27.9 0.1h0m23.6 0h0m13.6 0h0m1.7 0h0m1.8 0h0m-39 0.1h0m17.6 0h0m0.4 0h0m-19.5 0.1h0m5.4 0h0m13.3 0h0m14.8 0h0m5.9 0h0m-33 0.1h0m0.3 0h0m18.6 0h0m13 0h0m1.5 0h0m-37.8 0.1h0m20.1 0h0m1.3 0h0m0.7 0h0m2.1 0h0m3.8 0h0m9.6 0h0m-40 0.1h0m1 0h0m18.2 0h0m3.8 0h0m0.9 0h0m16 0h0m-24.9 0.1h0m5.5 0h0m14.2 0h0m-29.3 0.1h0m0.9 0h0m-0.2 0.1h0m0.8 0h0m12.5 0h0m2.6 0h0m-18.7 0.1h0m1.2 0h0m4.9 0h0m19.8 0h0m2.2 0h0m-28.1 0.2h0m16.8 0h0m14.2 0h0m2.4 0h0m3.3 0h0m-12.7 0.1h0m-8 0.1h0m3 0h0m2.3 0h0m0.9 0h0m13.4 0h0m-15.5 0.1h0m14.9 0h0m0.9 0h0m2.2 0h0m-34 0.1h0m1.6 0h0m12.7 0h0m-16.7 0.1h0m12 0h0m18.6 0h0m1.5 0h0m1.6 0h0m1.3 0h0m-37.1 0.1h0m2.5 0h0m2.2 0h0m32.8 0h0m-16 0.1h0m3.1 0h0m0.8 0h0m0.7 0h0m0.9 0h0m8.9 0h0m-10.8 0.2h0m6.7 0h0m5.1 0h0m-39 0.1h0m3.3 0h0m0.1 0h0m35.6 0h0m-39.9 0.1h0m26 0h0m-24.4 0.1h0m1.2 0h0m30.6 0h0m2.2 0h0m4.9 0h0m0.1 0h0m-39.4 0.1h0m1.6 0h0m7 0h0m4.1 0h0m11.2 0h0m3.9 0h0m-26.4 0.1h0m1.1 0h0m3.4 0h0m1.4 0h0m0.6 0h0m28.2 0h0m1 0h0m0.1 0h0m-36.4 0.1h0m3.4 0h0m12.6 0h0m2.8 0h0m2.3 0h0m1.5 0h0m-18.2 0.1h0m29.9 0h0m1.8 0h0m-38.7 0.1h0m0.3 0h0m28.1 0h0m9.1 0h0m2.8 0h0m-38.4 0.1h0m2.6 0h0m0.6 0h0m16.2 0h0m1.2 0h0m0.2 0h0m4.1 0h0m9.4 0h0m2.8 0h0m-39.8 0.1h0m4.1 0h0m2.2 0h0m1.6 0h0m11.8 0h0m19.9 0h0m-31.8 0.1h0m0.7 0h0m0.1 0h0m7.8 0h0m4.1 0h0m5 0h0m13.6 0h0m-37.2 0.1h0m6.4 0h0m1.5 0h0m14.5 0h0m3.2 0h0m10.6 0h0m-37.3 0.1h0m4.2 0h0m22.2 0h0m1.9 0h0m-22.4 0.1h0m14.5 0h0m21 0h0m-18 0.1h0m9.9 0h0m2.7 0h0m1.6 0h0m1.9 0h0m0.8 0h0m-20.2 0.1h0m14.2 0h0m-23.7 0.1h0m7.8 0h0m8.3 0h0m-6.1 0.1h0m2.8 0h0m-3.8 0.1h0m6.8 0h0m12.1 0h0m-35.1 0.1h0m3 0h0m11.6 0h0m3 0h0m8.5 0h0m-27.1 0.1h0m18.1 0h0m3.9 0.1h0m4.3 0h0m7.2 0h0m2.1 0h0m1.4 0h0m0 0h0m-33.3 0.1h0m16.4 0h0m1.3 0h0m8.1 0h0m4.4 0h0m1.5 0h0m-29.3 0.1h0m11.9 0h0m1 0h0m1.7 0h0m7.2 0h0m1.2 0h0m1 0h0m-33.1 0.1h0m7.6 0h0m3.3 0h0m7.7 0h0m1.5 0h0m3.7 0h0m15.3 0h0m-13.2 0.1h0m14.6 0h0m1.9 0h0m-38.1 0.1h0m0.8 0h0m4.3 0h0m2.2 0h0m19.4 0h0m2.4 0h0m3.8 0h0m3.4 0h0m-35.5 0.1h0m18.3 0h0m5.4 0h0m-22.7 0.1h0m3.3 0h0m1.5 0h0m1.8 0h0m26.7 0h0m0.2 0h0m-40.7 0.1h0m3.1 0h0m6.1 0h0m11.7 0h0m5.9 0h0m4.5 0h0m-29.8 0.1h0m2.6 0h0m1 0h0m-2.6 0.1h0m7.2 0h0m11.7 0h0m15.4 0h0m4.9 0h0m-37.2 0.1h0m1.5 0h0m10.6 0h0m18.5 0h0m5.7 0h0m-30.3 0.1h0m12.6 0h0m2.5 0h0m11.5 0h0m3.2 0h0m-29.1 0.1h0m10.2 0h0m8.1 0h0m4.7 0h0m-27.2 0.1h0m2.3 0h0m16.2 0h0m6.3 0h0m7.1 0h0m-37 0.1h0m20.8 0h0m1.3 0h0m3.9 0h0m-19.5 0.1h0m13.8 0h0m16.8 0h0m-25 0.1h0m9.3 0h0m7.6 0h0m9 0h0m-37.3 0.1h0m6.1 0h0m2.2 0h0m19.4 0h0m7.6 0h0m-35.1 0.1h0m3 0h0m0.9 0h0m16.9 0h0m5.7 0h0m-29.4 0.1h0m7.7 0h0m13.6 0h0m4 0h0m0 0h0m0.1 0h0m3.1 0h0m2 0h0m6.2 0h0m3.1 0h0m-35.2 0.1h0m3.6 0h0m1.1 0h0m13.1 0h0m2.1 0h0m15.6 0h0m-31.7 0.1h0m13.2 0h0m-14.2 0.1h0m2.7 0h0m0.3 0h0m16.1 0h0m5.9 0h0m2.2 0h0m4 0h0m-35.8 0.1h0m23.1 0h0m10.1 0h0m-23.1 0.1h0m12 0h0m-23.6 0.1h0m4.8 0h0m5.8 0h0m13.2 0h0m7 0h0m0.2 0h0m-26.2 0.1h0m1.2 0h0m18.6 0h0m6.7 0h0m2.4 0h0m-28.6 0.1h0m11.7 0h0m18.7 0h0m1.1 0h0m2.6 0h0m-38.8 0.1h0m0.8 0h0m14.9 0h0m2.5 0h0m14.5 0h0m-32.1 0.1h0m16.8 0h0m10.1 0h0m8 0h0m1.8 0h0m-21.8 0.1h0m1 0h0m8.9 0h0m0.5 0h0m5.3 0h0m9.3 0h0m-38.7 0.1h0m3.6 0h0m9.5 0h0m2.9 0h0m3.3 0h0m3.6 0h0m4 0h0m-26.4 0.1h0m26.8 0h0m0.1 0h0m2.5 0h0m2.2 0h0m-34.5 0.1h0m9.4 0h0m4.5 0h0m0.6 0h0m10.7 0h0m10 0h0m0.9 0h0m-35.6 0.1h0m0.7 0h0m0.7 0h0m15.8 0h0m2.1 0h0m0.8 0h0m-20.4 0.1h0m19.1 0h0m6.4 0h0m0.3 0h0m0.4 0h0m3.2 0h0m-8.1 0.1h0m3.9 0h0m2.5 0h0m2.2 0h0m-30.3 0.1h0m1.9 0h0m0.3 0h0m5.3 0h0m21.2 0h0m11.6 0h0m-3.2 0.1h0m0.7 0h0m0.5 0h0m-21.6 0.1h0m6.4 0h0m5 0h0m3.5 0h0m1.1 0h0m-23.1 0.1h0m14.7 0h0m3 0h0m4.7 0h0m0.5 0h0m-32.3 0.1h0m3.7 0h0m3.1 0h0m12.3 0h0m1.7 0h0m1 0h0m-15.7 0.1h0m0.9 0h0m2.4 0h0m3.1 0h0m0 0h0m22.1 0h0m2.9 0h0m-36 0.1h0m12 0h0m2.9 0h0m10.8 0h0m4 0h0m-25.3 0.1h0m5.5 0h0m5.9 0h0m1.8 0h0m10.5 0h0m2.5 0h0m1.6 0h0m-34.4 0.1h0m2.8 0h0m2.7 0h0m30.2 0h0m1.8 0h0m2.7 0h0m-37.3 0.1h0m11.6 0h0m3.5 0h0m3.3 0h0m-17 0.1h0m2.6 0h0m16.5 0h0m7 0h0m5.8 0h0m-33.1 0.1h0m2.9 0h0m15.1 0h0m15 0h0m0.2 0h0m-33.5 0.1h0m3 0h0m2.5 0h0m15.6 0h0m0.5 0h0m7 0h0m1.9 0h0m-31.4 0.1h0m1.8 0h0m6.1 0h0m20 0h0m-1.8 0.1h0m4.3 0h0m-31.1 0.1h0m1.4 0h0m14.9 0h0m3.2 0h0m15.1 0h0m0 0h0m-31.4 0.1h0m3.1 0h0m7.9 0h0m5.1 0h0m-19 0.1h0m16.7 0h0m1.4 0h0m0.5 0h0m2.4 0h0m1.9 0h0m1.8 0h0m11.7 0h0m-34.1 0.1h0m14.7 0h0m3 0h0m2.8 0h0m8.2 0h0m-17.7 0.1h0m5.4 0h0m-6.8 0.1h0m2.5 0h0m-14.2 0.1h0m1.6 0h0m2.7 0h0m11.3 0h0m11 0h0m6.5 0h0m-32.3 0.1h0m5.8 0h0m8.4 0h0m17.6 0h0m-18.4 0.1h0m2.5 0h0m8.8 0h0m-26.5 0.1h0m8.6 0h0m0.4 0h0m9.2 0h0m4.1 0h0m-15.2 0.1h0m17.9 0h0m1 0h0m0 0h0m-24.3 0.1h0m0.9 0h0m16.7 0h0m0.7 0h0m0.9 0h0m11.2 0h0m-19.9 0.1h0m15 0h0m-24 0.1h0m1.2 0h0m28 0h0m3.9 0h0m-36.2 0.1h0m20.4 0h0m4.5 0h0m-8.5 0.1h0m4.8 0h0m-14.3 0.1h0m11.3 0h0m2 0h0m-14.4 0.1h0m4.6 0h0m4.2 0h0m7.6 0h0m1.1 0h0m3.4 0h0m-27.5 0.1h0m0.4 0h0m7 0h0m2.8 0h0m7.5 0h0m3 0h0m6 0h0m5.7 0h0m-28.4 0.1h0m16.1 0h0m2.4 0h0m2.6 0h0m5.4 0h0m-8.6 0.1h0m2.8 0h0m1.4 0h0m1.1 0h0m-18.9 0.1h0m13.8 0h0m-13.6 0.1h0m-7 0.1h0m0.2 0h0m20.8 0h0m-4.6 0.1h0m1.4 0h0m4.2 0h0m3.1 0h0m1.4 0h0m-18.8 0.1h0m3.7 0h0m7.6 0h0m2.7 0h0m-21.1 0.1h0m8.7 0h0m16.2 0h0m2.1 0h0m-28.7 0.2h0m7.7 0h0m8.3 0.1h0m6.8 0h0m-21.5 0.2h0m13.9 0h0m0.2 0h0m8 0h0m2.9 0h0m1.1 0h0m-5 0.1h0m7 0.1h0m-30.3 0.1h0m10.5 0h0m10.6 0.1h0m-19.8 0.1h0m0.5 0h0m24.2 0h0m-2.7 0.1h0m-20.6 0.1h0m23 0h0m0.7 0h0m0.2 0h0m-27.1 0.1h0m3.4 0h0m20.6 0h0m0.5 0h0m1.6 0h0m-23.1 0.1h0m15.3 0h0m0.9 0h0m4 0h0m-2.7 0.1h0m0.4 0h0m1.9 0h0m3 0h0m-15.3 0.1h0m0.5 0h0m7.2 0h0m0.6 0h0m1.1 0h0m-9.9 0.1h0m13.1 0h0m-6.1 0.1h0m3.1 0h0m2.8 0h0m2.7 0h0m2.2 0h0m-6.4 0.1h0m3.2 0h0m1.4 0h0m-15.3 0.1h0m9.9 0h0m2.6 0h0m3.1 0h0m0.8 0h0m-17.6 0.1h0m16.2 0h0m-21.2 0.1h0m3.7 0h0m17.6 0h0m-23.1 0.1h0m3.1 0h0m2.8 0h0m2.2 0h0m14.1 0h0m-1.7 0.1h0m-13.8 0.1h0m9.3 0h0m6.7 0h0m-4 0.1h0m3.2 0h0m-1.8 0.1h0m-19.7 0.1h0m8 0h0m0 0h0m8.6 0.1h0m0.6 0h0m-18.4 0.1h0m7.6 0h0m12.5 0h0m0.4 0h0m-17.1 0.1h0m4.7 0h0m0.8 0h0m-7.8 0.1h0m7.4 0.1h0m11.1 0h0m-20.2 0.1h0m-0.8 0.1h0m9.2 0.1h0m-7.3 0.1h0m5.8 0h0m17.2 0h0m-24.5 0.1h0m10.1 0.1h0m-9.5 0.1h0m22.2 0.2h0m2.2 0h0m-21.9 0.1h0m1.1 0h0m6 0.1h0m-1.4 0.4h0m-9 0.2h0m26.6 0h0m-26.5 0.1h0m8.9 0h0m-1.2 0.1h0m-8 0.1h0m7.8 0h0m16.2 0h0m-22.3 0.1h0m0.2 0.1h0m7.3 0h0m10 0h0m-9.3 0.1h0m-1.8 0.1h0m15.8 0h0m-16.8 0.1h0m0.1 0h0m3 0h0m-8 0.1h0m0.2 0h0m6.2 0h0m-7.8 0.2h0m2.4 0h0m0.5 0.3h0m4.4 0h0m0.1 0h0m14.9 0.1h0m-18.4 0.1h0m2.9 0h0m0.2 0h0m0.2 0.2h0m-4.5 0.1h0m5.4 0.1h0m-0.1 0.2h0m-7.3 0.7h0m-0.1 0.3h0m2.9 0.4h0m-2.7 0.3h0m1 0.3h0m-1.2 0.2h0m1.2 0h0m-0.7 0.1h0m0.2 0h0m5.7 0h0m-3.3 0.1h0m-2.7 0.3h0m7.2 0.1h0m-1.3 0.3h0m-6.5 0.3h0m0.3 0.8h0m4.5 0h0m2.1 0.2h0m-6.2 0.1h0m1.7 0h0m2.3 0.6h0m-2.9 0.2h0m2.2 0.7h0m0.4 1h0m2.1 0.1h0m0.6 0h0m-4.6 0.1h0m5.4 0h0m-0.3 0.1h0m-3 0.2h0m3 0.2h0m0.7 0.1h0m-0.1 0.2h0m-5.9 0.2h0m2.6 0.1h0m-1.4 0.1h0m0 0h0m4.7 0h0m-3.9 0.1h0m3.2 0h0m-0.3 0.2h0m-0.7 0.1h0m1.4 0.1h0m-4.8 0.1h0m0.8 0h0m3.1 0h0m-3.3 0.1h0m2.9 0h0m0.1 0h0m0.3 0h0m-2.2 0.1h0m0.9 0h0m2.4 0h0m1.4 0h0m-3.9 0.1h0m2.7 0h0m-0.1 0.1h0m-2.1 0.1h0m0.1 0h0m-3.6 0.1h0m3.2 0h0m0.2 0.1h0m-2.8 0.1h0m2.4 0h0m0.9 0.1h0m1.5 0h0m-4.9 0.1h0m1.4 0h0m0.3 0h0m0.4 0.2h0m1 0h0m-5.5 0.3h0m1.7 0.1h0m3.5 0h0m0 0h0m1 0h0m-0.1 0.2h0m-3.2 0.1h0m3.7 0h0m-0.2 0.2h0m-3.6 0.1h0m4.6 0.2h0m-5 0.2h0m2.7 0h0m-0.7 0.2h0m2.9 0h0m-3.3 0.2h0m-0.7 0.2h0m2.6 0.5h0" stroke="#6e73bd" stroke-width="0.7" stroke-linecap="square" stroke-opacity="0.7"/><path d="M196.8 275.8h0m-3.2 20.6h0m-1.1 0.6h0m0.8 0.8h0m-1.1 1h0m1.3 1.1h0m0.1 0.7h0m3.7 1.3h0m-4.6 0.1h0m2.6 0.5h0m-24.8 0.1h0m22.4 0.1h0m1.5 0.7h0m0.7 0.3h0m-2.5 0.2h0m2.7 0h0m0.4 0h0m1.8 0.1h0m-4.2 0.2h0m1.3 0.1h0m0.1 0.3h0m2.8 0h0m-5.2 0.1h0m0.5 0h0m1.5 0h0m-5 0.4h0m5.8 0.5h0m3.3 0.2h0m-7.6 0.1h0m4.4 0h0m-0.6 0.1h0m0.5 0h0m-2 0.2h0m0.1 0h0m-3.2 0.2h0m5.7 0h0m-28 0.1h0m21 0h0m10.4 0h0m0.4 0h0m-5.2 0.1h0m0.9 0.1h0m-1.3 0.1h0m-28.1 0.1h0m21.5 0h0m7.1 0.1h0m-26.8 0.1h0m26.2 0h0m7.2 0.2h0m-11.6 0.1h0m3.4 0h0m4.5 0.1h0m-2.8 0.2h0m0.2 0h0m1.7 0h0m-28.4 0.2h0m21.3 0.1h0m6.9 0h0m1.1 0h0m1.1 0h0m-5.1 0.1h0m0.1 0h0m2.8 0h0m0 0h0m1 0h0m-6.1 0.1h0m1.5 0h0m3.6 0h0m6.9 0h0m-5.8 0.1h0m-4.5 0.3h0m1.3 0h0m-24.5 0.1h0m23.5 0h0m-1.9 0.1h0m11.3 0h0m-11.8 0.1h0m1 0h0m0.7 0h0m2 0h0m0.8 0h0m1.2 0h0m0.2 0h0m2.2 0h0m1.7 0h0m-10 0.1h0m3.9 0h0m4.1 0h0m0.2 0h0m-1.6 0.1h0m-32.9 0.1h0m24.1 0h0m-20.5 0.1h0m21.1 0h0m1 0h0m3 0h0m0.8 0h0m0.5 0.1h0m7.4 0h0m-38.7 0.1h0m3.9 0h0m26.9 0h0m3.7 0h0m0.1 0h0m-29.6 0.1h0m27.6 0h0m2.9 0.1h0m-31.7 0.1h0m23 0h0m5.2 0h0m0.5 0h0m1.2 0.1h0m-1 0.1h0m3.1 0h0m-8.3 0.1h0m8 0h0m2.2 0h0m-9.8 0.1h0m9.2 0h0m-34.1 0.1h0m30.7 0h0m2.7 0h0m-11.3 0.1h0m6.4 0h0m0.3 0h0m4.1 0h0m-11.8 0.1h0m13.8 0h0m-3.9 0.1h0m2.4 0h0m-10.8 0.1h0m6.1 0h0m6.7 0h0m-31.8 0.1h0m21.5 0.1h0m1 0h0m0.2 0h0m0.7 0h0m2 0h0m0.6 0h0m1.3 0h0m-2.6 0.2h0m2.3 0h0m0.6 0.1h0m4.4 0h0m1.8 0h0m-12.4 0.1h0m6.2 0h0m-28 0.1h0m18 0h0m8.6 0h0m2.9 0h0m0.4 0h0m-8.5 0.1h0m6.7 0h0m1 0h0m3.7 0h0m-15.5 0.1h0m3.3 0h0m3.5 0.1h0m3.1 0h0m3.1 0h0m0.1 0h0m-10.3 0.1h0m5.1 0h0m4.7 0h0m-4 0.1h0m3.5 0h0m-9.4 0.1h0m2.1 0h0m1.5 0h0m-2.7 0.1h0m2.9 0h0m4.1 0h0m-1.3 0.1h0m-29.3 0.1h0m21.4 0.1h0m0.6 0h0m-1.3 0.1h0m1.5 0h0m3.2 0h0m1.4 0h0m0.7 0h0m5.1 0h0m1.9 0h0m-2.7 0.1h0m1.3 0h0m-9 0.2h0m2.4 0h0m5.1 0h0m3.1 0h0m-4.7 0.1h0m-27.7 0.1h0m19.2 0h0m1.6 0h0m-17.4 0.1h0m12.4 0h0m6.3 0h0m0.7 0.1h0m-4.8 0.1h0m7.9 0h0m-5.4 0.2h0m6.5 0h0m-2.2 0.1h0m1.4 0h0m0.4 0h0m0.5 0h0m3.3 0h0m-8.3 0.1h0m-22.5 0.1h0m22.1 0h0m4.4 0h0m-7.5 0.1h0m-5.6 0.1h0m6.1 0.1h0m1.1 0.3h0m-3.8 0.1h0m5.7 0.2h0m8.1 0h0m-32.4 0.1h0m32.1 0h0m-9.8 0.2h0m6.7 0h0m0.8 0h0m-1.3 0.2h0m1.9 0h0m0.1 0h0m0.5 0h0m4 0.1h0m-33.1 0.1h0m17.8 0h0m6 0h0m0.7 0h0m-26.6 0.1h0m25.5 0h0m1 0h0m2.9 0h0m1 0h0m0 0.1h0m-7.4 0.1h0m8.3 0h0m-10.4 0.1h0m1.5 0h0m8 0h0m2.7 0h0m-33.2 0.1h0m24 0h0m-8.1 0.1h0m2.1 0h0m10.5 0.1h0m-10.6 0.1h0m-2.1 0.1h0m1.8 0h0m4.1 0h0m-23.6 0.1h0m21.5 0h0m-1.3 0.1h0m-20.8 0.3h0m4 0.1h0m15 0h0m7.3 0h0m-23.6 0.4h0m-1.4 0.1h0m20.3 0h0m3.4 0.1h0m-1.4 0.1h0m0.1 0.1h0m-3.6 0.1h0m3 0h0m-20.5 0.1h0m1.1 0h0m0.3 0h0m19.4 0h0m-22.9 0.1h0m2 0h0m0.5 0h0m0.1 0h0m19.6 0.1h0m-2.1 0.1h0m3.2 0h0m-23.4 0.1h0m4.4 0.1h0m17.7 0h0m-3 0.1h0m-15.6 0.1h0m-0.5 0.1h0m17.4 0h0m1.4 0h0m1.5 0h0m0 0h0m-22.1 0.1h0m1.2 0.1h0m12.2 0.1h0m-13.3 0.1h0m0.5 0h0m0.3 0h0m20.8 0h0m-4.3 0.1h0m0.1 0h0m4.3 0h0m-21.3 0.1h0m22.2 0h0m-6.3 0.1h0m3.5 0h0m-19.2 0.2h0m2.1 0.1h0m0.1 0h0m17.8 0h0m2.3 0h0m-25.2 0.1h0m3.4 0h0m17.2 0h0m1.9 0h0m-16.1 0.1h0m16.7 0h0m-19.5 0.1h0m19.5 0h0m-0.9 0.1h0m-16.9 0.1h0m13.7 0h0m-16 0.2h0m0.3 0h0m0.7 0h0m0.7 0.1h0m-1 0.2h0m12.9 0h0m4.7 0h0m0.4 0.1h0m-18.5 0.1h0m-0.9 0.2h0m3.3 0h0m13.8 0h0m-2.4 0.1h0m-0.1 0.1h0m-14 0.2h0m0.4 0h0m-0.5 0.1h0m2.2 0h0m-2.9 0.1h0m0 0.1h0m-0.5 0.1h0m1.8 0h0m-1.7 0.1h0m4.3 0h0m-4.3 0.2h0m0.3 0.1h0m20.1 0h0m-17.3 0.1h0m1.5 0h0m-4 0.1h0m3.8 0h0m-3.3 0.1h0m1.6 0h0m-1.4 0.2h0m2.2 0h0m0.3 0h0m-2.9 0.2h0m2.3 0.1h0m-0.8 0.1h0m-4.4 0.2h0m6.6 0h0m-4 0.1h0m2.4 0.1h0m-6 0.1h0m4.6 0h0m-2.2 0.1h0m1.4 0h0m-3.5 0.1h0m5.3 0h0m1.4 0h0m-3.2 0.1h0m1 0h0m-1.7 0.2h0m-0.9 0.1h0m2.6 0h0m0.6 0h0m1.8 0h0m-0.8 0.2h0m-0.1 0.1h0m-1.2 0.1h0m2.1 0h0m0.4 0h0m-2.5 0.1h0m0.3 0h0m-3.6 0.1h0m5.7 0.1h0m-0.3 0.1h0m-4.5 0.1h0m-1.3 0.1h0m1.5 0h0m0.7 0h0m1.9 0h0m2 0h0m-5.5 0.1h0m4.3 0.1h0m-4 0.1h0m0.7 0.1h0m3 0h0m-1 0.3h0m-1.7 0.1h0m0.2 0.1h0m0.8 0h0m1.1 0.2h0m1.6 0h0m-5.5 0.1h0m1.9 0h0m0 0.1h0m0.8 0.1h0m2.3 0h0m-5.5 0.1h0m0.8 0.2h0m2.8 0.1h0m-1.6 0.1h0m1.7 0h0m-0.5 0.1h0m2.6 0h0m0.3 0h0m-3.8 0.1h0m4.5 0.1h0m-5.4 0.1h0m1.3 0h0m-0.1 0.3h0m1.7 0.3h0m-2.2 0.2h0m0.2 0h0m2.8 0.1h0m0.7 0h0m-5 0.1h0m3.8 0h0m-3 0.1h0m1.7 0h0m-3.2 0.1h0m1.7 0.2h0m-0.4 0.1h0m0.7 0h0m1.3 0.2h0m1.3 0.1h0m-0.2 0.3h0m0.3 0h0m-4.6 0.1h0m5 0.1h0m-2 0.1h0m-0.3 0.2h0m3.1 0h0m-1.8 0.1h0m0 0.1h0m0.5 0h0m-0.9 0.1h0m0.1 0h0m1.3 0h0m-3.3 0.1h0m2.1 0h0m-2.8 0.3h0m1.6 0h0m0.5 0.4h0m0.7 0h0m-2 0.1h0m3.9 0h0m-1.1 0.1h0m1.4 0h0m-1.2 0.1h0m0.5 0h0m-3.8 0.1h0m0.5 0.2h0m0.2 0h0m-1.1 0.1h0m2.2 0h0m-1.7 0.1h0m2.9 0h0m1.7 0h0m-3.8 0.1h0m0.7 0h0m0.7 0h0m-1.4 0.1h0m1.2 0h0m-1.5 0.1h0m-0.6 0.1h0m1.7 0h0m1 0h0m1.1 0h0m-1.8 0.1h0m1.6 0h0m-3.1 0.1h0m0.2 0h0m2 0h0m0.8 0.1h0m-0.3 0.1h0m-0.9 0.2h0m-0.7 0.1h0m-1.1 0.1h0m0.3 0.1h0m2.2 0.1h0m-2.4 0.1h0m2.5 0h0m-3.1 0.1h0m0.9 0.1h0m0 0.1h0m1.7 0h0m0.9 0h0m-1.6 0.1h0m0.3 0h0m-0.1 1.1h0m-1.9 0.1h0m2.5 0h0m1.1 0h0m-1.1 0.2h0m-1.7 0.1h0m3.7 0.1h0m-3.2 0.1h0m-0.9 0.1h0m3 0h0m-0.6 0.2h0m-1.9 0.1h0m2.5 0.2h0m1 0h0m-4.3 0.1h0m0.5 0h0m1.8 0.1h0m2.3 0h0m-2 0.1h0m1.8 0h0m-0.6 0.7h0m-1.4 0.4h0" stroke="#5a5fb0" stroke-width="0.7" stroke-linecap="square" stroke-opacity="1"/><path d="M194.1 305.1h0m0.2 0.5h0m1.4 1.3h0m-2 0.1h0m3.4 0.5h0m-5.6 0.2h0m5.7 0.1h0m-2.8 0.3h0m-0.8 0.5h0m3.2 0h0m-7.7 0.7h0m8.6 0h0m-13.1 0.1h0m9.4 0h0m-3.2 0.1h0m8.2 0h0m-3.3 0.1h0m-5 0.1h0m2.8 0h0m-2.7 0.3h0m1.4 0.1h0m5.6 0.1h0m-3 0.1h0m-1.9 0.2h0m1.5 0.1h0m0.6 0.2h0m2.9 0h0m-5.8 0.1h0m3.1 0h0m-0.4 0.1h0m2.7 0h0m-7.2 0.5h0m3 0.2h0m-0.5 0.4h0m0.3 0h0m-0.8 0.3h0m0.1 0.1h0m4.6 0.5h0m1.6 0.1h0m-5 0.1h0m-2 0.4h0m3.2 0h0m0.3 0h0m1 0.1h0m-0.4 0.1h0m0.4 0.3h0m-0.6 0.1h0m-10.8 0.1h0m11.7 0.3h0m-9 0.8h0m2.8 1.3h0m-22.9 0.3h0m16.3 0.2h0m2.2 1.7h0m-20.8 0.6h0m0.2 1.3h0m0.7 0h0m1.3 0.1h0m17.6 0h0m-19.2 0.1h0m1.3 0.3h0m-2.1 0.1h0m2.3 0h0m0.6 0.1h0m-0.7 0.1h0m-1 0.1h0m-0.2 0.1h0m-0.3 0.1h0m1.7 0.2h0m-1.8 0.1h0m1.9 0h0m0.2 0h0m-1.1 0.4h0m-1.7 0.1h0m1.7 0h0m0.9 0h0m-2.9 0.1h0m0.1 0.1h0m1.5 0.5h0m1.2 0h0m0.5 0.1h0m-4.5 0.2h0m5.1 0h0m0.2 0h0m-3.9 0.4h0m-0.5 0.1h0m2.2 0h0m0.6 0h0m0.1 0h0m-1.9 0.5h0m-0.4 0.1h0m0.4 0h0m2.8 0h0m-1.9 0.1h0m1.3 0h0m-0.5 0.3h0m-0.2 0.1h0m-1.3 0.2h0m-0.6 0.2h0m0.8 0h0m0.4 0.1h0m-0.7 0.2h0m1.1 0h0m0 0.1h0m-1.5 0.3h0m2.8 0.2h0m-1.3 0.2h0m0.8 0.1h0m-2.2 0.2h0m1.8 0.3h0m0.5 0.1h0m0.5 0.1h0m0.1 0h0m-3.7 0.1h0m1 0.4h0m1.2 0.1h0m1.2 0h0m-1.5 0.1h0m-0.6 0.1h0m1.8 0h0m0.9 0h0m-2.2 0.2h0m1.5 0.1h0m-0.9 0.1h0m0.6 0.3h0m-2.3 0.1h0m2 0.1h0m0.3 0h0m-0.8 0.2h0m-2.7 0.3h0m3.9 0.1h0m-2.1 0.3h0m0 0.1h0m0.4 0h0m0.2 0h0m0.6 0h0m0.7 0h0m-1.6 0.1h0m-0.1 0.1h0m0.9 0h0m-1.2 0.1h0m1.1 0h0m0.6 0h0m-1.9 0.1h0m2.4 0h0m-2.8 0.1h0m0.5 0h0m-1.4 0.1h0m1 0h0m1.2 0.1h0m0.5 0h0m1.1 0h0m-2.4 0.1h0m1.8 0h0m-2.1 0.1h0m3.3 0h0m-3.4 0.2h0m0.5 0h0m0.6 0h0m0.8 0.1h0m-1.7 0.4h0m0.1 0h0m1.2 0.1h0m-0.6 0.2h0m1.5 0h0m-2.5 0.2h0m1.8 0h0m0.7 0h0m0.1 0.1h0m-1.9 0.1h0m0.2 0.1h0m-1.4 0.1h0m3.3 0h0m-1.6 0.1h0m1.4 0h0m0.1 0.1h0m-1.7 0.1h0m0.8 0h0m-0.8 0.1h0m0.7 0h0m0.4 0h0m0.7 0.3h0m-1.1 0.1h0m0.9 0h0m-0.3 0.1h0m0.1 0h0m0.3 0h0m-0.6 0.1h0m-1.2 0.1h0m0.4 0h0m0.9 1.3h0m-1.8 0.1h0m1.7 0h0m0.4 0h0m-0.3 0.9h0" stroke="#474ca4" stroke-width="0.7" stroke-linecap="square" stroke-opacity="1"/><path d="M166.9 331.8h0" stroke="#000" stroke-width="0.7" stroke-linecap="square" stroke-opacity="1"/></g><g clip-path="url(#c1)" filter="url(#bl35)"><path d="M166.3 306 L162.3 331 L163.5 338 L169.0 338 L170.3 331 Z" fill="#a9c94e" opacity="0.9"/><path d="M166.3 314 L163.8 332 L165.0 335 L167.7 335 L168.8 332 Z" fill="#e6d83a"/><path d="M166.3 324 L164.8 332 L167.8 332 Z" fill="#f0a020"/><circle cx="166.1" cy="331" r="1.1" fill="#d82020"/></g><rect x="23.5" y="250.5" width="100" height="99" fill="none" stroke="#1a1a1a" stroke-width="1.2"/><rect x="131.5" y="250.5" width="101" height="99" fill="none" stroke="#1a1a1a" stroke-width="1.2"/><rect x="26.4" y="252.2" width="41.199999999999996" height="79.0" fill="none" stroke="#a9479b" stroke-width="1.5"/><rect x="69.3" y="252.2" width="49.0" height="79.0" fill="none" stroke="#86bd40" stroke-width="1.5"/><rect x="26.8" y="333.1" width="44.8" height="14.0" fill="none" stroke="#5a7fd2" stroke-width="1.4"/><rect x="134.2" y="252.2" width="41.39999999999999" height="79.0" fill="none" stroke="#a9479b" stroke-width="1.5"/><rect x="177.1" y="252.2" width="50.0" height="79.0" fill="none" stroke="#86bd40" stroke-width="1.5"/><rect x="134.6" y="333.1" width="44.8" height="14.0" fill="none" stroke="#5a7fd2" stroke-width="1.4"/><text x="29.0" y="266.4" font-size="9.4" stroke="#a9479b" stroke-width="0.12" fill="#a9479b" textLength="16.2" lengthAdjust="spacingAndGlyphs">64.5</text><text x="91.0" y="266.4" font-size="9.4" stroke="#86bd40" stroke-width="0.12" fill="#86bd40" textLength="16.2" lengthAdjust="spacingAndGlyphs">18.2</text><text x="28.2" y="345.4" font-size="9.4" stroke="#5a7fd2" stroke-width="0.12" fill="#5a7fd2" textLength="16.0" lengthAdjust="spacingAndGlyphs">14.6</text><text x="137.0" y="266.2" font-size="9.4" stroke="#a9479b" stroke-width="0.12" fill="#a9479b" textLength="16.3" lengthAdjust="spacingAndGlyphs">67.7</text><text x="198.0" y="266.2" font-size="9.4" stroke="#86bd40" stroke-width="0.12" fill="#86bd40" textLength="16.5" lengthAdjust="spacingAndGlyphs">19.2</text><text x="137.0" y="345.4" font-size="9.4" stroke="#5a7fd2" stroke-width="0.12" fill="#5a7fd2" textLength="15.8" lengthAdjust="spacingAndGlyphs">10.8</text><text x="249.2" y="235.3" font-size="12.6" fill="#000" font-weight="bold">D</text><line x1="285.5" y1="248.0" x2="285.5" y2="342.4" stroke="#231f20" stroke-width="1.0"/><line x1="282.3" y1="341.5" x2="365.5" y2="341.5" stroke="#231f20" stroke-width="1.0"/><line x1="282.3" y1="341.5" x2="285.3" y2="341.5" stroke="#231f20" stroke-width="1.0"/><text x="279.6" y="344.9" font-size="8.9" stroke="#231f20" stroke-width="0.12" text-anchor="end">0</text><line x1="282.3" y1="319.5" x2="285.3" y2="319.5" stroke="#231f20" stroke-width="1.0"/><text x="279.6" y="322.15" font-size="8.9" stroke="#231f20" stroke-width="0.12" text-anchor="end">20</text><line x1="282.3" y1="296.5" x2="285.3" y2="296.5" stroke="#231f20" stroke-width="1.0"/><text x="279.6" y="299.4" font-size="8.9" stroke="#231f20" stroke-width="0.12" text-anchor="end">40</text><line x1="282.3" y1="273.5" x2="285.3" y2="273.5" stroke="#231f20" stroke-width="1.0"/><text x="279.6" y="276.65" font-size="8.9" stroke="#231f20" stroke-width="0.12" text-anchor="end">60</text><line x1="282.3" y1="250.5" x2="285.3" y2="250.5" stroke="#231f20" stroke-width="1.0"/><text x="279.6" y="253.89999999999998" font-size="8.9" stroke="#231f20" stroke-width="0.12" text-anchor="end">80</text><rect x="288.8" y="328.25" width="8.5" height="13.649999999999977" fill="#2e4b82"/><line x1="293.5" y1="325.065" x2="293.5" y2="331.32124999999996" stroke="#111" stroke-width="0.9"/><line x1="291.35" y1="325.5" x2="294.75" y2="325.5" stroke="#111" stroke-width="0.9"/><line x1="291.35" y1="331.5" x2="294.75" y2="331.5" stroke="#111" stroke-width="0.9"/><rect x="299.3" y="323.7" width="8.699999999999989" height="18.19999999999999" fill="#a6002d"/><line x1="303.5" y1="310.84625" x2="303.5" y2="336.66749999999996" stroke="#111" stroke-width="0.9"/><line x1="301.95" y1="310.5" x2="305.34999999999997" y2="310.5" stroke="#111" stroke-width="0.9"/><line x1="301.95" y1="336.5" x2="305.34999999999997" y2="336.5" stroke="#111" stroke-width="0.9"/><rect x="314.9" y="263.98125" width="9.0" height="77.91874999999999" fill="#2e4b82"/><line x1="319.5" y1="260.22749999999996" x2="319.5" y2="267.62125" stroke="#111" stroke-width="0.9"/><line x1="317.7" y1="260.5" x2="321.09999999999997" y2="260.5" stroke="#111" stroke-width="0.9"/><line x1="317.7" y1="267.5" x2="321.09999999999997" y2="267.5" stroke="#111" stroke-width="0.9"/><rect x="326.2" y="267.9625" width="8.800000000000011" height="73.9375" fill="#a6002d"/><line x1="330.5" y1="256.24625" x2="330.5" y2="279.67875" stroke="#111" stroke-width="0.9"/><line x1="328.90000000000003" y1="256.5" x2="332.3" y2="256.5" stroke="#111" stroke-width="0.9"/><line x1="328.90000000000003" y1="279.5" x2="332.3" y2="279.5" stroke="#111" stroke-width="0.9"/><rect x="341.8" y="323.7" width="8.5" height="18.19999999999999" fill="#2e4b82"/><line x1="346.5" y1="321.42499999999995" x2="346.5" y2="325.97499999999997" stroke="#111" stroke-width="0.9"/><line x1="344.35" y1="321.5" x2="347.75" y2="321.5" stroke="#111" stroke-width="0.9"/><line x1="344.35" y1="325.5" x2="347.75" y2="325.5" stroke="#111" stroke-width="0.9"/><rect x="352.5" y="324.8375" width="8.800000000000011" height="17.0625" fill="#a6002d"/><line x1="356.5" y1="320.28749999999997" x2="356.5" y2="328.9325" stroke="#111" stroke-width="0.9"/><line x1="355.2" y1="320.5" x2="358.59999999999997" y2="320.5" stroke="#111" stroke-width="0.9"/><line x1="355.2" y1="328.5" x2="358.59999999999997" y2="328.5" stroke="#111" stroke-width="0.9"/><text x="262.5" y="294.9" font-size="10.8" stroke="#231f20" stroke-width="0.12" text-anchor="middle" textLength="60.5" lengthAdjust="spacingAndGlyphs" transform="rotate(-90 262.5 294.9)">% of c-Kit<tspan font-size="7.5" dy="-4">+</tspan><tspan dy="4"> cells</tspan></text><text x="298.5" y="353.4" font-size="9.5" stroke="#6f86cc" stroke-width="0.12" text-anchor="middle" fill="#6f86cc">G<tspan font-size="6.5" dy="2.5">0</tspan></text><text x="324.5" y="353.4" font-size="9.5" stroke="#a94f9f" stroke-width="0.12" text-anchor="middle" fill="#a94f9f">G<tspan font-size="6.5" dy="2.5">1</tspan></text><text x="351.2" y="353.4" font-size="9.5" stroke="#86b24a" stroke-width="0.12" text-anchor="middle" fill="#86b24a">S/G<tspan font-size="6.5" dy="2.5">2</tspan><tspan dy="-2.5">/</tspan></text><text x="351.6" y="364.8" font-size="9.5" stroke="#86b24a" stroke-width="0.12" text-anchor="middle" fill="#86b24a">M</text><text x="382.3" y="235.4" font-size="12.6" fill="#000" font-weight="bold">E</text><line x1="423.5" y1="248.2" x2="423.5" y2="342.5" stroke="#231f20" stroke-width="1.0"/><line x1="420.3" y1="342.5" x2="503.5" y2="342.5" stroke="#231f20" stroke-width="1.0"/><line x1="420.3" y1="342.5" x2="423.3" y2="342.5" stroke="#231f20" stroke-width="1.0"/><text x="417.6" y="345.0" font-size="8.9" stroke="#231f20" stroke-width="0.12" text-anchor="end">0</text><line x1="420.3" y1="323.5" x2="423.3" y2="323.5" stroke="#231f20" stroke-width="1.0"/><text x="417.6" y="326.8" font-size="8.9" stroke="#231f20" stroke-width="0.12" text-anchor="end">50</text><line x1="420.3" y1="305.5" x2="423.3" y2="305.5" stroke="#231f20" stroke-width="1.0"/><text x="417.6" y="308.6" font-size="8.9" stroke="#231f20" stroke-width="0.12" text-anchor="end">100</text><line x1="420.3" y1="287.5" x2="423.3" y2="287.5" stroke="#231f20" stroke-width="1.0"/><text x="417.6" y="290.4" font-size="8.9" stroke="#231f20" stroke-width="0.12" text-anchor="end">150</text><line x1="420.3" y1="269.5" x2="423.3" y2="269.5" stroke="#231f20" stroke-width="1.0"/><text x="417.6" y="272.2" font-size="8.9" stroke="#231f20" stroke-width="0.12" text-anchor="end">200</text><line x1="420.3" y1="251.5" x2="423.3" y2="251.5" stroke="#231f20" stroke-width="1.0"/><text x="417.6" y="254.0" font-size="8.9" stroke="#231f20" stroke-width="0.12" text-anchor="end">250</text><rect x="426.8" y="315.064" width="8.899999999999977" height="26.93599999999998" fill="#2e4b82"/><line x1="431.5" y1="314.51800000000003" x2="431.5" y2="315.61" stroke="#111" stroke-width="0.9"/><line x1="429.55" y1="314.5" x2="432.95" y2="314.5" stroke="#111" stroke-width="0.9"/><line x1="429.55" y1="315.5" x2="432.95" y2="315.5" stroke="#111" stroke-width="0.9"/><rect x="437.4" y="312.152" width="9.300000000000011" height="29.848000000000013" fill="#a6002d"/><line x1="442.5" y1="303.598" x2="442.5" y2="321.3976" stroke="#111" stroke-width="0.9"/><line x1="440.34999999999997" y1="303.5" x2="443.74999999999994" y2="303.5" stroke="#111" stroke-width="0.9"/><line x1="440.34999999999997" y1="321.5" x2="443.74999999999994" y2="321.5" stroke="#111" stroke-width="0.9"/><rect x="453.6" y="323.8728" width="8.599999999999966" height="18.127200000000016" fill="#2e4b82"/><line x1="457.5" y1="322.708" x2="457.5" y2="324.892" stroke="#111" stroke-width="0.9"/><line x1="456.2" y1="322.5" x2="459.59999999999997" y2="322.5" stroke="#111" stroke-width="0.9"/><line x1="456.2" y1="324.5" x2="459.59999999999997" y2="324.5" stroke="#111" stroke-width="0.9"/><rect x="464.2" y="267.016" width="9.199999999999989" height="74.98399999999998" fill="#a6002d"/><line x1="468.5" y1="262.6844" x2="468.5" y2="271.3112" stroke="#111" stroke-width="0.9"/><line x1="467.09999999999997" y1="262.5" x2="470.49999999999994" y2="262.5" stroke="#111" stroke-width="0.9"/><line x1="467.09999999999997" y1="271.5" x2="470.49999999999994" y2="271.5" stroke="#111" stroke-width="0.9"/><rect x="491.0" y="302.1056" width="8.699999999999989" height="39.89440000000002" fill="#a6002d"/><line x1="495.5" y1="292.89639999999997" x2="495.5" y2="311.606" stroke="#111" stroke-width="0.9"/><line x1="493.65000000000003" y1="292.5" x2="497.05" y2="292.5" stroke="#111" stroke-width="0.9"/><line x1="493.65000000000003" y1="311.5" x2="497.05" y2="311.5" stroke="#111" stroke-width="0.9"/><line x1="451.0" y1="258.5" x2="474.8" y2="258.5" stroke="#1a1a1a" stroke-width="1.0"/><text x="462.7" y="260.6" font-size="10" text-anchor="middle" fill="#1a1a1a" font-weight="bold" textLength="15.2" lengthAdjust="spacingAndGlyphs">****</text><text x="395.6" y="294.2" font-size="10.8" stroke="#231f20" stroke-width="0.12" text-anchor="middle" textLength="64" lengthAdjust="spacingAndGlyphs" transform="rotate(-90 395.6 294.2)">CFU / 1x10<tspan font-size="7.5" dy="-4">4</tspan><tspan dy="4"> cells</tspan></text><text x="436.3" y="352.8" font-size="9.8" stroke="#231f20" stroke-width="0.12" text-anchor="middle">1<tspan font-size="7" dy="-3.8">st</tspan></text><text x="462.0" y="352.8" font-size="9.8" stroke="#231f20" stroke-width="0.12" text-anchor="middle">2<tspan font-size="7" dy="-3.8">nd</tspan></text><text x="488.2" y="352.8" font-size="9.8" stroke="#231f20" stroke-width="0.12" text-anchor="middle">3<tspan font-size="7" dy="-3.8">rd</tspan></text><line x1="423.3" y1="359.5" x2="505.4" y2="359.5" stroke="#231f20" stroke-width="0.9"/><text x="464.0" y="370.0" font-size="9.5" stroke="#231f20" stroke-width="0.12" text-anchor="middle">Plating</text><text x="7.8" y="392.7" font-size="12.6" fill="#000" font-weight="bold">F</text><line x1="45.5" y1="403.5" x2="45.5" y2="504.3" stroke="#231f20" stroke-width="1.0"/><line x1="42.8" y1="503.5" x2="153.8" y2="503.5" stroke="#231f20" stroke-width="1.0"/><line x1="42.8" y1="503.5" x2="45.8" y2="503.5" stroke="#231f20" stroke-width="1.0"/><text x="40.2" y="506.8" font-size="8.9" stroke="#231f20" stroke-width="0.12" text-anchor="end">0</text><line x1="42.8" y1="487.5" x2="45.8" y2="487.5" stroke="#231f20" stroke-width="1.0"/><text x="40.2" y="490.1" font-size="8.9" stroke="#231f20" stroke-width="0.12" text-anchor="end">20</text><line x1="42.8" y1="470.5" x2="45.8" y2="470.5" stroke="#231f20" stroke-width="1.0"/><text x="40.2" y="473.40000000000003" font-size="8.9" stroke="#231f20" stroke-width="0.12" text-anchor="end">40</text><line x1="42.8" y1="453.5" x2="45.8" y2="453.5" stroke="#231f20" stroke-width="1.0"/><text x="40.2" y="456.70000000000005" font-size="8.9" stroke="#231f20" stroke-width="0.12" text-anchor="end">60</text><line x1="42.8" y1="437.5" x2="45.8" y2="437.5" stroke="#231f20" stroke-width="1.0"/><text x="40.2" y="440.0" font-size="8.9" stroke="#231f20" stroke-width="0.12" text-anchor="end">80</text><line x1="42.8" y1="420.5" x2="45.8" y2="420.5" stroke="#231f20" stroke-width="1.0"/><text x="40.2" y="423.3" font-size="8.9" stroke="#231f20" stroke-width="0.12" text-anchor="end">100</text><rect x="48.1" y="420.3" width="13.0" height="83.5" fill="#5b9bd5"/><rect x="48.1" y="438.67" width="13.0" height="65.13" fill="#9a9a9a"/><rect x="48.1" y="466.225" width="13.0" height="37.574999999999996" fill="#000"/><line x1="54.5" y1="466.225" x2="54.5" y2="455.37" stroke="#111" stroke-width="0.9"/><line x1="52.4" y1="455.5" x2="56.800000000000004" y2="455.5" stroke="#111" stroke-width="0.9"/><line x1="54.5" y1="438.67" x2="54.5" y2="438.2525" stroke="#111" stroke-width="0.9"/><line x1="52.4" y1="438.5" x2="56.800000000000004" y2="438.5" stroke="#111" stroke-width="0.9"/><line x1="54.5" y1="420.3" x2="54.5" y2="408.61" stroke="#111" stroke-width="0.9"/><line x1="52.4" y1="408.5" x2="56.800000000000004" y2="408.5" stroke="#111" stroke-width="0.9"/><rect x="66.3" y="420.3" width="12.799999999999997" height="83.5" fill="#5b9bd5"/><rect x="66.3" y="421.97" width="12.799999999999997" height="81.83" fill="#9a9a9a"/><rect x="66.3" y="444.9325" width="12.799999999999997" height="58.8675" fill="#000"/><line x1="72.5" y1="444.9325" x2="72.5" y2="429.0675" stroke="#111" stroke-width="0.9"/><line x1="70.49999999999999" y1="429.5" x2="74.89999999999999" y2="429.5" stroke="#111" stroke-width="0.9"/><line x1="72.5" y1="421.97" x2="72.5" y2="418.63" stroke="#111" stroke-width="0.9"/><line x1="70.49999999999999" y1="418.5" x2="74.89999999999999" y2="418.5" stroke="#111" stroke-width="0.9"/><line x1="72.5" y1="420.3" x2="72.5" y2="407.3575" stroke="#111" stroke-width="0.9"/><line x1="70.49999999999999" y1="407.5" x2="74.89999999999999" y2="407.5" stroke="#111" stroke-width="0.9"/><rect x="102.5" y="420.3" width="12.299999999999997" height="83.5" fill="#5b9bd5"/><rect x="102.5" y="450.77750000000003" width="12.299999999999997" height="53.0225" fill="#9a9a9a"/><rect x="102.5" y="478.75" width="12.299999999999997" height="25.049999999999997" fill="#000"/><line x1="108.5" y1="478.75" x2="108.5" y2="471.65250000000003" stroke="#111" stroke-width="0.9"/><line x1="106.45" y1="471.5" x2="110.85000000000001" y2="471.5" stroke="#111" stroke-width="0.9"/><line x1="108.5" y1="450.77750000000003" x2="108.5" y2="448.27250000000004" stroke="#111" stroke-width="0.9"/><line x1="106.45" y1="448.5" x2="110.85000000000001" y2="448.5" stroke="#111" stroke-width="0.9"/><line x1="108.5" y1="420.3" x2="108.5" y2="409.8625" stroke="#111" stroke-width="0.9"/><line x1="106.45" y1="409.5" x2="110.85000000000001" y2="409.5" stroke="#111" stroke-width="0.9"/><rect x="120.6" y="420.3" width="13.200000000000017" height="83.5" fill="#5b9bd5"/><rect x="120.6" y="449.1075" width="13.200000000000017" height="54.692499999999995" fill="#9a9a9a"/><rect x="120.6" y="475.8275" width="13.200000000000017" height="27.9725" fill="#000"/><line x1="127.5" y1="475.8275" x2="127.5" y2="472.4875" stroke="#111" stroke-width="0.9"/><line x1="125.0" y1="472.5" x2="129.4" y2="472.5" stroke="#111" stroke-width="0.9"/><line x1="127.5" y1="449.1075" x2="127.5" y2="448.69" stroke="#111" stroke-width="0.9"/><line x1="125.0" y1="448.5" x2="129.4" y2="448.5" stroke="#111" stroke-width="0.9"/><line x1="127.5" y1="420.3" x2="127.5" y2="416.125" stroke="#111" stroke-width="0.9"/><line x1="125.0" y1="416.5" x2="129.4" y2="416.5" stroke="#111" stroke-width="0.9"/><rect x="138.5" y="420.3" width="12.900000000000006" height="83.5" fill="#5b9bd5"/><rect x="138.5" y="435.7475" width="12.900000000000006" height="68.0525" fill="#9a9a9a"/><rect x="138.5" y="472.4875" width="12.900000000000006" height="31.3125" fill="#000"/><line x1="144.5" y1="472.4875" x2="144.5" y2="447.855" stroke="#111" stroke-width="0.9"/><line x1="142.75" y1="447.5" x2="147.14999999999998" y2="447.5" stroke="#111" stroke-width="0.9"/><line x1="144.5" y1="435.7475" x2="144.5" y2="414.8725" stroke="#111" stroke-width="0.9"/><line x1="142.75" y1="414.5" x2="147.14999999999998" y2="414.5" stroke="#111" stroke-width="0.9"/><line x1="144.5" y1="420.3" x2="144.5" y2="407.3575" stroke="#111" stroke-width="0.9"/><line x1="142.75" y1="407.5" x2="147.14999999999998" y2="407.5" stroke="#111" stroke-width="0.9"/><text x="18.2" y="453.4" font-size="11.2" stroke="#231f20" stroke-width="0.12" text-anchor="middle" textLength="42.5" lengthAdjust="spacingAndGlyphs" transform="rotate(-90 18.2 453.4)">Percentage</text><text x="8.6" y="517.3" font-size="9.5" stroke="#231f20" stroke-width="0.12" textLength="30.8" lengthAdjust="spacingAndGlyphs">Plating:</text><text x="54.6" y="517.4" font-size="9.8" stroke="#231f20" stroke-width="0.12" text-anchor="middle">1<tspan font-size="7" dy="-3.8">st</tspan></text><text x="72.7" y="517.4" font-size="9.8" stroke="#231f20" stroke-width="0.12" text-anchor="middle">2<tspan font-size="7" dy="-3.8">nd</tspan></text><text x="108.6" y="517.4" font-size="9.8" stroke="#231f20" stroke-width="0.12" text-anchor="middle">1<tspan font-size="7" dy="-3.8">st</tspan></text><text x="127.2" y="517.4" font-size="9.8" stroke="#231f20" stroke-width="0.12" text-anchor="middle">2<tspan font-size="7" dy="-3.8">nd</tspan></text><text x="145.0" y="517.4" font-size="9.8" stroke="#231f20" stroke-width="0.12" text-anchor="middle">3<tspan font-size="7" dy="-3.8">rd</tspan></text><line x1="45.5" y1="521.5" x2="80.6" y2="521.5" stroke="#231f20" stroke-width="0.9"/><line x1="100.0" y1="521.5" x2="153.8" y2="521.5" stroke="#231f20" stroke-width="0.9"/><text x="63.0" y="532.3" font-size="9.5" stroke="#231f20" stroke-width="0.12" text-anchor="middle">wt</text><text x="126.8" y="532.3" font-size="9.5" stroke="#231f20" stroke-width="0.12" text-anchor="middle">dnTCF4</text><rect x="67.0" y="539.9" width="10.7" height="8.5" fill="#5b9bd5"/><text x="81.0" y="547.1" font-size="9.3" stroke="#231f20" stroke-width="0.12" textLength="36" lengthAdjust="spacingAndGlyphs">Immature</text><rect x="67.0" y="552.8" width="10.7" height="8.5" fill="#9a9a9a"/><text x="81.0" y="560.0" font-size="9.3" stroke="#231f20" stroke-width="0.12" textLength="51.5" lengthAdjust="spacingAndGlyphs">Macrophages</text><rect x="67.0" y="565.9" width="10.7" height="8.5" fill="#000"/><text x="81.0" y="573.1" font-size="9.3" stroke="#231f20" stroke-width="0.12" textLength="44.5" lengthAdjust="spacingAndGlyphs">Neutrophils</text><text x="190.6" y="392.9" font-size="12.6" fill="#000" font-weight="bold">G</text><text x="250.5" y="402.0" font-size="11.5" stroke="#231f20" stroke-width="0.12" text-anchor="middle" textLength="52" lengthAdjust="spacingAndGlyphs">2<tspan font-size="7.2" dy="-4.2">nd</tspan><tspan dy="4.2"> plating</tspan></text><text x="203.9" y="453.5" font-size="10.5" stroke="#231f20" stroke-width="0.12" text-anchor="middle" textLength="9.6" lengthAdjust="spacingAndGlyphs" transform="rotate(-90 203.9 453.5)">wt</text><text x="204.0" y="533.3" font-size="10.5" stroke="#231f20" stroke-width="0.12" text-anchor="middle" textLength="31" lengthAdjust="spacingAndGlyphs" transform="rotate(-90 204.0 533.3)">dnTCF4</text><rect x="206.8" y="408.9" width="87.6" height="88.0" fill="#eee7c6"/><g clip-path="url(#g0)"><g filter="url(#gblur)"><circle cx="281.7" cy="417.3" r="5.3" fill="#d9c9c0"/><ellipse cx="284.2" cy="416.5" rx="2.2" ry="3.6" fill="#a04a98"/><circle cx="225.0" cy="428.8" r="6.2" fill="#e6d8c4" opacity="0.75"/><ellipse cx="225.0" cy="428.8" rx="2.84" ry="1.85" fill="none" stroke="#7a3280" stroke-width="1.58" transform="rotate(-25 225.0 428.8)"/><circle cx="230.3" cy="434.5" r="5.8" fill="#e6d8c4" opacity="0.75"/><ellipse cx="230.3" cy="434.5" rx="2.08" ry="2.52" fill="none" stroke="#964a8e" stroke-width="1.78"/><circle cx="214.4" cy="433.7" r="7.1" fill="#e6d8c4" opacity="0.75"/><ellipse cx="214.4" cy="433.7" rx="4.18" ry="1.76" fill="#964a8e" transform="rotate(-30 214.4 433.7)"/><circle cx="220.2" cy="436.3" r="5.6" fill="#e6d8c4" opacity="0.75"/><path d="M221.8 434.7A2.31 2.31 0 1 0 222.2 437.5" fill="none" stroke="#964a8e" stroke-width="1.98"/><circle cx="212.6" cy="441.6" r="4.7" fill="#e6d8c4" opacity="0.75"/><ellipse cx="212.6" cy="441.6" rx="1.98" ry="2.75" fill="#964a8e" transform="rotate(-20 212.6 441.6)"/><circle cx="220.2" cy="446.5" r="6.5" fill="#e6d8c4" opacity="0.75"/><ellipse cx="220.2" cy="446.5" rx="3.85" ry="1.87" fill="#964a8e" transform="rotate(20 220.2 446.5)"/><circle cx="243.5" cy="427.5" r="3.6" fill="#e6d8c4" opacity="0.75"/><ellipse cx="243.5" cy="427.5" rx="1.76" ry="2.09" fill="#964a8e"/><circle cx="246.2" cy="425.3" r="3.6" fill="#e6d8c4" opacity="0.75"/><ellipse cx="246.2" cy="425.3" rx="1.76" ry="2.09" fill="#964a8e"/><circle cx="246.3" cy="434.5" r="4.9" fill="#e6d8c4" opacity="0.75"/><ellipse cx="246.3" cy="434.5" rx="2.53" ry="2.86" fill="#7a3280"/><circle cx="210.4" cy="448.7" r="3.6" fill="#e6d8c4" opacity="0.75"/><ellipse cx="210.4" cy="448.7" rx="2.09" ry="2.09" fill="#964a8e"/><circle cx="250.6" cy="439.0" r="4.9" fill="#e6d8c4" opacity="0.75"/><ellipse cx="250.6" cy="439.0" rx="1.98" ry="2.86" fill="#964a8e"/><circle cx="264.5" cy="416.8" r="5.0" fill="#e6d8c4" opacity="0.75"/><ellipse cx="264.5" cy="416.8" rx="1.98" ry="2.97" fill="#964a8e"/><circle cx="265.4" cy="425.3" r="5.8" fill="#e6d8c4" opacity="0.75"/><ellipse cx="265.4" cy="425.3" rx="2.39" ry="2.39" fill="none" stroke="#964a8e" stroke-width="2.05"/><circle cx="276.4" cy="427.5" r="6.2" fill="#e6d8c4" opacity="0.75"/><path d="M278.2 425.7A2.54 2.54 0 1 0 278.6 428.8" fill="none" stroke="#964a8e" stroke-width="2.18"/><circle cx="284.8" cy="432.8" r="5.6" fill="#e6d8c4" opacity="0.75"/><ellipse cx="284.8" cy="432.8" rx="2.31" ry="2.31" fill="none" stroke="#964a8e" stroke-width="1.98"/><circle cx="278.2" cy="435.9" r="5.6" fill="#e6d8c4" opacity="0.75"/><ellipse cx="278.2" cy="435.9" rx="3.30" ry="2.09" fill="#964a8e"/><circle cx="260.5" cy="444.3" r="4.9" fill="#e6d8c4" opacity="0.75"/><ellipse cx="260.5" cy="444.3" rx="2.86" ry="2.86" fill="#964a8e"/><circle cx="251.4" cy="446.0" r="4.9" fill="#e6d8c4" opacity="0.75"/><ellipse cx="251.4" cy="446.0" rx="1.87" ry="2.86" fill="#964a8e"/><circle cx="214.8" cy="454.5" r="6.7" fill="#e6d8c4" opacity="0.75"/><ellipse cx="214.8" cy="454.5" rx="3.96" ry="1.87" fill="#964a8e" transform="rotate(20 214.8 454.5)"/><circle cx="218.8" cy="464.7" r="5.4" fill="#e6d8c4" opacity="0.75"/><ellipse cx="218.8" cy="464.7" rx="2.23" ry="2.23" fill="none" stroke="#964a8e" stroke-width="1.91"/><circle cx="219.7" cy="468.8" r="2.6" fill="#e6d8c4" opacity="0.75"/><ellipse cx="219.7" cy="468.8" rx="0.88" ry="1.54" fill="#964a8e"/><circle cx="231.7" cy="461.6" r="5.8" fill="#e6d8c4" opacity="0.75"/><ellipse cx="231.7" cy="461.6" rx="2.39" ry="2.39" fill="none" stroke="#964a8e" stroke-width="2.05"/><circle cx="246.3" cy="463.8" r="5.8" fill="#e6d8c4" opacity="0.75"/><ellipse cx="246.3" cy="463.8" rx="2.39" ry="2.39" fill="none" stroke="#a05098" stroke-width="2.05"/><circle cx="240.1" cy="473.6" r="6.2" fill="#e6d8c4" opacity="0.75"/><ellipse cx="240.1" cy="473.6" rx="2.87" ry="1.77" fill="none" stroke="#7a3280" stroke-width="1.52" transform="rotate(-10 240.1 473.6)"/><circle cx="212.2" cy="476.2" r="8.6" fill="#e6d8c4" opacity="0.75"/><ellipse cx="212.2" cy="476.2" rx="5.06" ry="2.09" fill="#5a2478" transform="rotate(-55 212.2 476.2)"/><circle cx="230.8" cy="475.8" r="6.2" fill="#e6d8c4" opacity="0.75"/><ellipse cx="230.8" cy="475.8" rx="3.63" ry="1.87" fill="#964a8e" transform="rotate(15 230.8 475.8)"/><circle cx="238.7" cy="481.5" r="5.4" fill="#e6d8c4" opacity="0.75"/><ellipse cx="238.7" cy="481.5" rx="2.23" ry="2.23" fill="none" stroke="#964a8e" stroke-width="1.91"/><circle cx="244.5" cy="489.0" r="5.4" fill="#e6d8c4" opacity="0.75"/><ellipse cx="244.5" cy="489.0" rx="2.23" ry="2.23" fill="none" stroke="#964a8e" stroke-width="1.91"/><circle cx="253.4" cy="454.5" r="5.8" fill="#e6d8c4" opacity="0.75"/><ellipse cx="253.4" cy="454.5" rx="2.39" ry="2.39" fill="none" stroke="#964a8e" stroke-width="2.05"/><circle cx="282.6" cy="459.4" r="5.8" fill="#e6d8c4" opacity="0.75"/><ellipse cx="282.6" cy="459.4" rx="2.52" ry="2.08" fill="none" stroke="#964a8e" stroke-width="1.78"/><circle cx="258.3" cy="467.4" r="5.8" fill="#e6d8c4" opacity="0.75"/><path d="M260.0 465.7A2.39 2.39 0 1 0 260.3 468.6" fill="none" stroke="#964a8e" stroke-width="2.05" transform="rotate(40 258.3 467.4)"/><circle cx="276.9" cy="467.8" r="5.6" fill="#e6d8c4" opacity="0.75"/><ellipse cx="276.9" cy="467.8" rx="1.76" ry="3.30" fill="#7a3280" transform="rotate(15 276.9 467.8)"/><circle cx="253.4" cy="471.8" r="5.0" fill="#e6d8c4" opacity="0.75"/><ellipse cx="253.4" cy="471.8" rx="1.98" ry="2.97" fill="#964a8e"/><circle cx="260.5" cy="474.9" r="6.2" fill="#e6d8c4" opacity="0.75"/><ellipse cx="260.5" cy="474.9" rx="2.54" ry="2.54" fill="none" stroke="#964a8e" stroke-width="2.18"/><circle cx="271.6" cy="478.0" r="5.8" fill="#e6d8c4" opacity="0.75"/><ellipse cx="271.6" cy="478.0" rx="2.39" ry="2.39" fill="none" stroke="#964a8e" stroke-width="2.05"/><circle cx="243.2" cy="467.4" r="0.8" fill="#b0602a"/></g><path d="M254.8 416.0L247.8 419.6L250.1 416.0L247.8 412.4Z" fill="#8f9bb0"/><path d="M287.8 421.2L295.5 422.9L291.4 424.2L290.8 428.5Z" fill="#8f9bb0"/><path d="M233.0 436.3L240.5 438.7L236.3 439.6L235.4 443.8Z" fill="#141414"/><path d="M267.5 436.5L267.2 428.6L269.5 432.2L273.7 431.7Z" fill="#141414"/><path d="M290.0 445.0L283.4 440.7L287.7 440.9L289.6 437.1Z" fill="#1c1c40"/><path d="M241.4 459.6L237.8 452.6L241.4 454.9L245.0 452.6Z" fill="#8f9bb0"/><path d="M234.8 467.4L242.3 469.8L238.1 470.7L237.2 474.9Z" fill="#141414"/><path d="M249.4 486.8L256.4 483.2L254.1 486.8L256.4 490.4Z" fill="#141414"/></g><rect x="277.3" y="491.3" width="14.0" height="2.5" fill="#111"/><rect x="206.8" y="408.9" width="87.6" height="88.0" fill="none" stroke="#111" stroke-width="1.6"/><rect x="206.8" y="501.9" width="87.6" height="89.0" fill="#eee7c6"/><g clip-path="url(#g1)"><g filter="url(#gblur)"><circle cx="232.1" cy="513.4" r="6.4" fill="#b4b0cc"/><circle cx="232.1" cy="513.4" r="5.0" fill="#8a5096"/><circle cx="230.6" cy="512.1" r="1.8" fill="#7a3a86"/><circle cx="233.8" cy="514.9" r="1.5" fill="#7e408a"/><circle cx="250.6" cy="523.1" r="5.9" fill="#b4b0cc"/><circle cx="250.6" cy="523.1" r="5.0" fill="#8a5096"/><circle cx="249.1" cy="521.9" r="1.8" fill="#7a3a86"/><circle cx="252.3" cy="524.6" r="1.5" fill="#7e408a"/><circle cx="252.3" cy="534.6" r="6.2" fill="#b4b0cc"/><circle cx="252.3" cy="534.6" r="5.3" fill="#8a5096"/><circle cx="250.7" cy="533.3" r="1.9" fill="#7a3a86"/><circle cx="254.2" cy="536.2" r="1.6" fill="#7e408a"/><circle cx="241.6" cy="540.0" r="6.5" fill="#b4b0cc"/><circle cx="241.6" cy="540.0" r="5.3" fill="#8a5096"/><circle cx="240.0" cy="538.7" r="1.9" fill="#7a3a86"/><circle cx="243.5" cy="541.6" r="1.6" fill="#7e408a"/><circle cx="270.7" cy="561.4" r="7.0" fill="#b4b0cc"/><circle cx="270.7" cy="561.4" r="5.4" fill="#8a5096"/><circle cx="269.1" cy="560.0" r="1.9" fill="#7a3a86"/><circle cx="272.6" cy="563.0" r="1.6" fill="#7e408a"/><circle cx="217.5" cy="581.3" r="6.2" fill="#e2d2c4"/><circle cx="243.2" cy="581.3" r="6.2" fill="#e6cfc8"/><circle cx="218.8" cy="558.3" r="2.6" fill="#e8c8a8"/><ellipse cx="218.4" cy="585.7" rx="3.1" ry="2.6" fill="#7d2a84"/><circle cx="243.6" cy="516.9" r="6.1" fill="#e6d8c4" opacity="0.75"/><ellipse cx="243.6" cy="516.9" rx="3.60" ry="3.30" fill="#84348a"/><circle cx="229.6" cy="524.5" r="4.2" fill="#e6d8c4" opacity="0.75"/><ellipse cx="229.6" cy="524.5" rx="1.75" ry="1.75" fill="none" stroke="#964a8e" stroke-width="1.50"/><circle cx="233.8" cy="524.2" r="4.2" fill="#e6d8c4" opacity="0.75"/><ellipse cx="233.8" cy="524.2" rx="1.75" ry="1.75" fill="none" stroke="#964a8e" stroke-width="1.50"/><circle cx="226.4" cy="545.0" r="5.1" fill="#e6d8c4" opacity="0.75"/><ellipse cx="226.4" cy="545.0" rx="3.00" ry="2.60" fill="#964a8e"/><circle cx="262.3" cy="529.3" r="5.6" fill="#e6d8c4" opacity="0.75"/><ellipse cx="262.3" cy="529.3" rx="2.31" ry="2.31" fill="none" stroke="#964a8e" stroke-width="1.98"/><circle cx="272.5" cy="537.7" r="5.6" fill="#e6d8c4" opacity="0.75"/><ellipse cx="272.5" cy="537.7" rx="2.55" ry="1.75" fill="none" stroke="#964a8e" stroke-width="1.50"/><circle cx="285.3" cy="539.0" r="5.6" fill="#e6d8c4" opacity="0.75"/><ellipse cx="285.3" cy="539.0" rx="2.31" ry="2.31" fill="none" stroke="#964a8e" stroke-width="1.98"/><circle cx="292.6" cy="536.4" r="4.8" fill="#e6d8c4" opacity="0.75"/><ellipse cx="292.6" cy="536.4" rx="1.82" ry="2.02" fill="none" stroke="#964a8e" stroke-width="1.56"/><circle cx="217.1" cy="550.8" r="6.1" fill="#e6d8c4" opacity="0.75"/><ellipse cx="217.1" cy="550.8" rx="3.30" ry="3.60" fill="#84348a"/><circle cx="226.4" cy="547.2" r="5.1" fill="#e6d8c4" opacity="0.75"/><ellipse cx="226.4" cy="547.2" rx="3.00" ry="2.60" fill="#964a8e"/><circle cx="247.2" cy="555.6" r="5.1" fill="#e6d8c4" opacity="0.75"/><ellipse cx="247.2" cy="555.6" rx="3.00" ry="2.70" fill="#84348a"/><circle cx="234.8" cy="563.1" r="5.3" fill="#e6d8c4" opacity="0.75"/><ellipse cx="234.8" cy="563.1" rx="2.90" ry="3.10" fill="#84348a"/><circle cx="232.1" cy="570.7" r="5.6" fill="#e6d8c4" opacity="0.75"/><ellipse cx="232.1" cy="570.7" rx="3.30" ry="3.00" fill="#84348a"/><circle cx="226.4" cy="588.6" r="5.1" fill="#e6d8c4" opacity="0.75"/><ellipse cx="226.4" cy="588.6" rx="3.00" ry="2.00" fill="#964a8e"/><circle cx="283.4" cy="547.7" r="3.9" fill="#e6d8c4" opacity="0.75"/><ellipse cx="283.4" cy="547.7" rx="1.61" ry="1.61" fill="none" stroke="#964a8e" stroke-width="1.38"/><circle cx="287.6" cy="547.7" r="3.9" fill="#e6d8c4" opacity="0.75"/><ellipse cx="287.6" cy="547.7" rx="1.61" ry="1.61" fill="none" stroke="#964a8e" stroke-width="1.38"/><circle cx="263.2" cy="555.2" r="5.1" fill="#e6d8c4" opacity="0.75"/><ellipse cx="263.2" cy="555.2" rx="3.00" ry="3.00" fill="#84348a"/><circle cx="277.3" cy="570.2" r="5.6" fill="#e6d8c4" opacity="0.75"/><ellipse cx="277.3" cy="570.2" rx="3.30" ry="3.30" fill="#84348a"/><circle cx="290.2" cy="576.9" r="5.1" fill="#e6d8c4" opacity="0.75"/><ellipse cx="290.2" cy="576.9" rx="2.10" ry="2.10" fill="none" stroke="#964a8e" stroke-width="1.80"/><circle cx="260.6" cy="587.5" r="3.9" fill="#e6d8c4" opacity="0.75"/><ellipse cx="260.6" cy="587.5" rx="1.61" ry="1.61" fill="none" stroke="#964a8e" stroke-width="1.38"/><circle cx="264.6" cy="587.5" r="3.9" fill="#e6d8c4" opacity="0.75"/><ellipse cx="264.6" cy="587.5" rx="1.61" ry="1.61" fill="none" stroke="#964a8e" stroke-width="1.38"/></g><path d="M225.0 511.4L218.0 515.0L220.3 511.4L218.0 507.8Z" fill="#3fa0ea"/><path d="M254.3 515.8L250.7 508.8L254.3 511.1L257.9 508.8Z" fill="#3fa0ea"/><path d="M266.7 524.5L267.8 516.7L269.4 520.7L273.7 520.8Z" fill="#141414"/><path d="M282.2 535.1L274.9 532.1L279.2 531.5L280.5 527.4Z" fill="#141414"/><path d="M257.0 541.6L264.5 544.0L260.3 544.9L259.4 549.1Z" fill="#3fa0ea"/><path d="M283.1 552.1L287.9 558.4L283.9 556.7L280.8 559.6Z" fill="#3fa0ea"/><path d="M234.5 553.4L227.5 557.0L229.8 553.4L227.5 549.8Z" fill="#8f9bb0"/><path d="M211.8 568.3L216.6 574.6L212.6 572.9L209.5 575.8Z" fill="#8f9bb0"/><path d="M236.3 572.9L243.3 569.3L241.0 572.9L243.3 576.5Z" fill="#8f9bb0"/></g><rect x="277.3" y="584.2" width="14.0" height="2.6" fill="#111"/><rect x="206.8" y="501.9" width="87.6" height="89.0" fill="none" stroke="#111" stroke-width="1.6"/><text x="7.7" y="604.9" font-size="12.6" fill="#000" font-weight="bold">H</text><text x="99.6" y="604.9" font-size="12.6" fill="#000" font-weight="bold">I</text><rect x="47.4" y="631.341875" width="13.899999999999999" height="77.158125" fill="#2e4b82"/><rect x="64.6" y="649.88375" width="13.100000000000009" height="58.61625" fill="#a6002d"/><line x1="45.5" y1="611.3" x2="45.5" y2="709.0" stroke="#231f20" stroke-width="1.0"/><line x1="42.6" y1="708.5" x2="80.5" y2="708.5" stroke="#231f20" stroke-width="1.0"/><line x1="42.6" y1="708.5" x2="45.6" y2="708.5" stroke="#231f20" stroke-width="1.0"/><text x="39.6" y="711.6" font-size="8.9" stroke="#231f20" stroke-width="0.12" text-anchor="end">0</text><line x1="42.6" y1="684.5" x2="45.6" y2="684.5" stroke="#231f20" stroke-width="1.0"/><text x="39.6" y="687.6750000000001" font-size="8.9" stroke="#231f20" stroke-width="0.12" text-anchor="end">20</text><line x1="42.6" y1="660.5" x2="45.6" y2="660.5" stroke="#231f20" stroke-width="1.0"/><text x="39.6" y="663.75" font-size="8.9" stroke="#231f20" stroke-width="0.12" text-anchor="end">40</text><line x1="42.6" y1="636.5" x2="45.6" y2="636.5" stroke="#231f20" stroke-width="1.0"/><text x="39.6" y="639.825" font-size="8.9" stroke="#231f20" stroke-width="0.12" text-anchor="end">60</text><line x1="42.6" y1="612.5" x2="45.6" y2="612.5" stroke="#231f20" stroke-width="1.0"/><text x="39.6" y="615.9" font-size="8.9" stroke="#231f20" stroke-width="0.12" text-anchor="end">80</text><line x1="54.5" y1="627.753125" x2="54.5" y2="634.3325" stroke="#111" stroke-width="0.95"/><line x1="52.5" y1="627.5" x2="56.099999999999994" y2="627.5" stroke="#111" stroke-width="0.95"/><line x1="52.5" y1="634.5" x2="56.099999999999994" y2="634.5" stroke="#111" stroke-width="0.95"/><line x1="71.5" y1="648.089375" x2="71.5" y2="651.678125" stroke="#111" stroke-width="0.95"/><line x1="69.4" y1="648.5" x2="73.0" y2="648.5" stroke="#111" stroke-width="0.95"/><line x1="69.4" y1="651.5" x2="73.0" y2="651.5" stroke="#111" stroke-width="0.95"/><circle cx="54.3" cy="628.949375" r="1.3" fill="#111"/><circle cx="53.5" cy="633.13625" r="1.3" fill="#111"/><circle cx="55" cy="631.341875" r="1.3" fill="#111"/><circle cx="71" cy="649.285625" r="1.3" fill="#111"/><circle cx="69" cy="648.6875" r="1.3" fill="#111"/><circle cx="73" cy="650.481875" r="1.3" fill="#111"/><line x1="47.7" y1="617.5" x2="76.6" y2="617.5" stroke="#1a1a1a" stroke-width="1.0"/><text x="62.15" y="619.4" font-size="10.5" text-anchor="middle" fill="#1a1a1a" font-weight="bold" letter-spacing="0.3">**</text><rect x="139.4" y="667.03" width="13.199999999999989" height="41.47" fill="#2e4b82"/><rect x="156.2" y="630.026" width="13.5" height="78.474" fill="#a6002d"/><line x1="136.5" y1="611.3" x2="136.5" y2="709.0" stroke="#231f20" stroke-width="1.0"/><line x1="133.9" y1="708.5" x2="173.7" y2="708.5" stroke="#231f20" stroke-width="1.0"/><line x1="133.9" y1="708.5" x2="136.9" y2="708.5" stroke="#231f20" stroke-width="1.0"/><text x="130.9" y="711.6" font-size="8.9" stroke="#231f20" stroke-width="0.12" text-anchor="end">0</text><line x1="133.9" y1="676.5" x2="136.9" y2="676.5" stroke="#231f20" stroke-width="1.0"/><text x="130.9" y="679.7" font-size="8.9" stroke="#231f20" stroke-width="0.12" text-anchor="end">5</text><line x1="133.9" y1="644.5" x2="136.9" y2="644.5" stroke="#231f20" stroke-width="1.0"/><text x="130.9" y="647.8000000000001" font-size="8.9" stroke="#231f20" stroke-width="0.12" text-anchor="end">10</text><line x1="133.9" y1="612.5" x2="136.9" y2="612.5" stroke="#231f20" stroke-width="1.0"/><text x="130.9" y="615.9" font-size="8.9" stroke="#231f20" stroke-width="0.12" text-anchor="end">15</text><line x1="146.5" y1="656.184" x2="146.5" y2="677.876" stroke="#111" stroke-width="0.95"/><line x1="144.2" y1="656.5" x2="147.8" y2="656.5" stroke="#111" stroke-width="0.95"/><line x1="144.2" y1="677.5" x2="147.8" y2="677.5" stroke="#111" stroke-width="0.95"/><line x1="163.5" y1="623.008" x2="163.5" y2="637.044" stroke="#111" stroke-width="0.95"/><line x1="161.2" y1="623.5" x2="164.8" y2="623.5" stroke="#111" stroke-width="0.95"/><line x1="161.2" y1="637.5" x2="164.8" y2="637.5" stroke="#111" stroke-width="0.95"/><circle cx="145.6" cy="662.564" r="1.3" fill="#111"/><circle cx="145.8" cy="677.876" r="1.3" fill="#111"/><circle cx="147" cy="668.944" r="1.3" fill="#111"/><circle cx="162.5" cy="624.284" r="1.3" fill="#111"/><circle cx="163" cy="632.578" r="1.3" fill="#111"/><circle cx="162" cy="628.112" r="1.3" fill="#111"/><line x1="138.7" y1="617.5" x2="168.6" y2="617.5" stroke="#1a1a1a" stroke-width="1.0"/><text x="153.64999999999998" y="619.4" font-size="10.5" text-anchor="middle" fill="#1a1a1a" font-weight="bold" letter-spacing="0.3">**</text><text x="54.349999999999994" y="720.6" font-size="9.5" stroke="#231f20" stroke-width="0.12" text-anchor="middle">wt</text><text x="146.0" y="720.6" font-size="9.5" stroke="#231f20" stroke-width="0.12" text-anchor="middle">wt</text><text x="71.15" y="720.6" font-size="9.5" stroke="#231f20" stroke-width="0.12" text-anchor="middle">dn</text><text x="162.95" y="720.6" font-size="9.5" stroke="#231f20" stroke-width="0.12" text-anchor="middle">dn</text><text x="22.0" y="659.8" font-size="10.8" stroke="#231f20" stroke-width="0.12" text-anchor="middle" textLength="70.5" lengthAdjust="spacingAndGlyphs" transform="rotate(-90 22.0 659.8)">% of Gr1<tspan font-size="7.5" dy="-4">+</tspan><tspan dy="4"> CD11b</tspan><tspan font-size="7.5" dy="-4">+</tspan></text><text x="113.2" y="659.2" font-size="10.8" stroke="#231f20" stroke-width="0.12" text-anchor="middle" textLength="59.5" lengthAdjust="spacingAndGlyphs" transform="rotate(-90 113.2 659.2)">% of c-Kit<tspan font-size="7.5" dy="-4">+</tspan><tspan dy="4"> cells</tspan></text><text x="322.9" y="393.0" font-size="12.6" fill="#000" font-weight="bold">J</text><text x="421.0" y="413.0" font-size="10.5" stroke="#231f20" stroke-width="0.12" text-anchor="middle" textLength="130" lengthAdjust="spacingAndGlyphs">Myeloblast - promyelocyte</text><text x="421.0" y="426.5" font-size="10.5" stroke="#231f20" stroke-width="0.12" text-anchor="middle">markers</text><line x1="343.0" y1="432.5" x2="497.7" y2="432.5" stroke="#231f20" stroke-width="1.0"/><text x="388.5" y="444.6" font-size="10.5" stroke="#231f20" stroke-width="0.12" text-anchor="middle" font-style="italic">Ela2</text><text x="455.4" y="444.6" font-size="10.5" stroke="#231f20" stroke-width="0.12" text-anchor="middle" font-style="italic">Ctsg</text><rect x="372.7" y="523.655" width="13.100000000000023" height="14.945000000000002" fill="#2e4b82"/><rect x="389.5" y="491.63" width="12.800000000000011" height="46.97" fill="#a6002d"/><line x1="367.5" y1="451.70000000000005" x2="367.5" y2="539.1" stroke="#231f20" stroke-width="1.0"/><line x1="364.6" y1="538.5" x2="407.0" y2="538.5" stroke="#231f20" stroke-width="1.0"/><line x1="364.6" y1="538.5" x2="367.6" y2="538.5" stroke="#231f20" stroke-width="1.0"/><text x="361.6" y="541.7" font-size="8.9" stroke="#231f20" stroke-width="0.12" text-anchor="end">0</text><line x1="364.6" y1="510.5" x2="367.6" y2="510.5" stroke="#231f20" stroke-width="1.0"/><text x="361.6" y="513.2333333333333" font-size="8.9" stroke="#231f20" stroke-width="0.12" text-anchor="end">2</text><line x1="364.6" y1="481.5" x2="367.6" y2="481.5" stroke="#231f20" stroke-width="1.0"/><text x="361.6" y="484.7666666666667" font-size="8.9" stroke="#231f20" stroke-width="0.12" text-anchor="end">4</text><line x1="364.6" y1="453.5" x2="367.6" y2="453.5" stroke="#231f20" stroke-width="1.0"/><text x="361.6" y="456.30000000000007" font-size="8.9" stroke="#231f20" stroke-width="0.12" text-anchor="end">6</text><line x1="379.5" y1="516.5383333333334" x2="379.5" y2="530.7716666666666" stroke="#111" stroke-width="0.95"/><line x1="377.4" y1="516.5" x2="381.0" y2="516.5" stroke="#111" stroke-width="0.95"/><line x1="377.4" y1="530.5" x2="381.0" y2="530.5" stroke="#111" stroke-width="0.95"/><line x1="395.5" y1="477.3966666666667" x2="395.5" y2="505.86333333333334" stroke="#111" stroke-width="0.95"/><line x1="394.09999999999997" y1="477.5" x2="397.7" y2="477.5" stroke="#111" stroke-width="0.95"/><line x1="394.09999999999997" y1="505.5" x2="397.7" y2="505.5" stroke="#111" stroke-width="0.95"/><circle cx="378" cy="517.25" r="1.3" fill="#111"/><circle cx="381.5" cy="517.25" r="1.3" fill="#111"/><circle cx="377" cy="524.3666666666667" r="1.3" fill="#111"/><circle cx="382.5" cy="524.3666666666667" r="1.3" fill="#111"/><circle cx="380" cy="535.0416666666667" r="1.3" fill="#111"/><circle cx="395.5" cy="470.9916666666667" r="1.3" fill="#111"/><circle cx="392.5" cy="491.63" r="1.3" fill="#111"/><circle cx="399" cy="490.91833333333335" r="1.3" fill="#111"/><circle cx="396" cy="499.45833333333337" r="1.3" fill="#111"/><circle cx="396" cy="510.1333333333333" r="1.3" fill="#111"/><line x1="373" y1="461.5" x2="402" y2="461.5" stroke="#1a1a1a" stroke-width="1.0"/><text x="387.5" y="462.8285714285714" font-size="9" text-anchor="middle" fill="#1a1a1a" font-weight="bold" letter-spacing="0.3">**</text><rect x="439.5" y="523.7973333333333" width="13.5" height="14.802666666666669" fill="#2e4b82"/><rect x="456.6" y="493.6226666666667" width="13.199999999999989" height="44.97733333333334" fill="#a6002d"/><line x1="435.5" y1="451.70000000000005" x2="435.5" y2="539.1" stroke="#231f20" stroke-width="1.0"/><line x1="432.1" y1="538.5" x2="475.5" y2="538.5" stroke="#231f20" stroke-width="1.0"/><line x1="432.1" y1="538.5" x2="435.1" y2="538.5" stroke="#231f20" stroke-width="1.0"/><text x="429.1" y="541.7" font-size="8.9" stroke="#231f20" stroke-width="0.12" text-anchor="end">0</text><line x1="432.1" y1="510.5" x2="435.1" y2="510.5" stroke="#231f20" stroke-width="1.0"/><text x="429.1" y="513.2333333333333" font-size="8.9" stroke="#231f20" stroke-width="0.12" text-anchor="end">1</text><line x1="432.1" y1="481.5" x2="435.1" y2="481.5" stroke="#231f20" stroke-width="1.0"/><text x="429.1" y="484.7666666666667" font-size="8.9" stroke="#231f20" stroke-width="0.12" text-anchor="end">2</text><line x1="432.1" y1="453.5" x2="435.1" y2="453.5" stroke="#231f20" stroke-width="1.0"/><text x="429.1" y="456.30000000000007" font-size="8.9" stroke="#231f20" stroke-width="0.12" text-anchor="end">3</text><line x1="446.5" y1="507.856" x2="446.5" y2="538.6" stroke="#111" stroke-width="0.95"/><line x1="444.5" y1="507.5" x2="448.1" y2="507.5" stroke="#111" stroke-width="0.95"/><line x1="444.5" y1="538.5" x2="448.1" y2="538.5" stroke="#111" stroke-width="0.95"/><line x1="463.5" y1="473.696" x2="463.5" y2="512.4106666666667" stroke="#111" stroke-width="0.95"/><line x1="461.4" y1="473.5" x2="465.0" y2="473.5" stroke="#111" stroke-width="0.95"/><line x1="461.4" y1="512.5" x2="465.0" y2="512.5" stroke="#111" stroke-width="0.95"/><circle cx="446.5" cy="510.1333333333333" r="1.3" fill="#111"/><circle cx="447.5" cy="528.6366666666667" r="1.3" fill="#111"/><circle cx="445" cy="535.184" r="1.3" fill="#111"/><circle cx="447" cy="535.184" r="1.3" fill="#111"/><circle cx="464" cy="464.5866666666667" r="1.3" fill="#111"/><circle cx="462" cy="488.78333333333336" r="1.3" fill="#111"/><circle cx="463" cy="498.74666666666667" r="1.3" fill="#111"/><circle cx="464.5" cy="508.71000000000004" r="1.3" fill="#111"/><circle cx="462" cy="514.4033333333333" r="1.3" fill="#111"/><line x1="439.3" y1="461.5" x2="470" y2="461.5" stroke="#1a1a1a" stroke-width="1.0"/><text x="454.65" y="462.8285714285714" font-size="9" text-anchor="middle" fill="#1a1a1a" font-weight="bold" letter-spacing="0">*</text><text x="379.25" y="550.7" font-size="9.5" stroke="#231f20" stroke-width="0.12" text-anchor="middle">wt</text><text x="446.25" y="550.7" font-size="9.5" stroke="#231f20" stroke-width="0.12" text-anchor="middle">wt</text><text x="395.9" y="550.7" font-size="9.5" stroke="#231f20" stroke-width="0.12" text-anchor="middle">dn</text><text x="463.20000000000005" y="550.7" font-size="9.5" stroke="#231f20" stroke-width="0.12" text-anchor="middle">dn</text><text x="349.6" y="499.6" font-size="9.5" stroke="#231f20" stroke-width="0.12" text-anchor="middle" transform="rotate(-90 349.6 499.6)">% <tspan font-style="italic">Actb</tspan></text><text x="421.2" y="582.7" font-size="10.7" stroke="#231f20" stroke-width="0.12" text-anchor="middle" textLength="88" lengthAdjust="spacingAndGlyphs">Mature neutrophil</text><text x="421.0" y="595.6" font-size="10.7" stroke="#231f20" stroke-width="0.12" text-anchor="middle" textLength="37.6" lengthAdjust="spacingAndGlyphs">markers</text><line x1="343.9" y1="602.5" x2="498.6" y2="602.5" stroke="#231f20" stroke-width="1.0"/><text x="388.4" y="614.8" font-size="10.5" stroke="#231f20" stroke-width="0.12" text-anchor="middle" font-style="italic">Cebpe</text><text x="461.4" y="614.8" font-size="10.5" stroke="#231f20" stroke-width="0.12" text-anchor="middle" font-style="italic" textLength="13" lengthAdjust="spacingAndGlyphs">Ltf</text><rect x="373.8" y="663.1275" width="12.800000000000011" height="45.4725" fill="#2e4b82"/><rect x="390.2" y="686.3925" width="12.800000000000011" height="22.207499999999996" fill="#a6002d"/><line x1="368.5" y1="622.5" x2="368.5" y2="709.1" stroke="#231f20" stroke-width="1.0"/><line x1="365.3" y1="708.5" x2="407.2" y2="708.5" stroke="#231f20" stroke-width="1.0"/><line x1="365.3" y1="708.5" x2="368.3" y2="708.5" stroke="#231f20" stroke-width="1.0"/><text x="362.3" y="711.7" font-size="8.9" stroke="#231f20" stroke-width="0.12" text-anchor="end">0.0</text><line x1="365.3" y1="687.5" x2="368.3" y2="687.5" stroke="#231f20" stroke-width="1.0"/><text x="362.3" y="690.5500000000001" font-size="8.9" stroke="#231f20" stroke-width="0.12" text-anchor="end">0.1</text><line x1="365.3" y1="666.5" x2="368.3" y2="666.5" stroke="#231f20" stroke-width="1.0"/><text x="362.3" y="669.4000000000001" font-size="8.9" stroke="#231f20" stroke-width="0.12" text-anchor="end">0.2</text><line x1="365.3" y1="645.5" x2="368.3" y2="645.5" stroke="#231f20" stroke-width="1.0"/><text x="362.3" y="648.2500000000001" font-size="8.9" stroke="#231f20" stroke-width="0.12" text-anchor="end">0.3</text><line x1="365.3" y1="624.5" x2="368.3" y2="624.5" stroke="#231f20" stroke-width="1.0"/><text x="362.3" y="627.1" font-size="8.9" stroke="#231f20" stroke-width="0.12" text-anchor="end">0.4</text><line x1="380.5" y1="645.1500000000001" x2="380.5" y2="680.0475" stroke="#111" stroke-width="0.95"/><line x1="378.4" y1="645.5" x2="382.0" y2="645.5" stroke="#111" stroke-width="0.95"/><line x1="378.4" y1="680.5" x2="382.0" y2="680.5" stroke="#111" stroke-width="0.95"/><line x1="396.5" y1="682.1625" x2="396.5" y2="689.565" stroke="#111" stroke-width="0.95"/><line x1="394.8" y1="682.5" x2="398.40000000000003" y2="682.5" stroke="#111" stroke-width="0.95"/><line x1="394.8" y1="689.5" x2="398.40000000000003" y2="689.5" stroke="#111" stroke-width="0.95"/><circle cx="379.5" cy="638.8050000000001" r="1.3" fill="#111"/><circle cx="379.7" cy="654.456" r="1.3" fill="#111"/><circle cx="379.5" cy="662.916" r="1.3" fill="#111"/><circle cx="377.8" cy="679.2015" r="1.3" fill="#111"/><circle cx="381.8" cy="679.2015" r="1.3" fill="#111"/><circle cx="394.5" cy="679.413" r="1.3" fill="#111"/><circle cx="398.75" cy="682.5855" r="1.3" fill="#111"/><circle cx="394" cy="687.45" r="1.3" fill="#111"/><circle cx="401" cy="687.45" r="1.3" fill="#111"/><circle cx="397" cy="691.2570000000001" r="1.3" fill="#111"/><line x1="373.8" y1="631.5" x2="403" y2="631.5" stroke="#1a1a1a" stroke-width="1.0"/><text x="388.4" y="632.8285714285714" font-size="9" text-anchor="middle" fill="#1a1a1a" font-weight="bold" letter-spacing="0">*</text><rect x="443.1" y="656.148" width="15.399999999999977" height="52.452" fill="#2e4b82"/><rect x="462.0" y="678.99" width="13.300000000000011" height="29.609999999999996" fill="#a6002d"/><line x1="439.5" y1="622.5" x2="439.5" y2="709.1" stroke="#231f20" stroke-width="1.0"/><line x1="436.5" y1="708.5" x2="476.3" y2="708.5" stroke="#231f20" stroke-width="1.0"/><line x1="436.5" y1="708.5" x2="439.5" y2="708.5" stroke="#231f20" stroke-width="1.0"/><text x="433.5" y="711.7" font-size="8.9" stroke="#231f20" stroke-width="0.12" text-anchor="end">0</text><line x1="436.5" y1="687.5" x2="439.5" y2="687.5" stroke="#231f20" stroke-width="1.0"/><text x="433.5" y="690.5500000000001" font-size="8.9" stroke="#231f20" stroke-width="0.12" text-anchor="end">5</text><line x1="436.5" y1="666.5" x2="439.5" y2="666.5" stroke="#231f20" stroke-width="1.0"/><text x="433.5" y="669.4000000000001" font-size="8.9" stroke="#231f20" stroke-width="0.12" text-anchor="end">10</text><line x1="436.5" y1="645.5" x2="439.5" y2="645.5" stroke="#231f20" stroke-width="1.0"/><text x="433.5" y="648.25" font-size="8.9" stroke="#231f20" stroke-width="0.12" text-anchor="end">15</text><line x1="436.5" y1="624.5" x2="439.5" y2="624.5" stroke="#231f20" stroke-width="1.0"/><text x="433.5" y="627.1" font-size="8.9" stroke="#231f20" stroke-width="0.12" text-anchor="end">20</text><line x1="451.5" y1="637.5360000000001" x2="451.5" y2="675.183" stroke="#111" stroke-width="0.95"/><line x1="449.8" y1="637.5" x2="453.40000000000003" y2="637.5" stroke="#111" stroke-width="0.95"/><line x1="449.8" y1="675.5" x2="453.40000000000003" y2="675.5" stroke="#111" stroke-width="0.95"/><line x1="468.5" y1="673.491" x2="468.5" y2="685.758" stroke="#111" stroke-width="0.95"/><line x1="466.8" y1="673.5" x2="470.40000000000003" y2="673.5" stroke="#111" stroke-width="0.95"/><line x1="466.8" y1="685.5" x2="470.40000000000003" y2="685.5" stroke="#111" stroke-width="0.95"/><circle cx="452.5" cy="632.46" r="1.3" fill="#111"/><circle cx="452.5" cy="642.1890000000001" r="1.3" fill="#111"/><circle cx="451.5" cy="657.417" r="1.3" fill="#111"/><circle cx="453" cy="669.6840000000001" r="1.3" fill="#111"/><circle cx="452" cy="678.144" r="1.3" fill="#111"/><circle cx="467" cy="673.068" r="1.3" fill="#111"/><circle cx="470.5" cy="673.068" r="1.3" fill="#111"/><circle cx="468.5" cy="679.836" r="1.3" fill="#111"/><circle cx="466" cy="684.912" r="1.3" fill="#111"/><circle cx="470" cy="684.912" r="1.3" fill="#111"/><circle cx="468.5" cy="691.2570000000001" r="1.3" fill="#111"/><line x1="443" y1="631.5" x2="474.5" y2="631.5" stroke="#1a1a1a" stroke-width="1.0"/><text x="458.75" y="632.8285714285714" font-size="9" text-anchor="middle" fill="#1a1a1a" font-weight="bold" letter-spacing="0">*</text><text x="380.20000000000005" y="720.7" font-size="9.5" stroke="#231f20" stroke-width="0.12" text-anchor="middle">wt</text><text x="450.8" y="720.7" font-size="9.5" stroke="#231f20" stroke-width="0.12" text-anchor="middle">wt</text><text x="396.6" y="720.7" font-size="9.5" stroke="#231f20" stroke-width="0.12" text-anchor="middle">dn</text><text x="468.65" y="720.7" font-size="9.5" stroke="#231f20" stroke-width="0.12" text-anchor="middle">dn</text><text x="341.5" y="667.7" font-size="9.5" stroke="#231f20" stroke-width="0.12" text-anchor="middle" transform="rotate(-90 341.5 667.7)">% <tspan font-style="italic">Actb</tspan></text><rect x="0.5" y="0.5" width="519" height="727" fill="none" stroke="#000" stroke-width="1.2"/></svg></body></html>
